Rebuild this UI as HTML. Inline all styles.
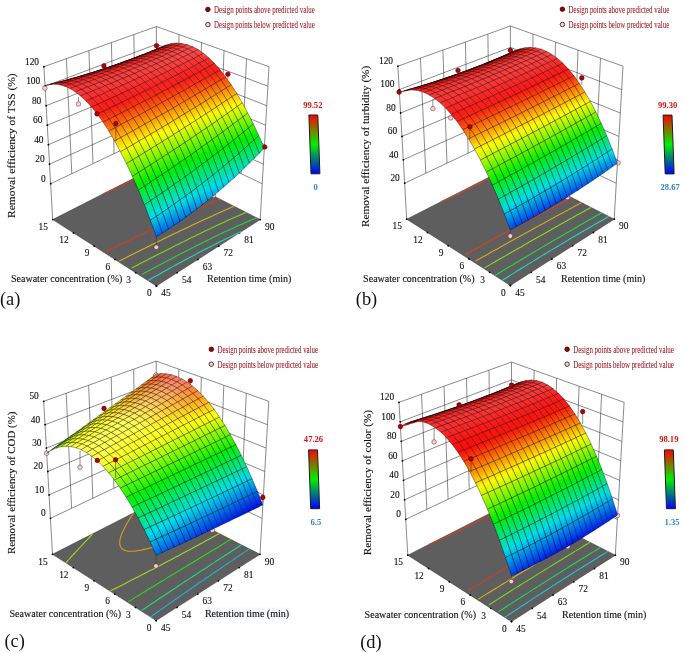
<!DOCTYPE html>
<html><head><meta charset="utf-8"><title>Response surfaces</title><style>html,body{margin:0;padding:0;background:#fff}svg{display:block}</style></head><body>
<svg width="685" height="652" viewBox="0 0 685 652" font-family="'Liberation Serif','Times New Roman',serif" fill="#111">
<defs><linearGradient id="T" gradientUnits="userSpaceOnUse"/><linearGradient id="cb" x1="0" y1="0" x2="0" y2="1"><stop offset="0" stop-color="#ff0000"/><stop offset="0.5" stop-color="#00f000"/><stop offset="1" stop-color="#0000ff"/></linearGradient>
<style>.m path{stroke:#000;stroke-opacity:.72;stroke-width:.5;stroke-linejoin:round}</style></defs>
<rect width="685" height="652" fill="#fff"/>
<g><path d="M52.7,219.6 L156.4,286 L260.2,219.6 L156.4,166.7 Z" fill="#5e5e5e" stroke="#333" stroke-width="0.5"/>
<path d="M50.7,183.7 L156.4,133.6 M156.4,133.6 L262.2,183.7 M49.5,164.2 L156.4,115.7 M156.4,115.7 L263.4,164.2 M48.4,144.7 L156.4,97.9 M156.4,97.9 L264.5,144.7 M47.3,125.2 L156.4,80 M156.4,80 L265.6,125.2 M46.2,105.7 L156.4,62.2 M156.4,62.2 L266.7,105.7 M45.1,86.2 L156.4,44.3 M156.4,44.3 L267.8,86.2 M43.9,66.7 L156.4,26.5 M156.4,26.5 L269,66.7 M71.8,173.7 L66.4,58.7 M241.1,173.7 L246.5,58.7 M93,163.6 L88.9,50.6 M219.9,163.6 L224,50.6 M114.1,153.6 L111.4,42.6 M198.8,153.6 L201.5,42.6 M135.3,143.6 L133.9,34.5 M177.6,143.6 L179,34.5 M52.7,219.6 L43.9,66.7 M156.4,166.7 L156.4,26.5 M260.2,219.6 L269,66.7" fill="none" stroke="#2a2a2a" stroke-width="0.55"/>
<circle cx="50.7" cy="183.7" r="0.9" fill="#000"/>
<circle cx="49.5" cy="164.2" r="0.9" fill="#000"/>
<circle cx="48.4" cy="144.7" r="0.9" fill="#000"/>
<circle cx="47.3" cy="125.2" r="0.9" fill="#000"/>
<circle cx="46.2" cy="105.7" r="0.9" fill="#000"/>
<circle cx="45.1" cy="86.2" r="0.9" fill="#000"/>
<circle cx="43.9" cy="66.7" r="0.9" fill="#000"/>
<circle cx="156.4" cy="286" r="0.9" fill="#000"/>
<circle cx="156.4" cy="286" r="0.9" fill="#000"/>
<circle cx="135.7" cy="272.7" r="0.9" fill="#000"/>
<circle cx="177.2" cy="272.7" r="0.9" fill="#000"/>
<circle cx="115" cy="259.4" r="0.9" fill="#000"/>
<circle cx="197.9" cy="259.4" r="0.9" fill="#000"/>
<circle cx="94.2" cy="246.2" r="0.9" fill="#000"/>
<circle cx="218.7" cy="246.2" r="0.9" fill="#000"/>
<circle cx="73.5" cy="232.9" r="0.9" fill="#000"/>
<circle cx="239.4" cy="232.9" r="0.9" fill="#000"/>
<circle cx="52.7" cy="219.6" r="0.9" fill="#000"/>
<circle cx="260.2" cy="219.6" r="0.9" fill="#000"/>
<path d="M241.5,231.6 L239.4,232.5 L236.5,233.8 L234.6,234.7 L231.8,236.1 L228.9,237.4 L227,238.3 L224.2,239.7 L221.3,241.1 L219.4,242.1 L216.6,243.5 L213.7,244.9 L211.8,245.9 L208.9,247.4 L206.1,248.8 L203.2,250.3 L201.3,251.3 L198.4,252.8 L195.5,254.4 L192.6,255.9 L190.7,256.9 L187.8,258.5 L184.8,260.1 L181.9,261.7 L179,263.3 L177,264.3 L174,265.9 L171.1,267.6 L168.1,269.2 L165.1,270.9 L163.1,272 L160.1,273.7 L157.1,275.4 L154,277.1 L151,278.8 L147.9,280.5" fill="none" stroke="#1cd8b8" stroke-width="1.1"/>
<path d="M256.7,217.9 L254.8,218.7 L251.9,219.8 L250,220.6 L247.1,221.8 L244.7,222.8 L242.3,223.9 L239.5,225.1 L237.6,226 L234.8,227.3 L232.8,228.2 L230.1,229.4 L227.2,230.8 L225.3,231.6 L222.5,233 L219.7,234.3 L217.8,235.3 L214.9,236.6 L212.1,238 L210.2,239 L207.3,240.4 L204.5,241.8 L201.7,243.2 L199.7,244.2 L196.8,245.6 L193.9,247.1 L192,248.1 L189.1,249.6 L186.2,251.1 L183.2,252.6 L181.3,253.6 L178.3,255.1 L175.4,256.6 L172.4,258.2 L170.1,259.4 L167.4,260.8 L164.4,262.4 L161.4,264 L158.4,265.6 L156.4,266.7 L153.3,268.3 L150.3,269.9 L147.2,271.6 L144.1,273.2 L142.1,274.3" fill="none" stroke="#1cd844" stroke-width="1.1"/>
<path d="M245.9,212.4 L244.1,213.2 L241.3,214.4 L239.5,215.2 L236.7,216.4 L234.2,217.5 L232,218.5 L229.3,219.8 L227.4,220.6 L224.6,221.9 L221.8,223.2 L220,224 L217.2,225.3 L214.4,226.7 L212.5,227.5 L209.7,228.9 L206.8,230.2 L204.9,231.1 L202.1,232.5 L199.3,233.9 L197.3,234.8 L194.5,236.2 L191.6,237.6 L188.7,239 L186.8,239.9 L183.9,241.4 L181,242.8 L178.8,243.9 L176.2,245.2 L173.2,246.7 L170.3,248.2 L168.3,249.2 L165.3,250.7 L162.4,252.2 L159.4,253.7 L157.4,254.7 L154.4,256.2 L151.3,257.8 L148.3,259.4 L145.3,260.9 L143.2,262 L140.1,263.6 L137.1,265.2 L134,266.8 L131.9,267.9" fill="none" stroke="#79d81c" stroke-width="1.1"/>
<path d="M234,206.3 L232.1,207.1 L229.4,208.3 L227.6,209.1 L224.8,210.3 L222.1,211.5 L220.3,212.3 L217.5,213.6 L214.7,214.8 L212.9,215.7 L210.1,216.9 L207.3,218.2 L205.5,219 L202.7,220.3 L199.9,221.6 L198,222.5 L195.2,223.8 L192.4,225.1 L190.5,226 L187.6,227.4 L184.8,228.7 L182.9,229.6 L180,231 L177.1,232.4 L174.2,233.8 L172.3,234.7 L169.4,236.1 L166.5,237.5 L164.3,238.6 L161.6,239.9 L158.7,241.3 L155.7,242.8 L153.7,243.8 L150.7,245.2 L147.8,246.7 L144.8,248.2 L142.6,249.2 L139.7,250.7 L136.7,252.2 L133.7,253.7 L130.6,255.3 L128.6,256.3 L125.5,257.9 L122.4,259.4 L119.3,261" fill="none" stroke="#d4b31c" stroke-width="1.1"/>
<path d="M103.6,193.7 L105.8,192.7 L108.5,191.5 L111.2,190.3 L113.9,189.1 L116.6,187.8 L118.6,186.9 L121,185.8 L123.6,184.5 L126.1,183.3 L128.7,182 L131.2,180.8 L133.7,179.6 L136.2,178.3 L138.6,177.1 L141,175.8 L143.4,174.6 L145.8,173.4 L148.1,172.1 L150.4,170.9 L152.7,169.6 L155,168.4 L157.3,167.2" fill="none" stroke="#d43d1c" stroke-width="1.1"/>
<path d="M220.1,199.2 L217.4,200.4 L215.5,201.1 L212.8,202.3 L210.1,203.5 L208.2,204.3 L205.4,205.5 L203.6,206.3 L200.8,207.5 L198,208.7 L196.2,209.5 L193.4,210.7 L190.6,211.9 L188.7,212.8 L185.9,214 L183.1,215.3 L181.2,216.1 L178.3,217.4 L175.5,218.7 L173.6,219.6 L170.7,220.9 L167.9,222.2 L165.9,223.1 L163.1,224.4 L160.2,225.7 L157.9,226.8 L155.3,228 L152.4,229.3 L149.5,230.7 L147.5,231.6 L144.6,233 L141.6,234.4 L138.7,235.9 L136.7,236.8 L133.7,238.2 L130.7,239.7 L127.7,241.1 L125.7,242.1 L122.7,243.6 L119.7,245.1 L116.7,246.6 L113.6,248.1 L111.6,249.1 L108.5,250.7 L105.5,252.2" fill="none" stroke="#d43d1c" stroke-width="1.1"/>
<path d="M44.8,88.2 L44.8,85.9" stroke="#333" stroke-width="0.55"/>
<circle cx="44.8" cy="88.2" r="2.3" fill="#ffc9cf" stroke="#5a3030" stroke-width="0.5"/>
<path d="M78.5,104 L78.5,97" stroke="#333" stroke-width="0.55"/>
<circle cx="78.5" cy="104" r="2.3" fill="#ffc9cf" stroke="#5a3030" stroke-width="0.5"/>
<path d="M156.3,247.2 L156.3,236.7" stroke="#333" stroke-width="0.55"/>
<circle cx="156.3" cy="247.2" r="2.3" fill="#ffc9cf" stroke="#5a3030" stroke-width="0.5"/>

<circle cx="213.5" cy="195.5" r="2.3" fill="#ffc9cf" stroke="#5a3030" stroke-width="0.5"/>
<defs><linearGradient id="a1" href="#T" x1="135.9" y1="57.4" x2="136.2" y2="58.3"><stop stop-color="#fd0403"/><stop offset="1" stop-color="#fb3701"/></linearGradient><linearGradient id="a2" href="#T" x1="130.7" y1="59.4" x2="131" y2="60.2"><stop stop-color="#fd0403"/><stop offset="1" stop-color="#fb3601"/></linearGradient><linearGradient id="a3" href="#T" x1="125.4" y1="61.3" x2="125.7" y2="62.2"><stop stop-color="#fd0403"/><stop offset="1" stop-color="#fb3601"/></linearGradient><linearGradient id="a4" href="#T" x1="120" y1="63.2" x2="120.3" y2="64.1"><stop stop-color="#fd0303"/><stop offset="1" stop-color="#fb3401"/></linearGradient><linearGradient id="a5" href="#T" x1="114.6" y1="65.1" x2="114.9" y2="65.9"><stop stop-color="#fd0303"/><stop offset="1" stop-color="#fc3201"/></linearGradient><linearGradient id="a6" href="#T" x1="109.1" y1="67" x2="109.4" y2="67.8"><stop stop-color="#fd0303"/><stop offset="1" stop-color="#fc2f01"/></linearGradient><linearGradient id="a7" href="#T" x1="103.6" y1="68.8" x2="103.8" y2="69.6"><stop stop-color="#fd0303"/><stop offset="1" stop-color="#fc2c01"/></linearGradient><linearGradient id="a8" href="#T" x1="98" y1="70.7" x2="98.2" y2="71.4"><stop stop-color="#fe0304"/><stop offset="1" stop-color="#fc2801"/></linearGradient><linearGradient id="a9" href="#T" x1="92.3" y1="72.4" x2="92.5" y2="73.1"><stop stop-color="#fe0404"/><stop offset="1" stop-color="#fc2301"/></linearGradient><linearGradient id="a10" href="#T" x1="86.6" y1="74.2" x2="86.8" y2="74.8"><stop stop-color="#fe0404"/><stop offset="1" stop-color="#fc1e01"/></linearGradient><linearGradient id="a11" href="#T" x1="80.8" y1="75.9" x2="80.9" y2="76.5"><stop stop-color="#fe0404"/><stop offset="1" stop-color="#fc1901"/></linearGradient><linearGradient id="a12" href="#T" x1="74.9" y1="77.7" x2="75" y2="78.1"><stop stop-color="#ff0405"/><stop offset="1" stop-color="#fc1302"/></linearGradient><linearGradient id="a13" href="#T" x1="68.9" y1="79.3" x2="69" y2="79.7"><stop stop-color="#ff0405"/><stop offset="1" stop-color="#fc0c02"/></linearGradient><linearGradient id="a14" href="#T" x1="102.1" y1="69.6" x2="102.5" y2="70.7"><stop stop-color="#ff0909"/><stop offset="1" stop-color="#ff1313"/></linearGradient><linearGradient id="a15" href="#T" x1="96.7" y1="72.7" x2="96.3" y2="71.5"><stop stop-color="#ff1414"/><stop offset="1" stop-color="#ff0909"/></linearGradient><linearGradient id="a16" href="#T" x1="90.4" y1="73.4" x2="90.8" y2="74.7"><stop stop-color="#ff0a0a"/><stop offset="1" stop-color="#ff1414"/></linearGradient><linearGradient id="a17" href="#T" x1="84.5" y1="75.3" x2="84.9" y2="76.7"><stop stop-color="#ff0a0a"/><stop offset="1" stop-color="#ff1515"/></linearGradient><linearGradient id="a18" href="#T" x1="78.5" y1="77.2" x2="78.9" y2="78.7"><stop stop-color="#ff0b0b"/><stop offset="1" stop-color="#ff1616"/></linearGradient><linearGradient id="a19" href="#T" x1="72.4" y1="79" x2="72.9" y2="80.6"><stop stop-color="#ff0c0c"/><stop offset="1" stop-color="#ff1717"/></linearGradient><linearGradient id="a20" href="#T" x1="66.7" y1="82.6" x2="66.2" y2="80.8"><stop stop-color="#ff1818"/><stop offset="1" stop-color="#ff0c0c"/></linearGradient><linearGradient id="a21" href="#T" x1="60" y1="82.6" x2="60.5" y2="84.5"><stop stop-color="#ff0d0d"/><stop offset="1" stop-color="#ff1919"/></linearGradient><linearGradient id="a22" href="#T" x1="171.4" y1="43.7" x2="172.1" y2="45.2"><stop stop-color="#ff0e0e"/><stop offset="1" stop-color="#ff1b1b"/></linearGradient><linearGradient id="a23" href="#T" x1="167" y1="47.4" x2="166.4" y2="45.9"><stop stop-color="#ff1b1b"/><stop offset="1" stop-color="#ff0e0e"/></linearGradient><linearGradient id="a24" href="#T" x1="161.3" y1="48.1" x2="161.9" y2="49.6"><stop stop-color="#ff0e0e"/><stop offset="1" stop-color="#ff1c1c"/></linearGradient><linearGradient id="a25" href="#T" x1="156.8" y1="51.8" x2="156.1" y2="50.2"><stop stop-color="#ff1c1c"/><stop offset="1" stop-color="#ff0e0e"/></linearGradient><linearGradient id="a26" href="#T" x1="151.6" y1="54" x2="150.9" y2="52.4"><stop stop-color="#ff1c1c"/><stop offset="1" stop-color="#ff0f0f"/></linearGradient><linearGradient id="a27" href="#T" x1="145.6" y1="54.5" x2="146.3" y2="56.2"><stop stop-color="#ff0f0f"/><stop offset="1" stop-color="#ff1d1d"/></linearGradient><linearGradient id="a28" href="#T" x1="141" y1="58.3" x2="140.3" y2="56.6"><stop stop-color="#ff1d1d"/><stop offset="1" stop-color="#ff0f0f"/></linearGradient><linearGradient id="a29" href="#T" x1="135.6" y1="60.5" x2="134.9" y2="58.7"><stop stop-color="#ff1e1e"/><stop offset="1" stop-color="#ff1010"/></linearGradient><linearGradient id="a30" href="#T" x1="129.5" y1="60.8" x2="130.1" y2="62.6"><stop stop-color="#ff1010"/><stop offset="1" stop-color="#ff1e1e"/></linearGradient><linearGradient id="a31" href="#T" x1="124" y1="62.9" x2="124.6" y2="64.8"><stop stop-color="#ff1111"/><stop offset="1" stop-color="#ff1f1f"/></linearGradient><linearGradient id="a32" href="#T" x1="118.4" y1="65" x2="119.1" y2="66.9"><stop stop-color="#ff1111"/><stop offset="1" stop-color="#ff2020"/></linearGradient><linearGradient id="a33" href="#T" x1="113.4" y1="69.1" x2="112.7" y2="67.1"><stop stop-color="#ff2020"/><stop offset="1" stop-color="#ff1212"/></linearGradient><linearGradient id="a34" href="#T" x1="107" y1="69.1" x2="107.7" y2="71.2"><stop stop-color="#ff1212"/><stop offset="1" stop-color="#ff2121"/></linearGradient><linearGradient id="a35" href="#T" x1="101.2" y1="71.2" x2="101.9" y2="73.3"><stop stop-color="#ff1313"/><stop offset="1" stop-color="#ff2222"/></linearGradient><linearGradient id="a36" href="#T" x1="96.1" y1="75.4" x2="95.3" y2="73.2"><stop stop-color="#ff2323"/><stop offset="1" stop-color="#ff1414"/></linearGradient><linearGradient id="a37" href="#T" x1="89.4" y1="75.2" x2="90.1" y2="77.5"><stop stop-color="#ff1515"/><stop offset="1" stop-color="#ff2323"/></linearGradient><linearGradient id="a38" href="#T" x1="83.4" y1="77.2" x2="84.1" y2="79.6"><stop stop-color="#ff1515"/><stop offset="1" stop-color="#ff2424"/></linearGradient><linearGradient id="a39" href="#T" x1="77.3" y1="79.2" x2="78.1" y2="81.7"><stop stop-color="#ff1616"/><stop offset="1" stop-color="#ff2525"/></linearGradient><linearGradient id="a40" href="#T" x1="71.9" y1="83.8" x2="71.1" y2="81.1"><stop stop-color="#ff2525"/><stop offset="1" stop-color="#ff1717"/></linearGradient><linearGradient id="a41" href="#T" x1="65.7" y1="85.9" x2="64.9" y2="83.1"><stop stop-color="#ff2626"/><stop offset="1" stop-color="#ff1818"/></linearGradient><linearGradient id="a42" href="#T" x1="177.5" y1="45.6" x2="176.5" y2="43.3"><stop stop-color="#ff2d2d"/><stop offset="1" stop-color="#ff1b1b"/></linearGradient><linearGradient id="a43" href="#T" x1="172.4" y1="47.8" x2="171.4" y2="45.5"><stop stop-color="#ff2d2d"/><stop offset="1" stop-color="#ff1b1b"/></linearGradient><linearGradient id="a44" href="#T" x1="167.3" y1="50.1" x2="166.3" y2="47.7"><stop stop-color="#ff2d2d"/><stop offset="1" stop-color="#ff1b1b"/></linearGradient><linearGradient id="a45" href="#T" x1="161.2" y1="49.9" x2="162.2" y2="52.3"><stop stop-color="#ff1c1c"/><stop offset="1" stop-color="#ff2e2e"/></linearGradient><linearGradient id="a46" href="#T" x1="156" y1="52.2" x2="157" y2="54.6"><stop stop-color="#ff1c1c"/><stop offset="1" stop-color="#ff2e2e"/></linearGradient><linearGradient id="a47" href="#T" x1="150.7" y1="54.4" x2="151.7" y2="56.8"><stop stop-color="#ff1c1c"/><stop offset="1" stop-color="#ff2e2e"/></linearGradient><linearGradient id="a48" href="#T" x1="146.4" y1="59.1" x2="145.3" y2="56.6"><stop stop-color="#ff2f2f"/><stop offset="1" stop-color="#ff1d1d"/></linearGradient><linearGradient id="a49" href="#T" x1="139.9" y1="58.7" x2="141" y2="61.3"><stop stop-color="#ff1d1d"/><stop offset="1" stop-color="#ff2f2f"/></linearGradient><linearGradient id="a50" href="#T" x1="135.5" y1="63.6" x2="134.5" y2="60.9"><stop stop-color="#ff2f2f"/><stop offset="1" stop-color="#ff1e1e"/></linearGradient><linearGradient id="a51" href="#T" x1="130" y1="65.8" x2="129" y2="63.1"><stop stop-color="#ff3030"/><stop offset="1" stop-color="#ff1e1e"/></linearGradient><linearGradient id="a52" href="#T" x1="123.4" y1="65.3" x2="124.4" y2="68.1"><stop stop-color="#ff1f1f"/><stop offset="1" stop-color="#ff3030"/></linearGradient><linearGradient id="a53" href="#T" x1="118.8" y1="70.3" x2="117.7" y2="67.4"><stop stop-color="#ff3030"/><stop offset="1" stop-color="#ff2020"/></linearGradient><linearGradient id="a54" href="#T" x1="112" y1="69.6" x2="113" y2="72.5"><stop stop-color="#ff2020"/><stop offset="1" stop-color="#ff3131"/></linearGradient><linearGradient id="a55" href="#T" x1="107.3" y1="74.8" x2="106.2" y2="71.7"><stop stop-color="#ff3131"/><stop offset="1" stop-color="#ff2121"/></linearGradient><linearGradient id="a56" href="#T" x1="100.3" y1="73.9" x2="101.4" y2="77"><stop stop-color="#ff2222"/><stop offset="1" stop-color="#ff3131"/></linearGradient><linearGradient id="a57" href="#T" x1="95.5" y1="79.2" x2="94.4" y2="76"><stop stop-color="#ff3131"/><stop offset="1" stop-color="#ff2323"/></linearGradient><linearGradient id="a58" href="#T" x1="89.5" y1="81.5" x2="88.3" y2="78.1"><stop stop-color="#ff3131"/><stop offset="1" stop-color="#ff2323"/></linearGradient><linearGradient id="a59" href="#T" x1="83.4" y1="83.7" x2="82.2" y2="80.3"><stop stop-color="#ff3131"/><stop offset="1" stop-color="#ff2424"/></linearGradient><linearGradient id="a60" href="#T" x1="77.3" y1="85.9" x2="76.1" y2="82.4"><stop stop-color="#ff3131"/><stop offset="1" stop-color="#ff2525"/></linearGradient><linearGradient id="a61" href="#T" x1="71" y1="88.1" x2="69.8" y2="84.5"><stop stop-color="#ff3131"/><stop offset="1" stop-color="#ff2525"/></linearGradient><linearGradient id="a62" href="#T" x1="183" y1="46.7" x2="181.6" y2="43.7"><stop stop-color="#ff3e3e"/><stop offset="1" stop-color="#ff2d2d"/></linearGradient><linearGradient id="a63" href="#T" x1="176.5" y1="46" x2="177.9" y2="49.1"><stop stop-color="#ff2d2d"/><stop offset="1" stop-color="#ff3e3e"/></linearGradient><linearGradient id="a64" href="#T" x1="171.4" y1="48.2" x2="172.8" y2="51.4"><stop stop-color="#ff2d2d"/><stop offset="1" stop-color="#ff3e3e"/></linearGradient><linearGradient id="a65" href="#T" x1="166.2" y1="50.5" x2="167.7" y2="53.7"><stop stop-color="#ff2d2d"/><stop offset="1" stop-color="#ff3e3e"/></linearGradient><linearGradient id="a66" href="#T" x1="161" y1="52.8" x2="162.4" y2="56.1"><stop stop-color="#ff2e2e"/><stop offset="1" stop-color="#ff3e3e"/></linearGradient><linearGradient id="a67" href="#T" x1="157.2" y1="58.4" x2="155.7" y2="55.1"><stop stop-color="#ff3e3e"/><stop offset="1" stop-color="#ff2e2e"/></linearGradient><linearGradient id="a68" href="#T" x1="151.8" y1="60.7" x2="150.4" y2="57.4"><stop stop-color="#ff3d3d"/><stop offset="1" stop-color="#ff2e2e"/></linearGradient><linearGradient id="a69" href="#T" x1="146.4" y1="63.1" x2="145" y2="59.6"><stop stop-color="#ff3d3d"/><stop offset="1" stop-color="#ff2e2e"/></linearGradient><linearGradient id="a70" href="#T" x1="139.5" y1="61.9" x2="141" y2="65.4"><stop stop-color="#ff2f2f"/><stop offset="1" stop-color="#ff3d3d"/></linearGradient><linearGradient id="a71" href="#T" x1="135.5" y1="67.7" x2="134" y2="64.2"><stop stop-color="#ff3d3d"/><stop offset="1" stop-color="#ff2f2f"/></linearGradient><linearGradient id="a72" href="#T" x1="128.4" y1="66.4" x2="129.9" y2="70.1"><stop stop-color="#ff3030"/><stop offset="1" stop-color="#ff3c3c"/></linearGradient><linearGradient id="a73" href="#T" x1="124.2" y1="72.4" x2="122.7" y2="68.7"><stop stop-color="#ff3c3c"/><stop offset="1" stop-color="#ff3030"/></linearGradient><linearGradient id="a74" href="#T" x1="118.5" y1="74.8" x2="117" y2="70.9"><stop stop-color="#ff3b3b"/><stop offset="1" stop-color="#ff3030"/></linearGradient><linearGradient id="a75" href="#T" x1="112.8" y1="77.1" x2="111.1" y2="73.1"><stop stop-color="#ff3b3b"/><stop offset="1" stop-color="#ff3030"/></linearGradient><linearGradient id="a76" href="#T" x1="186.6" y1="44.9" x2="188.6" y2="48.9"><stop stop-color="#ff3e3e"/><stop offset="1" stop-color="#ff4848"/></linearGradient><linearGradient id="a77" href="#T" x1="123.5" y1="84.9" x2="121.9" y2="78.7"><stop stop-color="#ff3232"/><stop offset="1" stop-color="#ff3c3c"/></linearGradient><linearGradient id="a78" href="#T" x1="117.7" y1="87.5" x2="116.1" y2="81.1"><stop stop-color="#ff3030"/><stop offset="1" stop-color="#ff3a3a"/></linearGradient><linearGradient id="a79" href="#T" x1="111.7" y1="90.2" x2="110.1" y2="83.6"><stop stop-color="#ff2e2e"/><stop offset="1" stop-color="#ff3939"/></linearGradient><linearGradient id="a80" href="#T" x1="105.7" y1="92.8" x2="104.1" y2="86.1"><stop stop-color="#ff2c2c"/><stop offset="1" stop-color="#ff3737"/></linearGradient><linearGradient id="a81" href="#T" x1="99.6" y1="95.4" x2="98" y2="88.6"><stop stop-color="#ff2a2a"/><stop offset="1" stop-color="#ff3535"/></linearGradient><linearGradient id="a82" href="#T" x1="93.5" y1="98.1" x2="91.9" y2="91.2"><stop stop-color="#ff2828"/><stop offset="1" stop-color="#ff3434"/></linearGradient><linearGradient id="a83" href="#T" x1="85.6" y1="93.7" x2="87.2" y2="100.8"><stop stop-color="#ff3232"/><stop offset="1" stop-color="#ff2626"/></linearGradient><linearGradient id="a84" href="#T" x1="197.4" y1="49.9" x2="199.5" y2="55.7"><stop stop-color="#ff4747"/><stop offset="1" stop-color="#ff3b3b"/></linearGradient><linearGradient id="a85" href="#T" x1="192.3" y1="52.4" x2="194.4" y2="58.3"><stop stop-color="#ff4646"/><stop offset="1" stop-color="#ff3939"/></linearGradient><linearGradient id="a86" href="#T" x1="189.3" y1="60.8" x2="187.2" y2="54.9"><stop stop-color="#ff3737"/><stop offset="1" stop-color="#ff4444"/></linearGradient><linearGradient id="a87" href="#T" x1="182.1" y1="57.4" x2="184.2" y2="63.4"><stop stop-color="#ff4343"/><stop offset="1" stop-color="#ff3636"/></linearGradient><linearGradient id="a88" href="#T" x1="179" y1="66" x2="176.9" y2="59.9"><stop stop-color="#ff3434"/><stop offset="1" stop-color="#ff4242"/></linearGradient><linearGradient id="a89" href="#T" x1="171.6" y1="62.5" x2="173.7" y2="68.7"><stop stop-color="#ff4040"/><stop offset="1" stop-color="#ff3232"/></linearGradient><linearGradient id="a90" href="#T" x1="168.4" y1="71.3" x2="166.3" y2="65"><stop stop-color="#ff3131"/><stop offset="1" stop-color="#ff3f3f"/></linearGradient><linearGradient id="a91" href="#T" x1="163" y1="73.9" x2="160.9" y2="67.5"><stop stop-color="#ff2f2f"/><stop offset="1" stop-color="#ff3d3d"/></linearGradient><linearGradient id="a92" href="#T" x1="155.4" y1="70.1" x2="157.5" y2="76.6"><stop stop-color="#ff3c3c"/><stop offset="1" stop-color="#ff2d2d"/></linearGradient><linearGradient id="a93" href="#T" x1="149.9" y1="72.6" x2="152" y2="79.3"><stop stop-color="#ff3a3a"/><stop offset="1" stop-color="#ff2c2c"/></linearGradient><linearGradient id="a94" href="#T" x1="146.4" y1="81.9" x2="144.3" y2="75.2"><stop stop-color="#ff2a2a"/><stop offset="1" stop-color="#ff3838"/></linearGradient><linearGradient id="a95" href="#T" x1="138.6" y1="77.8" x2="140.8" y2="84.6"><stop stop-color="#ff3737"/><stop offset="1" stop-color="#ff2828"/></linearGradient><linearGradient id="a96" href="#T" x1="132.9" y1="80.4" x2="135" y2="87.3"><stop stop-color="#ff3535"/><stop offset="1" stop-color="#ff2626"/></linearGradient><linearGradient id="a97" href="#T" x1="129.3" y1="90.1" x2="127.1" y2="82.9"><stop stop-color="#ff2525"/><stop offset="1" stop-color="#ff3333"/></linearGradient><linearGradient id="a98" href="#T" x1="121.3" y1="85.6" x2="123.4" y2="92.8"><stop stop-color="#ff3131"/><stop offset="1" stop-color="#ff2323"/></linearGradient><linearGradient id="a99" href="#T" x1="115.4" y1="88.2" x2="117.5" y2="95.6"><stop stop-color="#ff3030"/><stop offset="1" stop-color="#ff2222"/></linearGradient><linearGradient id="a100" href="#T" x1="111.5" y1="98.3" x2="109.4" y2="90.8"><stop stop-color="#ff2020"/><stop offset="1" stop-color="#ff2e2e"/></linearGradient><linearGradient id="a101" href="#T" x1="103.3" y1="93.4" x2="105.4" y2="101.1"><stop stop-color="#ff2c2c"/><stop offset="1" stop-color="#ff1e1e"/></linearGradient><linearGradient id="a102" href="#T" x1="99.2" y1="103.9" x2="97.1" y2="96.1"><stop stop-color="#ff1d1d"/><stop offset="1" stop-color="#ff2a2a"/></linearGradient><linearGradient id="a103" href="#T" x1="93" y1="106.7" x2="90.9" y2="98.7"><stop stop-color="#ff1b1b"/><stop offset="1" stop-color="#ff2828"/></linearGradient><linearGradient id="a104" href="#T" x1="205.1" y1="60.3" x2="202.7" y2="53.8"><stop stop-color="#ff2c2c"/><stop offset="1" stop-color="#ff3c3c"/></linearGradient><linearGradient id="a105" href="#T" x1="200.1" y1="63" x2="197.6" y2="56.4"><stop stop-color="#ff2a2a"/><stop offset="1" stop-color="#ff3b3b"/></linearGradient><linearGradient id="a106" href="#T" x1="195" y1="65.7" x2="192.5" y2="59"><stop stop-color="#ff2929"/><stop offset="1" stop-color="#ff3939"/></linearGradient><linearGradient id="a107" href="#T" x1="189.8" y1="68.4" x2="187.4" y2="61.5"><stop stop-color="#ff2727"/><stop offset="1" stop-color="#ff3737"/></linearGradient><linearGradient id="a108" href="#T" x1="184.6" y1="71.1" x2="182.1" y2="64.2"><stop stop-color="#ff2626"/><stop offset="1" stop-color="#ff3636"/></linearGradient><linearGradient id="a109" href="#T" x1="176.9" y1="66.8" x2="179.4" y2="73.8"><stop stop-color="#ff3434"/><stop offset="1" stop-color="#ff2424"/></linearGradient><linearGradient id="a110" href="#T" x1="171.5" y1="69.4" x2="174.1" y2="76.5"><stop stop-color="#ff3232"/><stop offset="1" stop-color="#ff2323"/></linearGradient><linearGradient id="a111" href="#T" x1="166.2" y1="72" x2="168.7" y2="79.3"><stop stop-color="#ff3131"/><stop offset="1" stop-color="#ff2121"/></linearGradient><linearGradient id="a112" href="#T" x1="163.2" y1="82.1" x2="160.7" y2="74.7"><stop stop-color="#ff2020"/><stop offset="1" stop-color="#ff2f2f"/></linearGradient><linearGradient id="a113" href="#T" x1="157.7" y1="84.9" x2="155.2" y2="77.4"><stop stop-color="#ff1e1e"/><stop offset="1" stop-color="#ff2d2d"/></linearGradient><linearGradient id="a114" href="#T" x1="149.6" y1="80" x2="152.1" y2="87.7"><stop stop-color="#ff2c2c"/><stop offset="1" stop-color="#ff1d1d"/></linearGradient><linearGradient id="a115" href="#T" x1="144" y1="82.7" x2="146.5" y2="90.5"><stop stop-color="#ff2a2a"/><stop offset="1" stop-color="#ff1b1b"/></linearGradient><linearGradient id="a116" href="#T" x1="138.3" y1="85.4" x2="140.8" y2="93.3"><stop stop-color="#ff2828"/><stop offset="1" stop-color="#ff1a1a"/></linearGradient><linearGradient id="a117" href="#T" x1="135" y1="96.2" x2="132.5" y2="88.1"><stop stop-color="#ff1919"/><stop offset="1" stop-color="#ff2626"/></linearGradient><linearGradient id="a118" href="#T" x1="126.6" y1="90.9" x2="129.2" y2="99"><stop stop-color="#ff2525"/><stop offset="1" stop-color="#ff1818"/></linearGradient><linearGradient id="a119" href="#T" x1="123.3" y1="101.9" x2="120.7" y2="93.6"><stop stop-color="#ff1616"/><stop offset="1" stop-color="#ff2323"/></linearGradient><linearGradient id="a120" href="#T" x1="117.5" y1="104.6" x2="114.5" y2="96.6"><stop stop-color="#ff1715"/><stop offset="1" stop-color="#ff2121"/></linearGradient><linearGradient id="a121" href="#T" x1="108.5" y1="99.3" x2="111.4" y2="107.6"><stop stop-color="#ff1f20"/><stop offset="1" stop-color="#ff1914"/></linearGradient><linearGradient id="a122" href="#T" x1="102.5" y1="102" x2="105.1" y2="110.7"><stop stop-color="#ff1e1e"/><stop offset="1" stop-color="#ff1b13"/></linearGradient><linearGradient id="a123" href="#T" x1="96.3" y1="104.7" x2="98.8" y2="113.7"><stop stop-color="#ff1c1d"/><stop offset="1" stop-color="#ff1d12"/></linearGradient><linearGradient id="a124" href="#T" x1="210.8" y1="65.8" x2="208" y2="58.5"><stop stop-color="#ff1e1e"/><stop offset="1" stop-color="#ff2d2d"/></linearGradient><linearGradient id="a125" href="#T" x1="202.9" y1="61.1" x2="205.8" y2="68.6"><stop stop-color="#ff2c2c"/><stop offset="1" stop-color="#ff1d1d"/></linearGradient><linearGradient id="a126" href="#T" x1="200.7" y1="71.4" x2="197.9" y2="63.8"><stop stop-color="#ff1b1b"/><stop offset="1" stop-color="#ff2a2a"/></linearGradient><linearGradient id="a127" href="#T" x1="195.5" y1="74.2" x2="192.7" y2="66.5"><stop stop-color="#ff1a1a"/><stop offset="1" stop-color="#ff2929"/></linearGradient><linearGradient id="a128" href="#T" x1="190.3" y1="77" x2="187.5" y2="69.2"><stop stop-color="#ff1919"/><stop offset="1" stop-color="#ff2727"/></linearGradient><linearGradient id="a129" href="#T" x1="185.1" y1="79.9" x2="182.2" y2="72"><stop stop-color="#ff1818"/><stop offset="1" stop-color="#ff2626"/></linearGradient><linearGradient id="a130" href="#T" x1="179.9" y1="82.6" x2="176.8" y2="74.8"><stop stop-color="#ff1817"/><stop offset="1" stop-color="#ff2424"/></linearGradient><linearGradient id="a131" href="#T" x1="174.8" y1="85.2" x2="171.1" y2="77.8"><stop stop-color="#ff1a16"/><stop offset="1" stop-color="#ff2222"/></linearGradient><linearGradient id="a132" href="#T" x1="166" y1="80.3" x2="169.1" y2="88.4"><stop stop-color="#ff2021"/><stop offset="1" stop-color="#ff1f14"/></linearGradient><linearGradient id="a133" href="#T" x1="160.7" y1="82.9" x2="163.3" y2="91.5"><stop stop-color="#ff1f20"/><stop offset="1" stop-color="#ff2413"/></linearGradient><linearGradient id="a134" href="#T" x1="155.1" y1="85.7" x2="157.8" y2="94.4"><stop stop-color="#ff1d1e"/><stop offset="1" stop-color="#ff2812"/></linearGradient><linearGradient id="a135" href="#T" x1="149.3" y1="88.7" x2="152.4" y2="97.2"><stop stop-color="#ff1b1d"/><stop offset="1" stop-color="#ff2c12"/></linearGradient><linearGradient id="a136" href="#T" x1="143.5" y1="91.6" x2="146.8" y2="100.1"><stop stop-color="#ff1a1b"/><stop offset="1" stop-color="#ff3011"/></linearGradient><linearGradient id="a137" href="#T" x1="137.6" y1="94.5" x2="141.1" y2="103"><stop stop-color="#ff191a"/><stop offset="1" stop-color="#ff3410"/></linearGradient><linearGradient id="a138" href="#T" x1="131.7" y1="97.4" x2="135.3" y2="105.9"><stop stop-color="#ff1818"/><stop offset="1" stop-color="#ff380f"/></linearGradient><linearGradient id="a139" href="#T" x1="125.8" y1="100.4" x2="129.5" y2="108.9"><stop stop-color="#ff1717"/><stop offset="1" stop-color="#ff3b0e"/></linearGradient><linearGradient id="a140" href="#T" x1="119.9" y1="103.1" x2="123.4" y2="112.1"><stop stop-color="#ff1616"/><stop offset="1" stop-color="#ff3f0d"/></linearGradient><linearGradient id="a141" href="#T" x1="117.3" y1="115.1" x2="113.8" y2="106"><stop stop-color="#ff430d"/><stop offset="1" stop-color="#ff1815"/></linearGradient><linearGradient id="a142" href="#T" x1="111.2" y1="118.2" x2="107.7" y2="109"><stop stop-color="#ff460c"/><stop offset="1" stop-color="#ff1a14"/></linearGradient><linearGradient id="a143" href="#T" x1="105.1" y1="121.3" x2="101.4" y2="112"><stop stop-color="#ff490b"/><stop offset="1" stop-color="#ff1c13"/></linearGradient><linearGradient id="a144" href="#T" x1="217.1" y1="71.6" x2="212.6" y2="64.4"><stop stop-color="#ff1814"/><stop offset="1" stop-color="#ff1f1f"/></linearGradient><linearGradient id="a145" href="#T" x1="208.6" y1="66.6" x2="211.2" y2="75.2"><stop stop-color="#ff1d1e"/><stop offset="1" stop-color="#ff2012"/></linearGradient><linearGradient id="a146" href="#T" x1="203.6" y1="69.3" x2="206" y2="78.2"><stop stop-color="#ff1b1d"/><stop offset="1" stop-color="#ff2612"/></linearGradient><linearGradient id="a147" href="#T" x1="198.2" y1="72.3" x2="201.1" y2="81"><stop stop-color="#ff1a1b"/><stop offset="1" stop-color="#ff2d11"/></linearGradient><linearGradient id="a148" href="#T" x1="192.8" y1="75.2" x2="196.1" y2="83.8"><stop stop-color="#ff191a"/><stop offset="1" stop-color="#ff3310"/></linearGradient><linearGradient id="a149" href="#T" x1="187.5" y1="78.2" x2="191" y2="86.7"><stop stop-color="#ff1719"/><stop offset="1" stop-color="#ff390f"/></linearGradient><linearGradient id="a150" href="#T" x1="182.2" y1="81" x2="185.7" y2="89.7"><stop stop-color="#ff1718"/><stop offset="1" stop-color="#ff3f0e"/></linearGradient><linearGradient id="a151" href="#T" x1="177" y1="83.7" x2="180.1" y2="92.9"><stop stop-color="#ff1817"/><stop offset="1" stop-color="#ff450d"/></linearGradient><linearGradient id="a152" href="#T" x1="171.5" y1="86.6" x2="174.7" y2="95.9"><stop stop-color="#ff1d16"/><stop offset="1" stop-color="#ff4b0d"/></linearGradient><linearGradient id="a153" href="#T" x1="166" y1="89.5" x2="169.3" y2="98.9"><stop stop-color="#ff2114"/><stop offset="1" stop-color="#ff500c"/></linearGradient><linearGradient id="a154" href="#T" x1="160.4" y1="92.5" x2="163.7" y2="101.9"><stop stop-color="#ff2513"/><stop offset="1" stop-color="#ff550b"/></linearGradient><linearGradient id="a155" href="#T" x1="154.8" y1="95.4" x2="158.2" y2="105"><stop stop-color="#ff2912"/><stop offset="1" stop-color="#ff5a0b"/></linearGradient><linearGradient id="a156" href="#T" x1="149" y1="98.4" x2="152.5" y2="108"><stop stop-color="#ff2d11"/><stop offset="1" stop-color="#ff5f0a"/></linearGradient><linearGradient id="a157" href="#T" x1="143.2" y1="101.4" x2="146.8" y2="111.1"><stop stop-color="#ff3110"/><stop offset="1" stop-color="#ff6409"/></linearGradient><linearGradient id="a158" href="#T" x1="137.4" y1="104.4" x2="141" y2="114.2"><stop stop-color="#ff3510"/><stop offset="1" stop-color="#ff6909"/></linearGradient><linearGradient id="a159" href="#T" x1="131.4" y1="107.5" x2="135.2" y2="117.4"><stop stop-color="#ff390f"/><stop offset="1" stop-color="#ff6e08"/></linearGradient><linearGradient id="a160" href="#T" x1="125.4" y1="110.5" x2="129.2" y2="120.5"><stop stop-color="#ff3c0e"/><stop offset="1" stop-color="#ff7208"/></linearGradient><linearGradient id="a161" href="#T" x1="119.4" y1="113.6" x2="123.2" y2="123.7"><stop stop-color="#ff3f0d"/><stop offset="1" stop-color="#ff7607"/></linearGradient><linearGradient id="a162" href="#T" x1="113.2" y1="116.7" x2="117.2" y2="126.9"><stop stop-color="#ff430c"/><stop offset="1" stop-color="#ff7b07"/></linearGradient><linearGradient id="a163" href="#T" x1="111" y1="130.1" x2="107" y2="119.9"><stop stop-color="#ff7f07"/><stop offset="1" stop-color="#ff460c"/></linearGradient><linearGradient id="a164" href="#T" x1="221.9" y1="79.5" x2="219" y2="70.1"><stop stop-color="#ff480c"/><stop offset="1" stop-color="#ff1515"/></linearGradient><linearGradient id="a165" href="#T" x1="216.9" y1="82.5" x2="213.9" y2="73.1"><stop stop-color="#ff4f0c"/><stop offset="1" stop-color="#ff1c14"/></linearGradient><linearGradient id="a166" href="#T" x1="208.8" y1="76" x2="211.9" y2="85.5"><stop stop-color="#ff2213"/><stop offset="1" stop-color="#ff570b"/></linearGradient><linearGradient id="a167" href="#T" x1="203.6" y1="78.9" x2="206.8" y2="88.6"><stop stop-color="#ff2812"/><stop offset="1" stop-color="#ff5e0a"/></linearGradient><linearGradient id="a168" href="#T" x1="198.4" y1="81.9" x2="201.7" y2="91.7"><stop stop-color="#ff2e11"/><stop offset="1" stop-color="#ff650a"/></linearGradient><linearGradient id="a169" href="#T" x1="193.1" y1="84.9" x2="196.5" y2="94.7"><stop stop-color="#ff3410"/><stop offset="1" stop-color="#ff6c09"/></linearGradient><linearGradient id="a170" href="#T" x1="187.8" y1="87.9" x2="191.2" y2="97.8"><stop stop-color="#ff3a0f"/><stop offset="1" stop-color="#ff7308"/></linearGradient><linearGradient id="a171" href="#T" x1="182.4" y1="90.9" x2="185.9" y2="100.9"><stop stop-color="#ff400e"/><stop offset="1" stop-color="#ff7908"/></linearGradient><linearGradient id="a172" href="#T" x1="177" y1="93.9" x2="180.5" y2="104.1"><stop stop-color="#ff450d"/><stop offset="1" stop-color="#ff8007"/></linearGradient><linearGradient id="a173" href="#T" x1="171.4" y1="97" x2="175.1" y2="107.2"><stop stop-color="#ff4b0d"/><stop offset="1" stop-color="#ff8607"/></linearGradient><linearGradient id="a174" href="#T" x1="165.9" y1="100.1" x2="169.6" y2="110.4"><stop stop-color="#ff500c"/><stop offset="1" stop-color="#ff8c07"/></linearGradient><linearGradient id="a175" href="#T" x1="160.2" y1="103.2" x2="164" y2="113.6"><stop stop-color="#ff550b"/><stop offset="1" stop-color="#ff9306"/></linearGradient><linearGradient id="a176" href="#T" x1="154.5" y1="106.3" x2="158.4" y2="116.8"><stop stop-color="#ff5a0b"/><stop offset="1" stop-color="#ff9906"/></linearGradient><linearGradient id="a177" href="#T" x1="148.7" y1="109.4" x2="152.7" y2="120.1"><stop stop-color="#ff5f0a"/><stop offset="1" stop-color="#ff9e06"/></linearGradient><linearGradient id="a178" href="#T" x1="142.9" y1="112.6" x2="146.9" y2="123.3"><stop stop-color="#ff6409"/><stop offset="1" stop-color="#ffa405"/></linearGradient><linearGradient id="a179" href="#T" x1="137" y1="115.8" x2="141.1" y2="126.6"><stop stop-color="#ff6909"/><stop offset="1" stop-color="#ffaa05"/></linearGradient><linearGradient id="a180" href="#T" x1="131" y1="119" x2="135.2" y2="129.9"><stop stop-color="#ff6e08"/><stop offset="1" stop-color="#ffaf05"/></linearGradient><linearGradient id="a181" href="#T" x1="124.9" y1="122.2" x2="129.2" y2="133.2"><stop stop-color="#ff7208"/><stop offset="1" stop-color="#ffb504"/></linearGradient><linearGradient id="a182" href="#T" x1="118.8" y1="125.4" x2="123.2" y2="136.6"><stop stop-color="#ff7607"/><stop offset="1" stop-color="#ffba04"/></linearGradient><linearGradient id="a183" href="#T" x1="112.6" y1="128.7" x2="117" y2="140"><stop stop-color="#ff7b07"/><stop offset="1" stop-color="#ffbf04"/></linearGradient><linearGradient id="a184" href="#T" x1="224.3" y1="77.3" x2="227.6" y2="87.5"><stop stop-color="#ff410d"/><stop offset="1" stop-color="#ff7f08"/></linearGradient><linearGradient id="a185" href="#T" x1="219.3" y1="80.4" x2="222.7" y2="90.6"><stop stop-color="#ff480c"/><stop offset="1" stop-color="#ff8707"/></linearGradient><linearGradient id="a186" href="#T" x1="214.2" y1="83.4" x2="217.7" y2="93.8"><stop stop-color="#ff500c"/><stop offset="1" stop-color="#ff9007"/></linearGradient><linearGradient id="a187" href="#T" x1="209" y1="86.5" x2="212.6" y2="97"><stop stop-color="#ff570b"/><stop offset="1" stop-color="#ff9806"/></linearGradient><linearGradient id="a188" href="#T" x1="203.8" y1="89.6" x2="207.5" y2="100.2"><stop stop-color="#ff5e0a"/><stop offset="1" stop-color="#ffa006"/></linearGradient><linearGradient id="a189" href="#T" x1="198.5" y1="92.7" x2="202.3" y2="103.4"><stop stop-color="#ff650a"/><stop offset="1" stop-color="#ffa805"/></linearGradient><linearGradient id="a190" href="#T" x1="193.2" y1="95.9" x2="197.1" y2="106.7"><stop stop-color="#ff6c09"/><stop offset="1" stop-color="#ffb005"/></linearGradient><linearGradient id="a191" href="#T" x1="187.8" y1="99" x2="191.8" y2="109.9"><stop stop-color="#ff7308"/><stop offset="1" stop-color="#ffb805"/></linearGradient><linearGradient id="a192" href="#T" x1="182.4" y1="102.2" x2="186.4" y2="113.2"><stop stop-color="#ff7908"/><stop offset="1" stop-color="#ffbf04"/></linearGradient><linearGradient id="a193" href="#T" x1="176.9" y1="105.4" x2="181" y2="116.5"><stop stop-color="#ff8007"/><stop offset="1" stop-color="#ffc704"/></linearGradient><linearGradient id="a194" href="#T" x1="171.3" y1="108.6" x2="175.5" y2="119.8"><stop stop-color="#ff8607"/><stop offset="1" stop-color="#ffce04"/></linearGradient><linearGradient id="a195" href="#T" x1="165.7" y1="111.9" x2="170" y2="123.2"><stop stop-color="#ff8d07"/><stop offset="1" stop-color="#ffd504"/></linearGradient><linearGradient id="a196" href="#T" x1="160" y1="115.1" x2="164.4" y2="126.5"><stop stop-color="#ff9306"/><stop offset="1" stop-color="#ffdc03"/></linearGradient><linearGradient id="a197" href="#T" x1="154.2" y1="118.4" x2="158.7" y2="129.9"><stop stop-color="#ff9906"/><stop offset="1" stop-color="#ffe303"/></linearGradient><linearGradient id="a198" href="#T" x1="152.9" y1="133.3" x2="148.4" y2="121.7"><stop stop-color="#ffea03"/><stop offset="1" stop-color="#ff9f06"/></linearGradient><linearGradient id="a199" href="#T" x1="147.1" y1="136.8" x2="142.5" y2="125"><stop stop-color="#fff003"/><stop offset="1" stop-color="#ffa405"/></linearGradient><linearGradient id="a200" href="#T" x1="141.2" y1="140.2" x2="136.5" y2="128.4"><stop stop-color="#fff703"/><stop offset="1" stop-color="#ffaa05"/></linearGradient><linearGradient id="a201" href="#T" x1="135.3" y1="143.7" x2="130.5" y2="131.8"><stop stop-color="#fefd03"/><stop offset="1" stop-color="#ffaf05"/></linearGradient><linearGradient id="a202" href="#T" x1="129.6" y1="146.8" x2="124.1" y2="135.5"><stop stop-color="#fbfe02"/><stop offset="1" stop-color="#ffb604"/></linearGradient><linearGradient id="a203" href="#T" x1="123.4" y1="150.4" x2="117.9" y2="138.9"><stop stop-color="#f5fd02"/><stop offset=".14" stop-color="#fffd03"/><stop offset="1" stop-color="#ffbb04"/></linearGradient><linearGradient id="a204" href="#T" x1="229.7" y1="85.3" x2="233.4" y2="96.2"><stop stop-color="#ff7608"/><stop offset="1" stop-color="#ffbf05"/></linearGradient><linearGradient id="a205" href="#T" x1="224.6" y1="88.5" x2="228.4" y2="99.6"><stop stop-color="#ff7f08"/><stop offset="1" stop-color="#ffc904"/></linearGradient><linearGradient id="a206" href="#T" x1="219.5" y1="91.7" x2="223.5" y2="102.9"><stop stop-color="#ff8707"/><stop offset="1" stop-color="#ffd304"/></linearGradient><linearGradient id="a207" href="#T" x1="214.4" y1="94.9" x2="218.4" y2="106.2"><stop stop-color="#ff9007"/><stop offset="1" stop-color="#ffdc04"/></linearGradient><linearGradient id="a208" href="#T" x1="209.2" y1="98.2" x2="213.3" y2="109.6"><stop stop-color="#ff9806"/><stop offset="1" stop-color="#ffe503"/></linearGradient><linearGradient id="a209" href="#T" x1="203.9" y1="101.5" x2="208.1" y2="113"><stop stop-color="#ffa006"/><stop offset="1" stop-color="#ffef03"/></linearGradient><linearGradient id="a210" href="#T" x1="198.6" y1="104.7" x2="202.9" y2="116.4"><stop stop-color="#ffa805"/><stop offset="1" stop-color="#fff803"/></linearGradient><linearGradient id="a211" href="#T" x1="197.9" y1="119.6" x2="193.1" y2="108.2"><stop stop-color="#fdfe03"/><stop offset="1" stop-color="#ffb105"/></linearGradient><linearGradient id="a212" href="#T" x1="192.7" y1="122.8" x2="187.4" y2="111.8"><stop stop-color="#f6fe03"/><stop offset=".13" stop-color="#fffe04"/><stop offset="1" stop-color="#ffba05"/></linearGradient><linearGradient id="a213" href="#T" x1="187.2" y1="126.4" x2="182.1" y2="115"><stop stop-color="#edfe02"/><stop offset=".24" stop-color="#fffd03"/><stop offset="1" stop-color="#ffc104"/></linearGradient><linearGradient id="a214" href="#T" x1="181.6" y1="130.1" x2="176.7" y2="118.2"><stop stop-color="#e3fd02"/><stop offset=".35" stop-color="#fffd03"/><stop offset="1" stop-color="#ffc904"/></linearGradient><linearGradient id="a215" href="#T" x1="175.9" y1="133.7" x2="171.2" y2="121.5"><stop stop-color="#dafd02"/><stop offset=".44" stop-color="#fffd03"/><stop offset="1" stop-color="#ffd004"/></linearGradient><linearGradient id="a216" href="#T" x1="170.3" y1="137.2" x2="165.5" y2="124.9"><stop stop-color="#d2fc02"/><stop offset=".53" stop-color="#fffd03"/><stop offset="1" stop-color="#ffd704"/></linearGradient><linearGradient id="a217" href="#T" x1="164.7" y1="140.7" x2="159.7" y2="128.4"><stop stop-color="#c9fb02"/><stop offset=".62" stop-color="#fffd03"/><stop offset="1" stop-color="#ffdf03"/></linearGradient><linearGradient id="a218" href="#T" x1="159.1" y1="144.2" x2="153.8" y2="131.9"><stop stop-color="#c1fa02"/><stop offset=".70" stop-color="#fefc02"/><stop offset="1" stop-color="#ffe603"/></linearGradient><linearGradient id="a219" href="#T" x1="153.4" y1="147.6" x2="147.9" y2="135.5"><stop stop-color="#baf902"/><stop offset=".79" stop-color="#fefc02"/><stop offset="1" stop-color="#ffed03"/></linearGradient><linearGradient id="a220" href="#T" x1="147.6" y1="151.2" x2="141.9" y2="139.1"><stop stop-color="#b3f802"/><stop offset=".87" stop-color="#fefc02"/><stop offset="1" stop-color="#fff303"/></linearGradient><linearGradient id="a221" href="#T" x1="141.7" y1="154.7" x2="135.8" y2="142.6"><stop stop-color="#abf801"/><stop offset="1" stop-color="#fffa03"/></linearGradient><linearGradient id="a222" href="#T" x1="135.4" y1="158.8" x2="130" y2="145.8"><stop stop-color="#a3f701"/><stop offset="1" stop-color="#fefd03"/></linearGradient><linearGradient id="a223" href="#T" x1="129.3" y1="162.4" x2="123.9" y2="149.4"><stop stop-color="#9cf701"/><stop offset="1" stop-color="#f8fc02"/></linearGradient><linearGradient id="a224" href="#T" x1="239.7" y1="105.2" x2="234.4" y2="94.6"><stop stop-color="#f9ff03"/><stop offset=".11" stop-color="#fffe04"/><stop offset="1" stop-color="#ffb805"/></linearGradient><linearGradient id="a225" href="#T" x1="234.6" y1="109" x2="229.6" y2="97.7"><stop stop-color="#edff03"/><stop offset=".26" stop-color="#fffe04"/><stop offset="1" stop-color="#ffc205"/></linearGradient><linearGradient id="a226" href="#T" x1="229.3" y1="112.8" x2="224.8" y2="100.9"><stop stop-color="#e0fe03"/><stop offset=".39" stop-color="#fffd03"/><stop offset="1" stop-color="#ffcb04"/></linearGradient><linearGradient id="a227" href="#T" x1="224.2" y1="116.4" x2="219.8" y2="104.2"><stop stop-color="#d3fd02"/><stop offset=".51" stop-color="#fffd03"/><stop offset="1" stop-color="#ffd504"/></linearGradient><linearGradient id="a228" href="#T" x1="219.2" y1="119.8" x2="214.5" y2="107.7"><stop stop-color="#c8fb02"/><stop offset=".63" stop-color="#fffd03"/><stop offset="1" stop-color="#ffe004"/></linearGradient><linearGradient id="a229" href="#T" x1="214.2" y1="123.2" x2="209.1" y2="111.3"><stop stop-color="#bdfa02"/><stop offset=".74" stop-color="#fffd03"/><stop offset="1" stop-color="#ffe903"/></linearGradient><linearGradient id="a230" href="#T" x1="209.2" y1="126.6" x2="203.6" y2="114.9"><stop stop-color="#b2f902"/><stop offset=".85" stop-color="#fefc02"/><stop offset="1" stop-color="#fff303"/></linearGradient><linearGradient id="a231" href="#T" x1="203.8" y1="130.3" x2="198.4" y2="118.3"><stop stop-color="#a7f802"/><stop offset="1" stop-color="#fffa03"/></linearGradient><linearGradient id="a232" href="#T" x1="198.2" y1="134.2" x2="193.3" y2="121.5"><stop stop-color="#9cf701"/><stop offset="1" stop-color="#fbfd03"/></linearGradient><linearGradient id="a233" href="#T" x1="192.8" y1="137.8" x2="187.8" y2="125"><stop stop-color="#92f601"/><stop offset="1" stop-color="#f2fc03"/></linearGradient><linearGradient id="a234" href="#T" x1="187.4" y1="141.5" x2="182.3" y2="128.5"><stop stop-color="#88f601"/><stop offset="1" stop-color="#e9fb02"/></linearGradient><linearGradient id="a235" href="#T" x1="181.9" y1="145.1" x2="176.7" y2="132.1"><stop stop-color="#7ff501"/><stop offset="1" stop-color="#e0fb02"/></linearGradient><linearGradient id="a236" href="#T" x1="176.4" y1="148.8" x2="171" y2="135.6"><stop stop-color="#76f501"/><stop offset="1" stop-color="#d8fa02"/></linearGradient><linearGradient id="a237" href="#T" x1="170.7" y1="152.5" x2="165.3" y2="139.2"><stop stop-color="#6df401"/><stop offset="1" stop-color="#d0fa02"/></linearGradient><linearGradient id="a238" href="#T" x1="165" y1="156.2" x2="159.5" y2="142.8"><stop stop-color="#65f401"/><stop offset="1" stop-color="#c8f902"/></linearGradient><linearGradient id="a239" href="#T" x1="159.3" y1="159.9" x2="153.7" y2="146.5"><stop stop-color="#5cf301"/><stop offset="1" stop-color="#c0f902"/></linearGradient><linearGradient id="a240" href="#T" x1="153.4" y1="163.7" x2="147.7" y2="150.1"><stop stop-color="#54f301"/><stop offset="1" stop-color="#b8f802"/></linearGradient><linearGradient id="a241" href="#T" x1="147.5" y1="167.5" x2="141.7" y2="153.8"><stop stop-color="#4df201"/><stop offset="1" stop-color="#b1f802"/></linearGradient><linearGradient id="a242" href="#T" x1="141.5" y1="171.2" x2="135.7" y2="157.5"><stop stop-color="#45f201"/><stop offset="1" stop-color="#aaf701"/></linearGradient><linearGradient id="a243" href="#T" x1="135.5" y1="175.1" x2="129.5" y2="161.2"><stop stop-color="#3ef201"/><stop offset="1" stop-color="#a3f701"/></linearGradient><linearGradient id="a244" href="#T" x1="244.9" y1="116.2" x2="240.4" y2="103.6"><stop stop-color="#9ff802"/><stop offset="1" stop-color="#fffd03"/></linearGradient><linearGradient id="a245" href="#T" x1="239.9" y1="119.9" x2="235.4" y2="107.1"><stop stop-color="#91f702"/><stop offset="1" stop-color="#f4fc03"/></linearGradient><linearGradient id="a246" href="#T" x1="235" y1="123.7" x2="230.3" y2="110.7"><stop stop-color="#84f602"/><stop offset="1" stop-color="#e8fc03"/></linearGradient><linearGradient id="a247" href="#T" x1="230" y1="127.4" x2="225.2" y2="114.3"><stop stop-color="#77f501"/><stop offset="1" stop-color="#dcfb02"/></linearGradient><linearGradient id="a248" href="#T" x1="224.9" y1="131.1" x2="220" y2="117.9"><stop stop-color="#6bf401"/><stop offset="1" stop-color="#d1fa02"/></linearGradient><linearGradient id="a249" href="#T" x1="219.8" y1="134.9" x2="214.7" y2="121.6"><stop stop-color="#5ef401"/><stop offset="1" stop-color="#c5f902"/></linearGradient><linearGradient id="a250" href="#T" x1="214.7" y1="138.6" x2="209.4" y2="125.2"><stop stop-color="#52f301"/><stop offset="1" stop-color="#bbf902"/></linearGradient><linearGradient id="a251" href="#T" x1="209.4" y1="142.4" x2="204.1" y2="128.8"><stop stop-color="#47f201"/><stop offset="1" stop-color="#b0f802"/></linearGradient><linearGradient id="a252" href="#T" x1="204.2" y1="146.2" x2="198.7" y2="132.5"><stop stop-color="#3cf201"/><stop offset="1" stop-color="#a6f702"/></linearGradient><linearGradient id="a253" href="#T" x1="198.8" y1="150" x2="193.2" y2="136.2"><stop stop-color="#31f101"/><stop offset="1" stop-color="#9cf701"/></linearGradient><linearGradient id="a254" href="#T" x1="193.4" y1="153.8" x2="187.7" y2="139.9"><stop stop-color="#26f001"/><stop offset="1" stop-color="#92f601"/></linearGradient><linearGradient id="a255" href="#T" x1="187.9" y1="157.6" x2="182.1" y2="143.6"><stop stop-color="#1cf001"/><stop offset="1" stop-color="#88f601"/></linearGradient><linearGradient id="a256" href="#T" x1="182.4" y1="161.4" x2="176.5" y2="147.4"><stop stop-color="#13ef01"/><stop offset="1" stop-color="#7ff501"/></linearGradient><linearGradient id="a257" href="#T" x1="176.8" y1="165.3" x2="170.8" y2="151.1"><stop stop-color="#09ef01"/><stop offset="1" stop-color="#76f501"/></linearGradient><linearGradient id="a258" href="#T" x1="171.2" y1="169.1" x2="165" y2="154.9"><stop stop-color="#00ee01"/><stop offset="1" stop-color="#6df401"/></linearGradient><linearGradient id="a259" href="#T" x1="165.8" y1="172.4" x2="158.8" y2="159.2"><stop stop-color="#00ee05"/><stop offset="1" stop-color="#63f401"/></linearGradient><linearGradient id="a260" href="#T" x1="159.9" y1="176.5" x2="153" y2="162.9"><stop stop-color="#00ed0d"/><stop offset=".15" stop-color="#01ef01"/><stop offset="1" stop-color="#5bf301"/></linearGradient><linearGradient id="a261" href="#T" x1="154" y1="180.5" x2="147.1" y2="166.6"><stop stop-color="#00ed15"/><stop offset=".23" stop-color="#01ef01"/><stop offset="1" stop-color="#53f300"/></linearGradient><linearGradient id="a262" href="#T" x1="147.9" y1="184.5" x2="141.2" y2="170.3"><stop stop-color="#00ec1d"/><stop offset=".31" stop-color="#01ef01"/><stop offset="1" stop-color="#4bf200"/></linearGradient><linearGradient id="a263" href="#T" x1="141.8" y1="188.5" x2="135.1" y2="174.1"><stop stop-color="#00ec24"/><stop offset=".38" stop-color="#01ef01"/><stop offset="1" stop-color="#44f200"/></linearGradient><linearGradient id="a264" href="#T" x1="250.5" y1="127.4" x2="245.8" y2="113.8"><stop stop-color="#43f301"/><stop offset="1" stop-color="#adf802"/></linearGradient><linearGradient id="a265" href="#T" x1="245.7" y1="131.4" x2="240.7" y2="117.7"><stop stop-color="#33f101"/><stop offset="1" stop-color="#9ff702"/></linearGradient><linearGradient id="a266" href="#T" x1="240.7" y1="135.4" x2="235.6" y2="121.5"><stop stop-color="#23f101"/><stop offset="1" stop-color="#91f702"/></linearGradient><linearGradient id="a267" href="#T" x1="235.8" y1="139.4" x2="230.5" y2="125.3"><stop stop-color="#14f001"/><stop offset="1" stop-color="#84f601"/></linearGradient><linearGradient id="a268" href="#T" x1="230.8" y1="143.4" x2="225.3" y2="129.2"><stop stop-color="#06ef01"/><stop offset="1" stop-color="#77f501"/></linearGradient><linearGradient id="a269" href="#T" x1="226.2" y1="146.9" x2="219.6" y2="133.5"><stop stop-color="#00ee05"/><stop offset="1" stop-color="#68f401"/></linearGradient><linearGradient id="a270" href="#T" x1="221.1" y1="150.7" x2="214.2" y2="137.5"><stop stop-color="#00ed0f"/><stop offset=".18" stop-color="#01ef01"/><stop offset="1" stop-color="#5bf301"/></linearGradient><linearGradient id="a271" href="#T" x1="215.7" y1="155" x2="209.1" y2="141.1"><stop stop-color="#00ec1c"/><stop offset=".30" stop-color="#01ef01"/><stop offset="1" stop-color="#50f300"/></linearGradient><linearGradient id="a272" href="#T" x1="210.3" y1="159.2" x2="203.9" y2="144.7"><stop stop-color="#00eb28"/><stop offset=".40" stop-color="#01ef01"/><stop offset="1" stop-color="#45f200"/></linearGradient><linearGradient id="a273" href="#T" x1="204.8" y1="163.3" x2="198.6" y2="148.5"><stop stop-color="#00ea34"/><stop offset=".50" stop-color="#01ef01"/><stop offset="1" stop-color="#39f200"/></linearGradient><linearGradient id="a274" href="#T" x1="199.5" y1="167.2" x2="193.1" y2="152.4"><stop stop-color="#00e93f"/><stop offset=".60" stop-color="#01ef01"/><stop offset="1" stop-color="#2ef100"/></linearGradient><linearGradient id="a275" href="#T" x1="194.1" y1="171.1" x2="187.4" y2="156.4"><stop stop-color="#00e949"/><stop offset=".69" stop-color="#00ee00"/><stop offset="1" stop-color="#23f100"/></linearGradient><linearGradient id="a276" href="#T" x1="188.8" y1="174.9" x2="181.7" y2="160.5"><stop stop-color="#00e853"/><stop offset=".77" stop-color="#00ee00"/><stop offset="1" stop-color="#18f000"/></linearGradient><linearGradient id="a277" href="#T" x1="183.3" y1="178.7" x2="175.9" y2="164.5"><stop stop-color="#00e75c"/><stop offset=".86" stop-color="#00ee00"/><stop offset="1" stop-color="#0eef00"/></linearGradient><linearGradient id="a278" href="#T" x1="177.7" y1="182.6" x2="170.1" y2="168.6"><stop stop-color="#00e665"/><stop offset="1" stop-color="#05ef00"/></linearGradient><linearGradient id="a279" href="#T" x1="171.6" y1="187.1" x2="164.7" y2="171.9"><stop stop-color="#00e66f"/><stop offset="1" stop-color="#01ee01"/></linearGradient><linearGradient id="a280" href="#T" x1="165.8" y1="191.1" x2="158.9" y2="175.9"><stop stop-color="#00e577"/><stop offset="1" stop-color="#01ee09"/></linearGradient><linearGradient id="a281" href="#T" x1="160" y1="195.1" x2="152.9" y2="179.9"><stop stop-color="#00e47e"/><stop offset="1" stop-color="#00ed11"/></linearGradient><linearGradient id="a282" href="#T" x1="154" y1="199.1" x2="147" y2="183.8"><stop stop-color="#00e485"/><stop offset="1" stop-color="#00ed18"/></linearGradient><linearGradient id="a283" href="#T" x1="148" y1="203" x2="140.9" y2="187.8"><stop stop-color="#00e38c"/><stop offset="1" stop-color="#00ec1f"/></linearGradient><linearGradient id="a284" href="#T" x1="256.8" y1="138.8" x2="250.5" y2="125.4"><stop stop-color="#00ed19"/><stop offset=".29" stop-color="#01ef01"/><stop offset="1" stop-color="#50f300"/></linearGradient><linearGradient id="a285" href="#T" x1="251.5" y1="143.7" x2="245.9" y2="129.1"><stop stop-color="#00eb2d"/><stop offset=".45" stop-color="#01ef01"/><stop offset="1" stop-color="#3ff200"/></linearGradient><linearGradient id="a286" href="#T" x1="246.5" y1="148.1" x2="240.9" y2="133.1"><stop stop-color="#00e93f"/><stop offset=".59" stop-color="#01ef01"/><stop offset="1" stop-color="#2ef200"/></linearGradient><linearGradient id="a287" href="#T" x1="241.9" y1="152.2" x2="235.5" y2="137.5"><stop stop-color="#00e850"/><stop offset=".73" stop-color="#01ef01"/><stop offset="1" stop-color="#1df100"/></linearGradient><linearGradient id="a288" href="#T" x1="237.2" y1="156.1" x2="230" y2="142"><stop stop-color="#00e75f"/><stop offset=".86" stop-color="#01ef01"/><stop offset="1" stop-color="#0ef000"/></linearGradient><linearGradient id="a289" href="#T" x1="231.9" y1="160.7" x2="225" y2="145.8"><stop stop-color="#00e670"/><stop offset="1" stop-color="#03ef00"/></linearGradient><linearGradient id="a290" href="#T" x1="226.5" y1="165.3" x2="220" y2="149.6"><stop stop-color="#00e47f"/><stop offset="1" stop-color="#01ee08"/></linearGradient><linearGradient id="a291" href="#T" x1="221.4" y1="169.5" x2="214.7" y2="153.7"><stop stop-color="#00e38d"/><stop offset="1" stop-color="#00ed15"/></linearGradient><linearGradient id="a292" href="#T" x1="216.1" y1="173.7" x2="209.3" y2="157.8"><stop stop-color="#00e29a"/><stop offset="1" stop-color="#00ec20"/></linearGradient><linearGradient id="a293" href="#T" x1="210.9" y1="177.9" x2="203.9" y2="161.9"><stop stop-color="#00e1a6"/><stop offset="1" stop-color="#00eb2c"/></linearGradient><linearGradient id="a294" href="#T" x1="205.5" y1="182" x2="198.4" y2="166"><stop stop-color="#00e0b1"/><stop offset="1" stop-color="#00ea37"/></linearGradient><linearGradient id="a295" href="#T" x1="200.1" y1="186.2" x2="192.9" y2="170.1"><stop stop-color="#00dfbc"/><stop offset="1" stop-color="#00e941"/></linearGradient><linearGradient id="a296" href="#T" x1="194.6" y1="190.3" x2="187.3" y2="174.2"><stop stop-color="#00dfc6"/><stop offset="1" stop-color="#00e84b"/></linearGradient><linearGradient id="a297" href="#T" x1="189.1" y1="194.4" x2="181.7" y2="178.3"><stop stop-color="#00decf"/><stop offset="1" stop-color="#00e855"/></linearGradient><linearGradient id="a298" href="#T" x1="183.5" y1="198.4" x2="176" y2="182.4"><stop stop-color="#00ddd8"/><stop offset="1" stop-color="#00e75e"/></linearGradient><linearGradient id="a299" href="#T" x1="177.8" y1="202.4" x2="170.2" y2="186.4"><stop stop-color="#00dde0"/><stop offset="1" stop-color="#00e667"/></linearGradient><linearGradient id="a300" href="#T" x1="172.1" y1="206.4" x2="164.3" y2="190.6"><stop stop-color="#00dce7"/><stop offset="1" stop-color="#00e66f"/></linearGradient><linearGradient id="a301" href="#T" x1="166.5" y1="210" x2="158.2" y2="195"><stop stop-color="#00d8e8"/><stop offset="1" stop-color="#00e578"/></linearGradient><linearGradient id="a302" href="#T" x1="160.6" y1="214" x2="152.3" y2="198.9"><stop stop-color="#00d2e9"/><stop offset=".11" stop-color="#00dce6"/><stop offset="1" stop-color="#00e57f"/></linearGradient><linearGradient id="a303" href="#T" x1="154.5" y1="218.1" x2="146.4" y2="202.9"><stop stop-color="#00cde9"/><stop offset=".16" stop-color="#00dce6"/><stop offset="1" stop-color="#00e486"/></linearGradient><linearGradient id="a304" href="#T" x1="261.8" y1="152.3" x2="256.4" y2="136.5"><stop stop-color="#01e483"/><stop offset="1" stop-color="#01ee0e"/></linearGradient><linearGradient id="a305" href="#T" x1="257.1" y1="157.3" x2="251.3" y2="141.1"><stop stop-color="#00e29a"/><stop offset="1" stop-color="#01ec20"/></linearGradient><linearGradient id="a306" href="#T" x1="252.3" y1="162.1" x2="246.2" y2="145.7"><stop stop-color="#00e1b0"/><stop offset="1" stop-color="#01eb32"/></linearGradient><linearGradient id="a307" href="#T" x1="247.4" y1="166.9" x2="241" y2="150.2"><stop stop-color="#00dfc4"/><stop offset="1" stop-color="#00e942"/></linearGradient><linearGradient id="a308" href="#T" x1="242.5" y1="171.7" x2="235.7" y2="154.8"><stop stop-color="#00ddd8"/><stop offset="1" stop-color="#00e853"/></linearGradient><linearGradient id="a309" href="#T" x1="230.2" y1="159.5" x2="237.7" y2="176.1"><stop stop-color="#00e763"/><stop offset="1" stop-color="#00dae7"/></linearGradient><linearGradient id="a310" href="#T" x1="224.4" y1="164.7" x2="233.3" y2="179.9"><stop stop-color="#00e675"/><stop offset=".86" stop-color="#00dce6"/><stop offset="1" stop-color="#00d0eb"/></linearGradient><linearGradient id="a311" href="#T" x1="219.3" y1="168.7" x2="227.9" y2="184.9"><stop stop-color="#00e582"/><stop offset=".74" stop-color="#00dce6"/><stop offset="1" stop-color="#00c0ec"/></linearGradient><linearGradient id="a312" href="#T" x1="222.4" y1="189.7" x2="214.2" y2="172.8"><stop stop-color="#00b1ec"/><stop offset=".36" stop-color="#00dce6"/><stop offset="1" stop-color="#00e58f"/></linearGradient><linearGradient id="a313" href="#T" x1="217" y1="194.3" x2="209" y2="176.9"><stop stop-color="#00a4ec"/><stop offset=".46" stop-color="#00dce6"/><stop offset="1" stop-color="#00e49c"/></linearGradient><linearGradient id="a314" href="#T" x1="203.6" y1="181.2" x2="211.7" y2="198.6"><stop stop-color="#00e4a9"/><stop offset=".45" stop-color="#00dce6"/><stop offset="1" stop-color="#0098ec"/></linearGradient><linearGradient id="a315" href="#T" x1="206.4" y1="202.8" x2="198" y2="185.6"><stop stop-color="#008dec"/><stop offset=".63" stop-color="#00dce6"/><stop offset="1" stop-color="#00e3b4"/></linearGradient><linearGradient id="a316" href="#T" x1="201" y1="206.9" x2="192.4" y2="189.9"><stop stop-color="#0083ec"/><stop offset=".70" stop-color="#00dce6"/><stop offset="1" stop-color="#00e2bf"/></linearGradient><linearGradient id="a317" href="#T" x1="195.6" y1="210.9" x2="186.7" y2="194.3"><stop stop-color="#007beb"/><stop offset=".77" stop-color="#00dce6"/><stop offset="1" stop-color="#00e1ca"/></linearGradient><linearGradient id="a318" href="#T" x1="190.1" y1="214.8" x2="180.9" y2="198.6"><stop stop-color="#0074eb"/><stop offset=".84" stop-color="#00dce6"/><stop offset="1" stop-color="#00e0d3"/></linearGradient><linearGradient id="a319" href="#T" x1="175.2" y1="202.8" x2="184.5" y2="218.7"><stop stop-color="#00dfdc"/><stop offset=".09" stop-color="#00dce6"/><stop offset="1" stop-color="#006eeb"/></linearGradient><linearGradient id="a320" href="#T" x1="169.5" y1="206.9" x2="178.7" y2="222.7"><stop stop-color="#00dee3"/><stop offset="1" stop-color="#0069ec"/></linearGradient><linearGradient id="a321" href="#T" x1="172.6" y1="226.9" x2="164" y2="210.5"><stop stop-color="#0064ec"/><stop offset="1" stop-color="#00dbe6"/></linearGradient><linearGradient id="a322" href="#T" x1="166.7" y1="230.7" x2="158.1" y2="214.6"><stop stop-color="#0061ec"/><stop offset="1" stop-color="#00d5e6"/></linearGradient><linearGradient id="a323" href="#T" x1="160.7" y1="234.4" x2="152.1" y2="218.6"><stop stop-color="#005fec"/><stop offset="1" stop-color="#00cfe7"/></linearGradient></defs>
<g class="m"><path d="M135.9,57.4 131,60.2 136.2,58.3 141.1,55.4z" fill="url(#a1)"/><path d="M130.7,59.4 125.7,62.1 131,60.2 135.9,57.4z" fill="url(#a2)"/><path d="M125.3,61.3 120.4,64 125.7,62.1 130.7,59.4z" fill="url(#a3)"/><path d="M119.9,63.3 115,65.9 120.4,64 125.3,61.3z" fill="url(#a4)"/><path d="M114.5,65.2 109.6,67.7 115,65.9 119.9,63.3z" fill="url(#a5)"/><path d="M108.9,67.1 104.1,69.5 109.6,67.7 114.5,65.2z" fill="url(#a6)"/><path d="M103.3,68.9 98.5,71.3 104.1,69.5 108.9,67.1z" fill="url(#a7)"/><path d="M97.7,70.8 92.9,73 98.5,71.3 103.3,68.9z" fill="url(#a8)"/><path d="M92,72.6 87.1,74.7 92.9,73 97.7,70.8z" fill="url(#a9)"/><path d="M86.2,74.3 81.4,76.3 87.1,74.7 92,72.6z" fill="url(#a10)"/><path d="M80.3,76.1 75.5,78 81.4,76.3 86.2,74.3z" fill="url(#a11)"/><path d="M74.3,77.8 69.6,79.5 75.5,78 80.3,76.1z" fill="url(#a12)"/><path d="M68.3,79.5 63.5,81.1 69.6,79.5 74.3,77.8z" fill="url(#a13)"/><path d="M62.2,81.2 57.5,82.6 63.5,81.1 68.3,79.5z" fill="#fe0504"/><path d="M56,82.8 51.3,84.1 57.5,82.6 62.2,81.2z" fill="#fe0404"/><path d="M49.8,84.4 45,85.5 51.3,84.1 56,82.8z" fill="#fe0505"/><path d="M161.5,47.1 156.4,49.2 161.4,47.1 166.5,44.9z" fill="#fe0505"/><path d="M156.4,49.2 151.4,51.3 156.4,49.2 161.5,47.1z" fill="#fe0505"/><path d="M151.3,51.3 146.3,53.4 151.4,51.3 156.4,49.2z" fill="#fe0505"/><path d="M146.2,53.4 141.1,55.4 146.3,53.4 151.3,51.3z" fill="#fe0505"/><path d="M140.9,55.4 135.9,57.4 141.1,55.4 146.2,53.4z" fill="#fe0605"/><path d="M135.7,57.5 130.7,59.4 135.9,57.4 140.9,55.4z" fill="#fe0605"/><path d="M130.3,59.5 125.3,61.3 130.7,59.4 135.7,57.5z" fill="#fe0505"/><path d="M124.9,61.5 119.9,63.3 125.3,61.3 130.3,59.5z" fill="#fe0505"/><path d="M119.4,63.5 114.5,65.2 119.9,63.3 124.9,61.5z" fill="#fe0505"/><path d="M113.9,65.5 108.9,67.1 114.5,65.2 119.4,63.5z" fill="#fe0606"/><path d="M108.3,67.5 103.3,68.9 108.9,67.1 113.9,65.5z" fill="#fe0606"/><path d="M102.6,69.4 97.7,70.8 103.3,68.9 108.3,67.5z" fill="#fe0606"/><path d="M96.9,71.3 92,72.6 97.7,70.8 102.6,69.4z" fill="#fe0606"/><path d="M91.1,73.2 86.2,74.3 92,72.6 96.9,71.3z" fill="#ff0707"/><path d="M85.2,75.1 80.3,76.1 86.2,74.3 91.1,73.2z" fill="#ff0707"/><path d="M79.2,76.9 74.3,77.8 80.3,76.1 85.2,75.1z" fill="#ff0808"/><path d="M73.2,78.8 68.3,79.5 74.3,77.8 79.2,76.9z" fill="#ff0808"/><path d="M67.1,80.6 62.2,81.2 68.3,79.5 73.2,78.8z" fill="#ff0909"/><path d="M60.9,82.4 56,82.8 62.2,81.2 67.1,80.6z" fill="#ff0909"/><path d="M54.6,84.1 49.8,84.4 56,82.8 60.9,82.4z" fill="#ff0a0a"/><path d="M166.6,45.8 161.5,47.1 166.5,44.9 171.6,43.6z" fill="#ff0a0a"/><path d="M161.6,47.9 156.4,49.2 161.5,47.1 166.6,45.8z" fill="#ff0a0a"/><path d="M156.4,50.1 151.3,51.3 156.4,49.2 161.6,47.9z" fill="#ff0a0a"/><path d="M151.3,52.2 146.2,53.4 151.3,51.3 156.4,50.1z" fill="#ff0a0a"/><path d="M146,54.4 140.9,55.4 146.2,53.4 151.3,52.2z" fill="#ff0b0b"/><path d="M140.7,56.5 135.7,57.5 140.9,55.4 146,54.4z" fill="#ff0b0b"/><path d="M135.4,58.6 130.3,59.5 135.7,57.5 140.7,56.5z" fill="#ff0b0b"/><path d="M130,60.7 124.9,61.5 130.3,59.5 135.4,58.6z" fill="#ff0b0b"/><path d="M124.5,62.7 119.4,63.5 124.9,61.5 130,60.7z" fill="#ff0c0c"/><path d="M118.9,64.8 113.9,65.5 119.4,63.5 124.5,62.7z" fill="#ff0c0c"/><path d="M113.3,66.9 108.3,67.5 113.9,65.5 118.9,64.8z" fill="#ff0d0d"/><path d="M107.7,68.9 102.6,69.4 108.3,67.5 113.3,66.9z" fill="#ff0d0d"/><path d="M101.9,70.9 96.9,71.3 102.6,69.4 107.7,68.9z" fill="url(#a14)"/><path d="M96.1,72.9 91.1,73.2 96.9,71.3 101.9,70.9z" fill="url(#a15)"/><path d="M90.2,74.9 85.2,75.1 91.1,73.2 96.1,72.9z" fill="url(#a16)"/><path d="M84.2,76.9 79.2,76.9 85.2,75.1 90.2,74.9z" fill="url(#a17)"/><path d="M78.2,78.9 73.2,78.8 79.2,76.9 84.2,76.9z" fill="url(#a18)"/><path d="M72.1,80.9 67.1,80.6 73.2,78.8 78.2,78.9z" fill="url(#a19)"/><path d="M65.9,82.8 60.9,82.4 67.1,80.6 72.1,80.9z" fill="url(#a20)"/><path d="M59.6,84.7 54.6,84.1 60.9,82.4 65.9,82.8z" fill="url(#a21)"/><path d="M171.8,45.3 166.6,45.8 171.6,43.6 176.9,43.1z" fill="url(#a22)"/><path d="M166.8,47.5 161.6,47.9 166.6,45.8 171.8,45.3z" fill="url(#a23)"/><path d="M161.6,49.7 156.4,50.1 161.6,47.9 166.8,47.5z" fill="url(#a24)"/><path d="M156.4,51.9 151.3,52.2 156.4,50.1 161.6,49.7z" fill="url(#a25)"/><path d="M151.2,54.1 146,54.4 151.3,52.2 156.4,51.9z" fill="url(#a26)"/><path d="M145.9,56.3 140.7,56.5 146,54.4 151.2,54.1z" fill="url(#a27)"/><path d="M140.5,58.5 135.4,58.6 140.7,56.5 145.9,56.3z" fill="url(#a28)"/><path d="M135.1,60.7 130,60.7 135.4,58.6 140.5,58.5z" fill="url(#a29)"/><path d="M129.6,62.8 124.5,62.7 130,60.7 135.1,60.7z" fill="url(#a30)"/><path d="M124.1,65 118.9,64.8 124.5,62.7 129.6,62.8z" fill="url(#a31)"/><path d="M118.5,67.1 113.3,66.9 118.9,64.8 124.1,65z" fill="url(#a32)"/><path d="M112.8,69.3 107.7,68.9 113.3,66.9 118.5,67.1z" fill="url(#a33)"/><path d="M107,71.4 101.9,70.9 107.7,68.9 112.8,69.3z" fill="url(#a34)"/><path d="M101.2,73.6 96.1,72.9 101.9,70.9 107,71.4z" fill="url(#a35)"/><path d="M95.3,75.7 90.2,74.9 96.1,72.9 101.2,73.6z" fill="url(#a36)"/><path d="M89.3,77.8 84.2,76.9 90.2,74.9 95.3,75.7z" fill="url(#a37)"/><path d="M83.3,79.9 78.2,78.9 84.2,76.9 89.3,77.8z" fill="url(#a38)"/><path d="M77.2,82 72.1,80.9 78.2,78.9 83.3,79.9z" fill="url(#a39)"/><path d="M71,84.1 65.9,82.8 72.1,80.9 77.2,82z" fill="url(#a40)"/><path d="M64.7,86.2 59.6,84.7 65.9,82.8 71,84.1z" fill="url(#a41)"/><path d="M177.1,45.7 171.8,45.3 176.9,43.1 182.1,43.5z" fill="url(#a42)"/><path d="M172,48 166.8,47.5 171.8,45.3 177.1,45.7z" fill="url(#a43)"/><path d="M166.9,50.3 161.6,49.7 166.8,47.5 172,48z" fill="url(#a44)"/><path d="M161.7,52.5 156.4,51.9 161.6,49.7 166.9,50.3z" fill="url(#a45)"/><path d="M156.4,54.8 151.2,54.1 156.4,51.9 161.7,52.5z" fill="url(#a46)"/><path d="M151.1,57.1 145.9,56.3 151.2,54.1 156.4,54.8z" fill="url(#a47)"/><path d="M145.8,59.3 140.5,58.5 145.9,56.3 151.1,57.1z" fill="url(#a48)"/><path d="M140.3,61.6 135.1,60.7 140.5,58.5 145.8,59.3z" fill="url(#a49)"/><path d="M134.9,63.8 129.6,62.8 135.1,60.7 140.3,61.6z" fill="url(#a50)"/><path d="M129.3,66.1 124.1,65 129.6,62.8 134.9,63.8z" fill="url(#a51)"/><path d="M123.7,68.3 118.5,67.1 124.1,65 129.3,66.1z" fill="url(#a52)"/><path d="M118,70.6 112.8,69.3 118.5,67.1 123.7,68.3z" fill="url(#a53)"/><path d="M112.2,72.8 107,71.4 112.8,69.3 118,70.6z" fill="url(#a54)"/><path d="M106.4,75.1 101.2,73.6 107,71.4 112.2,72.8z" fill="url(#a55)"/><path d="M100.5,77.3 95.3,75.7 101.2,73.6 106.4,75.1z" fill="url(#a56)"/><path d="M94.5,79.6 89.3,77.8 95.3,75.7 100.5,77.3z" fill="url(#a57)"/><path d="M88.5,81.8 83.3,79.9 89.3,77.8 94.5,79.6z" fill="url(#a58)"/><path d="M82.3,84 77.2,82 83.3,79.9 88.5,81.8z" fill="url(#a59)"/><path d="M76.1,86.3 71,84.1 77.2,82 82.3,84z" fill="url(#a60)"/><path d="M69.9,88.5 64.7,86.2 71,84.1 76.1,86.3z" fill="url(#a61)"/><path d="M182.4,47 177.1,45.7 182.1,43.5 187.4,44.7z" fill="url(#a62)"/><path d="M177.3,49.3 172,48 177.1,45.7 182.4,47z" fill="url(#a63)"/><path d="M172.2,51.7 166.9,50.3 172,48 177.3,49.3z" fill="url(#a64)"/><path d="M167,54 161.7,52.5 166.9,50.3 172.2,51.7z" fill="url(#a65)"/><path d="M161.8,56.4 156.4,54.8 161.7,52.5 167,54z" fill="url(#a66)"/><path d="M156.4,58.7 151.1,57.1 156.4,54.8 161.8,56.4z" fill="url(#a67)"/><path d="M151.1,61 145.8,59.3 151.1,57.1 156.4,58.7z" fill="url(#a68)"/><path d="M145.7,63.4 140.3,61.6 145.8,59.3 151.1,61z" fill="url(#a69)"/><path d="M140.2,65.7 134.9,63.8 140.3,61.6 145.7,63.4z" fill="url(#a70)"/><path d="M134.6,68.1 129.3,66.1 134.9,63.8 140.2,65.7z" fill="url(#a71)"/><path d="M129,70.4 123.7,68.3 129.3,66.1 134.6,68.1z" fill="url(#a72)"/><path d="M123.3,72.8 118,70.6 123.7,68.3 129,70.4z" fill="url(#a73)"/><path d="M117.5,75.2 112.2,72.8 118,70.6 123.3,72.8z" fill="url(#a74)"/><path d="M111.7,77.5 106.4,75.1 112.2,72.8 117.5,75.2z" fill="url(#a75)"/><path d="M105.8,79.9 100.5,77.3 106.4,75.1 111.7,77.5z" fill="#ff3535"/><path d="M99.8,82.3 94.5,79.6 100.5,77.3 105.8,79.9z" fill="#ff3535"/><path d="M93.8,84.6 88.5,81.8 94.5,79.6 99.8,82.3z" fill="#ff3535"/><path d="M87.6,87 82.3,84 88.5,81.8 93.8,84.6z" fill="#ff3434"/><path d="M81.4,89.4 76.1,86.3 82.3,84 87.6,87z" fill="#ff3434"/><path d="M75.2,91.8 69.9,88.5 76.1,86.3 81.4,89.4z" fill="#ff3333"/><path d="M187.8,49.1 182.4,47 187.4,44.7 192.8,46.7z" fill="url(#a76)"/><path d="M182.7,51.5 177.3,49.3 182.4,47 187.8,49.1z" fill="#ff4343"/><path d="M177.6,54 172.2,51.7 177.3,49.3 182.7,51.5z" fill="#ff4242"/><path d="M172.4,56.4 167,54 172.2,51.7 177.6,54z" fill="#ff4242"/><path d="M167.1,58.8 161.8,56.4 167,54 172.4,56.4z" fill="#ff4141"/><path d="M161.8,61.2 156.4,58.7 161.8,56.4 167.1,58.8z" fill="#ff4141"/><path d="M156.4,63.7 151.1,61 156.4,58.7 161.8,61.2z" fill="#ff4040"/><path d="M151,66.1 145.7,63.4 151.1,61 156.4,63.7z" fill="#ff4040"/><path d="M145.5,68.6 140.2,65.7 145.7,63.4 151,66.1z" fill="#ff3f3f"/><path d="M140,71 134.6,68.1 140.2,65.7 145.5,68.6z" fill="#ff3e3e"/><path d="M134.3,73.5 129,70.4 134.6,68.1 140,71z" fill="#ff3e3e"/><path d="M128.7,75.9 123.3,72.8 129,70.4 134.3,73.5z" fill="#ff3d3d"/><path d="M122.9,78.4 117.5,75.2 123.3,72.8 128.7,75.9z" fill="#ff3c3c"/><path d="M117.1,80.9 111.7,77.5 117.5,75.2 122.9,78.4z" fill="#ff3b3b"/><path d="M111.2,83.4 105.8,79.9 111.7,77.5 117.1,80.9z" fill="#ff3a3a"/><path d="M105.2,85.9 99.8,82.3 105.8,79.9 111.2,83.4z" fill="#ff3939"/><path d="M99.2,88.4 93.8,84.6 99.8,82.3 105.2,85.9z" fill="#ff3737"/><path d="M93,90.9 87.6,87 93.8,84.6 99.2,88.4z" fill="#ff3636"/><path d="M86.8,93.4 81.4,89.4 87.6,87 93,90.9z" fill="#ff3434"/><path d="M80.5,95.9 75.2,91.8 81.4,89.4 86.8,93.4z" fill="#ff3333"/><path d="M193.2,52.1 187.8,49.1 192.8,46.7 198.2,49.6z" fill="#ff4747"/><path d="M188.1,54.6 182.7,51.5 187.8,49.1 193.2,52.1z" fill="#ff4646"/><path d="M183,57.1 177.6,54 182.7,51.5 188.1,54.6z" fill="#ff4545"/><path d="M177.8,59.6 172.4,56.4 177.6,54 183,57.1z" fill="#ff4444"/><path d="M172.5,62.1 167.1,58.8 172.4,56.4 177.8,59.6z" fill="#ff4343"/><path d="M167.2,64.7 161.8,61.2 167.1,58.8 172.5,62.1z" fill="#ff4242"/><path d="M161.9,67.2 156.4,63.7 161.8,61.2 167.2,64.7z" fill="#ff4141"/><path d="M156.4,69.7 151,66.1 156.4,63.7 161.9,67.2z" fill="#ff3f3f"/><path d="M151,72.3 145.5,68.6 151,66.1 156.4,69.7z" fill="#ff3e3e"/><path d="M145.4,74.8 140,71 145.5,68.6 151,72.3z" fill="#ff3d3d"/><path d="M139.8,77.4 134.3,73.5 140,71 145.4,74.8z" fill="#ff3b3b"/><path d="M134.1,80 128.7,75.9 134.3,73.5 139.8,77.4z" fill="#ff3a3a"/><path d="M128.3,82.6 122.9,78.4 128.7,75.9 134.1,80z" fill="#ff3838"/><path d="M122.5,85.2 117.1,80.9 122.9,78.4 128.3,82.6z" fill="url(#a77)"/><path d="M116.6,87.8 111.2,83.4 117.1,80.9 122.5,85.2z" fill="url(#a78)"/><path d="M110.7,90.4 105.2,85.9 111.2,83.4 116.6,87.8z" fill="url(#a79)"/><path d="M104.6,93.1 99.2,88.4 105.2,85.9 110.7,90.4z" fill="url(#a80)"/><path d="M98.5,95.7 93,90.9 99.2,88.4 104.6,93.1z" fill="url(#a81)"/><path d="M92.3,98.4 86.8,93.4 93,90.9 98.5,95.7z" fill="url(#a82)"/><path d="M86,101 80.5,95.9 86.8,93.4 92.3,98.4z" fill="url(#a83)"/><path d="M198.6,56 193.2,52.1 198.2,49.6 203.6,53.4z" fill="url(#a84)"/><path d="M193.6,58.6 188.1,54.6 193.2,52.1 198.6,56z" fill="url(#a85)"/><path d="M188.4,61.2 183,57.1 188.1,54.6 193.6,58.6z" fill="url(#a86)"/><path d="M183.3,63.8 177.8,59.6 183,57.1 188.4,61.2z" fill="url(#a87)"/><path d="M178,66.4 172.5,62.1 177.8,59.6 183.3,63.8z" fill="url(#a88)"/><path d="M172.7,69 167.2,64.7 172.5,62.1 178,66.4z" fill="url(#a89)"/><path d="M167.4,71.6 161.9,67.2 167.2,64.7 172.7,69z" fill="url(#a90)"/><path d="M161.9,74.3 156.4,69.7 161.9,67.2 167.4,71.6z" fill="url(#a91)"/><path d="M156.4,76.9 151,72.3 156.4,69.7 161.9,74.3z" fill="url(#a92)"/><path d="M150.9,79.6 145.4,74.8 151,72.3 156.4,76.9z" fill="url(#a93)"/><path d="M145.3,82.3 139.8,77.4 145.4,74.8 150.9,79.6z" fill="url(#a94)"/><path d="M139.6,85 134.1,80 139.8,77.4 145.3,82.3z" fill="url(#a95)"/><path d="M133.9,87.7 128.3,82.6 134.1,80 139.6,85z" fill="url(#a96)"/><path d="M128,90.4 122.5,85.2 128.3,82.6 133.9,87.7z" fill="url(#a97)"/><path d="M122.2,93.2 116.6,87.8 122.5,85.2 128,90.4z" fill="url(#a98)"/><path d="M116.2,95.9 110.7,90.4 116.6,87.8 122.2,93.2z" fill="url(#a99)"/><path d="M110.2,98.7 104.6,93.1 110.7,90.4 116.2,95.9z" fill="url(#a100)"/><path d="M104.1,101.5 98.5,95.7 104.6,93.1 110.2,98.7z" fill="url(#a101)"/><path d="M97.9,104.3 92.3,98.4 98.5,95.7 104.1,101.5z" fill="url(#a102)"/><path d="M91.6,107.1 86,101 92.3,98.4 97.9,104.3z" fill="url(#a103)"/><path d="M204.1,60.7 198.6,56 203.6,53.4 209.1,58z" fill="url(#a104)"/><path d="M199.1,63.4 193.6,58.6 198.6,56 204.1,60.7z" fill="url(#a105)"/><path d="M193.9,66.1 188.4,61.2 193.6,58.6 199.1,63.4z" fill="url(#a106)"/><path d="M188.8,68.8 183.3,63.8 188.4,61.2 193.9,66.1z" fill="url(#a107)"/><path d="M183.5,71.5 178,66.4 183.3,63.8 188.8,68.8z" fill="url(#a108)"/><path d="M178.2,74.2 172.7,69 178,66.4 183.5,71.5z" fill="url(#a109)"/><path d="M172.9,77 167.4,71.6 172.7,69 178.2,74.2z" fill="url(#a110)"/><path d="M167.5,79.7 161.9,74.3 167.4,71.6 172.9,77z" fill="url(#a111)"/><path d="M162,82.5 156.4,76.9 161.9,74.3 167.5,79.7z" fill="url(#a112)"/><path d="M156.4,85.3 150.9,79.6 156.4,76.9 162,82.5z" fill="url(#a113)"/><path d="M150.8,88.1 145.3,82.3 150.9,79.6 156.4,85.3z" fill="url(#a114)"/><path d="M145.2,90.9 139.6,85 145.3,82.3 150.8,88.1z" fill="url(#a115)"/><path d="M139.4,93.8 133.9,87.7 139.6,85 145.2,90.9z" fill="url(#a116)"/><path d="M133.6,96.6 128,90.4 133.9,87.7 139.4,93.8z" fill="url(#a117)"/><path d="M127.7,99.5 122.2,93.2 128,90.4 133.6,96.6z" fill="url(#a118)"/><path d="M121.8,102.4 116.2,95.9 122.2,93.2 127.7,99.5z" fill="url(#a119)"/><path d="M115.8,105.3 110.2,98.7 116.2,95.9 121.8,102.4z" fill="url(#a120)"/><path d="M109.7,108.2 104.1,101.5 110.2,98.7 115.8,105.3z" fill="url(#a121)"/><path d="M103.5,111.2 97.9,104.3 104.1,101.5 109.7,108.2z" fill="url(#a122)"/><path d="M97.3,114.1 91.6,107.1 97.9,104.3 103.5,111.2z" fill="url(#a123)"/><path d="M209.6,66.3 204.1,60.7 209.1,58 214.6,63.5z" fill="url(#a124)"/><path d="M204.6,69 199.1,63.4 204.1,60.7 209.6,66.3z" fill="url(#a125)"/><path d="M199.5,71.8 193.9,66.1 199.1,63.4 204.6,69z" fill="url(#a126)"/><path d="M194.3,74.7 188.8,68.8 193.9,66.1 199.5,71.8z" fill="url(#a127)"/><path d="M189.1,77.5 183.5,71.5 188.8,68.8 194.3,74.7z" fill="url(#a128)"/><path d="M183.8,80.3 178.2,74.2 183.5,71.5 189.1,77.5z" fill="url(#a129)"/><path d="M178.4,83.2 172.9,77 178.2,74.2 183.8,80.3z" fill="url(#a130)"/><path d="M173,86.1 167.5,79.7 172.9,77 178.4,83.2z" fill="url(#a131)"/><path d="M167.6,89 162,82.5 167.5,79.7 173,86.1z" fill="url(#a132)"/><path d="M162,91.9 156.4,85.3 162,82.5 167.6,89z" fill="url(#a133)"/><path d="M156.4,94.8 150.8,88.1 156.4,85.3 162,91.9z" fill="url(#a134)"/><path d="M150.8,97.8 145.2,90.9 150.8,88.1 156.4,94.8z" fill="url(#a135)"/><path d="M145.1,100.7 139.4,93.8 145.2,90.9 150.8,97.8z" fill="url(#a136)"/><path d="M139.3,103.7 133.6,96.6 139.4,93.8 145.1,100.7z" fill="url(#a137)"/><path d="M133.4,106.7 127.7,99.5 133.6,96.6 139.3,103.7z" fill="url(#a138)"/><path d="M127.5,109.8 121.8,102.4 127.7,99.5 133.4,106.7z" fill="url(#a139)"/><path d="M121.5,112.8 115.8,105.3 121.8,102.4 127.5,109.8z" fill="url(#a140)"/><path d="M115.4,115.9 109.7,108.2 115.8,105.3 121.5,112.8z" fill="url(#a141)"/><path d="M109.2,119 103.5,111.2 109.7,108.2 115.4,115.9z" fill="url(#a142)"/><path d="M103,122.1 97.3,114.1 103.5,111.2 109.2,119z" fill="url(#a143)"/><path d="M215.2,72.7 209.6,66.3 214.6,63.5 220.1,69.8z" fill="url(#a144)"/><path d="M210.1,75.6 204.6,69 209.6,66.3 215.2,72.7z" fill="url(#a145)"/><path d="M205,78.5 199.5,71.8 204.6,69 210.1,75.6z" fill="url(#a146)"/><path d="M199.9,81.4 194.3,74.7 199.5,71.8 205,78.5z" fill="url(#a147)"/><path d="M194.6,84.4 189.1,77.5 194.3,74.7 199.9,81.4z" fill="url(#a148)"/><path d="M189.4,87.3 183.8,80.3 189.1,77.5 194.6,84.4z" fill="url(#a149)"/><path d="M184,90.3 178.4,83.2 183.8,80.3 189.4,87.3z" fill="url(#a150)"/><path d="M178.6,93.3 173,86.1 178.4,83.2 184,90.3z" fill="url(#a151)"/><path d="M173.2,96.4 167.6,89 173,86.1 178.6,93.3z" fill="url(#a152)"/><path d="M167.7,99.4 162,91.9 167.6,89 173.2,96.4z" fill="url(#a153)"/><path d="M162.1,102.5 156.4,94.8 162,91.9 167.7,99.4z" fill="url(#a154)"/><path d="M156.4,105.6 150.8,97.8 156.4,94.8 162.1,102.5z" fill="url(#a155)"/><path d="M150.7,108.7 145.1,100.7 150.8,97.8 156.4,105.6z" fill="url(#a156)"/><path d="M145,111.8 139.3,103.7 145.1,100.7 150.7,108.7z" fill="url(#a157)"/><path d="M139.1,115 133.4,106.7 139.3,103.7 145,111.8z" fill="url(#a158)"/><path d="M133.2,118.1 127.5,109.8 133.4,106.7 139.1,115z" fill="url(#a159)"/><path d="M127.2,121.3 121.5,112.8 127.5,109.8 133.2,118.1z" fill="url(#a160)"/><path d="M121.1,124.5 115.4,115.9 121.5,112.8 127.2,121.3z" fill="url(#a161)"/><path d="M115,127.8 109.2,119 115.4,115.9 121.1,124.5z" fill="url(#a162)"/><path d="M108.8,131 103,122.1 109.2,119 115,127.8z" fill="url(#a163)"/><path d="M220.7,79.9 215.2,72.7 220.1,69.8 225.7,76.9z" fill="url(#a164)"/><path d="M215.7,82.9 210.1,75.6 215.2,72.7 220.7,79.9z" fill="url(#a165)"/><path d="M210.6,86 205,78.5 210.1,75.6 215.7,82.9z" fill="url(#a166)"/><path d="M205.4,89 199.9,81.4 205,78.5 210.6,86z" fill="url(#a167)"/><path d="M200.2,92.1 194.6,84.4 199.9,81.4 205.4,89z" fill="url(#a168)"/><path d="M195,95.2 189.4,87.3 194.6,84.4 200.2,92.1z" fill="url(#a169)"/><path d="M189.7,98.4 184,90.3 189.4,87.3 195,95.2z" fill="url(#a170)"/><path d="M184.3,101.5 178.6,93.3 184,90.3 189.7,98.4z" fill="url(#a171)"/><path d="M178.8,104.7 173.2,96.4 178.6,93.3 184.3,101.5z" fill="url(#a172)"/><path d="M173.3,107.9 167.7,99.4 173.2,96.4 178.8,104.7z" fill="url(#a173)"/><path d="M167.8,111.1 162.1,102.5 167.7,99.4 173.3,107.9z" fill="url(#a174)"/><path d="M162.1,114.3 156.4,105.6 162.1,102.5 167.8,111.1z" fill="url(#a175)"/><path d="M156.4,117.5 150.7,108.7 156.4,105.6 162.1,114.3z" fill="url(#a176)"/><path d="M150.7,120.8 145,111.8 150.7,108.7 156.4,117.5z" fill="url(#a177)"/><path d="M144.9,124.1 139.1,115 145,111.8 150.7,120.8z" fill="url(#a178)"/><path d="M139,127.4 133.2,118.1 139.1,115 144.9,124.1z" fill="url(#a179)"/><path d="M133,130.8 127.2,121.3 133.2,118.1 139,127.4z" fill="url(#a180)"/><path d="M126.9,134.1 121.1,124.5 127.2,121.3 133,130.8z" fill="url(#a181)"/><path d="M120.8,137.5 115,127.8 121.1,124.5 126.9,134.1z" fill="url(#a182)"/><path d="M114.6,140.9 108.8,131 115,127.8 120.8,137.5z" fill="url(#a183)"/><path d="M226.3,87.9 220.7,79.9 225.7,76.9 231.2,84.8z" fill="url(#a184)"/><path d="M221.2,91.1 215.7,82.9 220.7,79.9 226.3,87.9z" fill="url(#a185)"/><path d="M216.2,94.3 210.6,86 215.7,82.9 221.2,91.1z" fill="url(#a186)"/><path d="M211,97.5 205.4,89 210.6,86 216.2,94.3z" fill="url(#a187)"/><path d="M205.8,100.8 200.2,92.1 205.4,89 211,97.5z" fill="url(#a188)"/><path d="M200.6,104 195,95.2 200.2,92.1 205.8,100.8z" fill="url(#a189)"/><path d="M195.3,107.3 189.7,98.4 195,95.2 200.6,104z" fill="url(#a190)"/><path d="M189.9,110.6 184.3,101.5 189.7,98.4 195.3,107.3z" fill="url(#a191)"/><path d="M184.5,113.9 178.8,104.7 184.3,101.5 189.9,110.6z" fill="url(#a192)"/><path d="M179,117.2 173.3,107.9 178.8,104.7 184.5,113.9z" fill="url(#a193)"/><path d="M173.5,120.6 167.8,111.1 173.3,107.9 179,117.2z" fill="url(#a194)"/><path d="M167.9,124 162.1,114.3 167.8,111.1 173.5,120.6z" fill="url(#a195)"/><path d="M162.2,127.4 156.4,117.5 162.1,114.3 167.9,124z" fill="url(#a196)"/><path d="M156.4,130.8 150.7,120.8 156.4,117.5 162.2,127.4z" fill="url(#a197)"/><path d="M150.6,134.2 144.9,124.1 150.7,120.8 156.4,130.8z" fill="url(#a198)"/><path d="M144.8,137.7 139,127.4 144.9,124.1 150.6,134.2z" fill="url(#a199)"/><path d="M138.8,141.2 133,130.8 139,127.4 144.8,137.7z" fill="url(#a200)"/><path d="M132.8,144.7 126.9,134.1 133,130.8 138.8,141.2z" fill="url(#a201)"/><path d="M126.7,148.2 120.8,137.5 126.9,134.1 132.8,144.7z" fill="url(#a202)"/><path d="M120.5,151.8 114.6,140.9 120.8,137.5 126.7,148.2z" fill="url(#a203)"/><path d="M231.8,96.8 226.3,87.9 231.2,84.8 236.8,93.5z" fill="url(#a204)"/><path d="M226.8,100.1 221.2,91.1 226.3,87.9 231.8,96.8z" fill="url(#a205)"/><path d="M221.7,103.5 216.2,94.3 221.2,91.1 226.8,100.1z" fill="url(#a206)"/><path d="M216.6,106.9 211,97.5 216.2,94.3 221.7,103.5z" fill="url(#a207)"/><path d="M211.5,110.3 205.8,100.8 211,97.5 216.6,106.9z" fill="url(#a208)"/><path d="M206.2,113.7 200.6,104 205.8,100.8 211.5,110.3z" fill="url(#a209)"/><path d="M200.9,117.1 195.3,107.3 200.6,104 206.2,113.7z" fill="url(#a210)"/><path d="M195.6,120.6 189.9,110.6 195.3,107.3 200.9,117.1z" fill="url(#a211)"/><path d="M190.2,124 184.5,113.9 189.9,110.6 195.6,120.6z" fill="url(#a212)"/><path d="M184.7,127.5 179,117.2 184.5,113.9 190.2,124z" fill="url(#a213)"/><path d="M179.2,131 173.5,120.6 179,117.2 184.7,127.5z" fill="url(#a214)"/><path d="M173.6,134.6 167.9,124 173.5,120.6 179.2,131z" fill="url(#a215)"/><path d="M168,138.1 162.2,127.4 167.9,124 173.6,134.6z" fill="url(#a216)"/><path d="M162.2,141.7 156.4,130.8 162.2,127.4 168,138.1z" fill="url(#a217)"/><path d="M156.4,145.3 150.6,134.2 156.4,130.8 162.2,141.7z" fill="url(#a218)"/><path d="M150.6,148.9 144.8,137.7 150.6,134.2 156.4,145.3z" fill="url(#a219)"/><path d="M144.7,152.5 138.8,141.2 144.8,137.7 150.6,148.9z" fill="url(#a220)"/><path d="M138.7,156.2 132.8,144.7 138.8,141.2 144.7,152.5z" fill="url(#a221)"/><path d="M132.6,159.9 126.7,148.2 132.8,144.7 138.7,156.2z" fill="url(#a222)"/><path d="M126.4,163.6 120.5,151.8 126.7,148.2 132.6,159.9z" fill="url(#a223)"/><path d="M237.4,106.4 231.8,96.8 236.8,93.5 242.3,102.9z" fill="url(#a224)"/><path d="M232.4,110 226.8,100.1 231.8,96.8 237.4,106.4z" fill="url(#a225)"/><path d="M227.3,113.5 221.7,103.5 226.8,100.1 232.4,110z" fill="url(#a226)"/><path d="M222.2,117.1 216.6,106.9 221.7,103.5 227.3,113.5z" fill="url(#a227)"/><path d="M217.1,120.7 211.5,110.3 216.6,106.9 222.2,117.1z" fill="url(#a228)"/><path d="M211.9,124.3 206.2,113.7 211.5,110.3 217.1,120.7z" fill="url(#a229)"/><path d="M206.6,127.9 200.9,117.1 206.2,113.7 211.9,124.3z" fill="url(#a230)"/><path d="M201.3,131.5 195.6,120.6 200.9,117.1 206.6,127.9z" fill="url(#a231)"/><path d="M195.9,135.1 190.2,124 195.6,120.6 201.3,131.5z" fill="url(#a232)"/><path d="M190.4,138.8 184.7,127.5 190.2,124 195.9,135.1z" fill="url(#a233)"/><path d="M184.9,142.5 179.2,131 184.7,127.5 190.4,138.8z" fill="url(#a234)"/><path d="M179.4,146.2 173.6,134.6 179.2,131 184.9,142.5z" fill="url(#a235)"/><path d="M173.7,149.9 168,138.1 173.6,134.6 179.4,146.2z" fill="url(#a236)"/><path d="M168,153.6 162.2,141.7 168,138.1 173.7,149.9z" fill="url(#a237)"/><path d="M162.3,157.3 156.4,145.3 162.2,141.7 168,153.6z" fill="url(#a238)"/><path d="M156.4,161.1 150.6,148.9 156.4,145.3 162.3,157.3z" fill="url(#a239)"/><path d="M150.5,164.9 144.7,152.5 150.6,148.9 156.4,161.1z" fill="url(#a240)"/><path d="M144.6,168.7 138.7,156.2 144.7,152.5 150.5,164.9z" fill="url(#a241)"/><path d="M138.5,172.5 132.6,159.9 138.7,156.2 144.6,168.7z" fill="url(#a242)"/><path d="M132.4,176.4 126.4,163.6 132.6,159.9 138.5,172.5z" fill="url(#a243)"/><path d="M242.9,116.9 237.4,106.4 242.3,102.9 247.8,113.1z" fill="url(#a244)"/><path d="M237.9,120.6 232.4,110 237.4,106.4 242.9,116.9z" fill="url(#a245)"/><path d="M232.9,124.4 227.3,113.5 232.4,110 237.9,120.6z" fill="url(#a246)"/><path d="M227.8,128.2 222.2,117.1 227.3,113.5 232.9,124.4z" fill="url(#a247)"/><path d="M222.7,132 217.1,120.7 222.2,117.1 227.8,128.2z" fill="url(#a248)"/><path d="M217.5,135.8 211.9,124.3 217.1,120.7 222.7,132z" fill="url(#a249)"/><path d="M212.2,139.6 206.6,127.9 211.9,124.3 217.5,135.8z" fill="url(#a250)"/><path d="M206.9,143.4 201.3,131.5 206.6,127.9 212.2,139.6z" fill="url(#a251)"/><path d="M201.6,147.2 195.9,135.1 201.3,131.5 206.9,143.4z" fill="url(#a252)"/><path d="M196.2,151.1 190.4,138.8 195.9,135.1 201.6,147.2z" fill="url(#a253)"/><path d="M190.7,154.9 184.9,142.5 190.4,138.8 196.2,151.1z" fill="url(#a254)"/><path d="M185.1,158.8 179.4,146.2 184.9,142.5 190.7,154.9z" fill="url(#a255)"/><path d="M179.5,162.7 173.7,149.9 179.4,146.2 185.1,158.8z" fill="url(#a256)"/><path d="M173.9,166.5 168,153.6 173.7,149.9 179.5,162.7z" fill="url(#a257)"/><path d="M168.1,170.4 162.3,157.3 168,153.6 173.9,166.5z" fill="url(#a258)"/><path d="M162.3,174.3 156.4,161.1 162.3,157.3 168.1,170.4z" fill="url(#a259)"/><path d="M156.4,178.3 150.5,164.9 156.4,161.1 162.3,174.3z" fill="url(#a260)"/><path d="M150.5,182.2 144.6,168.7 150.5,164.9 156.4,178.3z" fill="url(#a261)"/><path d="M144.5,186.1 138.5,172.5 144.6,168.7 150.5,182.2z" fill="url(#a262)"/><path d="M138.4,190.1 132.4,176.4 138.5,172.5 144.5,186.1z" fill="url(#a263)"/><path d="M248.4,128.1 242.9,116.9 247.8,113.1 253.3,124.1z" fill="url(#a264)"/><path d="M243.4,132.2 237.9,120.6 242.9,116.9 248.4,128.1z" fill="url(#a265)"/><path d="M238.4,136.2 232.9,124.4 237.9,120.6 243.4,132.2z" fill="url(#a266)"/><path d="M233.4,140.3 227.8,128.2 232.9,124.4 238.4,136.2z" fill="url(#a267)"/><path d="M228.2,144.3 222.7,132 227.8,128.2 233.4,140.3z" fill="url(#a268)"/><path d="M223.1,148.4 217.5,135.8 222.7,132 228.2,144.3z" fill="url(#a269)"/><path d="M217.9,152.4 212.2,139.6 217.5,135.8 223.1,148.4z" fill="url(#a270)"/><path d="M212.6,156.4 206.9,143.4 212.2,139.6 217.9,152.4z" fill="url(#a271)"/><path d="M207.2,160.5 201.6,147.2 206.9,143.4 212.6,156.4z" fill="url(#a272)"/><path d="M201.8,164.5 196.2,151.1 201.6,147.2 207.2,160.5z" fill="url(#a273)"/><path d="M196.4,168.5 190.7,154.9 196.2,151.1 201.8,164.5z" fill="url(#a274)"/><path d="M190.9,172.6 185.1,158.8 190.7,154.9 196.4,168.5z" fill="url(#a275)"/><path d="M185.3,176.6 179.5,162.7 185.1,158.8 190.9,172.6z" fill="url(#a276)"/><path d="M179.7,180.6 173.9,166.5 179.5,162.7 185.3,176.6z" fill="url(#a277)"/><path d="M174,184.6 168.1,170.4 173.9,166.5 179.7,180.6z" fill="url(#a278)"/><path d="M168.2,188.6 162.3,174.3 168.1,170.4 174,184.6z" fill="url(#a279)"/><path d="M162.4,192.7 156.4,178.3 162.3,174.3 168.2,188.6z" fill="url(#a280)"/><path d="M156.4,196.7 150.5,182.2 156.4,178.3 162.4,192.7z" fill="url(#a281)"/><path d="M150.5,200.7 144.5,186.1 150.5,182.2 156.4,196.7z" fill="url(#a282)"/><path d="M144.4,204.7 138.4,190.1 144.5,186.1 150.5,200.7z" fill="url(#a283)"/><path d="M253.9,140.2 248.4,128.1 253.3,124.1 258.8,135.7z" fill="url(#a284)"/><path d="M248.9,144.7 243.4,132.2 248.4,128.1 253.9,140.2z" fill="url(#a285)"/><path d="M243.9,149.1 238.4,136.2 243.4,132.2 248.9,144.7z" fill="url(#a286)"/><path d="M238.9,153.5 233.4,140.3 238.4,136.2 243.9,149.1z" fill="url(#a287)"/><path d="M233.8,157.9 228.2,144.3 233.4,140.3 238.9,153.5z" fill="url(#a288)"/><path d="M228.6,162.2 223.1,148.4 228.2,144.3 233.8,157.9z" fill="url(#a289)"/><path d="M223.4,166.6 217.9,152.4 223.1,148.4 228.6,162.2z" fill="url(#a290)"/><path d="M218.2,170.8 212.6,156.4 217.9,152.4 223.4,166.6z" fill="url(#a291)"/><path d="M212.9,175.1 207.2,160.5 212.6,156.4 218.2,170.8z" fill="url(#a292)"/><path d="M207.5,179.4 201.8,164.5 207.2,160.5 212.9,175.1z" fill="url(#a293)"/><path d="M202.1,183.6 196.4,168.5 201.8,164.5 207.5,179.4z" fill="url(#a294)"/><path d="M196.6,187.8 190.9,172.6 196.4,168.5 202.1,183.6z" fill="url(#a295)"/><path d="M191.1,191.9 185.3,176.6 190.9,172.6 196.6,187.8z" fill="url(#a296)"/><path d="M185.5,196 179.7,180.6 185.3,176.6 191.1,191.9z" fill="url(#a297)"/><path d="M179.8,200.1 174,184.6 179.7,180.6 185.5,196z" fill="url(#a298)"/><path d="M174.1,204.2 168.2,188.6 174,184.6 179.8,200.1z" fill="url(#a299)"/><path d="M168.3,208.3 162.4,192.7 168.2,188.6 174.1,204.2z" fill="url(#a300)"/><path d="M162.4,212.3 156.4,196.7 162.4,192.7 168.3,208.3z" fill="url(#a301)"/><path d="M156.4,216.3 150.5,200.7 156.4,196.7 162.4,212.3z" fill="url(#a302)"/><path d="M150.4,220.3 144.4,204.7 150.5,200.7 156.4,216.3z" fill="url(#a303)"/><path d="M259.4,153.2 253.9,140.2 258.8,135.7 264.3,148z" fill="url(#a304)"/><path d="M254.4,158.2 248.9,144.7 253.9,140.2 259.4,153.2z" fill="url(#a305)"/><path d="M249.4,163.2 243.9,149.1 248.9,144.7 254.4,158.2z" fill="url(#a306)"/><path d="M244.3,168.1 238.9,153.5 243.9,149.1 249.4,163.2z" fill="url(#a307)"/><path d="M239.3,173 233.8,157.9 238.9,153.5 244.3,168.1z" fill="url(#a308)"/><path d="M234.1,177.7 228.6,162.2 233.8,157.9 239.3,173z" fill="url(#a309)"/><path d="M228.9,182.4 223.4,166.6 228.6,162.2 234.1,177.7z" fill="url(#a310)"/><path d="M223.7,187.1 218.2,170.8 223.4,166.6 228.9,182.4z" fill="url(#a311)"/><path d="M218.4,191.6 212.9,175.1 218.2,170.8 223.7,187.1z" fill="url(#a312)"/><path d="M213.1,196.1 207.5,179.4 212.9,175.1 218.4,191.6z" fill="url(#a313)"/><path d="M207.7,200.5 202.1,183.6 207.5,179.4 213.1,196.1z" fill="url(#a314)"/><path d="M202.3,204.8 196.6,187.8 202.1,183.6 207.7,200.5z" fill="url(#a315)"/><path d="M196.8,209.1 191.1,191.9 196.6,187.8 202.3,204.8z" fill="url(#a316)"/><path d="M191.2,213.2 185.5,196 191.1,191.9 196.8,209.1z" fill="url(#a317)"/><path d="M185.6,217.3 179.8,200.1 185.5,196 191.2,213.2z" fill="url(#a318)"/><path d="M179.9,221.4 174.1,204.2 179.8,200.1 185.6,217.3z" fill="url(#a319)"/><path d="M174.1,225.3 168.3,208.3 174.1,204.2 179.9,221.4z" fill="url(#a320)"/><path d="M168.3,229.2 162.4,212.3 168.3,208.3 174.1,225.3z" fill="url(#a321)"/><path d="M162.4,233 156.4,216.3 162.4,212.3 168.3,229.2z" fill="url(#a322)"/><path d="M156.4,236.7 150.4,220.3 156.4,216.3 162.4,233z" fill="url(#a323)"/></g>
<path d="M156.5,45.7 L156.5,50" stroke="#333" stroke-width="0.55"/>
<circle cx="156.5" cy="45.7" r="2.3" fill="#b20000" stroke="#4a0000" stroke-width="0.55"/>

<circle cx="97" cy="113.9" r="2.3" fill="#b20000" stroke="#4a0000" stroke-width="0.55"/>
<path d="M115.9,123.5 L115.9,141" stroke="#333" stroke-width="0.55"/>
<circle cx="115.9" cy="123.5" r="2.3" fill="#b20000" stroke="#4a0000" stroke-width="0.55"/>

<circle cx="264.8" cy="147" r="2.3" fill="#b20000" stroke="#4a0000" stroke-width="0.55"/>
<path d="M227.9,74.2 L227.9,79" stroke="#333" stroke-width="0.55"/>
<circle cx="227.9" cy="74.2" r="2.3" fill="#b20000" stroke="#4a0000" stroke-width="0.55"/>
<path d="M103.9,65.9 L103.9,69.5" stroke="#333" stroke-width="0.55"/>
<circle cx="103.9" cy="65.9" r="2.3" fill="#b20000" stroke="#4a0000" stroke-width="0.55"/>
<circle cx="207.9" cy="9.4" r="2.25" fill="#a00000" stroke="#2a0000" stroke-width="0.8"/>
<circle cx="207.9" cy="24.6" r="2.25" fill="#ffc9cf" stroke="#2a1010" stroke-width="0.8"/>
<path d="M308.9,115 L317.8,115 L319.9,173.8 L311,173.8 Z" fill="url(#cb)" stroke="#1c1c1c" stroke-width="1"/></g>
<g><path d="M406.7,219.2 L510.4,285.5 L614.2,219.2 L510.4,166.3 Z" fill="#5e5e5e" stroke="#333" stroke-width="0.5"/>
<path d="M404.7,183.2 L510.4,133.1 M510.4,133.1 L616.2,183.2 M403.3,159.8 L510.4,111.7 M510.4,111.7 L617.6,159.8 M402,136.4 L510.4,90.3 M510.4,90.3 L618.9,136.4 M400.6,113 L510.4,68.9 M510.4,68.9 L620.3,113 M399.3,89.6 L510.4,47.4 M510.4,47.4 L621.6,89.6 M397.9,66.2 L510.4,26 M510.4,26 L623,66.2 M425.8,173.2 L420.4,58.2 M595.1,173.2 L600.5,58.2 M447,163.2 L442.9,50.2 M573.9,163.2 L578,50.2 M468.1,153.2 L465.4,42.1 M552.8,153.2 L555.5,42.1 M489.3,143.1 L487.9,34.1 M531.6,143.1 L533,34.1 M406.7,219.2 L397.9,66.2 M510.4,166.3 L510.4,26 M614.2,219.2 L623,66.2" fill="none" stroke="#2a2a2a" stroke-width="0.55"/>
<circle cx="404.7" cy="183.2" r="0.9" fill="#000"/>
<circle cx="403.3" cy="159.8" r="0.9" fill="#000"/>
<circle cx="402" cy="136.4" r="0.9" fill="#000"/>
<circle cx="400.6" cy="113" r="0.9" fill="#000"/>
<circle cx="399.3" cy="89.6" r="0.9" fill="#000"/>
<circle cx="397.9" cy="66.2" r="0.9" fill="#000"/>
<circle cx="510.4" cy="285.5" r="0.9" fill="#000"/>
<circle cx="510.4" cy="285.5" r="0.9" fill="#000"/>
<circle cx="489.7" cy="272.3" r="0.9" fill="#000"/>
<circle cx="531.2" cy="272.3" r="0.9" fill="#000"/>
<circle cx="469" cy="259" r="0.9" fill="#000"/>
<circle cx="551.9" cy="259" r="0.9" fill="#000"/>
<circle cx="448.2" cy="245.7" r="0.9" fill="#000"/>
<circle cx="572.7" cy="245.7" r="0.9" fill="#000"/>
<circle cx="427.5" cy="232.5" r="0.9" fill="#000"/>
<circle cx="593.4" cy="232.5" r="0.9" fill="#000"/>
<circle cx="406.7" cy="219.2" r="0.9" fill="#000"/>
<circle cx="614.2" cy="219.2" r="0.9" fill="#000"/>
<path d="M608.8,216.5 L606.3,217.8 L603.9,219.2 L602.2,220.2 L599.8,221.6 L597.3,223 L594.8,224.4 L592.3,225.9 L589.8,227.3 L587.3,228.8 L584.7,230.3 L582.2,231.8 L580.5,232.8 L577.9,234.3 L575.4,235.8 L572.8,237.3 L570.2,238.8 L567.6,240.4 L565,241.9 L562.4,243.5 L559.7,245.1 L557.1,246.7 L554.4,248.3 L551.7,249.9 L549,251.5 L546.4,253.1 L544.5,254.2 L541.8,255.9 L539.1,257.6 L536.3,259.2 L533.6,260.9 L530.8,262.6 L528,264.3 L525.2,266.1 L522.4,267.8 L519.6,269.5 L516.7,271.3 L513.9,273.1 L511,274.9 L508.1,276.7 L505.2,278.5 L502.3,280.3" fill="none" stroke="#1cd8c6" stroke-width="1.1"/>
<path d="M601.7,212.8 L599.3,214.2 L596.8,215.6 L594.4,217 L591.9,218.4 L589.4,219.8 L586.9,221.2 L584.4,222.7 L582.8,223.6 L580.2,225.1 L577.7,226.5 L575.2,228 L572.6,229.5 L570.1,231 L567.5,232.4 L564.9,234 L562.3,235.5 L559.7,237 L557.1,238.5 L555.3,239.6 L552.7,241.1 L550,242.7 L547.3,244.2 L544.7,245.8 L542,247.4 L539.2,249 L536.5,250.6 L533.8,252.2 L531,253.9 L528.3,255.5 L525.5,257.2 L522.7,258.8 L519.9,260.5 L517,262.2 L514.9,263.5 L512.3,265.1 L509.4,266.8 L506.5,268.5 L503.6,270.2 L500.7,272 L497.8,273.8 L494.8,275.6" fill="none" stroke="#1cd84d" stroke-width="1.1"/>
<path d="M591,207.4 L588.6,208.7 L586.1,210.1 L584.1,211.2 L582,212.4 L579.5,213.7 L577,215.1 L574.5,216.5 L572,217.9 L569.5,219.3 L567,220.8 L564.4,222.2 L562.1,223.5 L560.2,224.6 L557.6,226.1 L555,227.5 L552.4,229 L549.8,230.5 L547.1,232 L544.5,233.5 L541.8,235 L539.1,236.5 L536.5,238 L534.7,239 L531.9,240.6 L529.2,242.1 L526.5,243.7 L523.7,245.3 L521,246.9 L518.2,248.4 L515.4,250 L512.6,251.7 L509.8,253.3 L506.9,254.9 L504.1,256.6 L501.2,258.2 L499.3,259.3 L496.4,261 L493.4,262.7 L490.5,264.4 L487.6,266.1 L484.6,267.8" fill="none" stroke="#8cd81c" stroke-width="1.1"/>
<path d="M581.6,202.6 L580,203.5 L577.5,204.8 L575.1,206.1 L572.6,207.5 L570.1,208.8 L567.6,210.2 L565.1,211.5 L562.5,212.9 L560.9,213.8 L558.3,215.2 L555.7,216.6 L553.2,218 L550.6,219.4 L548,220.8 L545.4,222.2 L542.8,223.7 L541,224.6 L538.4,226.1 L535.7,227.5 L533,229 L530.4,230.5 L527.7,232 L525,233.5 L522.2,235 L519.5,236.5 L516.8,238 L514.9,239 L512.1,240.6 L509.3,242.1 L506.5,243.7 L503.7,245.2 L500.9,246.8 L498.1,248.4 L495.2,250 L492.3,251.6 L489.4,253.2 L486.5,254.9 L483.6,256.5 L481.6,257.6 L478.7,259.3 L475.7,260.9" fill="none" stroke="#d4a81c" stroke-width="1.1"/>
<path d="M441.4,201.5 L444,200.4 L446.8,199.1 L449.6,197.8 L452.4,196.6 L455.2,195.3 L457,194.5 L459.7,193.2 L462.4,191.9 L465,190.6 L467.6,189.3 L470.2,188.1 L472.8,186.8 L475.4,185.5 L477.9,184.2 L480.4,183 L482.8,181.7 L485.3,180.4 L487.7,179.1 L490.1,177.8 L492.5,176.5 L494.8,175.3 L497.1,174 L498.8,173.1 L500.9,171.9 L503.2,170.6 L505.4,169.3 L507.6,168 L509.8,166.7" fill="none" stroke="#d4451c" stroke-width="1.1"/>
<path d="M571.9,197.7 L569.5,198.9 L567.8,199.8 L565.3,201.1 L562.8,202.4 L560.3,203.7 L557.8,205 L555.2,206.3 L553.3,207.3 L551,208.6 L548.4,209.9 L545.8,211.2 L543.2,212.6 L540.6,214 L538,215.3 L536,216.4 L533.6,217.7 L531,219.1 L528.3,220.5 L525.6,221.9 L522.9,223.3 L520.2,224.7 L517.5,226.2 L515.7,227.2 L513,228.6 L510.2,230.1 L507.5,231.6 L504.7,233 L501.9,234.5 L499.1,236.1 L496.3,237.6 L493.5,239.1 L490.7,240.6 L488.8,241.7 L485.9,243.2 L483,244.8 L480.1,246.4 L477.2,247.9 L474.3,249.5 L471.4,251.2 L468.4,252.8 L465.5,254.4" fill="none" stroke="#d4451c" stroke-width="1.1"/>
<path d="M432.9,108.6 L432.9,99.4" stroke="#333" stroke-width="0.55"/>
<circle cx="432.9" cy="108.6" r="2.3" fill="#ffc9cf" stroke="#5a3030" stroke-width="0.5"/>

<circle cx="450.7" cy="117.9" r="2.3" fill="#ffc9cf" stroke="#5a3030" stroke-width="0.5"/>
<path d="M510.3,236.1 L510.3,230" stroke="#333" stroke-width="0.55"/>
<circle cx="510.3" cy="236.1" r="2.3" fill="#ffc9cf" stroke="#5a3030" stroke-width="0.5"/>

<circle cx="567.4" cy="197.5" r="2.3" fill="#ffc9cf" stroke="#5a3030" stroke-width="0.5"/>

<circle cx="618.1" cy="162.8" r="2.3" fill="#ffc9cf" stroke="#5a3030" stroke-width="0.5"/>
<defs><linearGradient id="b1" href="#T" x1="510.4" y1="52.9" x2="510.5" y2="53.2"><stop stop-color="#fe0404"/><stop offset="1" stop-color="#fc3902"/></linearGradient><linearGradient id="b2" href="#T" x1="505.4" y1="55.1" x2="505.5" y2="55.5"><stop stop-color="#fe0404"/><stop offset="1" stop-color="#fc3d02"/></linearGradient><linearGradient id="b3" href="#T" x1="500.3" y1="57.2" x2="500.5" y2="57.7"><stop stop-color="#fe0504"/><stop offset="1" stop-color="#fc4002"/></linearGradient><linearGradient id="b4" href="#T" x1="495.2" y1="59.4" x2="495.4" y2="59.9"><stop stop-color="#fe0804"/><stop offset="1" stop-color="#fc4202"/></linearGradient><linearGradient id="b5" href="#T" x1="490" y1="61.5" x2="490.2" y2="62.1"><stop stop-color="#fd0a03"/><stop offset="1" stop-color="#fc4401"/></linearGradient><linearGradient id="b6" href="#T" x1="484.8" y1="63.7" x2="485" y2="64.2"><stop stop-color="#fd0b03"/><stop offset="1" stop-color="#fc4401"/></linearGradient><linearGradient id="b7" href="#T" x1="474.1" y1="67.8" x2="474.4" y2="68.4"><stop stop-color="#fd0c03"/><stop offset="1" stop-color="#fc4501"/></linearGradient><linearGradient id="b8" href="#T" x1="468.7" y1="69.9" x2="469" y2="70.5"><stop stop-color="#fd0c03"/><stop offset="1" stop-color="#fc4501"/></linearGradient><linearGradient id="b9" href="#T" x1="463.3" y1="71.9" x2="463.5" y2="72.5"><stop stop-color="#fd0b03"/><stop offset="1" stop-color="#fc4401"/></linearGradient><linearGradient id="b10" href="#T" x1="457.8" y1="73.9" x2="458" y2="74.5"><stop stop-color="#fd0a03"/><stop offset="1" stop-color="#fc4201"/></linearGradient><linearGradient id="b11" href="#T" x1="452.2" y1="75.8" x2="452.4" y2="76.5"><stop stop-color="#fd0703"/><stop offset="1" stop-color="#fc4001"/></linearGradient><linearGradient id="b12" href="#T" x1="446.5" y1="77.8" x2="446.7" y2="78.4"><stop stop-color="#fd0503"/><stop offset="1" stop-color="#fc3d01"/></linearGradient><linearGradient id="b13" href="#T" x1="440.8" y1="79.7" x2="441" y2="80.3"><stop stop-color="#fd0303"/><stop offset="1" stop-color="#fc3801"/></linearGradient><linearGradient id="b14" href="#T" x1="435" y1="81.6" x2="435.2" y2="82.2"><stop stop-color="#fe0304"/><stop offset="1" stop-color="#fc3401"/></linearGradient><linearGradient id="b15" href="#T" x1="429.1" y1="83.4" x2="429.3" y2="84"><stop stop-color="#fe0404"/><stop offset="1" stop-color="#fc2e01"/></linearGradient><linearGradient id="b16" href="#T" x1="423.2" y1="85.3" x2="423.3" y2="85.8"><stop stop-color="#fe0404"/><stop offset="1" stop-color="#fc2802"/></linearGradient><linearGradient id="b17" href="#T" x1="417.1" y1="87.1" x2="417.3" y2="87.5"><stop stop-color="#fe0404"/><stop offset="1" stop-color="#fc2202"/></linearGradient><linearGradient id="b18" href="#T" x1="411" y1="88.8" x2="411.2" y2="89.3"><stop stop-color="#fe0404"/><stop offset="1" stop-color="#fc1a02"/></linearGradient><linearGradient id="b19" href="#T" x1="404.9" y1="90.6" x2="405" y2="91"><stop stop-color="#ff0305"/><stop offset="1" stop-color="#fc1202"/></linearGradient><linearGradient id="b20" href="#T" x1="525.3" y1="47.7" x2="526.1" y2="49.5"><stop stop-color="#ff1010"/><stop offset="1" stop-color="#ff1d1d"/></linearGradient><linearGradient id="b21" href="#T" x1="521.1" y1="51.7" x2="520.3" y2="50"><stop stop-color="#ff1d1d"/><stop offset="1" stop-color="#ff1010"/></linearGradient><linearGradient id="b22" href="#T" x1="515.2" y1="52.2" x2="516" y2="53.9"><stop stop-color="#ff0f0f"/><stop offset="1" stop-color="#ff1c1c"/></linearGradient><linearGradient id="b23" href="#T" x1="510.8" y1="56.1" x2="510.1" y2="54.4"><stop stop-color="#ff1c1c"/><stop offset="1" stop-color="#ff0f0f"/></linearGradient><linearGradient id="b24" href="#T" x1="504.9" y1="56.6" x2="505.6" y2="58.3"><stop stop-color="#ff0f0f"/><stop offset="1" stop-color="#ff1b1b"/></linearGradient><linearGradient id="b25" href="#T" x1="499.6" y1="58.8" x2="500.3" y2="60.5"><stop stop-color="#ff0f0f"/><stop offset="1" stop-color="#ff1b1b"/></linearGradient><linearGradient id="b26" href="#T" x1="494.3" y1="61" x2="495" y2="62.6"><stop stop-color="#ff0e0e"/><stop offset="1" stop-color="#ff1b1b"/></linearGradient><linearGradient id="b27" href="#T" x1="489.6" y1="64.8" x2="489" y2="63.1"><stop stop-color="#ff1a1a"/><stop offset="1" stop-color="#ff0e0e"/></linearGradient><linearGradient id="b28" href="#T" x1="484.2" y1="67" x2="483.5" y2="65.3"><stop stop-color="#ff1a1a"/><stop offset="1" stop-color="#ff0e0e"/></linearGradient><linearGradient id="b29" href="#T" x1="478" y1="67.5" x2="478.7" y2="69.2"><stop stop-color="#ff0e0e"/><stop offset="1" stop-color="#ff1a1a"/></linearGradient><linearGradient id="b30" href="#T" x1="473.1" y1="71.3" x2="472.5" y2="69.6"><stop stop-color="#ff1b1b"/><stop offset="1" stop-color="#ff0f0f"/></linearGradient><linearGradient id="b31" href="#T" x1="467.5" y1="73.5" x2="466.8" y2="71.7"><stop stop-color="#ff1b1b"/><stop offset="1" stop-color="#ff0f0f"/></linearGradient><linearGradient id="b32" href="#T" x1="461.8" y1="75.6" x2="461.1" y2="73.8"><stop stop-color="#ff1b1b"/><stop offset="1" stop-color="#ff0f0f"/></linearGradient><linearGradient id="b33" href="#T" x1="456" y1="77.8" x2="455.4" y2="75.9"><stop stop-color="#ff1b1b"/><stop offset="1" stop-color="#ff0f0f"/></linearGradient><linearGradient id="b34" href="#T" x1="449.5" y1="78" x2="450.2" y2="79.9"><stop stop-color="#ff0f0f"/><stop offset="1" stop-color="#ff1c1c"/></linearGradient><linearGradient id="b35" href="#T" x1="444.3" y1="82" x2="443.6" y2="80.1"><stop stop-color="#ff1c1c"/><stop offset="1" stop-color="#ff1010"/></linearGradient><linearGradient id="b36" href="#T" x1="437.6" y1="82.2" x2="438.3" y2="84.2"><stop stop-color="#ff1010"/><stop offset="1" stop-color="#ff1c1c"/></linearGradient><linearGradient id="b37" href="#T" x1="431.6" y1="84.2" x2="432.2" y2="86.3"><stop stop-color="#ff1111"/><stop offset="1" stop-color="#ff1d1d"/></linearGradient><linearGradient id="b38" href="#T" x1="426.1" y1="88.4" x2="425.4" y2="86.3"><stop stop-color="#ff1d1d"/><stop offset="1" stop-color="#ff1111"/></linearGradient><linearGradient id="b39" href="#T" x1="419.2" y1="88.3" x2="419.9" y2="90.5"><stop stop-color="#ff1212"/><stop offset="1" stop-color="#ff1e1e"/></linearGradient><linearGradient id="b40" href="#T" x1="531.5" y1="50" x2="530.3" y2="47.4"><stop stop-color="#ff2d2d"/><stop offset="1" stop-color="#ff1d1d"/></linearGradient><linearGradient id="b41" href="#T" x1="525.3" y1="49.7" x2="526.5" y2="52.2"><stop stop-color="#ff1c1c"/><stop offset="1" stop-color="#ff2d2d"/></linearGradient><linearGradient id="b42" href="#T" x1="521.4" y1="54.4" x2="520.2" y2="51.9"><stop stop-color="#ff2c2c"/><stop offset="1" stop-color="#ff1c1c"/></linearGradient><linearGradient id="b43" href="#T" x1="515.1" y1="54.2" x2="516.2" y2="56.6"><stop stop-color="#ff1b1b"/><stop offset="1" stop-color="#ff2b2b"/></linearGradient><linearGradient id="b44" href="#T" x1="509.9" y1="56.4" x2="511" y2="58.9"><stop stop-color="#ff1b1b"/><stop offset="1" stop-color="#ff2b2b"/></linearGradient><linearGradient id="b45" href="#T" x1="505.7" y1="61.1" x2="504.7" y2="58.6"><stop stop-color="#ff2a2a"/><stop offset="1" stop-color="#ff1b1b"/></linearGradient><linearGradient id="b46" href="#T" x1="500.4" y1="63.3" x2="499.3" y2="60.8"><stop stop-color="#ff2a2a"/><stop offset="1" stop-color="#ff1a1a"/></linearGradient><linearGradient id="b47" href="#T" x1="495" y1="65.5" x2="494" y2="63"><stop stop-color="#ff2a2a"/><stop offset="1" stop-color="#ff1a1a"/></linearGradient><linearGradient id="b48" href="#T" x1="488.5" y1="65.2" x2="489.5" y2="67.7"><stop stop-color="#ff1a1a"/><stop offset="1" stop-color="#ff2929"/></linearGradient><linearGradient id="b49" href="#T" x1="483" y1="67.4" x2="484" y2="69.9"><stop stop-color="#ff1a1a"/><stop offset="1" stop-color="#ff2929"/></linearGradient><linearGradient id="b50" href="#T" x1="478.5" y1="72.1" x2="477.5" y2="69.6"><stop stop-color="#ff2929"/><stop offset="1" stop-color="#ff1a1a"/></linearGradient><linearGradient id="b51" href="#T" x1="472.8" y1="74.4" x2="471.8" y2="71.8"><stop stop-color="#ff2929"/><stop offset="1" stop-color="#ff1a1a"/></linearGradient><linearGradient id="b52" href="#T" x1="466.1" y1="74" x2="467.1" y2="76.6"><stop stop-color="#ff1b1b"/><stop offset="1" stop-color="#ff2929"/></linearGradient><linearGradient id="b53" href="#T" x1="461.3" y1="78.8" x2="460.3" y2="76.1"><stop stop-color="#ff2929"/><stop offset="1" stop-color="#ff1b1b"/></linearGradient><linearGradient id="b54" href="#T" x1="454.5" y1="78.3" x2="455.5" y2="81"><stop stop-color="#ff1b1b"/><stop offset="1" stop-color="#ff2a2a"/></linearGradient><linearGradient id="b55" href="#T" x1="448.6" y1="80.5" x2="449.6" y2="83.2"><stop stop-color="#ff1c1c"/><stop offset="1" stop-color="#ff2a2a"/></linearGradient><linearGradient id="b56" href="#T" x1="442.6" y1="82.6" x2="443.6" y2="85.5"><stop stop-color="#ff1c1c"/><stop offset="1" stop-color="#ff2a2a"/></linearGradient><linearGradient id="b57" href="#T" x1="436.5" y1="84.8" x2="437.5" y2="87.7"><stop stop-color="#ff1c1c"/><stop offset="1" stop-color="#ff2a2a"/></linearGradient><linearGradient id="b58" href="#T" x1="431.4" y1="89.9" x2="430.3" y2="86.9"><stop stop-color="#ff2a2a"/><stop offset="1" stop-color="#ff1d1d"/></linearGradient><linearGradient id="b59" href="#T" x1="425.1" y1="92.1" x2="424.1" y2="89"><stop stop-color="#ff2a2a"/><stop offset="1" stop-color="#ff1d1d"/></linearGradient><linearGradient id="b60" href="#T" x1="535.4" y1="48" x2="537" y2="51.3"><stop stop-color="#ff2d2d"/><stop offset="1" stop-color="#ff3c3c"/></linearGradient><linearGradient id="b61" href="#T" x1="530.4" y1="50.2" x2="532" y2="53.6"><stop stop-color="#ff2c2c"/><stop offset="1" stop-color="#ff3b3b"/></linearGradient><linearGradient id="b62" href="#T" x1="526.8" y1="55.8" x2="525.3" y2="52.5"><stop stop-color="#ff3b3b"/><stop offset="1" stop-color="#ff2b2b"/></linearGradient><linearGradient id="b63" href="#T" x1="520.2" y1="54.7" x2="521.7" y2="58"><stop stop-color="#ff2b2b"/><stop offset="1" stop-color="#ff3a3a"/></linearGradient><linearGradient id="b64" href="#T" x1="515" y1="57" x2="516.5" y2="60.3"><stop stop-color="#ff2a2a"/><stop offset="1" stop-color="#ff3939"/></linearGradient><linearGradient id="b65" href="#T" x1="511.2" y1="62.5" x2="509.7" y2="59.2"><stop stop-color="#ff3939"/><stop offset="1" stop-color="#ff2a2a"/></linearGradient><linearGradient id="b66" href="#T" x1="505.9" y1="64.8" x2="504.4" y2="61.5"><stop stop-color="#ff3838"/><stop offset="1" stop-color="#ff2a2a"/></linearGradient><linearGradient id="b67" href="#T" x1="499" y1="63.7" x2="500.5" y2="67.1"><stop stop-color="#ff2929"/><stop offset="1" stop-color="#ff3838"/></linearGradient><linearGradient id="b68" href="#T" x1="493.6" y1="66" x2="495" y2="69.3"><stop stop-color="#ff2929"/><stop offset="1" stop-color="#ff3737"/></linearGradient><linearGradient id="b69" href="#T" x1="489.5" y1="71.6" x2="488.1" y2="68.2"><stop stop-color="#ff3737"/><stop offset="1" stop-color="#ff2929"/></linearGradient><linearGradient id="b70" href="#T" x1="482.5" y1="70.5" x2="483.9" y2="73.9"><stop stop-color="#ff2929"/><stop offset="1" stop-color="#ff3636"/></linearGradient><linearGradient id="b71" href="#T" x1="476.8" y1="72.7" x2="478.3" y2="76.1"><stop stop-color="#ff2929"/><stop offset="1" stop-color="#ff3636"/></linearGradient><linearGradient id="b72" href="#T" x1="471.1" y1="74.9" x2="472.5" y2="78.4"><stop stop-color="#ff2929"/><stop offset="1" stop-color="#ff3636"/></linearGradient><linearGradient id="b73" href="#T" x1="466.8" y1="80.7" x2="465.4" y2="77.2"><stop stop-color="#ff3535"/><stop offset="1" stop-color="#ff2929"/></linearGradient><linearGradient id="b74" href="#T" x1="459.5" y1="79.4" x2="460.9" y2="83"><stop stop-color="#ff2929"/><stop offset="1" stop-color="#ff3535"/></linearGradient><linearGradient id="b75" href="#T" x1="453.6" y1="81.7" x2="455" y2="85.3"><stop stop-color="#ff2929"/><stop offset="1" stop-color="#ff3535"/></linearGradient><linearGradient id="b76" href="#T" x1="447.6" y1="83.9" x2="449" y2="87.6"><stop stop-color="#ff2a2a"/><stop offset="1" stop-color="#ff3434"/></linearGradient><linearGradient id="b77" href="#T" x1="441.5" y1="86.1" x2="442.9" y2="89.9"><stop stop-color="#ff2a2a"/><stop offset="1" stop-color="#ff3434"/></linearGradient><linearGradient id="b78" href="#T" x1="553.5" y1="60.4" x2="551.2" y2="54.9"><stop stop-color="#ff3131"/><stop offset="1" stop-color="#ff3e3e"/></linearGradient><linearGradient id="b79" href="#T" x1="548.4" y1="62.7" x2="546.1" y2="57.2"><stop stop-color="#ff3030"/><stop offset="1" stop-color="#ff3e3e"/></linearGradient><linearGradient id="b80" href="#T" x1="541.1" y1="59.5" x2="543.3" y2="65.1"><stop stop-color="#ff3d3d"/><stop offset="1" stop-color="#ff3030"/></linearGradient><linearGradient id="b81" href="#T" x1="535.9" y1="61.8" x2="538.2" y2="67.5"><stop stop-color="#ff3c3c"/><stop offset="1" stop-color="#ff2f2f"/></linearGradient><linearGradient id="b82" href="#T" x1="530.7" y1="64.2" x2="533" y2="69.9"><stop stop-color="#ff3c3c"/><stop offset="1" stop-color="#ff2f2f"/></linearGradient><linearGradient id="b83" href="#T" x1="525.5" y1="66.5" x2="527.7" y2="72.3"><stop stop-color="#ff3b3b"/><stop offset="1" stop-color="#ff2e2e"/></linearGradient><linearGradient id="b84" href="#T" x1="520.2" y1="68.9" x2="522.4" y2="74.7"><stop stop-color="#ff3a3a"/><stop offset="1" stop-color="#ff2e2e"/></linearGradient><linearGradient id="b85" href="#T" x1="514.8" y1="71.2" x2="517" y2="77.1"><stop stop-color="#ff3a3a"/><stop offset="1" stop-color="#ff2d2d"/></linearGradient><linearGradient id="b86" href="#T" x1="509.3" y1="73.6" x2="511.6" y2="79.6"><stop stop-color="#ff3939"/><stop offset="1" stop-color="#ff2c2c"/></linearGradient><linearGradient id="b87" href="#T" x1="503.8" y1="76" x2="506" y2="82.1"><stop stop-color="#ff3838"/><stop offset="1" stop-color="#ff2c2c"/></linearGradient><linearGradient id="b88" href="#T" x1="498.3" y1="78.4" x2="500.5" y2="84.5"><stop stop-color="#ff3737"/><stop offset="1" stop-color="#ff2b2b"/></linearGradient><linearGradient id="b89" href="#T" x1="494.8" y1="87" x2="492.6" y2="80.9"><stop stop-color="#ff2a2a"/><stop offset="1" stop-color="#ff3737"/></linearGradient><linearGradient id="b90" href="#T" x1="486.9" y1="83.3" x2="489.1" y2="89.6"><stop stop-color="#ff3636"/><stop offset="1" stop-color="#ff2929"/></linearGradient><linearGradient id="b91" href="#T" x1="483.3" y1="92.1" x2="481.2" y2="85.7"><stop stop-color="#ff2828"/><stop offset="1" stop-color="#ff3535"/></linearGradient><linearGradient id="b92" href="#T" x1="475.3" y1="88.2" x2="477.5" y2="94.7"><stop stop-color="#ff3434"/><stop offset="1" stop-color="#ff2828"/></linearGradient><linearGradient id="b93" href="#T" x1="471.6" y1="97.2" x2="469.4" y2="90.7"><stop stop-color="#ff2727"/><stop offset="1" stop-color="#ff3333"/></linearGradient><linearGradient id="b94" href="#T" x1="465.6" y1="99.8" x2="463.4" y2="93.2"><stop stop-color="#ff2626"/><stop offset="1" stop-color="#ff3232"/></linearGradient><linearGradient id="b95" href="#T" x1="457.3" y1="95.7" x2="459.5" y2="102.4"><stop stop-color="#ff3131"/><stop offset="1" stop-color="#ff2525"/></linearGradient><linearGradient id="b96" href="#T" x1="451.2" y1="98.2" x2="453.3" y2="105"><stop stop-color="#ff3030"/><stop offset="1" stop-color="#ff2424"/></linearGradient><linearGradient id="b97" href="#T" x1="447.1" y1="107.7" x2="445" y2="100.7"><stop stop-color="#ff2323"/><stop offset="1" stop-color="#ff2f2f"/></linearGradient><linearGradient id="b98" href="#T" x1="559.1" y1="65.2" x2="556.4" y2="58.9"><stop stop-color="#ff2222"/><stop offset="1" stop-color="#ff3131"/></linearGradient><linearGradient id="b99" href="#T" x1="551.4" y1="61.3" x2="554.1" y2="67.6"><stop stop-color="#ff3131"/><stop offset="1" stop-color="#ff2222"/></linearGradient><linearGradient id="b100" href="#T" x1="549" y1="70" x2="546.3" y2="63.6"><stop stop-color="#ff2121"/><stop offset="1" stop-color="#ff3030"/></linearGradient><linearGradient id="b101" href="#T" x1="541.2" y1="66" x2="543.9" y2="72.4"><stop stop-color="#ff3030"/><stop offset="1" stop-color="#ff2121"/></linearGradient><linearGradient id="b102" href="#T" x1="536" y1="68.4" x2="538.7" y2="74.9"><stop stop-color="#ff2f2f"/><stop offset="1" stop-color="#ff2020"/></linearGradient><linearGradient id="b103" href="#T" x1="533.4" y1="77.3" x2="530.7" y2="70.8"><stop stop-color="#ff2020"/><stop offset="1" stop-color="#ff2f2f"/></linearGradient><linearGradient id="b104" href="#T" x1="525.4" y1="73.2" x2="528.1" y2="79.8"><stop stop-color="#ff2e2e"/><stop offset="1" stop-color="#ff2020"/></linearGradient><linearGradient id="b105" href="#T" x1="522.7" y1="82.3" x2="520.1" y2="75.6"><stop stop-color="#ff1f1f"/><stop offset="1" stop-color="#ff2e2e"/></linearGradient><linearGradient id="b106" href="#T" x1="514.6" y1="78.1" x2="517.3" y2="84.8"><stop stop-color="#ff2d2d"/><stop offset="1" stop-color="#ff1f1f"/></linearGradient><linearGradient id="b107" href="#T" x1="511.8" y1="87.4" x2="509.1" y2="80.5"><stop stop-color="#ff1e1e"/><stop offset="1" stop-color="#ff2c2c"/></linearGradient><linearGradient id="b108" href="#T" x1="503.6" y1="83" x2="506.2" y2="89.9"><stop stop-color="#ff2c2c"/><stop offset="1" stop-color="#ff1d1d"/></linearGradient><linearGradient id="b109" href="#T" x1="497.9" y1="85.5" x2="500.6" y2="92.5"><stop stop-color="#ff2b2b"/><stop offset="1" stop-color="#ff1d1d"/></linearGradient><linearGradient id="b110" href="#T" x1="492.2" y1="88" x2="494.9" y2="95.1"><stop stop-color="#ff2a2a"/><stop offset="1" stop-color="#ff1c1c"/></linearGradient><linearGradient id="b111" href="#T" x1="486.5" y1="90.5" x2="489.1" y2="97.7"><stop stop-color="#ff2929"/><stop offset="1" stop-color="#ff1c1c"/></linearGradient><linearGradient id="b112" href="#T" x1="483.3" y1="100.3" x2="480.6" y2="93.1"><stop stop-color="#ff1b1b"/><stop offset="1" stop-color="#ff2828"/></linearGradient><linearGradient id="b113" href="#T" x1="477.3" y1="103" x2="474.7" y2="95.6"><stop stop-color="#ff1b1b"/><stop offset="1" stop-color="#ff2828"/></linearGradient><linearGradient id="b114" href="#T" x1="468.7" y1="98.2" x2="471.3" y2="105.7"><stop stop-color="#ff2727"/><stop offset="1" stop-color="#ff1a1a"/></linearGradient><linearGradient id="b115" href="#T" x1="462.6" y1="100.8" x2="465.3" y2="108.4"><stop stop-color="#ff2626"/><stop offset="1" stop-color="#ff1919"/></linearGradient><linearGradient id="b116" href="#T" x1="459.1" y1="111.1" x2="456.5" y2="103.4"><stop stop-color="#ff1919"/><stop offset="1" stop-color="#ff2525"/></linearGradient><linearGradient id="b117" href="#T" x1="452.9" y1="113.8" x2="450.3" y2="106"><stop stop-color="#ff1818"/><stop offset="1" stop-color="#ff2424"/></linearGradient><linearGradient id="b118" href="#T" x1="564.8" y1="70.9" x2="561.6" y2="63.9"><stop stop-color="#ff1515"/><stop offset="1" stop-color="#ff2222"/></linearGradient><linearGradient id="b119" href="#T" x1="556.6" y1="66.3" x2="559.8" y2="73.4"><stop stop-color="#ff2222"/><stop offset="1" stop-color="#ff1515"/></linearGradient><linearGradient id="b120" href="#T" x1="554.7" y1="75.8" x2="551.6" y2="68.7"><stop stop-color="#ff1515"/><stop offset="1" stop-color="#ff2222"/></linearGradient><linearGradient id="b121" href="#T" x1="546.5" y1="71.1" x2="549.6" y2="78.3"><stop stop-color="#ff2121"/><stop offset="1" stop-color="#ff1414"/></linearGradient><linearGradient id="b122" href="#T" x1="544.4" y1="80.8" x2="541.3" y2="73.5"><stop stop-color="#ff1414"/><stop offset="1" stop-color="#ff2121"/></linearGradient><linearGradient id="b123" href="#T" x1="536" y1="76" x2="539.2" y2="83.3"><stop stop-color="#ff2020"/><stop offset="1" stop-color="#ff1414"/></linearGradient><linearGradient id="b124" href="#T" x1="533.9" y1="85.9" x2="530.7" y2="78.5"><stop stop-color="#ff1414"/><stop offset="1" stop-color="#ff2020"/></linearGradient><linearGradient id="b125" href="#T" x1="525.4" y1="81" x2="528.5" y2="88.4"><stop stop-color="#ff2020"/><stop offset="1" stop-color="#ff1313"/></linearGradient><linearGradient id="b126" href="#T" x1="519.9" y1="83.5" x2="523.1" y2="91"><stop stop-color="#ff1f1f"/><stop offset="1" stop-color="#ff1313"/></linearGradient><linearGradient id="b127" href="#T" x1="517.8" y1="93.5" x2="514.2" y2="86.1"><stop stop-color="#ff1413"/><stop offset="1" stop-color="#ff1e1e"/></linearGradient><linearGradient id="b128" href="#T" x1="512.2" y1="96.1" x2="508.7" y2="88.6"><stop stop-color="#ff1613"/><stop offset="1" stop-color="#ff1e1e"/></linearGradient><linearGradient id="b129" href="#T" x1="506.5" y1="98.8" x2="503.1" y2="91.2"><stop stop-color="#ff1812"/><stop offset="1" stop-color="#ff1d1d"/></linearGradient><linearGradient id="b130" href="#T" x1="497.5" y1="93.7" x2="500.8" y2="101.5"><stop stop-color="#ff1d1d"/><stop offset="1" stop-color="#ff1a12"/></linearGradient><linearGradient id="b131" href="#T" x1="491.8" y1="96.3" x2="494.9" y2="104.2"><stop stop-color="#ff1c1c"/><stop offset="1" stop-color="#ff1b11"/></linearGradient><linearGradient id="b132" href="#T" x1="486" y1="98.9" x2="489.1" y2="107"><stop stop-color="#ff1c1c"/><stop offset="1" stop-color="#ff1d11"/></linearGradient><linearGradient id="b133" href="#T" x1="480.1" y1="101.5" x2="483.2" y2="109.7"><stop stop-color="#ff1b1b"/><stop offset="1" stop-color="#ff1f11"/></linearGradient><linearGradient id="b134" href="#T" x1="474.1" y1="104.2" x2="477.2" y2="112.5"><stop stop-color="#ff1a1b"/><stop offset="1" stop-color="#ff2010"/></linearGradient><linearGradient id="b135" href="#T" x1="468" y1="106.9" x2="471.2" y2="115.2"><stop stop-color="#ff1a1a"/><stop offset="1" stop-color="#ff2110"/></linearGradient><linearGradient id="b136" href="#T" x1="461.8" y1="109.6" x2="465.1" y2="118"><stop stop-color="#ff1919"/><stop offset="1" stop-color="#ff2210"/></linearGradient><linearGradient id="b137" href="#T" x1="455.6" y1="112.4" x2="458.9" y2="120.8"><stop stop-color="#ff1819"/><stop offset="1" stop-color="#ff230f"/></linearGradient><linearGradient id="b138" href="#T" x1="567.2" y1="69.6" x2="570.2" y2="77.8"><stop stop-color="#ff1516"/><stop offset="1" stop-color="#ff2b0c"/></linearGradient><linearGradient id="b139" href="#T" x1="562.1" y1="72" x2="565.3" y2="80.3"><stop stop-color="#ff1415"/><stop offset="1" stop-color="#ff2e0c"/></linearGradient><linearGradient id="b140" href="#T" x1="557" y1="74.5" x2="560.3" y2="82.7"><stop stop-color="#ff1415"/><stop offset="1" stop-color="#ff320c"/></linearGradient><linearGradient id="b141" href="#T" x1="551.9" y1="77" x2="555.2" y2="85.2"><stop stop-color="#ff1415"/><stop offset="1" stop-color="#ff350c"/></linearGradient><linearGradient id="b142" href="#T" x1="546.7" y1="79.6" x2="550.1" y2="87.8"><stop stop-color="#ff1415"/><stop offset="1" stop-color="#ff380c"/></linearGradient><linearGradient id="b143" href="#T" x1="541.4" y1="82.1" x2="544.9" y2="90.3"><stop stop-color="#ff1414"/><stop offset="1" stop-color="#ff3b0c"/></linearGradient><linearGradient id="b144" href="#T" x1="536.1" y1="84.7" x2="539.6" y2="92.9"><stop stop-color="#ff1314"/><stop offset="1" stop-color="#ff3e0b"/></linearGradient><linearGradient id="b145" href="#T" x1="530.7" y1="87.2" x2="534.3" y2="95.5"><stop stop-color="#ff1314"/><stop offset="1" stop-color="#ff400b"/></linearGradient><linearGradient id="b146" href="#T" x1="525.3" y1="89.8" x2="528.9" y2="98.2"><stop stop-color="#ff1313"/><stop offset="1" stop-color="#ff430b"/></linearGradient><linearGradient id="b147" href="#T" x1="523.3" y1="100.9" x2="519.9" y2="92.3"><stop stop-color="#ff460b"/><stop offset="1" stop-color="#ff1313"/></linearGradient><linearGradient id="b148" href="#T" x1="517.8" y1="103.6" x2="514.3" y2="94.9"><stop stop-color="#ff480b"/><stop offset="1" stop-color="#ff1513"/></linearGradient><linearGradient id="b149" href="#T" x1="508.7" y1="97.6" x2="512.2" y2="106.3"><stop stop-color="#ff1712"/><stop offset="1" stop-color="#ff4b0b"/></linearGradient><linearGradient id="b150" href="#T" x1="503" y1="100.3" x2="506.6" y2="109"><stop stop-color="#ff1912"/><stop offset="1" stop-color="#ff4d0a"/></linearGradient><linearGradient id="b151" href="#T" x1="497.2" y1="103" x2="500.8" y2="111.8"><stop stop-color="#ff1b12"/><stop offset="1" stop-color="#ff4f0a"/></linearGradient><linearGradient id="b152" href="#T" x1="491.4" y1="105.7" x2="495" y2="114.5"><stop stop-color="#ff1c11"/><stop offset="1" stop-color="#ff510a"/></linearGradient><linearGradient id="b153" href="#T" x1="485.5" y1="108.4" x2="489.2" y2="117.3"><stop stop-color="#ff1e11"/><stop offset="1" stop-color="#ff530a"/></linearGradient><linearGradient id="b154" href="#T" x1="479.5" y1="111.2" x2="483.2" y2="120.2"><stop stop-color="#ff1f11"/><stop offset="1" stop-color="#ff550a"/></linearGradient><linearGradient id="b155" href="#T" x1="473.4" y1="114" x2="477.2" y2="123"><stop stop-color="#ff2010"/><stop offset="1" stop-color="#ff5609"/></linearGradient><linearGradient id="b156" href="#T" x1="467.3" y1="116.8" x2="471.1" y2="125.9"><stop stop-color="#ff2210"/><stop offset="1" stop-color="#ff5809"/></linearGradient><linearGradient id="b157" href="#T" x1="464.9" y1="128.8" x2="461" y2="119.6"><stop stop-color="#ff5909"/><stop offset="1" stop-color="#ff2310"/></linearGradient><linearGradient id="b158" href="#T" x1="576" y1="85.4" x2="572.4" y2="76.4"><stop stop-color="#ff6907"/><stop offset="1" stop-color="#ff280d"/></linearGradient><linearGradient id="b159" href="#T" x1="571" y1="87.9" x2="567.4" y2="78.9"><stop stop-color="#ff6c07"/><stop offset="1" stop-color="#ff2c0c"/></linearGradient><linearGradient id="b160" href="#T" x1="566" y1="90.5" x2="562.4" y2="81.4"><stop stop-color="#ff7007"/><stop offset="1" stop-color="#ff2f0c"/></linearGradient><linearGradient id="b161" href="#T" x1="560.9" y1="93.1" x2="557.3" y2="84"><stop stop-color="#ff7307"/><stop offset="1" stop-color="#ff320c"/></linearGradient><linearGradient id="b162" href="#T" x1="555.8" y1="95.7" x2="552.1" y2="86.5"><stop stop-color="#ff7606"/><stop offset="1" stop-color="#ff360c"/></linearGradient><linearGradient id="b163" href="#T" x1="550.6" y1="98.4" x2="546.9" y2="89.1"><stop stop-color="#ff7906"/><stop offset="1" stop-color="#ff390c"/></linearGradient><linearGradient id="b164" href="#T" x1="545.3" y1="101" x2="541.6" y2="91.7"><stop stop-color="#ff7c06"/><stop offset="1" stop-color="#ff3c0c"/></linearGradient><linearGradient id="b165" href="#T" x1="540" y1="103.7" x2="536.2" y2="94.4"><stop stop-color="#ff7f06"/><stop offset="1" stop-color="#ff3e0b"/></linearGradient><linearGradient id="b166" href="#T" x1="534.6" y1="106.4" x2="530.8" y2="97"><stop stop-color="#ff8206"/><stop offset="1" stop-color="#ff410b"/></linearGradient><linearGradient id="b167" href="#T" x1="529.2" y1="109.1" x2="525.3" y2="99.7"><stop stop-color="#ff8506"/><stop offset="1" stop-color="#ff440b"/></linearGradient><linearGradient id="b168" href="#T" x1="523.7" y1="111.9" x2="519.7" y2="102.4"><stop stop-color="#ff8806"/><stop offset="1" stop-color="#ff460b"/></linearGradient><linearGradient id="b169" href="#T" x1="518.1" y1="114.7" x2="514.1" y2="105.1"><stop stop-color="#ff8a06"/><stop offset="1" stop-color="#ff490b"/></linearGradient><linearGradient id="b170" href="#T" x1="508.4" y1="107.9" x2="512.5" y2="117.5"><stop stop-color="#ff4b0b"/><stop offset="1" stop-color="#ff8d06"/></linearGradient><linearGradient id="b171" href="#T" x1="502.7" y1="110.6" x2="506.8" y2="120.3"><stop stop-color="#ff4d0a"/><stop offset="1" stop-color="#ff8f06"/></linearGradient><linearGradient id="b172" href="#T" x1="496.9" y1="113.4" x2="501" y2="123.1"><stop stop-color="#ff4f0a"/><stop offset="1" stop-color="#ff9106"/></linearGradient><linearGradient id="b173" href="#T" x1="491" y1="116.3" x2="495.1" y2="126"><stop stop-color="#ff510a"/><stop offset="1" stop-color="#ff9306"/></linearGradient><linearGradient id="b174" href="#T" x1="485" y1="119.1" x2="489.2" y2="128.9"><stop stop-color="#ff530a"/><stop offset="1" stop-color="#ff9605"/></linearGradient><linearGradient id="b175" href="#T" x1="478.9" y1="122" x2="483.2" y2="131.9"><stop stop-color="#ff550a"/><stop offset="1" stop-color="#ff9805"/></linearGradient><linearGradient id="b176" href="#T" x1="472.8" y1="124.9" x2="477.1" y2="134.8"><stop stop-color="#ff5609"/><stop offset="1" stop-color="#ff9905"/></linearGradient><linearGradient id="b177" href="#T" x1="466.6" y1="127.8" x2="470.9" y2="137.8"><stop stop-color="#ff5809"/><stop offset="1" stop-color="#ff9b05"/></linearGradient><linearGradient id="b178" href="#T" x1="581.7" y1="93.9" x2="577.7" y2="84.1"><stop stop-color="#ffb304"/><stop offset="1" stop-color="#ff6507"/></linearGradient><linearGradient id="b179" href="#T" x1="576.8" y1="96.5" x2="572.7" y2="86.7"><stop stop-color="#ffb604"/><stop offset="1" stop-color="#ff6907"/></linearGradient><linearGradient id="b180" href="#T" x1="571.8" y1="99.2" x2="567.7" y2="89.3"><stop stop-color="#ffba04"/><stop offset="1" stop-color="#ff6c07"/></linearGradient><linearGradient id="b181" href="#T" x1="566.7" y1="101.8" x2="562.6" y2="91.9"><stop stop-color="#ffbe04"/><stop offset="1" stop-color="#ff7007"/></linearGradient><linearGradient id="b182" href="#T" x1="561.6" y1="104.5" x2="557.4" y2="94.5"><stop stop-color="#ffc103"/><stop offset="1" stop-color="#ff7307"/></linearGradient><linearGradient id="b183" href="#T" x1="556.4" y1="107.2" x2="552.2" y2="97.2"><stop stop-color="#ffc403"/><stop offset="1" stop-color="#ff7607"/></linearGradient><linearGradient id="b184" href="#T" x1="551.2" y1="110" x2="546.9" y2="99.9"><stop stop-color="#ffc803"/><stop offset="1" stop-color="#ff7906"/></linearGradient><linearGradient id="b185" href="#T" x1="545.9" y1="112.7" x2="541.6" y2="102.6"><stop stop-color="#ffcb03"/><stop offset="1" stop-color="#ff7c06"/></linearGradient><linearGradient id="b186" href="#T" x1="540.5" y1="115.5" x2="536.2" y2="105.3"><stop stop-color="#ffce03"/><stop offset="1" stop-color="#ff7f06"/></linearGradient><linearGradient id="b187" href="#T" x1="535.1" y1="118.3" x2="530.7" y2="108"><stop stop-color="#ffd103"/><stop offset="1" stop-color="#ff8206"/></linearGradient><linearGradient id="b188" href="#T" x1="529.6" y1="121.1" x2="525.2" y2="110.8"><stop stop-color="#ffd403"/><stop offset="1" stop-color="#ff8506"/></linearGradient><linearGradient id="b189" href="#T" x1="524.1" y1="124" x2="519.6" y2="113.6"><stop stop-color="#ffd603"/><stop offset="1" stop-color="#ff8806"/></linearGradient><linearGradient id="b190" href="#T" x1="518.4" y1="126.9" x2="513.9" y2="116.4"><stop stop-color="#ffd903"/><stop offset="1" stop-color="#ff8a06"/></linearGradient><linearGradient id="b191" href="#T" x1="512.7" y1="129.8" x2="508.2" y2="119.3"><stop stop-color="#ffdc03"/><stop offset="1" stop-color="#ff8d06"/></linearGradient><linearGradient id="b192" href="#T" x1="507" y1="132.7" x2="502.4" y2="122.2"><stop stop-color="#ffde03"/><stop offset="1" stop-color="#ff8f06"/></linearGradient><linearGradient id="b193" href="#T" x1="501.1" y1="135.7" x2="496.5" y2="125.1"><stop stop-color="#ffe103"/><stop offset="1" stop-color="#ff9106"/></linearGradient><linearGradient id="b194" href="#T" x1="495.2" y1="138.7" x2="490.5" y2="128"><stop stop-color="#ffe303"/><stop offset="1" stop-color="#ff9406"/></linearGradient><linearGradient id="b195" href="#T" x1="489.2" y1="141.7" x2="484.5" y2="131"><stop stop-color="#ffe503"/><stop offset="1" stop-color="#ff9605"/></linearGradient><linearGradient id="b196" href="#T" x1="483.2" y1="144.7" x2="478.4" y2="134"><stop stop-color="#ffe703"/><stop offset="1" stop-color="#ff9805"/></linearGradient><linearGradient id="b197" href="#T" x1="477" y1="147.8" x2="472.2" y2="137"><stop stop-color="#ffe903"/><stop offset="1" stop-color="#ff9905"/></linearGradient><linearGradient id="b198" href="#T" x1="587.6" y1="103.2" x2="582.8" y2="93"><stop stop-color="#f3fd02"/><stop offset=".14" stop-color="#fffd03"/><stop offset="1" stop-color="#ffb004"/></linearGradient><linearGradient id="b199" href="#T" x1="582.7" y1="105.9" x2="577.9" y2="95.6"><stop stop-color="#eefc02"/><stop offset=".18" stop-color="#fffd03"/><stop offset="1" stop-color="#ffb404"/></linearGradient><linearGradient id="b200" href="#T" x1="577.7" y1="108.7" x2="572.9" y2="98.3"><stop stop-color="#eafc02"/><stop offset=".23" stop-color="#fffd03"/><stop offset="1" stop-color="#ffb704"/></linearGradient><linearGradient id="b201" href="#T" x1="572.6" y1="111.4" x2="567.8" y2="100.9"><stop stop-color="#e6fc02"/><stop offset=".27" stop-color="#fffd03"/><stop offset="1" stop-color="#ffbb04"/></linearGradient><linearGradient id="b202" href="#T" x1="567.5" y1="114.2" x2="562.7" y2="103.6"><stop stop-color="#e3fc02"/><stop offset=".31" stop-color="#fffd03"/><stop offset="1" stop-color="#ffbe04"/></linearGradient><linearGradient id="b203" href="#T" x1="562.3" y1="117" x2="557.5" y2="106.3"><stop stop-color="#dffc02"/><stop offset=".35" stop-color="#fffd03"/><stop offset="1" stop-color="#ffc204"/></linearGradient><linearGradient id="b204" href="#T" x1="557.1" y1="119.9" x2="552.3" y2="109"><stop stop-color="#dbfb02"/><stop offset=".38" stop-color="#fffd03"/><stop offset="1" stop-color="#ffc503"/></linearGradient><linearGradient id="b205" href="#T" x1="551.8" y1="122.7" x2="547" y2="111.8"><stop stop-color="#d8fb02"/><stop offset=".42" stop-color="#fffd03"/><stop offset="1" stop-color="#ffc803"/></linearGradient><linearGradient id="b206" href="#T" x1="546.4" y1="125.6" x2="541.6" y2="114.6"><stop stop-color="#d4fb02"/><stop offset=".45" stop-color="#fffd03"/><stop offset="1" stop-color="#ffcc03"/></linearGradient><linearGradient id="b207" href="#T" x1="541" y1="128.4" x2="536.1" y2="117.4"><stop stop-color="#d1fa02"/><stop offset=".49" stop-color="#fffd03"/><stop offset="1" stop-color="#ffcf03"/></linearGradient><linearGradient id="b208" href="#T" x1="535.6" y1="131.4" x2="530.6" y2="120.3"><stop stop-color="#cefa02"/><stop offset=".52" stop-color="#fffd03"/><stop offset="1" stop-color="#ffd203"/></linearGradient><linearGradient id="b209" href="#T" x1="530" y1="134.3" x2="525" y2="123.1"><stop stop-color="#cbfa02"/><stop offset=".55" stop-color="#fffd03"/><stop offset="1" stop-color="#ffd403"/></linearGradient><linearGradient id="b210" href="#T" x1="524.4" y1="137.2" x2="519.4" y2="126"><stop stop-color="#c8fa02"/><stop offset=".58" stop-color="#fefc02"/><stop offset="1" stop-color="#ffd703"/></linearGradient><linearGradient id="b211" href="#T" x1="518.8" y1="140.2" x2="513.7" y2="129"><stop stop-color="#c5fa02"/><stop offset=".61" stop-color="#fefc02"/><stop offset="1" stop-color="#ffda03"/></linearGradient><linearGradient id="b212" href="#T" x1="513" y1="143.2" x2="507.9" y2="131.9"><stop stop-color="#c3f902"/><stop offset=".64" stop-color="#fefc02"/><stop offset="1" stop-color="#ffdd03"/></linearGradient><linearGradient id="b213" href="#T" x1="507.2" y1="146.3" x2="502" y2="134.9"><stop stop-color="#c0f902"/><stop offset=".67" stop-color="#fefc02"/><stop offset="1" stop-color="#ffdf03"/></linearGradient><linearGradient id="b214" href="#T" x1="501.3" y1="149.3" x2="496.1" y2="138"><stop stop-color="#bef902"/><stop offset=".69" stop-color="#fefc02"/><stop offset="1" stop-color="#ffe103"/></linearGradient><linearGradient id="b215" href="#T" x1="495.4" y1="152.4" x2="490.1" y2="141"><stop stop-color="#bbf902"/><stop offset=".72" stop-color="#fefc02"/><stop offset="1" stop-color="#ffe403"/></linearGradient><linearGradient id="b216" href="#T" x1="489.4" y1="155.5" x2="484" y2="144.1"><stop stop-color="#b9f902"/><stop offset=".74" stop-color="#fefc02"/><stop offset="1" stop-color="#ffe603"/></linearGradient><linearGradient id="b217" href="#T" x1="483.2" y1="158.7" x2="477.8" y2="147.2"><stop stop-color="#b7f802"/><stop offset=".77" stop-color="#fefc02"/><stop offset="1" stop-color="#ffe803"/></linearGradient><linearGradient id="b218" href="#T" x1="593.2" y1="113.8" x2="588.2" y2="102.5"><stop stop-color="#8cf601"/><stop offset="1" stop-color="#f5fc02"/></linearGradient><linearGradient id="b219" href="#T" x1="588.3" y1="116.6" x2="583.2" y2="105.2"><stop stop-color="#87f501"/><stop offset="1" stop-color="#f1fb02"/></linearGradient><linearGradient id="b220" href="#T" x1="583.4" y1="119.4" x2="578.2" y2="108"><stop stop-color="#83f501"/><stop offset="1" stop-color="#edfb02"/></linearGradient><linearGradient id="b221" href="#T" x1="578.3" y1="122.2" x2="573.2" y2="110.7"><stop stop-color="#7ff501"/><stop offset="1" stop-color="#e9fb02"/></linearGradient><linearGradient id="b222" href="#T" x1="573.3" y1="125" x2="568" y2="113.5"><stop stop-color="#7bf501"/><stop offset="1" stop-color="#e5fb02"/></linearGradient><linearGradient id="b223" href="#T" x1="568.1" y1="127.9" x2="562.9" y2="116.3"><stop stop-color="#77f501"/><stop offset="1" stop-color="#e1fb02"/></linearGradient><linearGradient id="b224" href="#T" x1="562.9" y1="130.8" x2="557.6" y2="119.1"><stop stop-color="#74f401"/><stop offset="1" stop-color="#defa02"/></linearGradient><linearGradient id="b225" href="#T" x1="557.7" y1="133.7" x2="552.3" y2="122"><stop stop-color="#70f401"/><stop offset="1" stop-color="#dafa02"/></linearGradient><linearGradient id="b226" href="#T" x1="552.4" y1="136.6" x2="547" y2="124.9"><stop stop-color="#6df401"/><stop offset="1" stop-color="#d7fa02"/></linearGradient><linearGradient id="b227" href="#T" x1="547" y1="139.6" x2="541.5" y2="127.8"><stop stop-color="#6af401"/><stop offset="1" stop-color="#d3fa02"/></linearGradient><linearGradient id="b228" href="#T" x1="541.6" y1="142.6" x2="536.1" y2="130.7"><stop stop-color="#66f401"/><stop offset="1" stop-color="#d0fa02"/></linearGradient><linearGradient id="b229" href="#T" x1="536" y1="145.6" x2="530.5" y2="133.7"><stop stop-color="#63f401"/><stop offset="1" stop-color="#cdf902"/></linearGradient><linearGradient id="b230" href="#T" x1="530.5" y1="148.6" x2="524.9" y2="136.6"><stop stop-color="#61f301"/><stop offset="1" stop-color="#caf902"/></linearGradient><linearGradient id="b231" href="#T" x1="524.8" y1="151.7" x2="519.2" y2="139.7"><stop stop-color="#5ef301"/><stop offset="1" stop-color="#c7f902"/></linearGradient><linearGradient id="b232" href="#T" x1="519.1" y1="154.8" x2="513.4" y2="142.7"><stop stop-color="#5bf301"/><stop offset="1" stop-color="#c5f902"/></linearGradient><linearGradient id="b233" href="#T" x1="513.3" y1="157.9" x2="507.6" y2="145.8"><stop stop-color="#59f301"/><stop offset="1" stop-color="#c2f902"/></linearGradient><linearGradient id="b234" href="#T" x1="507.4" y1="161" x2="501.7" y2="148.8"><stop stop-color="#56f301"/><stop offset="1" stop-color="#bff902"/></linearGradient><linearGradient id="b235" href="#T" x1="501.5" y1="164.2" x2="495.7" y2="152"><stop stop-color="#54f301"/><stop offset="1" stop-color="#bdf902"/></linearGradient><linearGradient id="b236" href="#T" x1="495.5" y1="167.4" x2="489.7" y2="155.1"><stop stop-color="#52f301"/><stop offset="1" stop-color="#bbf802"/></linearGradient><linearGradient id="b237" href="#T" x1="489.4" y1="170.7" x2="483.5" y2="158.3"><stop stop-color="#50f301"/><stop offset="1" stop-color="#b9f802"/></linearGradient><linearGradient id="b238" href="#T" x1="598.9" y1="125.1" x2="593.4" y2="113.1"><stop stop-color="#1bf001"/><stop offset="1" stop-color="#90f601"/></linearGradient><linearGradient id="b239" href="#T" x1="594.1" y1="128" x2="588.5" y2="115.9"><stop stop-color="#17f001"/><stop offset="1" stop-color="#8cf601"/></linearGradient><linearGradient id="b240" href="#T" x1="589.1" y1="130.9" x2="583.5" y2="118.8"><stop stop-color="#12ef01"/><stop offset="1" stop-color="#87f501"/></linearGradient><linearGradient id="b241" href="#T" x1="584.1" y1="133.8" x2="578.4" y2="121.6"><stop stop-color="#0eef01"/><stop offset="1" stop-color="#83f501"/></linearGradient><linearGradient id="b242" href="#T" x1="579.1" y1="136.8" x2="573.3" y2="124.5"><stop stop-color="#0aef01"/><stop offset="1" stop-color="#7ff501"/></linearGradient><linearGradient id="b243" href="#T" x1="574" y1="139.7" x2="568.2" y2="127.4"><stop stop-color="#06ef01"/><stop offset="1" stop-color="#7bf501"/></linearGradient><linearGradient id="b244" href="#T" x1="568.8" y1="142.7" x2="563" y2="130.3"><stop stop-color="#02ef01"/><stop offset="1" stop-color="#77f501"/></linearGradient><linearGradient id="b245" href="#T" x1="563.7" y1="145.6" x2="557.6" y2="133.3"><stop stop-color="#00ee01"/><stop offset="1" stop-color="#73f401"/></linearGradient><linearGradient id="b246" href="#T" x1="558.5" y1="148.5" x2="552.2" y2="136.4"><stop stop-color="#00ee04"/><stop offset="1" stop-color="#6ff401"/></linearGradient><linearGradient id="b247" href="#T" x1="553.1" y1="151.6" x2="546.8" y2="139.3"><stop stop-color="#00ee07"/><stop offset="1" stop-color="#6cf401"/></linearGradient><linearGradient id="b248" href="#T" x1="547.7" y1="154.7" x2="541.4" y2="142.3"><stop stop-color="#00ee0a"/><stop offset=".10" stop-color="#01ef01"/><stop offset="1" stop-color="#69f401"/></linearGradient><linearGradient id="b249" href="#T" x1="542.2" y1="157.8" x2="535.9" y2="145.4"><stop stop-color="#00ed0d"/><stop offset=".13" stop-color="#01ef01"/><stop offset="1" stop-color="#66f401"/></linearGradient><linearGradient id="b250" href="#T" x1="536.6" y1="160.9" x2="530.3" y2="148.4"><stop stop-color="#00ed10"/><stop offset=".15" stop-color="#01ef01"/><stop offset="1" stop-color="#63f401"/></linearGradient><linearGradient id="b251" href="#T" x1="531" y1="164" x2="524.6" y2="151.5"><stop stop-color="#00ed12"/><stop offset=".18" stop-color="#01ef01"/><stop offset="1" stop-color="#60f301"/></linearGradient><linearGradient id="b252" href="#T" x1="525.3" y1="167.2" x2="518.9" y2="154.6"><stop stop-color="#00ed15"/><stop offset=".20" stop-color="#01ef01"/><stop offset="1" stop-color="#5df301"/></linearGradient><linearGradient id="b253" href="#T" x1="519.5" y1="170.4" x2="513.1" y2="157.7"><stop stop-color="#00ed17"/><stop offset=".22" stop-color="#01ef01"/><stop offset="1" stop-color="#5bf301"/></linearGradient><linearGradient id="b254" href="#T" x1="513.7" y1="173.6" x2="507.2" y2="160.9"><stop stop-color="#00ed19"/><stop offset=".24" stop-color="#01ef01"/><stop offset="1" stop-color="#58f301"/></linearGradient><linearGradient id="b255" href="#T" x1="507.7" y1="176.9" x2="501.3" y2="164"><stop stop-color="#00ec1b"/><stop offset=".26" stop-color="#01ef01"/><stop offset="1" stop-color="#56f301"/></linearGradient><linearGradient id="b256" href="#T" x1="501.8" y1="180.2" x2="495.3" y2="167.3"><stop stop-color="#00ec1c"/><stop offset=".27" stop-color="#01ef01"/><stop offset="1" stop-color="#54f301"/></linearGradient><linearGradient id="b257" href="#T" x1="495.7" y1="183.5" x2="489.2" y2="170.5"><stop stop-color="#00ec1e"/><stop offset=".29" stop-color="#01ef01"/><stop offset="1" stop-color="#52f301"/></linearGradient><linearGradient id="b258" href="#T" x1="604.7" y1="137.3" x2="598.5" y2="124.8"><stop stop-color="#00e757"/><stop offset=".75" stop-color="#00ee00"/><stop offset="1" stop-color="#1ef000"/></linearGradient><linearGradient id="b259" href="#T" x1="599.9" y1="140.3" x2="593.5" y2="127.7"><stop stop-color="#00e75c"/><stop offset=".79" stop-color="#00ee00"/><stop offset="1" stop-color="#1af000"/></linearGradient><linearGradient id="b260" href="#T" x1="595" y1="143.3" x2="588.6" y2="130.7"><stop stop-color="#00e761"/><stop offset=".83" stop-color="#00ee00"/><stop offset="1" stop-color="#15f000"/></linearGradient><linearGradient id="b261" href="#T" x1="590.1" y1="146.3" x2="583.5" y2="133.7"><stop stop-color="#00e665"/><stop offset=".87" stop-color="#00ee00"/><stop offset="1" stop-color="#10ef00"/></linearGradient><linearGradient id="b262" href="#T" x1="585.1" y1="149.3" x2="578.4" y2="136.7"><stop stop-color="#00e66a"/><stop offset=".90" stop-color="#00ee00"/><stop offset="1" stop-color="#0cef00"/></linearGradient><linearGradient id="b263" href="#T" x1="580" y1="152.4" x2="573.3" y2="139.7"><stop stop-color="#00e66d"/><stop offset="1" stop-color="#08ef00"/></linearGradient><linearGradient id="b264" href="#T" x1="574.9" y1="155.4" x2="568.1" y2="142.7"><stop stop-color="#00e571"/><stop offset="1" stop-color="#04ef00"/></linearGradient><linearGradient id="b265" href="#T" x1="569.6" y1="158.6" x2="562.9" y2="145.6"><stop stop-color="#00e575"/><stop offset="1" stop-color="#01ef00"/></linearGradient><linearGradient id="b266" href="#T" x1="564.3" y1="161.8" x2="557.7" y2="148.6"><stop stop-color="#00e579"/><stop offset="1" stop-color="#01ee03"/></linearGradient><linearGradient id="b267" href="#T" x1="559" y1="165" x2="552.3" y2="151.6"><stop stop-color="#00e57c"/><stop offset="1" stop-color="#00ee06"/></linearGradient><linearGradient id="b268" href="#T" x1="553.6" y1="168.1" x2="546.9" y2="154.7"><stop stop-color="#00e47f"/><stop offset="1" stop-color="#00ee09"/></linearGradient><linearGradient id="b269" href="#T" x1="548.1" y1="171.3" x2="541.4" y2="157.8"><stop stop-color="#00e482"/><stop offset="1" stop-color="#00ee0c"/></linearGradient><linearGradient id="b270" href="#T" x1="542.6" y1="174.4" x2="535.8" y2="161"><stop stop-color="#00e484"/><stop offset="1" stop-color="#00ed0e"/></linearGradient><linearGradient id="b271" href="#T" x1="537" y1="177.6" x2="530.2" y2="164.2"><stop stop-color="#00e486"/><stop offset="1" stop-color="#00ed11"/></linearGradient><linearGradient id="b272" href="#T" x1="531.4" y1="180.9" x2="524.5" y2="167.3"><stop stop-color="#00e488"/><stop offset="1" stop-color="#00ed13"/></linearGradient><linearGradient id="b273" href="#T" x1="525.6" y1="184.1" x2="518.7" y2="170.6"><stop stop-color="#00e38a"/><stop offset="1" stop-color="#00ed16"/></linearGradient><linearGradient id="b274" href="#T" x1="519.8" y1="187.4" x2="512.9" y2="173.8"><stop stop-color="#00e38b"/><stop offset="1" stop-color="#00ed18"/></linearGradient><linearGradient id="b275" href="#T" x1="513.9" y1="190.7" x2="507" y2="177.1"><stop stop-color="#00e38d"/><stop offset="1" stop-color="#00ed1a"/></linearGradient><linearGradient id="b276" href="#T" x1="508" y1="194" x2="501" y2="180.4"><stop stop-color="#00e38e"/><stop offset="1" stop-color="#01ec1c"/></linearGradient><linearGradient id="b277" href="#T" x1="502" y1="197.3" x2="494.9" y2="183.7"><stop stop-color="#00e38f"/><stop offset="1" stop-color="#01ec1d"/></linearGradient><linearGradient id="b278" href="#T" x1="610.3" y1="150.7" x2="603.7" y2="137.2"><stop stop-color="#00ded4"/><stop offset="1" stop-color="#00e853"/></linearGradient><linearGradient id="b279" href="#T" x1="605.5" y1="153.9" x2="598.8" y2="140.3"><stop stop-color="#00ddd9"/><stop offset="1" stop-color="#00e758"/></linearGradient><linearGradient id="b280" href="#T" x1="600.6" y1="157" x2="593.8" y2="143.3"><stop stop-color="#00dddf"/><stop offset="1" stop-color="#00e75d"/></linearGradient><linearGradient id="b281" href="#T" x1="595.7" y1="160.2" x2="588.8" y2="146.4"><stop stop-color="#00dce4"/><stop offset="1" stop-color="#00e762"/></linearGradient><linearGradient id="b282" href="#T" x1="583.6" y1="149.7" x2="590.9" y2="163.2"><stop stop-color="#00e667"/><stop offset="1" stop-color="#00dbe7"/></linearGradient><linearGradient id="b283" href="#T" x1="578.5" y1="152.9" x2="585.9" y2="166.3"><stop stop-color="#00e66b"/><stop offset="1" stop-color="#00d7e8"/></linearGradient><linearGradient id="b284" href="#T" x1="573.3" y1="156" x2="580.8" y2="169.5"><stop stop-color="#00e66f"/><stop offset=".92" stop-color="#00dce6"/><stop offset="1" stop-color="#00d3e8"/></linearGradient><linearGradient id="b285" href="#T" x1="568.1" y1="159.1" x2="575.6" y2="172.7"><stop stop-color="#00e573"/><stop offset=".89" stop-color="#00dce6"/><stop offset="1" stop-color="#00d0e8"/></linearGradient><linearGradient id="b286" href="#T" x1="562.9" y1="162.2" x2="570.4" y2="176"><stop stop-color="#00e576"/><stop offset=".86" stop-color="#00dce6"/><stop offset="1" stop-color="#00cce8"/></linearGradient><linearGradient id="b287" href="#T" x1="565.1" y1="179.2" x2="557.5" y2="165.3"><stop stop-color="#00c9e8"/><stop offset=".17" stop-color="#00dce6"/><stop offset="1" stop-color="#00e57a"/></linearGradient><linearGradient id="b288" href="#T" x1="552.2" y1="168.5" x2="559.7" y2="182.5"><stop stop-color="#00e57d"/><stop offset=".81" stop-color="#00dce6"/><stop offset="1" stop-color="#00c6e8"/></linearGradient><linearGradient id="b289" href="#T" x1="554.3" y1="185.7" x2="546.7" y2="171.7"><stop stop-color="#00c4e8"/><stop offset=".21" stop-color="#00dce6"/><stop offset="1" stop-color="#00e47f"/></linearGradient><linearGradient id="b290" href="#T" x1="548.8" y1="189" x2="541.2" y2="174.9"><stop stop-color="#00c2e8"/><stop offset=".23" stop-color="#00dce6"/><stop offset="1" stop-color="#00e482"/></linearGradient><linearGradient id="b291" href="#T" x1="543.2" y1="192.2" x2="535.6" y2="178.1"><stop stop-color="#00c0e8"/><stop offset=".24" stop-color="#00dce6"/><stop offset="1" stop-color="#00e484"/></linearGradient><linearGradient id="b292" href="#T" x1="537.6" y1="195.5" x2="529.9" y2="181.4"><stop stop-color="#00bfe8"/><stop offset=".25" stop-color="#00dce6"/><stop offset="1" stop-color="#00e486"/></linearGradient><linearGradient id="b293" href="#T" x1="531.8" y1="198.8" x2="524.2" y2="184.6"><stop stop-color="#00bee8"/><stop offset=".26" stop-color="#00dce6"/><stop offset="1" stop-color="#00e488"/></linearGradient><linearGradient id="b294" href="#T" x1="518.4" y1="187.9" x2="526.1" y2="202.1"><stop stop-color="#00e48a"/><stop offset=".73" stop-color="#00dce6"/><stop offset="1" stop-color="#00bde8"/></linearGradient><linearGradient id="b295" href="#T" x1="512.6" y1="191.2" x2="520.2" y2="205.4"><stop stop-color="#00e38c"/><stop offset=".72" stop-color="#00dce6"/><stop offset="1" stop-color="#00bde8"/></linearGradient><linearGradient id="b296" href="#T" x1="506.6" y1="194.5" x2="514.3" y2="208.7"><stop stop-color="#00e38d"/><stop offset=".72" stop-color="#00dce6"/><stop offset="1" stop-color="#00bce8"/></linearGradient><linearGradient id="b297" href="#T" x1="508.3" y1="212" x2="500.6" y2="197.9"><stop stop-color="#00bde8"/><stop offset=".28" stop-color="#00dce6"/><stop offset="1" stop-color="#00e38e"/></linearGradient><linearGradient id="b298" href="#T" x1="616.1" y1="164.8" x2="608.6" y2="150.8"><stop stop-color="#0073ec"/><stop offset=".83" stop-color="#00dce6"/><stop offset="1" stop-color="#00e0d0"/></linearGradient><linearGradient id="b299" href="#T" x1="611.3" y1="168.1" x2="603.7" y2="154.1"><stop stop-color="#006cec"/><stop offset=".87" stop-color="#00dce6"/><stop offset="1" stop-color="#00dfd6"/></linearGradient><linearGradient id="b300" href="#T" x1="606.5" y1="171.5" x2="598.7" y2="157.4"><stop stop-color="#0065ec"/><stop offset=".92" stop-color="#00dce6"/><stop offset="1" stop-color="#00dedc"/></linearGradient><linearGradient id="b301" href="#T" x1="601.7" y1="174.8" x2="593.7" y2="160.7"><stop stop-color="#005fec"/><stop offset="1" stop-color="#00dee1"/></linearGradient><linearGradient id="b302" href="#T" x1="596.6" y1="178.3" x2="588.8" y2="163.8"><stop stop-color="#0059ec"/><stop offset="1" stop-color="#00dde5"/></linearGradient><linearGradient id="b303" href="#T" x1="591.6" y1="181.8" x2="583.8" y2="166.9"><stop stop-color="#0053ed"/><stop offset="1" stop-color="#00d9e6"/></linearGradient><linearGradient id="b304" href="#T" x1="586.5" y1="185.1" x2="578.6" y2="170.2"><stop stop-color="#004fed"/><stop offset="1" stop-color="#00d5e6"/></linearGradient><linearGradient id="b305" href="#T" x1="581.4" y1="188.4" x2="573.4" y2="173.5"><stop stop-color="#004bed"/><stop offset="1" stop-color="#00d1e7"/></linearGradient><linearGradient id="b306" href="#T" x1="576.2" y1="191.7" x2="568.2" y2="176.8"><stop stop-color="#0047ed"/><stop offset="1" stop-color="#00cee7"/></linearGradient><linearGradient id="b307" href="#T" x1="571" y1="195" x2="562.8" y2="180"><stop stop-color="#0044ed"/><stop offset="1" stop-color="#00cbe7"/></linearGradient><linearGradient id="b308" href="#T" x1="565.7" y1="198.3" x2="557.5" y2="183.3"><stop stop-color="#0042ed"/><stop offset="1" stop-color="#00c8e7"/></linearGradient><linearGradient id="b309" href="#T" x1="560.3" y1="201.6" x2="552" y2="186.6"><stop stop-color="#0040ed"/><stop offset="1" stop-color="#00c5e7"/></linearGradient><linearGradient id="b310" href="#T" x1="554.8" y1="204.9" x2="546.5" y2="189.9"><stop stop-color="#003fee"/><stop offset="1" stop-color="#00c3e7"/></linearGradient><linearGradient id="b311" href="#T" x1="549.3" y1="208.2" x2="541" y2="193.2"><stop stop-color="#003eee"/><stop offset="1" stop-color="#00c1e7"/></linearGradient><linearGradient id="b312" href="#T" x1="543.7" y1="211.4" x2="535.4" y2="196.5"><stop stop-color="#003dee"/><stop offset="1" stop-color="#00bfe7"/></linearGradient><linearGradient id="b313" href="#T" x1="538.1" y1="214.7" x2="529.7" y2="199.8"><stop stop-color="#003eee"/><stop offset="1" stop-color="#00bee8"/></linearGradient><linearGradient id="b314" href="#T" x1="532.3" y1="217.9" x2="523.9" y2="203.2"><stop stop-color="#003eee"/><stop offset="1" stop-color="#00bde8"/></linearGradient><linearGradient id="b315" href="#T" x1="526.5" y1="221.2" x2="518.1" y2="206.5"><stop stop-color="#003fee"/><stop offset="1" stop-color="#00bde8"/></linearGradient><linearGradient id="b316" href="#T" x1="520.7" y1="224.5" x2="512.2" y2="209.8"><stop stop-color="#0040ed"/><stop offset="1" stop-color="#00bde8"/></linearGradient><linearGradient id="b317" href="#T" x1="514.7" y1="227.7" x2="506.2" y2="213.1"><stop stop-color="#0042ed"/><stop offset="1" stop-color="#00bde8"/></linearGradient></defs>
<g class="m"><path d="M510.4,52.8 505.5,55.4 510.4,53.2 515.4,50.6z" fill="url(#b1)"/><path d="M505.4,55.1 500.5,57.7 505.5,55.4 510.4,52.8z" fill="url(#b2)"/><path d="M500.3,57.3 495.4,59.9 500.5,57.7 505.4,55.1z" fill="url(#b3)"/><path d="M495.2,59.4 490.2,62.1 495.4,59.9 500.3,57.3z" fill="url(#b4)"/><path d="M490,61.6 485.1,64.2 490.2,62.1 495.2,59.4z" fill="url(#b5)"/><path d="M484.7,63.7 479.8,66.3 485.1,64.2 490,61.6z" fill="url(#b6)"/><path d="M474,67.9 469.1,70.4 474.5,68.4 479.4,65.8z" fill="url(#b7)"/><path d="M468.6,69.9 463.7,72.4 469.1,70.4 474,67.9z" fill="url(#b8)"/><path d="M463.1,72 458.2,74.4 463.7,72.4 468.6,69.9z" fill="url(#b9)"/><path d="M457.5,74 452.7,76.4 458.2,74.4 463.1,72z" fill="url(#b10)"/><path d="M451.9,75.9 447,78.3 452.7,76.4 457.5,74z" fill="url(#b11)"/><path d="M446.1,77.9 441.4,80.2 447,78.3 451.9,75.9z" fill="url(#b12)"/><path d="M440.4,79.8 435.6,82 441.4,80.2 446.1,77.9z" fill="url(#b13)"/><path d="M434.5,81.7 429.8,83.8 435.6,82 440.4,79.8z" fill="url(#b14)"/><path d="M428.6,83.6 423.9,85.6 429.8,83.8 434.5,81.7z" fill="url(#b15)"/><path d="M422.6,85.4 417.9,87.4 423.9,85.6 428.6,83.6z" fill="url(#b16)"/><path d="M416.5,87.3 411.8,89.1 417.9,87.4 422.6,85.4z" fill="url(#b17)"/><path d="M410.4,89 405.7,90.8 411.8,89.1 416.5,87.3z" fill="url(#b18)"/><path d="M404.1,90.8 399.4,92.4 405.7,90.8 410.4,89z" fill="url(#b19)"/><path d="M515.5,51 510.4,52.8 515.4,50.6 520.5,48.7z" fill="#fe0606"/><path d="M510.4,53.2 505.4,55.1 510.4,52.8 515.5,51z" fill="#fe0606"/><path d="M505.3,55.4 500.3,57.3 505.4,55.1 510.4,53.2z" fill="#fe0706"/><path d="M500.2,57.6 495.2,59.4 500.3,57.3 505.3,55.4z" fill="#fe0806"/><path d="M495,59.7 490,61.6 495.2,59.4 500.2,57.6z" fill="#fe0905"/><path d="M489.7,61.9 484.7,63.7 490,61.6 495,59.7z" fill="#fe0a05"/><path d="M484.4,64 479.4,65.8 484.7,63.7 489.7,61.9z" fill="#fe0a05"/><path d="M479,66.1 474,67.9 479.4,65.8 484.4,64z" fill="#fe0a05"/><path d="M473.5,68.2 468.6,69.9 474,67.9 479,66.1z" fill="#fe0a05"/><path d="M468,70.3 463.1,72 468.6,69.9 473.5,68.2z" fill="#fe0905"/><path d="M462.4,72.3 457.5,74 463.1,72 468,70.3z" fill="#fe0805"/><path d="M456.8,74.4 451.9,75.9 457.5,74 462.4,72.3z" fill="#fe0705"/><path d="M451,76.4 446.1,77.9 451.9,75.9 456.8,74.4z" fill="#fe0605"/><path d="M445.3,78.4 440.4,79.8 446.1,77.9 451,76.4z" fill="#fe0606"/><path d="M439.4,80.4 434.5,81.7 440.4,79.8 445.3,78.4z" fill="#fe0606"/><path d="M433.5,82.3 428.6,83.6 434.5,81.7 439.4,80.4z" fill="#fe0606"/><path d="M427.4,84.3 422.6,85.4 428.6,83.6 433.5,82.3z" fill="#fe0606"/><path d="M421.4,86.2 416.5,87.3 422.6,85.4 427.4,84.3z" fill="#ff0606"/><path d="M415.2,88.1 410.4,89 416.5,87.3 421.4,86.2z" fill="#ff0707"/><path d="M408.9,90 404.1,90.8 410.4,89 415.2,88.1z" fill="#ff0707"/><path d="M520.6,49.9 515.5,51 520.5,48.7 525.6,47.7z" fill="#ff0c0c"/><path d="M515.6,52.1 510.4,53.2 515.5,51 520.6,49.9z" fill="#ff0c0c"/><path d="M510.4,54.3 505.3,55.4 510.4,53.2 515.6,52.1z" fill="#ff0c0c"/><path d="M505.3,56.5 500.2,57.6 505.3,55.4 510.4,54.3z" fill="#ff0b0b"/><path d="M500.1,58.7 495,59.7 500.2,57.6 505.3,56.5z" fill="#ff0b0b"/><path d="M494.8,60.8 489.7,61.9 495,59.7 500.1,58.7z" fill="#ff0b0b"/><path d="M489.4,63 484.4,64 489.7,61.9 494.8,60.8z" fill="#ff0b0b"/><path d="M484,65.1 479,66.1 484.4,64 489.4,63z" fill="#ff0b0b"/><path d="M478.6,67.3 473.5,68.2 479,66.1 484,65.1z" fill="#ff0b0b"/><path d="M473,69.4 468,70.3 473.5,68.2 478.6,67.3z" fill="#ff0b0b"/><path d="M467.4,71.5 462.4,72.3 468,70.3 473,69.4z" fill="#ff0b0b"/><path d="M461.8,73.6 456.8,74.4 462.4,72.3 467.4,71.5z" fill="#ff0b0b"/><path d="M456,75.7 451,76.4 456.8,74.4 461.8,73.6z" fill="#ff0b0b"/><path d="M450.2,77.8 445.3,78.4 451,76.4 456,75.7z" fill="#ff0b0b"/><path d="M444.4,79.8 439.4,80.4 445.3,78.4 450.2,77.8z" fill="#ff0c0c"/><path d="M438.4,81.9 433.5,82.3 439.4,80.4 444.4,79.8z" fill="#ff0c0c"/><path d="M432.4,83.9 427.4,84.3 433.5,82.3 438.4,81.9z" fill="#ff0c0c"/><path d="M426.3,86 421.4,86.2 427.4,84.3 432.4,83.9z" fill="#ff0d0d"/><path d="M420.1,88 415.2,88.1 421.4,86.2 426.3,86z" fill="#ff0d0d"/><path d="M413.9,90 408.9,90 415.2,88.1 420.1,88z" fill="#ff0e0e"/><path d="M525.8,49.6 520.6,49.9 525.6,47.7 530.8,47.4z" fill="url(#b20)"/><path d="M520.7,51.8 515.6,52.1 520.6,49.9 525.8,49.6z" fill="url(#b21)"/><path d="M515.6,54 510.4,54.3 515.6,52.1 520.7,51.8z" fill="url(#b22)"/><path d="M510.4,56.2 505.3,56.5 510.4,54.3 515.6,54z" fill="url(#b23)"/><path d="M505.2,58.4 500.1,58.7 505.3,56.5 510.4,56.2z" fill="url(#b24)"/><path d="M499.9,60.6 494.8,60.8 500.1,58.7 505.2,58.4z" fill="url(#b25)"/><path d="M494.6,62.8 489.4,63 494.8,60.8 499.9,60.6z" fill="url(#b26)"/><path d="M489.2,65 484,65.1 489.4,63 494.6,62.8z" fill="url(#b27)"/><path d="M483.7,67.2 478.6,67.3 484,65.1 489.2,65z" fill="url(#b28)"/><path d="M478.2,69.4 473,69.4 478.6,67.3 483.7,67.2z" fill="url(#b29)"/><path d="M472.6,71.5 467.4,71.5 473,69.4 478.2,69.4z" fill="url(#b30)"/><path d="M466.9,73.7 461.8,73.6 467.4,71.5 472.6,71.5z" fill="url(#b31)"/><path d="M461.1,75.9 456,75.7 461.8,73.6 466.9,73.7z" fill="url(#b32)"/><path d="M455.3,78 450.2,77.8 456,75.7 461.1,75.9z" fill="url(#b33)"/><path d="M449.5,80.2 444.4,79.8 450.2,77.8 455.3,78z" fill="url(#b34)"/><path d="M443.5,82.3 438.4,81.9 444.4,79.8 449.5,80.2z" fill="url(#b35)"/><path d="M437.5,84.4 432.4,83.9 438.4,81.9 443.5,82.3z" fill="url(#b36)"/><path d="M431.4,86.6 426.3,86 432.4,83.9 437.5,84.4z" fill="url(#b37)"/><path d="M425.2,88.7 420.1,88 426.3,86 431.4,86.6z" fill="url(#b38)"/><path d="M418.9,90.8 413.9,90 420.1,88 425.2,88.7z" fill="url(#b39)"/><path d="M531,50.1 525.8,49.6 530.8,47.4 536,47.9z" fill="url(#b40)"/><path d="M526,52.3 520.7,51.8 525.8,49.6 531,50.1z" fill="url(#b41)"/><path d="M520.9,54.6 515.6,54 520.7,51.8 526,52.3z" fill="url(#b42)"/><path d="M515.7,56.8 510.4,56.2 515.6,54 520.9,54.6z" fill="url(#b43)"/><path d="M510.4,59 505.2,58.4 510.4,56.2 515.7,56.8z" fill="url(#b44)"/><path d="M505.2,61.3 499.9,60.6 505.2,58.4 510.4,59z" fill="url(#b45)"/><path d="M499.8,63.5 494.6,62.8 499.9,60.6 505.2,61.3z" fill="url(#b46)"/><path d="M494.4,65.7 489.2,65 494.6,62.8 499.8,63.5z" fill="url(#b47)"/><path d="M488.9,68 483.7,67.2 489.2,65 494.4,65.7z" fill="url(#b48)"/><path d="M483.4,70.2 478.2,69.4 483.7,67.2 488.9,68z" fill="url(#b49)"/><path d="M477.8,72.4 472.6,71.5 478.2,69.4 483.4,70.2z" fill="url(#b50)"/><path d="M472.1,74.6 466.9,73.7 472.6,71.5 477.8,72.4z" fill="url(#b51)"/><path d="M466.3,76.9 461.1,75.9 466.9,73.7 472.1,74.6z" fill="url(#b52)"/><path d="M460.5,79.1 455.3,78 461.1,75.9 466.3,76.9z" fill="url(#b53)"/><path d="M454.6,81.3 449.5,80.2 455.3,78 460.5,79.1z" fill="url(#b54)"/><path d="M448.7,83.6 443.5,82.3 449.5,80.2 454.6,81.3z" fill="url(#b55)"/><path d="M442.6,85.8 437.5,84.4 443.5,82.3 448.7,83.6z" fill="url(#b56)"/><path d="M436.5,88 431.4,86.6 437.5,84.4 442.6,85.8z" fill="url(#b57)"/><path d="M430.3,90.3 425.2,88.7 431.4,86.6 436.5,88z" fill="url(#b58)"/><path d="M424.1,92.5 418.9,90.8 425.2,88.7 430.3,90.3z" fill="url(#b59)"/><path d="M536.3,51.5 531,50.1 536,47.9 541.4,49.2z" fill="url(#b60)"/><path d="M531.3,53.7 526,52.3 531,50.1 536.3,51.5z" fill="url(#b61)"/><path d="M526.2,56 520.9,54.6 526,52.3 531.3,53.7z" fill="url(#b62)"/><path d="M521,58.2 515.7,56.8 520.9,54.6 526.2,56z" fill="url(#b63)"/><path d="M515.7,60.5 510.4,59 515.7,56.8 521,58.2z" fill="url(#b64)"/><path d="M510.4,62.8 505.2,61.3 510.4,59 515.7,60.5z" fill="url(#b65)"/><path d="M505.1,65 499.8,63.5 505.2,61.3 510.4,62.8z" fill="url(#b66)"/><path d="M499.7,67.3 494.4,65.7 499.8,63.5 505.1,65z" fill="url(#b67)"/><path d="M494.2,69.6 488.9,68 494.4,65.7 499.7,67.3z" fill="url(#b68)"/><path d="M488.6,71.9 483.4,70.2 488.9,68 494.2,69.6z" fill="url(#b69)"/><path d="M483,74.2 477.8,72.4 483.4,70.2 488.6,71.9z" fill="url(#b70)"/><path d="M477.4,76.5 472.1,74.6 477.8,72.4 483,74.2z" fill="url(#b71)"/><path d="M471.6,78.8 466.3,76.9 472.1,74.6 477.4,76.5z" fill="url(#b72)"/><path d="M465.8,81.1 460.5,79.1 466.3,76.9 471.6,78.8z" fill="url(#b73)"/><path d="M459.9,83.4 454.6,81.3 460.5,79.1 465.8,81.1z" fill="url(#b74)"/><path d="M453.9,85.7 448.7,83.6 454.6,81.3 459.9,83.4z" fill="url(#b75)"/><path d="M447.9,88 442.6,85.8 448.7,83.6 453.9,85.7z" fill="url(#b76)"/><path d="M441.8,90.4 436.5,88 442.6,85.8 447.9,88z" fill="url(#b77)"/><path d="M435.6,92.7 430.3,90.3 436.5,88 441.8,90.4z" fill="#ff2f2f"/><path d="M429.3,95 424.1,92.5 430.3,90.3 435.6,92.7z" fill="#ff2f2f"/><path d="M541.7,53.7 536.3,51.5 541.4,49.2 546.7,51.4z" fill="#ff3f3f"/><path d="M536.6,56 531.3,53.7 536.3,51.5 541.7,53.7z" fill="#ff3e3e"/><path d="M531.5,58.3 526.2,56 531.3,53.7 536.6,56z" fill="#ff3e3e"/><path d="M526.3,60.6 521,58.2 526.2,56 531.5,58.3z" fill="#ff3d3d"/><path d="M521.1,62.9 515.7,60.5 521,58.2 526.3,60.6z" fill="#ff3c3c"/><path d="M515.8,65.2 510.4,62.8 515.7,60.5 521.1,62.9z" fill="#ff3c3c"/><path d="M510.4,67.5 505.1,65 510.4,62.8 515.8,65.2z" fill="#ff3b3b"/><path d="M505,69.8 499.7,67.3 505.1,65 510.4,67.5z" fill="#ff3b3b"/><path d="M499.5,72.2 494.2,69.6 499.7,67.3 505,69.8z" fill="#ff3a3a"/><path d="M494,74.5 488.6,71.9 494.2,69.6 499.5,72.2z" fill="#ff3a3a"/><path d="M488.4,76.9 483,74.2 488.6,71.9 494,74.5z" fill="#ff3939"/><path d="M482.7,79.2 477.4,76.5 483,74.2 488.4,76.9z" fill="#ff3939"/><path d="M477,81.6 471.6,78.8 477.4,76.5 482.7,79.2z" fill="#ff3838"/><path d="M471.1,84 465.8,81.1 471.6,78.8 477,81.6z" fill="#ff3737"/><path d="M465.3,86.4 459.9,83.4 465.8,81.1 471.1,84z" fill="#ff3737"/><path d="M459.3,88.8 453.9,85.7 459.9,83.4 465.3,86.4z" fill="#ff3636"/><path d="M453.2,91.2 447.9,88 453.9,85.7 459.3,88.8z" fill="#ff3636"/><path d="M447.1,93.6 441.8,90.4 447.9,88 453.2,91.2z" fill="#ff3535"/><path d="M440.9,96 435.6,92.7 441.8,90.4 447.1,93.6z" fill="#ff3434"/><path d="M434.7,98.5 429.3,95 435.6,92.7 440.9,96z" fill="#ff3434"/><path d="M547.1,56.8 541.7,53.7 546.7,51.4 552.1,54.5z" fill="#ff4040"/><path d="M542,59.1 536.6,56 541.7,53.7 547.1,56.8z" fill="#ff4040"/><path d="M536.9,61.4 531.5,58.3 536.6,56 542,59.1z" fill="#ff3f3f"/><path d="M531.7,63.8 526.3,60.6 531.5,58.3 536.9,61.4z" fill="#ff3e3e"/><path d="M526.5,66.1 521.1,62.9 526.3,60.6 531.7,63.8z" fill="#ff3e3e"/><path d="M521.2,68.5 515.8,65.2 521.1,62.9 526.5,66.1z" fill="#ff3d3d"/><path d="M515.9,70.8 510.4,67.5 515.8,65.2 521.2,68.5z" fill="#ff3c3c"/><path d="M510.4,73.2 505,69.8 510.4,67.5 515.9,70.8z" fill="#ff3c3c"/><path d="M505,75.6 499.5,72.2 505,69.8 510.4,73.2z" fill="#ff3b3b"/><path d="M499.4,78 494,74.5 499.5,72.2 505,75.6z" fill="#ff3a3a"/><path d="M493.8,80.4 488.4,76.9 494,74.5 499.4,78z" fill="#ff3939"/><path d="M488.1,82.9 482.7,79.2 488.4,76.9 493.8,80.4z" fill="#ff3939"/><path d="M482.4,85.3 477,81.6 482.7,79.2 488.1,82.9z" fill="#ff3838"/><path d="M476.6,87.8 471.1,84 477,81.6 482.4,85.3z" fill="#ff3737"/><path d="M470.7,90.3 465.3,86.4 471.1,84 476.6,87.8z" fill="#ff3636"/><path d="M464.7,92.7 459.3,88.8 465.3,86.4 470.7,90.3z" fill="#ff3535"/><path d="M458.7,95.2 453.2,91.2 459.3,88.8 464.7,92.7z" fill="#ff3434"/><path d="M452.6,97.8 447.1,93.6 453.2,91.2 458.7,95.2z" fill="#ff3333"/><path d="M446.4,100.3 440.9,96 447.1,93.6 452.6,97.8z" fill="#ff3232"/><path d="M440.1,102.8 434.7,98.5 440.9,96 446.4,100.3z" fill="#ff3131"/><path d="M552.5,60.8 547.1,56.8 552.1,54.5 557.5,58.4z" fill="url(#b78)"/><path d="M547.5,63.1 542,59.1 547.1,56.8 552.5,60.8z" fill="url(#b79)"/><path d="M542.4,65.5 536.9,61.4 542,59.1 547.5,63.1z" fill="url(#b80)"/><path d="M537.2,67.9 531.7,63.8 536.9,61.4 542.4,65.5z" fill="url(#b81)"/><path d="M532,70.3 526.5,66.1 531.7,63.8 537.2,67.9z" fill="url(#b82)"/><path d="M526.7,72.7 521.2,68.5 526.5,66.1 532,70.3z" fill="url(#b83)"/><path d="M521.3,75.1 515.9,70.8 521.2,68.5 526.7,72.7z" fill="url(#b84)"/><path d="M515.9,77.6 510.4,73.2 515.9,70.8 521.3,75.1z" fill="url(#b85)"/><path d="M510.4,80 505,75.6 510.4,73.2 515.9,77.6z" fill="url(#b86)"/><path d="M504.9,82.5 499.4,78 505,75.6 510.4,80z" fill="url(#b87)"/><path d="M499.3,85 493.8,80.4 499.4,78 504.9,82.5z" fill="url(#b88)"/><path d="M493.6,87.5 488.1,82.9 493.8,80.4 499.3,85z" fill="url(#b89)"/><path d="M487.9,90 482.4,85.3 488.1,82.9 493.6,87.5z" fill="url(#b90)"/><path d="M482.1,92.5 476.6,87.8 482.4,85.3 487.9,90z" fill="url(#b91)"/><path d="M476.2,95.1 470.7,90.3 476.6,87.8 482.1,92.5z" fill="url(#b92)"/><path d="M470.2,97.7 464.7,92.7 470.7,90.3 476.2,95.1z" fill="url(#b93)"/><path d="M464.2,100.2 458.7,95.2 464.7,92.7 470.2,97.7z" fill="url(#b94)"/><path d="M458.1,102.9 452.6,97.8 458.7,95.2 464.2,100.2z" fill="url(#b95)"/><path d="M451.9,105.5 446.4,100.3 452.6,97.8 458.1,102.9z" fill="url(#b96)"/><path d="M445.7,108.1 440.1,102.8 446.4,100.3 451.9,105.5z" fill="url(#b97)"/><path d="M558,65.7 552.5,60.8 557.5,58.4 563,63.3z" fill="url(#b98)"/><path d="M552.9,68.1 547.5,63.1 552.5,60.8 558,65.7z" fill="url(#b99)"/><path d="M547.8,70.5 542.4,65.5 547.5,63.1 552.9,68.1z" fill="url(#b100)"/><path d="M542.7,72.9 537.2,67.9 542.4,65.5 547.8,70.5z" fill="url(#b101)"/><path d="M537.5,75.4 532,70.3 537.2,67.9 542.7,72.9z" fill="url(#b102)"/><path d="M532.2,77.8 526.7,72.7 532,70.3 537.5,75.4z" fill="url(#b103)"/><path d="M526.8,80.3 521.3,75.1 526.7,72.7 532.2,77.8z" fill="url(#b104)"/><path d="M521.4,82.8 515.9,77.6 521.3,75.1 526.8,80.3z" fill="url(#b105)"/><path d="M516,85.4 510.4,80 515.9,77.6 521.4,82.8z" fill="url(#b106)"/><path d="M510.4,87.9 504.9,82.5 510.4,80 516,85.4z" fill="url(#b107)"/><path d="M504.9,90.4 499.3,85 504.9,82.5 510.4,87.9z" fill="url(#b108)"/><path d="M499.2,93 493.6,87.5 499.3,85 504.9,90.4z" fill="url(#b109)"/><path d="M493.5,95.6 487.9,90 493.6,87.5 499.2,93z" fill="url(#b110)"/><path d="M487.7,98.2 482.1,92.5 487.9,90 493.5,95.6z" fill="url(#b111)"/><path d="M481.8,100.9 476.2,95.1 482.1,92.5 487.7,98.2z" fill="url(#b112)"/><path d="M475.8,103.5 470.2,97.7 476.2,95.1 481.8,100.9z" fill="url(#b113)"/><path d="M469.8,106.2 464.2,100.2 470.2,97.7 475.8,103.5z" fill="url(#b114)"/><path d="M463.7,108.9 458.1,102.9 464.2,100.2 469.8,106.2z" fill="url(#b115)"/><path d="M457.5,111.6 451.9,105.5 458.1,102.9 463.7,108.9z" fill="url(#b116)"/><path d="M451.3,114.4 445.7,108.1 451.9,105.5 457.5,111.6z" fill="url(#b117)"/><path d="M563.5,71.5 558,65.7 563,63.3 568.4,69.1z" fill="url(#b118)"/><path d="M558.4,74 552.9,68.1 558,65.7 563.5,71.5z" fill="url(#b119)"/><path d="M553.3,76.4 547.8,70.5 552.9,68.1 558.4,74z" fill="url(#b120)"/><path d="M548.2,78.9 542.7,72.9 547.8,70.5 553.3,76.4z" fill="url(#b121)"/><path d="M543,81.4 537.5,75.4 542.7,72.9 548.2,78.9z" fill="url(#b122)"/><path d="M537.7,84 532.2,77.8 537.5,75.4 543,81.4z" fill="url(#b123)"/><path d="M532.4,86.5 526.8,80.3 532.2,77.8 537.7,84z" fill="url(#b124)"/><path d="M527,89.1 521.4,82.8 526.8,80.3 532.4,86.5z" fill="url(#b125)"/><path d="M521.6,91.6 516,85.4 521.4,82.8 527,89.1z" fill="url(#b126)"/><path d="M516,94.3 510.4,87.9 516,85.4 521.6,91.6z" fill="url(#b127)"/><path d="M510.4,96.9 504.9,90.4 510.4,87.9 516,94.3z" fill="url(#b128)"/><path d="M504.8,99.5 499.2,93 504.9,90.4 510.4,96.9z" fill="url(#b129)"/><path d="M499.1,102.2 493.5,95.6 499.2,93 504.8,99.5z" fill="url(#b130)"/><path d="M493.3,104.9 487.7,98.2 493.5,95.6 499.1,102.2z" fill="url(#b131)"/><path d="M487.4,107.6 481.8,100.9 487.7,98.2 493.3,104.9z" fill="url(#b132)"/><path d="M481.5,110.4 475.8,103.5 481.8,100.9 487.4,107.6z" fill="url(#b133)"/><path d="M475.5,113.1 469.8,106.2 475.8,103.5 481.5,110.4z" fill="url(#b134)"/><path d="M469.4,115.9 463.7,108.9 469.8,106.2 475.5,113.1z" fill="url(#b135)"/><path d="M463.2,118.7 457.5,111.6 463.7,108.9 469.4,115.9z" fill="url(#b136)"/><path d="M457,121.6 451.3,114.4 457.5,111.6 463.2,118.7z" fill="url(#b137)"/><path d="M569,78.3 563.5,71.5 568.4,69.1 573.9,75.8z" fill="url(#b138)"/><path d="M564,80.8 558.4,74 563.5,71.5 569,78.3z" fill="url(#b139)"/><path d="M558.9,83.3 553.3,76.4 558.4,74 564,80.8z" fill="url(#b140)"/><path d="M553.7,85.9 548.2,78.9 553.3,76.4 558.9,83.3z" fill="url(#b141)"/><path d="M548.6,88.4 543,81.4 548.2,78.9 553.7,85.9z" fill="url(#b142)"/><path d="M543.3,91 537.7,84 543,81.4 548.6,88.4z" fill="url(#b143)"/><path d="M538,93.6 532.4,86.5 537.7,84 543.3,91z" fill="url(#b144)"/><path d="M532.6,96.3 527,89.1 532.4,86.5 538,93.6z" fill="url(#b145)"/><path d="M527.2,98.9 521.6,91.6 527,89.1 532.6,96.3z" fill="url(#b146)"/><path d="M521.7,101.6 516,94.3 521.6,91.6 527.2,98.9z" fill="url(#b147)"/><path d="M516.1,104.3 510.4,96.9 516,94.3 521.7,101.6z" fill="url(#b148)"/><path d="M510.4,107 504.8,99.5 510.4,96.9 516.1,104.3z" fill="url(#b149)"/><path d="M504.7,109.8 499.1,102.2 504.8,99.5 510.4,107z" fill="url(#b150)"/><path d="M499,112.5 493.3,104.9 499.1,102.2 504.7,109.8z" fill="url(#b151)"/><path d="M493.1,115.3 487.4,107.6 493.3,104.9 499,112.5z" fill="url(#b152)"/><path d="M487.2,118.2 481.5,110.4 487.4,107.6 493.1,115.3z" fill="url(#b153)"/><path d="M481.2,121 475.5,113.1 481.5,110.4 487.2,118.2z" fill="url(#b154)"/><path d="M475.1,123.9 469.4,115.9 475.5,113.1 481.2,121z" fill="url(#b155)"/><path d="M469,126.8 463.2,118.7 469.4,115.9 475.1,123.9z" fill="url(#b156)"/><path d="M462.7,129.7 457,121.6 463.2,118.7 469,126.8z" fill="url(#b157)"/><path d="M574.5,86 569,78.3 573.9,75.8 579.4,83.4z" fill="url(#b158)"/><path d="M569.5,88.5 564,80.8 569,78.3 574.5,86z" fill="url(#b159)"/><path d="M564.4,91.1 558.9,83.3 564,80.8 569.5,88.5z" fill="url(#b160)"/><path d="M559.3,93.8 553.7,85.9 558.9,83.3 564.4,91.1z" fill="url(#b161)"/><path d="M554.1,96.4 548.6,88.4 553.7,85.9 559.3,93.8z" fill="url(#b162)"/><path d="M548.9,99 543.3,91 548.6,88.4 554.1,96.4z" fill="url(#b163)"/><path d="M543.6,101.7 538,93.6 543.3,91 548.9,99z" fill="url(#b164)"/><path d="M538.2,104.4 532.6,96.3 538,93.6 543.6,101.7z" fill="url(#b165)"/><path d="M532.8,107.2 527.2,98.9 532.6,96.3 538.2,104.4z" fill="url(#b166)"/><path d="M527.3,109.9 521.7,101.6 527.2,98.9 532.8,107.2z" fill="url(#b167)"/><path d="M521.8,112.7 516.1,104.3 521.7,101.6 527.3,109.9z" fill="url(#b168)"/><path d="M516.1,115.5 510.4,107 516.1,104.3 521.8,112.7z" fill="url(#b169)"/><path d="M510.4,118.3 504.7,109.8 510.4,107 516.1,115.5z" fill="url(#b170)"/><path d="M504.7,121.2 499,112.5 504.7,109.8 510.4,118.3z" fill="url(#b171)"/><path d="M498.9,124 493.1,115.3 499,112.5 504.7,121.2z" fill="url(#b172)"/><path d="M493,126.9 487.2,118.2 493.1,115.3 498.9,124z" fill="url(#b173)"/><path d="M487,129.9 481.2,121 487.2,118.2 493,126.9z" fill="url(#b174)"/><path d="M480.9,132.8 475.1,123.9 481.2,121 487,129.9z" fill="url(#b175)"/><path d="M474.8,135.8 469,126.8 475.1,123.9 480.9,132.8z" fill="url(#b176)"/><path d="M468.6,138.9 462.7,129.7 469,126.8 474.8,135.8z" fill="url(#b177)"/><path d="M580,94.6 574.5,86 579.4,83.4 584.9,92z" fill="url(#b178)"/><path d="M575,97.3 569.5,88.5 574.5,86 580,94.6z" fill="url(#b179)"/><path d="M570,99.9 564.4,91.1 569.5,88.5 575,97.3z" fill="url(#b180)"/><path d="M564.9,102.6 559.3,93.8 564.4,91.1 570,99.9z" fill="url(#b181)"/><path d="M559.7,105.3 554.1,96.4 559.3,93.8 564.9,102.6z" fill="url(#b182)"/><path d="M554.5,108 548.9,99 554.1,96.4 559.7,105.3z" fill="url(#b183)"/><path d="M549.2,110.8 543.6,101.7 548.9,99 554.5,108z" fill="url(#b184)"/><path d="M543.9,113.6 538.2,104.4 543.6,101.7 549.2,110.8z" fill="url(#b185)"/><path d="M538.5,116.4 532.8,107.2 538.2,104.4 543.9,113.6z" fill="url(#b186)"/><path d="M533,119.2 527.3,109.9 532.8,107.2 538.5,116.4z" fill="url(#b187)"/><path d="M527.5,122 521.8,112.7 527.3,109.9 533,119.2z" fill="url(#b188)"/><path d="M521.9,124.9 516.1,115.5 521.8,112.7 527.5,122z" fill="url(#b189)"/><path d="M516.2,127.8 510.4,118.3 516.1,115.5 521.9,124.9z" fill="url(#b190)"/><path d="M510.4,130.8 504.7,121.2 510.4,118.3 516.2,127.8z" fill="url(#b191)"/><path d="M504.6,133.7 498.9,124 504.7,121.2 510.4,130.8z" fill="url(#b192)"/><path d="M498.8,136.7 493,126.9 498.9,124 504.6,133.7z" fill="url(#b193)"/><path d="M492.8,139.7 487,129.9 493,126.9 498.8,136.7z" fill="url(#b194)"/><path d="M486.8,142.8 480.9,132.8 487,129.9 492.8,139.7z" fill="url(#b195)"/><path d="M480.7,145.9 474.8,135.8 480.9,132.8 486.8,142.8z" fill="url(#b196)"/><path d="M474.5,149 468.6,138.9 474.8,135.8 480.7,145.9z" fill="url(#b197)"/><path d="M585.5,104.2 580,94.6 584.9,92 590.4,101.5z" fill="url(#b198)"/><path d="M580.5,106.9 575,97.3 580,94.6 585.5,104.2z" fill="url(#b199)"/><path d="M575.5,109.7 570,99.9 575,97.3 580.5,106.9z" fill="url(#b200)"/><path d="M570.4,112.4 564.9,102.6 570,99.9 575.5,109.7z" fill="url(#b201)"/><path d="M565.3,115.2 559.7,105.3 564.9,102.6 570.4,112.4z" fill="url(#b202)"/><path d="M560.1,118 554.5,108 559.7,105.3 565.3,115.2z" fill="url(#b203)"/><path d="M554.8,120.8 549.2,110.8 554.5,108 560.1,118z" fill="url(#b204)"/><path d="M549.5,123.7 543.9,113.6 549.2,110.8 554.8,120.8z" fill="url(#b205)"/><path d="M544.1,126.6 538.5,116.4 543.9,113.6 549.5,123.7z" fill="url(#b206)"/><path d="M538.7,129.5 533,119.2 538.5,116.4 544.1,126.6z" fill="url(#b207)"/><path d="M533.2,132.4 527.5,122 533,119.2 538.7,129.5z" fill="url(#b208)"/><path d="M527.6,135.4 521.9,124.9 527.5,122 533.2,132.4z" fill="url(#b209)"/><path d="M522,138.4 516.2,127.8 521.9,124.9 527.6,135.4z" fill="url(#b210)"/><path d="M516.2,141.4 510.4,130.8 516.2,127.8 522,138.4z" fill="url(#b211)"/><path d="M510.4,144.4 504.6,133.7 510.4,130.8 516.2,141.4z" fill="url(#b212)"/><path d="M504.6,147.5 498.8,136.7 504.6,133.7 510.4,144.4z" fill="url(#b213)"/><path d="M498.7,150.6 492.8,139.7 498.8,136.7 504.6,147.5z" fill="url(#b214)"/><path d="M492.6,153.7 486.8,142.8 492.8,139.7 498.7,150.6z" fill="url(#b215)"/><path d="M486.6,156.9 480.7,145.9 486.8,142.8 492.6,153.7z" fill="url(#b216)"/><path d="M480.4,160 474.5,149 480.7,145.9 486.6,156.9z" fill="url(#b217)"/><path d="M591,114.8 585.5,104.2 590.4,101.5 595.9,112z" fill="url(#b218)"/><path d="M586,117.6 580.5,106.9 585.5,104.2 591,114.8z" fill="url(#b219)"/><path d="M581,120.4 575.5,109.7 580.5,106.9 586,117.6z" fill="url(#b220)"/><path d="M576,123.2 570.4,112.4 575.5,109.7 581,120.4z" fill="url(#b221)"/><path d="M570.9,126.1 565.3,115.2 570.4,112.4 576,123.2z" fill="url(#b222)"/><path d="M565.7,129 560.1,118 565.3,115.2 570.9,126.1z" fill="url(#b223)"/><path d="M560.5,131.9 554.8,120.8 560.1,118 565.7,129z" fill="url(#b224)"/><path d="M555.2,134.8 549.5,123.7 554.8,120.8 560.5,131.9z" fill="url(#b225)"/><path d="M549.8,137.8 544.1,126.6 549.5,123.7 555.2,134.8z" fill="url(#b226)"/><path d="M544.4,140.8 538.7,129.5 544.1,126.6 549.8,137.8z" fill="url(#b227)"/><path d="M538.9,143.8 533.2,132.4 538.7,129.5 544.4,140.8z" fill="url(#b228)"/><path d="M533.4,146.8 527.6,135.4 533.2,132.4 538.9,143.8z" fill="url(#b229)"/><path d="M527.7,149.9 522,138.4 527.6,135.4 533.4,146.8z" fill="url(#b230)"/><path d="M522,153 516.2,141.4 522,138.4 527.7,149.9z" fill="url(#b231)"/><path d="M516.3,156.1 510.4,144.4 516.2,141.4 522,153z" fill="url(#b232)"/><path d="M510.4,159.2 504.6,147.5 510.4,144.4 516.3,156.1z" fill="url(#b233)"/><path d="M504.5,162.4 498.7,150.6 504.6,147.5 510.4,159.2z" fill="url(#b234)"/><path d="M498.6,165.6 492.6,153.7 498.7,150.6 504.5,162.4z" fill="url(#b235)"/><path d="M492.5,168.8 486.6,156.9 492.6,153.7 498.6,165.6z" fill="url(#b236)"/><path d="M486.4,172.1 480.4,160 486.6,156.9 492.5,168.8z" fill="url(#b237)"/><path d="M596.4,126.3 591,114.8 595.9,112 601.3,123.4z" fill="url(#b238)"/><path d="M591.5,129.2 586,117.6 591,114.8 596.4,126.3z" fill="url(#b239)"/><path d="M586.6,132.1 581,120.4 586,117.6 591.5,129.2z" fill="url(#b240)"/><path d="M581.5,135 576,123.2 581,120.4 586.6,132.1z" fill="url(#b241)"/><path d="M576.4,138 570.9,126.1 576,123.2 581.5,135z" fill="url(#b242)"/><path d="M571.3,141 565.7,129 570.9,126.1 576.4,138z" fill="url(#b243)"/><path d="M566.1,144 560.5,131.9 565.7,129 571.3,141z" fill="url(#b244)"/><path d="M560.8,147 555.2,134.8 560.5,131.9 566.1,144z" fill="url(#b245)"/><path d="M555.5,150.1 549.8,137.8 555.2,134.8 560.8,147z" fill="url(#b246)"/><path d="M550.1,153.1 544.4,140.8 549.8,137.8 555.5,150.1z" fill="url(#b247)"/><path d="M544.6,156.2 538.9,143.8 544.4,140.8 550.1,153.1z" fill="url(#b248)"/><path d="M539.1,159.3 533.4,146.8 538.9,143.8 544.6,156.2z" fill="url(#b249)"/><path d="M533.5,162.5 527.7,149.9 533.4,146.8 539.1,159.3z" fill="url(#b250)"/><path d="M527.9,165.6 522,153 527.7,149.9 533.5,162.5z" fill="url(#b251)"/><path d="M522.1,168.8 516.3,156.1 522,153 527.9,165.6z" fill="url(#b252)"/><path d="M516.3,172 510.4,159.2 516.3,156.1 522.1,168.8z" fill="url(#b253)"/><path d="M510.4,175.3 504.5,162.4 510.4,159.2 516.3,172z" fill="url(#b254)"/><path d="M504.5,178.5 498.6,165.6 504.5,162.4 510.4,175.3z" fill="url(#b255)"/><path d="M498.5,181.8 492.5,168.8 498.6,165.6 504.5,178.5z" fill="url(#b256)"/><path d="M492.4,185.1 486.4,172.1 492.5,168.8 498.5,181.8z" fill="url(#b257)"/><path d="M601.9,138.8 596.4,126.3 601.3,123.4 606.7,135.7z" fill="url(#b258)"/><path d="M597,141.8 591.5,129.2 596.4,126.3 601.9,138.8z" fill="url(#b259)"/><path d="M592,144.8 586.6,132.1 591.5,129.2 597,141.8z" fill="url(#b260)"/><path d="M587,147.9 581.5,135 586.6,132.1 592,144.8z" fill="url(#b261)"/><path d="M582,150.9 576.4,138 581.5,135 587,147.9z" fill="url(#b262)"/><path d="M576.9,154 571.3,141 576.4,138 582,150.9z" fill="url(#b263)"/><path d="M571.7,157.1 566.1,144 571.3,141 576.9,154z" fill="url(#b264)"/><path d="M566.4,160.3 560.8,147 566.1,144 571.7,157.1z" fill="url(#b265)"/><path d="M561.1,163.4 555.5,150.1 560.8,147 566.4,160.3z" fill="url(#b266)"/><path d="M555.8,166.5 550.1,153.1 555.5,150.1 561.1,163.4z" fill="url(#b267)"/><path d="M550.4,169.7 544.6,156.2 550.1,153.1 555.8,166.5z" fill="url(#b268)"/><path d="M544.9,172.9 539.1,159.3 544.6,156.2 550.4,169.7z" fill="url(#b269)"/><path d="M539.3,176.1 533.5,162.5 539.1,159.3 544.9,172.9z" fill="url(#b270)"/><path d="M533.7,179.3 527.9,165.6 533.5,162.5 539.3,176.1z" fill="url(#b271)"/><path d="M528,182.6 522.1,168.8 527.9,165.6 533.7,179.3z" fill="url(#b272)"/><path d="M522.2,185.9 516.3,172 522.1,168.8 528,182.6z" fill="url(#b273)"/><path d="M516.4,189.1 510.4,175.3 516.3,172 522.2,185.9z" fill="url(#b274)"/><path d="M510.4,192.5 504.5,178.5 510.4,175.3 516.4,189.1z" fill="url(#b275)"/><path d="M504.5,195.8 498.5,181.8 504.5,178.5 510.4,192.5z" fill="url(#b276)"/><path d="M498.4,199.1 492.4,185.1 498.5,181.8 504.5,195.8z" fill="url(#b277)"/><path d="M607.3,152.2 601.9,138.8 606.7,135.7 612.1,149z" fill="url(#b278)"/><path d="M602.4,155.4 597,141.8 601.9,138.8 607.3,152.2z" fill="url(#b279)"/><path d="M597.5,158.6 592,144.8 597,141.8 602.4,155.4z" fill="url(#b280)"/><path d="M592.5,161.8 587,147.9 592,144.8 597.5,158.6z" fill="url(#b281)"/><path d="M587.5,165 582,150.9 587,147.9 592.5,161.8z" fill="url(#b282)"/><path d="M582.4,168.2 576.9,154 582,150.9 587.5,165z" fill="url(#b283)"/><path d="M577.2,171.4 571.7,157.1 576.9,154 582.4,168.2z" fill="url(#b284)"/><path d="M572,174.7 566.4,160.3 571.7,157.1 577.2,171.4z" fill="url(#b285)"/><path d="M566.8,177.9 561.1,163.4 566.4,160.3 572,174.7z" fill="url(#b286)"/><path d="M561.4,181.2 555.8,166.5 561.1,163.4 566.8,177.9z" fill="url(#b287)"/><path d="M556.1,184.4 550.4,169.7 555.8,166.5 561.4,181.2z" fill="url(#b288)"/><path d="M550.6,187.7 544.9,172.9 550.4,169.7 556.1,184.4z" fill="url(#b289)"/><path d="M545.1,190.9 539.3,176.1 544.9,172.9 550.6,187.7z" fill="url(#b290)"/><path d="M539.5,194.2 533.7,179.3 539.3,176.1 545.1,190.9z" fill="url(#b291)"/><path d="M533.8,197.5 528,182.6 533.7,179.3 539.5,194.2z" fill="url(#b292)"/><path d="M528.1,200.8 522.2,185.9 528,182.6 533.8,197.5z" fill="url(#b293)"/><path d="M522.3,204.1 516.4,189.1 522.2,185.9 528.1,200.8z" fill="url(#b294)"/><path d="M516.4,207.4 510.4,192.5 516.4,189.1 522.3,204.1z" fill="url(#b295)"/><path d="M510.4,210.7 504.5,195.8 510.4,192.5 516.4,207.4z" fill="url(#b296)"/><path d="M504.4,214.1 498.4,199.1 504.5,195.8 510.4,210.7z" fill="url(#b297)"/><path d="M612.6,166.6 607.3,152.2 612.1,149 617.4,163.2z" fill="url(#b298)"/><path d="M607.8,170.1 602.4,155.4 607.3,152.2 612.6,166.6z" fill="url(#b299)"/><path d="M602.9,173.5 597.5,158.6 602.4,155.4 607.8,170.1z" fill="url(#b300)"/><path d="M597.9,176.9 592.5,161.8 597.5,158.6 602.9,173.5z" fill="url(#b301)"/><path d="M592.9,180.3 587.5,165 592.5,161.8 597.9,176.9z" fill="url(#b302)"/><path d="M587.9,183.7 582.4,168.2 587.5,165 592.9,180.3z" fill="url(#b303)"/><path d="M582.7,187.1 577.2,171.4 582.4,168.2 587.9,183.7z" fill="url(#b304)"/><path d="M577.6,190.5 572,174.7 577.2,171.4 582.7,187.1z" fill="url(#b305)"/><path d="M572.3,193.8 566.8,177.9 572,174.7 577.6,190.5z" fill="url(#b306)"/><path d="M567.1,197.2 561.4,181.2 566.8,177.9 572.3,193.8z" fill="url(#b307)"/><path d="M561.7,200.5 556.1,184.4 561.4,181.2 567.1,197.2z" fill="url(#b308)"/><path d="M556.3,203.8 550.6,187.7 556.1,184.4 561.7,200.5z" fill="url(#b309)"/><path d="M550.8,207.1 545.1,190.9 550.6,187.7 556.3,203.8z" fill="url(#b310)"/><path d="M545.3,210.4 539.5,194.2 545.1,190.9 550.8,207.1z" fill="url(#b311)"/><path d="M539.6,213.7 533.8,197.5 539.5,194.2 545.3,210.4z" fill="url(#b312)"/><path d="M534,217 528.1,200.8 533.8,197.5 539.6,213.7z" fill="url(#b313)"/><path d="M528.2,220.2 522.3,204.1 528.1,200.8 534,217z" fill="url(#b314)"/><path d="M522.4,223.5 516.4,207.4 522.3,204.1 528.2,220.2z" fill="url(#b315)"/><path d="M516.4,226.7 510.4,210.7 516.4,207.4 522.4,223.5z" fill="url(#b316)"/><path d="M510.4,230 504.4,214.1 510.4,210.7 516.4,226.7z" fill="url(#b317)"/></g>

<circle cx="399.1" cy="92.1" r="2.3" fill="#b20000" stroke="#4a0000" stroke-width="0.55"/>
<path d="M469.9,126.7 L469.9,139" stroke="#333" stroke-width="0.55"/>
<circle cx="469.9" cy="126.7" r="2.3" fill="#b20000" stroke="#4a0000" stroke-width="0.55"/>
<path d="M458,70.5 L458,74" stroke="#333" stroke-width="0.55"/>
<circle cx="458" cy="70.5" r="2.3" fill="#b20000" stroke="#4a0000" stroke-width="0.55"/>
<path d="M510.4,50.3 L510.4,53" stroke="#333" stroke-width="0.55"/>
<circle cx="510.4" cy="50.3" r="2.3" fill="#b20000" stroke="#4a0000" stroke-width="0.55"/>
<path d="M581.8,77.9 L581.8,84.8" stroke="#333" stroke-width="0.55"/>
<circle cx="581.8" cy="77.9" r="2.3" fill="#b20000" stroke="#4a0000" stroke-width="0.55"/>
<circle cx="562.4" cy="9.2" r="2.25" fill="#a00000" stroke="#2a0000" stroke-width="0.8"/>
<circle cx="562.4" cy="24.5" r="2.25" fill="#ffc9cf" stroke="#2a1010" stroke-width="0.8"/>
<path d="M663.1,115.1 L672,115.1 L674.1,173.9 L665.2,173.9 Z" fill="url(#cb)" stroke="#1c1c1c" stroke-width="1"/></g>
<g><path d="M52.5,554.3 L156.2,620.6 L260,554.3 L156.2,501.4 Z" fill="#5e5e5e" stroke="#333" stroke-width="0.5"/>
<path d="M50.5,518.3 L156.2,468.2 M156.2,468.2 L262,518.3 M49.1,494.9 L156.2,446.8 M156.2,446.8 L263.4,494.9 M47.8,471.5 L156.2,425.4 M156.2,425.4 L264.7,471.5 M46.4,448.1 L156.2,404 M156.2,404 L266.1,448.1 M45.1,424.7 L156.2,382.5 M156.2,382.5 L267.4,424.7 M43.7,401.3 L156.2,361.1 M156.2,361.1 L268.8,401.3 M71.6,508.3 L66.2,393.3 M240.9,508.3 L246.3,393.3 M92.8,498.3 L88.7,385.3 M219.7,498.3 L223.8,385.3 M113.9,488.3 L111.2,377.2 M198.6,488.3 L201.3,377.2 M135.1,478.2 L133.7,369.2 M177.4,478.2 L178.8,369.2 M52.5,554.3 L43.7,401.3 M156.2,501.4 L156.2,361.1 M260,554.3 L268.8,401.3" fill="none" stroke="#2a2a2a" stroke-width="0.55"/>
<circle cx="50.5" cy="518.3" r="0.9" fill="#000"/>
<circle cx="49.1" cy="494.9" r="0.9" fill="#000"/>
<circle cx="47.8" cy="471.5" r="0.9" fill="#000"/>
<circle cx="46.4" cy="448.1" r="0.9" fill="#000"/>
<circle cx="45.1" cy="424.7" r="0.9" fill="#000"/>
<circle cx="43.7" cy="401.3" r="0.9" fill="#000"/>
<circle cx="156.2" cy="620.6" r="0.9" fill="#000"/>
<circle cx="156.2" cy="620.6" r="0.9" fill="#000"/>
<circle cx="135.5" cy="607.4" r="0.9" fill="#000"/>
<circle cx="177" cy="607.4" r="0.9" fill="#000"/>
<circle cx="114.8" cy="594.1" r="0.9" fill="#000"/>
<circle cx="197.7" cy="594.1" r="0.9" fill="#000"/>
<circle cx="94" cy="580.8" r="0.9" fill="#000"/>
<circle cx="218.5" cy="580.8" r="0.9" fill="#000"/>
<circle cx="73.3" cy="567.6" r="0.9" fill="#000"/>
<circle cx="239.2" cy="567.6" r="0.9" fill="#000"/>
<circle cx="52.5" cy="554.3" r="0.9" fill="#000"/>
<circle cx="260" cy="554.3" r="0.9" fill="#000"/>
<path d="M249.4,548.9 L247.1,550.4 L245.6,551.4 L243.4,552.9 L241.2,554.4 L238.9,555.9 L236.6,557.5 L234.3,559 L232,560.6 L229.7,562.1 L227.4,563.7 L225,565.3 L223.5,566.4 L221.1,568 L218.8,569.6 L216.4,571.2 L214,572.8 L211.6,574.5 L209.1,576.1 L206.7,577.8 L204.3,579.5 L202.6,580.6 L200.1,582.3 L197.7,584 L195.2,585.7 L192.7,587.5 L190.1,589.2 L187.6,591 L185.4,592.5 L183.3,593.9 L180.7,595.7 L178.2,597.5 L175.5,599.3 L172.9,601.2 L170.3,603 L168,604.6 L165.9,606.1 L163.2,608 L160.5,609.9 L157.8,611.8 L155.1,613.7 L152.4,615.7 L150.5,617" fill="none" stroke="#1cb4d4" stroke-width="1.1"/>
<path d="M241.4,544.8 L239.1,546.3 L236.9,547.7 L234.6,549.2 L232.3,550.7 L230,552.2 L227.7,553.7 L225.4,555.2 L223,556.7 L220.7,558.2 L219.1,559.3 L216.7,560.8 L214.4,562.4 L212,563.9 L209.6,565.5 L207.1,567.1 L204.7,568.7 L202.2,570.3 L199.8,571.9 L197.3,573.5 L194.8,575.2 L192.4,576.7 L190.6,577.9 L188.1,579.6 L185.6,581.2 L183,582.9 L180.4,584.6 L177.9,586.3 L175.3,588.1 L172.7,589.8 L170,591.5 L167.4,593.3 L165.6,594.5 L163,596.2 L160.3,598 L157.6,599.8 L154.9,601.7 L152.1,603.5 L149.4,605.3 L146.6,607.2 L144.4,608.7 L142,610.3" fill="none" stroke="#1cd88d" stroke-width="1.1"/>
<path d="M230.8,539.4 L228.4,540.8 L226.1,542.2 L223.8,543.6 L221.4,545 L219.1,546.5 L216.7,547.9 L214.3,549.3 L211.9,550.8 L209.5,552.3 L207,553.7 L204.6,555.2 L202.1,556.7 L199.7,558.2 L197.2,559.7 L194.7,561.2 L192.2,562.7 L189.7,564.3 L187.1,565.8 L184.6,567.4 L182,568.9 L180.3,570 L177.7,571.5 L175.1,573.1 L172.5,574.7 L169.8,576.3 L167.2,577.9 L164.5,579.6 L161.8,581.2 L159.2,582.8 L156.4,584.5 L153.7,586.2 L151,587.8 L148.2,589.5 L145.4,591.2 L142.6,592.9 L139.8,594.7 L137,596.4 L134.2,598.1 L131.3,599.9 L128.5,601.6" fill="none" stroke="#2bd81c" stroke-width="1.1"/>
<path d="M65.8,562.8 L67.1,561.4 L68.4,560 L69.7,558.6 L70.9,557.2 L72.3,555.7 L73.9,554 L75.4,552.4 L76.6,551 L77.9,549.7 L79.1,548.4 L80.4,547 L81.9,545.4 L83.5,543.7 L84.7,542.4 L85.9,541.1 L87.1,539.9 L88.3,538.6 L89.8,537 L91.3,535.4 L92.5,534.1" fill="none" stroke="#a0d81c" stroke-width="1.1"/>
<path d="M219.4,533.6 L217.7,534.5 L215.3,535.8 L212.9,537.1 L210.4,538.4 L208,539.8 L205.5,541.1 L203,542.5 L200.5,543.8 L198,545.2 L195.4,546.6 L193.7,547.5 L191.2,548.9 L188.6,550.3 L186,551.6 L183.4,553 L180.7,554.5 L178.1,555.9 L175.4,557.3 L173.7,558.2 L171,559.7 L168.3,561.1 L165.5,562.5 L162.8,564 L160,565.5 L157.2,566.9 L155,568.1 L152.6,569.4 L149.7,570.8 L146.9,572.3 L144,573.8 L141.1,575.3 L138.3,576.8 L136.3,577.8 L133.3,579.3 L130.3,580.8 L127.4,582.3 L124.3,583.9 L122.3,584.9 L119.3,586.4 L116.2,587.9 L113.1,589.5 L110.3,590.8" fill="none" stroke="#a0d81c" stroke-width="1.1"/>
<path d="M205.5,526.5 L203.8,527.3 L201.1,528.5 L198.5,529.7 L196.4,530.5 L194,531.6 L191.3,532.8 L189.4,533.6 L186.6,534.7 L183.8,535.9 L181.9,536.6 L179.1,537.8 L177.2,538.6 L174.2,539.7 L172.1,540.5 L169.3,541.6 L167.1,542.4 L164.2,543.4 L162.1,544.2 L159,545.2 L156.8,545.9 L154.3,546.7 L151.3,547.6 L149,548.2 L146.7,548.9 L144.2,549.4 L141.4,550.1 L138.9,550.5 L136.5,550.9 L133.6,551.2 L130.6,551.3 L128.3,551.1 L125.9,550.7 L123.3,549.7 L121.3,548 L120.4,546.6 L120,545.3 L119.8,544.2 L119.7,542.4 L119.8,541.3 L120.1,539.6 L120.3,538.5 L120.7,537 L121.2,535.4 L121.6,534.3 L122.1,533.1 L122.8,531.6 L123.5,530.1 L124.2,528.7 L124.8,527.5 L125.4,526.3 L126,525.1 L126.8,523.7 L127.6,522.4 L128.4,521 L129.2,519.7 L130,518.4 L130.8,517.1 L131.6,515.8 L132.5,514.5 L133.3,513.2" fill="none" stroke="#d49c1c" stroke-width="1.1"/>

<circle cx="46.6" cy="453.2" r="2.3" fill="#ffc9cf" stroke="#5a3030" stroke-width="0.5"/>
<path d="M80,467.2 L80,451" stroke="#333" stroke-width="0.55"/>
<circle cx="80" cy="467.2" r="2.3" fill="#ffc9cf" stroke="#5a3030" stroke-width="0.5"/>

<circle cx="155.7" cy="375.2" r="2.3" fill="#ffc9cf" stroke="#5a3030" stroke-width="0.5"/>
<path d="M156,566.1 L156,555" stroke="#333" stroke-width="0.55"/>
<circle cx="156" cy="566.1" r="2.3" fill="#ffc9cf" stroke="#5a3030" stroke-width="0.5"/>

<circle cx="212.4" cy="530.3" r="2.3" fill="#ffc9cf" stroke="#5a3030" stroke-width="0.5"/>
<defs><linearGradient id="c1" href="#T" x1="159.7" y1="377.2" x2="152.8" y2="374.2"><stop stop-color="#ff5e2e"/><stop offset="1" stop-color="#ff7618"/></linearGradient><linearGradient id="c2" href="#T" x1="154.6" y1="380.8" x2="147.9" y2="377.8"><stop stop-color="#ff6c29"/><stop offset="1" stop-color="#ff8715"/></linearGradient><linearGradient id="c3" href="#T" x1="149.3" y1="384.5" x2="143" y2="381.4"><stop stop-color="#ff7a26"/><stop offset="1" stop-color="#ff9813"/></linearGradient><linearGradient id="c4" href="#T" x1="143.9" y1="388.2" x2="138.2" y2="385"><stop stop-color="#ff8822"/><stop offset="1" stop-color="#ffa910"/></linearGradient><linearGradient id="c5" href="#T" x1="138.4" y1="391.9" x2="133.4" y2="388.7"><stop stop-color="#ff971f"/><stop offset="1" stop-color="#ffbb0e"/></linearGradient><linearGradient id="c6" href="#T" x1="132.8" y1="395.6" x2="128.5" y2="392.5"><stop stop-color="#ffa51c"/><stop offset="1" stop-color="#ffcc0d"/></linearGradient><linearGradient id="c7" href="#T" x1="127.3" y1="399.3" x2="123.5" y2="396.3"><stop stop-color="#ffb419"/><stop offset="1" stop-color="#ffde0b"/></linearGradient><linearGradient id="c8" href="#T" x1="121.7" y1="403" x2="118.4" y2="400.2"><stop stop-color="#ffc316"/><stop offset="1" stop-color="#fff00a"/></linearGradient><linearGradient id="c9" href="#T" x1="116" y1="406.6" x2="113.4" y2="404.1"><stop stop-color="#ffd414"/><stop offset="1" stop-color="#ffff09"/></linearGradient><linearGradient id="c10" href="#T" x1="110.3" y1="410.3" x2="108.3" y2="408.2"><stop stop-color="#ffe611"/><stop offset=".70" stop-color="#ffff0c"/><stop offset="1" stop-color="#f7ff08"/></linearGradient><linearGradient id="c11" href="#T" x1="104.8" y1="414.2" x2="102.8" y2="412.1"><stop stop-color="#fff80f"/><stop offset=".39" stop-color="#ffff0b"/><stop offset="1" stop-color="#e2ff07"/></linearGradient><linearGradient id="c12" href="#T" x1="98.9" y1="417.8" x2="97.6" y2="416.3"><stop stop-color="#ffff0e"/><stop offset="1" stop-color="#cefe06"/></linearGradient><linearGradient id="c13" href="#T" x1="93.4" y1="421.8" x2="92" y2="420.2"><stop stop-color="#fcff0c"/><stop offset="1" stop-color="#b6fc05"/></linearGradient><linearGradient id="c14" href="#T" x1="87.6" y1="425.7" x2="86.4" y2="424.2"><stop stop-color="#eaff0b"/><stop offset="1" stop-color="#a2fa04"/></linearGradient><linearGradient id="c15" href="#T" x1="81.9" y1="429.6" x2="80.8" y2="428.4"><stop stop-color="#d7ff0a"/><stop offset="1" stop-color="#8ff904"/></linearGradient><linearGradient id="c16" href="#T" x1="76" y1="433.6" x2="75.2" y2="432.5"><stop stop-color="#c4ff08"/><stop offset="1" stop-color="#7cf703"/></linearGradient><linearGradient id="c17" href="#T" x1="70.1" y1="437.6" x2="69.4" y2="436.7"><stop stop-color="#b2fe07"/><stop offset="1" stop-color="#69f603"/></linearGradient><linearGradient id="c18" href="#T" x1="64.2" y1="441.6" x2="63.6" y2="440.9"><stop stop-color="#a0fc07"/><stop offset="1" stop-color="#56f503"/></linearGradient><linearGradient id="c19" href="#T" x1="58.2" y1="445.7" x2="57.8" y2="445.1"><stop stop-color="#8ffa06"/><stop offset="1" stop-color="#43f302"/></linearGradient><linearGradient id="c20" href="#T" x1="52.2" y1="449.8" x2="51.9" y2="449.4"><stop stop-color="#7ef905"/><stop offset="1" stop-color="#32f202"/></linearGradient><linearGradient id="c21" href="#T" x1="162.8" y1="377.1" x2="159.8" y2="373.9"><stop stop-color="#ff6543"/><stop offset="1" stop-color="#ff6629"/></linearGradient><linearGradient id="c22" href="#T" x1="158.1" y1="380.7" x2="154.5" y2="377.3"><stop stop-color="#ff703e"/><stop offset="1" stop-color="#ff7624"/></linearGradient><linearGradient id="c23" href="#T" x1="153.3" y1="384.2" x2="149" y2="380.7"><stop stop-color="#ff7b3a"/><stop offset="1" stop-color="#ff8520"/></linearGradient><linearGradient id="c24" href="#T" x1="148.5" y1="387.8" x2="143.5" y2="384.2"><stop stop-color="#ff8636"/><stop offset="1" stop-color="#ff941d"/></linearGradient><linearGradient id="c25" href="#T" x1="143.6" y1="391.3" x2="138.1" y2="387.8"><stop stop-color="#ff9231"/><stop offset="1" stop-color="#ffa41a"/></linearGradient><linearGradient id="c26" href="#T" x1="138.5" y1="394.9" x2="132.8" y2="391.5"><stop stop-color="#ff9e2d"/><stop offset="1" stop-color="#ffb317"/></linearGradient><linearGradient id="c27" href="#T" x1="133.1" y1="398.6" x2="127.6" y2="395.1"><stop stop-color="#ffaa29"/><stop offset="1" stop-color="#ffc315"/></linearGradient><linearGradient id="c28" href="#T" x1="127.6" y1="402.2" x2="122.4" y2="398.8"><stop stop-color="#ffb626"/><stop offset="1" stop-color="#ffd212"/></linearGradient><linearGradient id="c29" href="#T" x1="122" y1="405.9" x2="117.2" y2="402.5"><stop stop-color="#ffc322"/><stop offset="1" stop-color="#ffe210"/></linearGradient><linearGradient id="c30" href="#T" x1="116.3" y1="409.6" x2="112" y2="406.3"><stop stop-color="#ffd01f"/><stop offset="1" stop-color="#fff20e"/></linearGradient><linearGradient id="c31" href="#T" x1="110.4" y1="413.2" x2="107" y2="410.2"><stop stop-color="#ffde1c"/><stop offset="1" stop-color="#ffff0d"/></linearGradient><linearGradient id="c32" href="#T" x1="104.3" y1="416.8" x2="101.9" y2="414.2"><stop stop-color="#ffee19"/><stop offset=".78" stop-color="#ffff12"/><stop offset="1" stop-color="#fdff0c"/></linearGradient><linearGradient id="c33" href="#T" x1="99.4" y1="420.9" x2="95.7" y2="417.8"><stop stop-color="#fffc15"/><stop offset=".45" stop-color="#ffff10"/><stop offset="1" stop-color="#edff0b"/></linearGradient><linearGradient id="c34" href="#T" x1="92.7" y1="424.2" x2="91" y2="422.2"><stop stop-color="#ffff14"/><stop offset="1" stop-color="#dbff09"/></linearGradient><linearGradient id="c35" href="#T" x1="87" y1="428.1" x2="85.3" y2="426.1"><stop stop-color="#ffff12"/><stop offset="1" stop-color="#c5ff08"/></linearGradient><linearGradient id="c36" href="#T" x1="81.2" y1="432" x2="79.5" y2="430.1"><stop stop-color="#f4ff10"/><stop offset="1" stop-color="#b1fe07"/></linearGradient><linearGradient id="c37" href="#T" x1="75.2" y1="435.9" x2="73.8" y2="434.1"><stop stop-color="#e2ff0e"/><stop offset="1" stop-color="#9ffc06"/></linearGradient><linearGradient id="c38" href="#T" x1="69.3" y1="439.8" x2="68" y2="438.2"><stop stop-color="#d1ff0d"/><stop offset="1" stop-color="#8dfa05"/></linearGradient><linearGradient id="c39" href="#T" x1="63.2" y1="443.8" x2="62.1" y2="442.4"><stop stop-color="#c0ff0b"/><stop offset="1" stop-color="#7bf905"/></linearGradient><linearGradient id="c40" href="#T" x1="57.1" y1="447.8" x2="56.2" y2="446.5"><stop stop-color="#aeff0a"/><stop offset="1" stop-color="#69f704"/></linearGradient><linearGradient id="c41" href="#T" x1="167.3" y1="377.5" x2="165.4" y2="374.4"><stop stop-color="#ff7155"/><stop offset="1" stop-color="#ff663f"/></linearGradient><linearGradient id="c42" href="#T" x1="162.3" y1="380.8" x2="160.4" y2="377.9"><stop stop-color="#ff7b50"/><stop offset="1" stop-color="#ff733b"/></linearGradient><linearGradient id="c43" href="#T" x1="157.3" y1="384.2" x2="155.3" y2="381.3"><stop stop-color="#ff864d"/><stop offset="1" stop-color="#ff7f37"/></linearGradient><linearGradient id="c44" href="#T" x1="152.2" y1="387.7" x2="150" y2="384.7"><stop stop-color="#ff9049"/><stop offset="1" stop-color="#ff8b32"/></linearGradient><linearGradient id="c45" href="#T" x1="147.1" y1="391.2" x2="144.7" y2="388.1"><stop stop-color="#ff9b45"/><stop offset="1" stop-color="#ff982d"/></linearGradient><linearGradient id="c46" href="#T" x1="142.1" y1="394.8" x2="139.3" y2="391.5"><stop stop-color="#ffa441"/><stop offset="1" stop-color="#ffa529"/></linearGradient><linearGradient id="c47" href="#T" x1="137" y1="398.4" x2="133.8" y2="395"><stop stop-color="#ffae3d"/><stop offset="1" stop-color="#ffb224"/></linearGradient><linearGradient id="c48" href="#T" x1="131.8" y1="402" x2="128.2" y2="398.4"><stop stop-color="#ffb839"/><stop offset="1" stop-color="#ffc021"/></linearGradient><linearGradient id="c49" href="#T" x1="126.7" y1="405.6" x2="122.6" y2="402"><stop stop-color="#ffc235"/><stop offset="1" stop-color="#ffcd1d"/></linearGradient><linearGradient id="c50" href="#T" x1="121.4" y1="409.2" x2="116.9" y2="405.6"><stop stop-color="#ffcc31"/><stop offset="1" stop-color="#ffdb1a"/></linearGradient><linearGradient id="c51" href="#T" x1="116" y1="412.9" x2="111.3" y2="409.2"><stop stop-color="#ffd62d"/><stop offset="1" stop-color="#ffe917"/></linearGradient><linearGradient id="c52" href="#T" x1="110.4" y1="416.5" x2="105.8" y2="412.9"><stop stop-color="#ffe12a"/><stop offset="1" stop-color="#fff715"/></linearGradient><linearGradient id="c53" href="#T" x1="104.1" y1="420.1" x2="100.8" y2="416.8"><stop stop-color="#ffee26"/><stop offset="1" stop-color="#ffff13"/></linearGradient><linearGradient id="c54" href="#T" x1="97.9" y1="423.5" x2="95.7" y2="420.9"><stop stop-color="#fffa22"/><stop offset="1" stop-color="#ffff11"/></linearGradient><linearGradient id="c55" href="#T" x1="92.4" y1="427.4" x2="89.7" y2="424.5"><stop stop-color="#ffff1f"/><stop offset=".49" stop-color="#ffff17"/><stop offset="1" stop-color="#f7ff0f"/></linearGradient><linearGradient id="c56" href="#T" x1="86.5" y1="431.2" x2="84" y2="428.4"><stop stop-color="#ffff1c"/><stop offset="1" stop-color="#e6ff0e"/></linearGradient><linearGradient id="c57" href="#T" x1="80.3" y1="434.8" x2="78.5" y2="432.6"><stop stop-color="#ffff19"/><stop offset="1" stop-color="#d4ff0c"/></linearGradient><linearGradient id="c58" href="#T" x1="74.5" y1="438.8" x2="72.4" y2="436.4"><stop stop-color="#feff17"/><stop offset="1" stop-color="#bfff0a"/></linearGradient><linearGradient id="c59" href="#T" x1="68.4" y1="442.6" x2="66.5" y2="440.4"><stop stop-color="#edff15"/><stop offset="1" stop-color="#aeff09"/></linearGradient><linearGradient id="c60" href="#T" x1="62.3" y1="446.5" x2="60.6" y2="444.4"><stop stop-color="#ddff13"/><stop offset="1" stop-color="#9dfe08"/></linearGradient><linearGradient id="c61" href="#T" x1="170.8" y1="375" x2="172.3" y2="379.4"><stop stop-color="#ff6c54"/><stop offset="1" stop-color="#ff7e62"/></linearGradient><linearGradient id="c62" href="#T" x1="165.6" y1="378.4" x2="167.4" y2="382.5"><stop stop-color="#ff784f"/><stop offset="1" stop-color="#ff8860"/></linearGradient><linearGradient id="c63" href="#T" x1="160.5" y1="381.8" x2="162.3" y2="385.7"><stop stop-color="#ff844b"/><stop offset="1" stop-color="#ff925d"/></linearGradient><linearGradient id="c64" href="#T" x1="155.3" y1="385.3" x2="157.2" y2="388.9"><stop stop-color="#ff8f47"/><stop offset="1" stop-color="#ff9c5a"/></linearGradient><linearGradient id="c65" href="#T" x1="152" y1="392.1" x2="150.1" y2="388.7"><stop stop-color="#ffa656"/><stop offset="1" stop-color="#ff9a43"/></linearGradient><linearGradient id="c66" href="#T" x1="146.8" y1="395.4" x2="144.8" y2="392.2"><stop stop-color="#ffaf53"/><stop offset="1" stop-color="#ffa53f"/></linearGradient><linearGradient id="c67" href="#T" x1="141.5" y1="398.7" x2="139.5" y2="395.7"><stop stop-color="#ffb84f"/><stop offset="1" stop-color="#ffb03b"/></linearGradient><linearGradient id="c68" href="#T" x1="136.2" y1="402.2" x2="134.1" y2="399.1"><stop stop-color="#ffc24b"/><stop offset="1" stop-color="#ffbb36"/></linearGradient><linearGradient id="c69" href="#T" x1="130.8" y1="405.7" x2="128.6" y2="402.6"><stop stop-color="#ffcb48"/><stop offset="1" stop-color="#ffc632"/></linearGradient><linearGradient id="c70" href="#T" x1="125.4" y1="409.3" x2="123.1" y2="406.1"><stop stop-color="#ffd444"/><stop offset="1" stop-color="#ffd12d"/></linearGradient><linearGradient id="c71" href="#T" x1="120" y1="412.8" x2="117.4" y2="409.5"><stop stop-color="#ffdd41"/><stop offset="1" stop-color="#ffdc29"/></linearGradient><linearGradient id="c72" href="#T" x1="114.6" y1="416.5" x2="111.7" y2="413.1"><stop stop-color="#ffe63d"/><stop offset="1" stop-color="#ffe825"/></linearGradient><linearGradient id="c73" href="#T" x1="109.1" y1="420.1" x2="105.9" y2="416.6"><stop stop-color="#ffee39"/><stop offset="1" stop-color="#fff421"/></linearGradient><linearGradient id="c74" href="#T" x1="103.2" y1="423.7" x2="100.4" y2="420.3"><stop stop-color="#fff835"/><stop offset="1" stop-color="#fffd1e"/></linearGradient><linearGradient id="c75" href="#T" x1="97.2" y1="427.2" x2="94.9" y2="424.2"><stop stop-color="#ffff31"/><stop offset="1" stop-color="#ffff1c"/></linearGradient><linearGradient id="c76" href="#T" x1="89.1" y1="428" x2="91.3" y2="430.8"><stop stop-color="#ffff19"/><stop offset="1" stop-color="#ffff2d"/></linearGradient><linearGradient id="c77" href="#T" x1="85.4" y1="434.5" x2="83.3" y2="431.8"><stop stop-color="#ffff2a"/><stop offset=".47" stop-color="#ffff20"/><stop offset="1" stop-color="#feff17"/></linearGradient><linearGradient id="c78" href="#T" x1="80.1" y1="438.6" x2="76.6" y2="435.2"><stop stop-color="#ffff26"/><stop offset="1" stop-color="#f1ff14"/></linearGradient><linearGradient id="c79" href="#T" x1="73.5" y1="442.2" x2="71.2" y2="439.3"><stop stop-color="#ffff23"/><stop offset="1" stop-color="#e0ff12"/></linearGradient><linearGradient id="c80" href="#T" x1="67.4" y1="446" x2="65.2" y2="443.2"><stop stop-color="#ffff20"/><stop offset="1" stop-color="#ceff10"/></linearGradient><linearGradient id="c81" href="#T" x1="176.4" y1="381.9" x2="177.1" y2="376.5"><stop stop-color="#ff8561"/><stop offset="1" stop-color="#ff7462"/></linearGradient><linearGradient id="c82" href="#T" x1="171.5" y1="385" x2="171.9" y2="379.6"><stop stop-color="#ff9160"/><stop offset="1" stop-color="#ff7f60"/></linearGradient><linearGradient id="c83" href="#T" x1="166.6" y1="388.2" x2="166.6" y2="382.8"><stop stop-color="#ff9d60"/><stop offset="1" stop-color="#ff8a5e"/></linearGradient><linearGradient id="c84" href="#T" x1="161.2" y1="386.1" x2="161.7" y2="391.3"><stop stop-color="#ff955a"/><stop offset="1" stop-color="#ffa85f"/></linearGradient><linearGradient id="c85" href="#T" x1="155.7" y1="389.5" x2="156.8" y2="394.5"><stop stop-color="#ffa056"/><stop offset="1" stop-color="#ffb25f"/></linearGradient><linearGradient id="c86" href="#T" x1="150.2" y1="392.9" x2="151.7" y2="397.6"><stop stop-color="#ffab52"/><stop offset="1" stop-color="#ffbb5e"/></linearGradient><linearGradient id="c87" href="#T" x1="144.8" y1="396.4" x2="146.5" y2="400.7"><stop stop-color="#ffb64e"/><stop offset="1" stop-color="#ffc45d"/></linearGradient><linearGradient id="c88" href="#T" x1="139.4" y1="399.9" x2="141.2" y2="403.9"><stop stop-color="#ffc04a"/><stop offset="1" stop-color="#ffcd5a"/></linearGradient><linearGradient id="c89" href="#T" x1="135.8" y1="407.1" x2="133.9" y2="403.4"><stop stop-color="#ffd658"/><stop offset="1" stop-color="#ffca46"/></linearGradient><linearGradient id="c90" href="#T" x1="130.4" y1="410.4" x2="128.4" y2="406.9"><stop stop-color="#ffde54"/><stop offset="1" stop-color="#ffd442"/></linearGradient><linearGradient id="c91" href="#T" x1="124.8" y1="413.8" x2="122.9" y2="410.4"><stop stop-color="#ffe751"/><stop offset="1" stop-color="#ffdd3e"/></linearGradient><linearGradient id="c92" href="#T" x1="119.3" y1="417.2" x2="117.3" y2="413.9"><stop stop-color="#ffef4e"/><stop offset="1" stop-color="#ffe73b"/></linearGradient><linearGradient id="c93" href="#T" x1="113.7" y1="420.7" x2="111.6" y2="417.5"><stop stop-color="#fff74b"/><stop offset="1" stop-color="#fff037"/></linearGradient><linearGradient id="c94" href="#T" x1="108.2" y1="424.4" x2="105.6" y2="420.8"><stop stop-color="#fffd48"/><stop offset="1" stop-color="#fffa32"/></linearGradient><linearGradient id="c95" href="#T" x1="102.5" y1="428" x2="99.7" y2="424.4"><stop stop-color="#ffff45"/><stop offset="1" stop-color="#ffff2d"/></linearGradient><linearGradient id="c96" href="#T" x1="93.9" y1="428" x2="96.6" y2="431.5"><stop stop-color="#ffff2a"/><stop offset="1" stop-color="#ffff41"/></linearGradient><linearGradient id="c97" href="#T" x1="88.1" y1="431.7" x2="90.7" y2="435.1"><stop stop-color="#ffff26"/><stop offset="1" stop-color="#ffff3d"/></linearGradient><linearGradient id="c98" href="#T" x1="82.2" y1="435.4" x2="84.7" y2="438.7"><stop stop-color="#ffff23"/><stop offset="1" stop-color="#ffff39"/></linearGradient><linearGradient id="c99" href="#T" x1="76.2" y1="439.2" x2="78.6" y2="442.4"><stop stop-color="#ffff20"/><stop offset=".65" stop-color="#ffff2b"/><stop offset="1" stop-color="#ffff36"/></linearGradient><linearGradient id="c100" href="#T" x1="72.5" y1="446.2" x2="70" y2="442.9"><stop stop-color="#ffff32"/><stop offset="1" stop-color="#faff1d"/></linearGradient><linearGradient id="c101" href="#T" x1="180.2" y1="384.4" x2="183.9" y2="379.5"><stop stop-color="#ff875d"/><stop offset="1" stop-color="#ff795a"/></linearGradient><linearGradient id="c102" href="#T" x1="175.9" y1="387.6" x2="178.1" y2="382.4"><stop stop-color="#ff935c"/><stop offset="1" stop-color="#ff855d"/></linearGradient><linearGradient id="c103" href="#T" x1="171" y1="390.8" x2="172.8" y2="385.4"><stop stop-color="#ff9f5d"/><stop offset="1" stop-color="#ff915e"/></linearGradient><linearGradient id="c104" href="#T" x1="166" y1="393.9" x2="167.5" y2="388.4"><stop stop-color="#ffab5d"/><stop offset="1" stop-color="#ff9c5f"/></linearGradient><linearGradient id="c105" href="#T" x1="160.9" y1="397.1" x2="162.1" y2="391.5"><stop stop-color="#ffb65d"/><stop offset="1" stop-color="#ffa85f"/></linearGradient><linearGradient id="c106" href="#T" x1="156.7" y1="394.7" x2="155.8" y2="400.3"><stop stop-color="#ffb25e"/><stop offset="1" stop-color="#ffc15d"/></linearGradient><linearGradient id="c107" href="#T" x1="150.6" y1="403.5" x2="151.2" y2="397.8"><stop stop-color="#ffcc5c"/><stop offset="1" stop-color="#ffbd5d"/></linearGradient><linearGradient id="c108" href="#T" x1="145.5" y1="406.7" x2="145.7" y2="401.1"><stop stop-color="#ffd65c"/><stop offset="1" stop-color="#ffc65b"/></linearGradient><linearGradient id="c109" href="#T" x1="140" y1="404.4" x2="140.3" y2="410"><stop stop-color="#ffd058"/><stop offset="1" stop-color="#ffe05b"/></linearGradient><linearGradient id="c110" href="#T" x1="134.2" y1="407.8" x2="135.1" y2="413.1"><stop stop-color="#ffd955"/><stop offset="1" stop-color="#ffea5b"/></linearGradient><linearGradient id="c111" href="#T" x1="128.4" y1="411.3" x2="129.8" y2="416.3"><stop stop-color="#ffe351"/><stop offset="1" stop-color="#fff25b"/></linearGradient><linearGradient id="c112" href="#T" x1="122.6" y1="414.8" x2="124.3" y2="419.5"><stop stop-color="#ffec4d"/><stop offset="1" stop-color="#fffa59"/></linearGradient><linearGradient id="c113" href="#T" x1="116.7" y1="418.7" x2="119" y2="422.5"><stop stop-color="#fff74a"/><stop offset="1" stop-color="#fffe57"/></linearGradient><linearGradient id="c114" href="#T" x1="110.3" y1="421.8" x2="113.9" y2="426.2"><stop stop-color="#fffd45"/><stop offset="1" stop-color="#ffff56"/></linearGradient><linearGradient id="c115" href="#T" x1="104.6" y1="425.3" x2="108" y2="429.6"><stop stop-color="#ffff41"/><stop offset="1" stop-color="#ffff54"/></linearGradient><linearGradient id="c116" href="#T" x1="98.8" y1="428.8" x2="102.1" y2="433.1"><stop stop-color="#ffff3e"/><stop offset="1" stop-color="#ffff51"/></linearGradient><linearGradient id="c117" href="#T" x1="92.9" y1="432.4" x2="96.1" y2="436.6"><stop stop-color="#ffff3a"/><stop offset="1" stop-color="#ffff4f"/></linearGradient><linearGradient id="c118" href="#T" x1="87" y1="436" x2="90.1" y2="440.1"><stop stop-color="#ffff36"/><stop offset="1" stop-color="#ffff4b"/></linearGradient><linearGradient id="c119" href="#T" x1="81" y1="439.7" x2="84" y2="443.6"><stop stop-color="#ffff32"/><stop offset="1" stop-color="#ffff48"/></linearGradient><linearGradient id="c120" href="#T" x1="77.8" y1="447.2" x2="74.9" y2="443.4"><stop stop-color="#ffff45"/><stop offset=".59" stop-color="#ffff3a"/><stop offset="1" stop-color="#ffff2f"/></linearGradient><linearGradient id="c121" href="#T" x1="189.6" y1="388.3" x2="185.1" y2="382.7"><stop stop-color="#ff8142"/><stop offset="1" stop-color="#ff8157"/></linearGradient><linearGradient id="c122" href="#T" x1="184.7" y1="391.3" x2="179.9" y2="385.6"><stop stop-color="#ff8d45"/><stop offset="1" stop-color="#ff8e59"/></linearGradient><linearGradient id="c123" href="#T" x1="179.7" y1="394.2" x2="174.7" y2="388.6"><stop stop-color="#ff9947"/><stop offset="1" stop-color="#ff9a5b"/></linearGradient><linearGradient id="c124" href="#T" x1="174.6" y1="397.2" x2="169.5" y2="391.7"><stop stop-color="#ffa44a"/><stop offset="1" stop-color="#ffa75c"/></linearGradient><linearGradient id="c125" href="#T" x1="169.4" y1="400.2" x2="164.2" y2="394.7"><stop stop-color="#ffb04c"/><stop offset="1" stop-color="#ffb25d"/></linearGradient><linearGradient id="c126" href="#T" x1="164.1" y1="403.3" x2="159.1" y2="397.8"><stop stop-color="#ffbc4f"/><stop offset="1" stop-color="#ffbd5e"/></linearGradient><linearGradient id="c127" href="#T" x1="156.4" y1="406.8" x2="156.1" y2="400.4"><stop stop-color="#ffcd52"/><stop offset="1" stop-color="#ffc25d"/></linearGradient><linearGradient id="c128" href="#T" x1="150" y1="409.7" x2="151.7" y2="403.8"><stop stop-color="#ffd957"/><stop offset="1" stop-color="#ffcc5a"/></linearGradient><linearGradient id="c129" href="#T" x1="144.7" y1="412.9" x2="146.2" y2="406.9"><stop stop-color="#ffe358"/><stop offset="1" stop-color="#ffd65a"/></linearGradient><linearGradient id="c130" href="#T" x1="139.2" y1="416.1" x2="140.7" y2="410.1"><stop stop-color="#ffed58"/><stop offset="1" stop-color="#ffe05a"/></linearGradient><linearGradient id="c131" href="#T" x1="133.8" y1="419.3" x2="135" y2="413.3"><stop stop-color="#fff758"/><stop offset="1" stop-color="#ffea5a"/></linearGradient><linearGradient id="c132" href="#T" x1="129.3" y1="416.6" x2="128.2" y2="422.6"><stop stop-color="#fff359"/><stop offset="1" stop-color="#ffff58"/></linearGradient><linearGradient id="c133" href="#T" x1="97.7" y1="434" x2="101.9" y2="438.9"><stop stop-color="#ffff4c"/><stop offset="1" stop-color="#ffff57"/></linearGradient><linearGradient id="c134" href="#T" x1="91.8" y1="437.5" x2="95.8" y2="442.3"><stop stop-color="#ffff49"/><stop offset="1" stop-color="#ffff56"/></linearGradient><linearGradient id="c135" href="#T" x1="85.8" y1="441" x2="89.6" y2="445.7"><stop stop-color="#ffff45"/><stop offset="1" stop-color="#ffff54"/></linearGradient><linearGradient id="c136" href="#T" x1="79.8" y1="444.6" x2="83.4" y2="449.2"><stop stop-color="#ffff42"/><stop offset="1" stop-color="#ffff52"/></linearGradient><linearGradient id="c137" href="#T" x1="191.4" y1="386.4" x2="194" y2="393.1"><stop stop-color="#ff8044"/><stop offset="1" stop-color="#ff8b2f"/></linearGradient><linearGradient id="c138" href="#T" x1="189.1" y1="395.8" x2="186.2" y2="389.5"><stop stop-color="#ff9632"/><stop offset="1" stop-color="#ff8d47"/></linearGradient><linearGradient id="c139" href="#T" x1="184.1" y1="398.5" x2="181" y2="392.5"><stop stop-color="#ffa035"/><stop offset="1" stop-color="#ff9a49"/></linearGradient><linearGradient id="c140" href="#T" x1="179" y1="401.3" x2="175.8" y2="395.6"><stop stop-color="#ffaa38"/><stop offset="1" stop-color="#ffa64b"/></linearGradient><linearGradient id="c141" href="#T" x1="174" y1="404.3" x2="170.4" y2="398.5"><stop stop-color="#ffb53a"/><stop offset="1" stop-color="#ffb24e"/></linearGradient><linearGradient id="c142" href="#T" x1="168.9" y1="407.3" x2="165" y2="401.5"><stop stop-color="#ffbf3d"/><stop offset="1" stop-color="#ffbd51"/></linearGradient><linearGradient id="c143" href="#T" x1="163.7" y1="410.3" x2="159.6" y2="404.5"><stop stop-color="#ffca3f"/><stop offset="1" stop-color="#ffc953"/></linearGradient><linearGradient id="c144" href="#T" x1="158.4" y1="413.3" x2="154.2" y2="407.5"><stop stop-color="#ffd442"/><stop offset="1" stop-color="#ffd455"/></linearGradient><linearGradient id="c145" href="#T" x1="153" y1="416.3" x2="148.7" y2="410.6"><stop stop-color="#ffde44"/><stop offset="1" stop-color="#ffdf56"/></linearGradient><linearGradient id="c146" href="#T" x1="147.4" y1="419.4" x2="143.2" y2="413.7"><stop stop-color="#ffe947"/><stop offset="1" stop-color="#ffe957"/></linearGradient><linearGradient id="c147" href="#T" x1="141.8" y1="422.5" x2="137.8" y2="416.9"><stop stop-color="#fff349"/><stop offset="1" stop-color="#fff358"/></linearGradient><linearGradient id="c148" href="#T" x1="136.1" y1="425.6" x2="132.2" y2="420.1"><stop stop-color="#fffb4b"/><stop offset="1" stop-color="#fffc59"/></linearGradient><linearGradient id="c149" href="#T" x1="126.7" y1="423.4" x2="130.3" y2="428.7"><stop stop-color="#ffff59"/><stop offset="1" stop-color="#ffff4d"/></linearGradient><linearGradient id="c150" href="#T" x1="121.1" y1="426.7" x2="124.4" y2="431.9"><stop stop-color="#ffff58"/><stop offset="1" stop-color="#ffff4f"/></linearGradient><linearGradient id="c151" href="#T" x1="197.2" y1="390.8" x2="198.9" y2="398.8"><stop stop-color="#ff8731"/><stop offset="1" stop-color="#ffa11e"/></linearGradient><linearGradient id="c152" href="#T" x1="192.1" y1="393.7" x2="193.9" y2="401.5"><stop stop-color="#ff9234"/><stop offset="1" stop-color="#ffa920"/></linearGradient><linearGradient id="c153" href="#T" x1="187" y1="396.5" x2="188.9" y2="404.2"><stop stop-color="#ff9d36"/><stop offset="1" stop-color="#ffb223"/></linearGradient><linearGradient id="c154" href="#T" x1="181.8" y1="399.4" x2="183.8" y2="406.9"><stop stop-color="#ffa839"/><stop offset="1" stop-color="#ffba25"/></linearGradient><linearGradient id="c155" href="#T" x1="176.5" y1="402.4" x2="178.7" y2="409.7"><stop stop-color="#ffb33c"/><stop offset="1" stop-color="#ffc327"/></linearGradient><linearGradient id="c156" href="#T" x1="173.6" y1="412.5" x2="171.1" y2="405.4"><stop stop-color="#ffcb2a"/><stop offset="1" stop-color="#ffbe3e"/></linearGradient><linearGradient id="c157" href="#T" x1="168.4" y1="415.3" x2="165.7" y2="408.4"><stop stop-color="#ffd42c"/><stop offset="1" stop-color="#ffc941"/></linearGradient><linearGradient id="c158" href="#T" x1="163.1" y1="418.1" x2="160.2" y2="411.5"><stop stop-color="#ffdd2f"/><stop offset="1" stop-color="#ffd443"/></linearGradient><linearGradient id="c159" href="#T" x1="157.8" y1="420.9" x2="154.7" y2="414.6"><stop stop-color="#ffe632"/><stop offset="1" stop-color="#ffdf46"/></linearGradient><linearGradient id="c160" href="#T" x1="152.3" y1="423.8" x2="149.2" y2="417.8"><stop stop-color="#ffee35"/><stop offset="1" stop-color="#ffe948"/></linearGradient><linearGradient id="c161" href="#T" x1="146.9" y1="426.8" x2="143.5" y2="420.9"><stop stop-color="#fff737"/><stop offset="1" stop-color="#fff34a"/></linearGradient><linearGradient id="c162" href="#T" x1="141.7" y1="430" x2="137.5" y2="423.9"><stop stop-color="#fffd39"/><stop offset="1" stop-color="#fffc4d"/></linearGradient><linearGradient id="c163" href="#T" x1="131.7" y1="427" x2="136.1" y2="433.1"><stop stop-color="#ffff4f"/><stop offset="1" stop-color="#ffff3b"/></linearGradient><linearGradient id="c164" href="#T" x1="126" y1="430.1" x2="130.3" y2="436.2"><stop stop-color="#ffff50"/><stop offset="1" stop-color="#ffff3e"/></linearGradient><linearGradient id="c165" href="#T" x1="120.3" y1="433.3" x2="124.5" y2="439.4"><stop stop-color="#ffff51"/><stop offset="1" stop-color="#ffff40"/></linearGradient><linearGradient id="c166" href="#T" x1="114.5" y1="436.6" x2="118.5" y2="442.5"><stop stop-color="#ffff52"/><stop offset="1" stop-color="#ffff42"/></linearGradient><linearGradient id="c167" href="#T" x1="108.6" y1="439.9" x2="112.5" y2="445.7"><stop stop-color="#ffff53"/><stop offset="1" stop-color="#ffff44"/></linearGradient><linearGradient id="c168" href="#T" x1="102.6" y1="443.2" x2="106.4" y2="449"><stop stop-color="#ffff54"/><stop offset="1" stop-color="#ffff46"/></linearGradient><linearGradient id="c169" href="#T" x1="96.6" y1="446.6" x2="100.3" y2="452.2"><stop stop-color="#ffff54"/><stop offset="1" stop-color="#ffff48"/></linearGradient><linearGradient id="c170" href="#T" x1="90.6" y1="450" x2="94" y2="455.5"><stop stop-color="#ffff54"/><stop offset="1" stop-color="#ffff4a"/></linearGradient><linearGradient id="c171" href="#T" x1="204.4" y1="404.9" x2="202.5" y2="396.4"><stop stop-color="#ffc013"/><stop offset="1" stop-color="#ff9a20"/></linearGradient><linearGradient id="c172" href="#T" x1="199.4" y1="407.5" x2="197.5" y2="399.1"><stop stop-color="#ffc714"/><stop offset="1" stop-color="#ffa322"/></linearGradient><linearGradient id="c173" href="#T" x1="194.3" y1="410.2" x2="192.4" y2="401.8"><stop stop-color="#ffce16"/><stop offset="1" stop-color="#ffac25"/></linearGradient><linearGradient id="c174" href="#T" x1="189.2" y1="412.9" x2="187.3" y2="404.6"><stop stop-color="#ffd517"/><stop offset="1" stop-color="#ffb527"/></linearGradient><linearGradient id="c175" href="#T" x1="184" y1="415.7" x2="182.1" y2="407.4"><stop stop-color="#ffdb19"/><stop offset="1" stop-color="#ffbe29"/></linearGradient><linearGradient id="c176" href="#T" x1="178.8" y1="418.4" x2="176.8" y2="410.2"><stop stop-color="#ffe21b"/><stop offset="1" stop-color="#ffc72c"/></linearGradient><linearGradient id="c177" href="#T" x1="173.5" y1="421.2" x2="171.5" y2="413.1"><stop stop-color="#ffe91d"/><stop offset="1" stop-color="#ffd02e"/></linearGradient><linearGradient id="c178" href="#T" x1="168.2" y1="424" x2="166.1" y2="416"><stop stop-color="#fff11e"/><stop offset="1" stop-color="#ffda31"/></linearGradient><linearGradient id="c179" href="#T" x1="162.8" y1="426.9" x2="160.6" y2="419"><stop stop-color="#fff820"/><stop offset="1" stop-color="#ffe333"/></linearGradient><linearGradient id="c180" href="#T" x1="157.5" y1="429.6" x2="155" y2="422.1"><stop stop-color="#fffd23"/><stop offset="1" stop-color="#ffed36"/></linearGradient><linearGradient id="c181" href="#T" x1="148.9" y1="425.6" x2="152.5" y2="432.1"><stop stop-color="#fff737"/><stop offset="1" stop-color="#ffff26"/></linearGradient><linearGradient id="c182" href="#T" x1="142.6" y1="428.4" x2="147.6" y2="435.2"><stop stop-color="#fffe3b"/><stop offset="1" stop-color="#ffff27"/></linearGradient><linearGradient id="c183" href="#T" x1="136.9" y1="431.4" x2="142" y2="438.2"><stop stop-color="#ffff3d"/><stop offset="1" stop-color="#ffff29"/></linearGradient><linearGradient id="c184" href="#T" x1="131.2" y1="434.5" x2="136.2" y2="441.3"><stop stop-color="#ffff40"/><stop offset="1" stop-color="#ffff2b"/></linearGradient><linearGradient id="c185" href="#T" x1="125.4" y1="437.6" x2="130.3" y2="444.3"><stop stop-color="#ffff42"/><stop offset="1" stop-color="#ffff2d"/></linearGradient><linearGradient id="c186" href="#T" x1="124.4" y1="447.4" x2="119.6" y2="440.8"><stop stop-color="#ffff30"/><stop offset="1" stop-color="#ffff44"/></linearGradient><linearGradient id="c187" href="#T" x1="118.4" y1="450.6" x2="113.7" y2="444"><stop stop-color="#ffff32"/><stop offset="1" stop-color="#ffff46"/></linearGradient><linearGradient id="c188" href="#T" x1="107.7" y1="447.2" x2="112.3" y2="453.7"><stop stop-color="#ffff48"/><stop offset=".57" stop-color="#ffff3e"/><stop offset="1" stop-color="#ffff35"/></linearGradient><linearGradient id="c189" href="#T" x1="101.7" y1="450.5" x2="106.2" y2="456.9"><stop stop-color="#ffff4a"/><stop offset="1" stop-color="#ffff37"/></linearGradient><linearGradient id="c190" href="#T" x1="100" y1="460.2" x2="95.6" y2="453.8"><stop stop-color="#ffff39"/><stop offset="1" stop-color="#ffff4b"/></linearGradient><linearGradient id="c191" href="#T" x1="210.2" y1="411.6" x2="207.6" y2="402.7"><stop stop-color="#ffea0b"/><stop offset="1" stop-color="#ffba14"/></linearGradient><linearGradient id="c192" href="#T" x1="205.2" y1="414.2" x2="202.6" y2="405.4"><stop stop-color="#ffef0c"/><stop offset="1" stop-color="#ffc115"/></linearGradient><linearGradient id="c193" href="#T" x1="200.1" y1="416.9" x2="197.5" y2="408"><stop stop-color="#fff50d"/><stop offset="1" stop-color="#ffc817"/></linearGradient><linearGradient id="c194" href="#T" x1="195" y1="419.5" x2="192.4" y2="410.7"><stop stop-color="#fffa0e"/><stop offset="1" stop-color="#ffcf19"/></linearGradient><linearGradient id="c195" href="#T" x1="189.8" y1="422.2" x2="187.3" y2="413.4"><stop stop-color="#ffff0f"/><stop offset="1" stop-color="#ffd61a"/></linearGradient><linearGradient id="c196" href="#T" x1="181.8" y1="416.4" x2="184.8" y2="424.7"><stop stop-color="#ffde1c"/><stop offset="1" stop-color="#ffff11"/></linearGradient><linearGradient id="c197" href="#T" x1="176.5" y1="419.1" x2="179.5" y2="427.4"><stop stop-color="#ffe61e"/><stop offset="1" stop-color="#ffff12"/></linearGradient><linearGradient id="c198" href="#T" x1="171.2" y1="422" x2="174.1" y2="430.2"><stop stop-color="#ffed20"/><stop offset="1" stop-color="#ffff13"/></linearGradient><linearGradient id="c199" href="#T" x1="165.6" y1="425" x2="168.9" y2="432.8"><stop stop-color="#fff522"/><stop offset="1" stop-color="#ffff15"/></linearGradient><linearGradient id="c200" href="#T" x1="159.2" y1="428" x2="164.3" y2="435.5"><stop stop-color="#fffc24"/><stop offset="1" stop-color="#ffff16"/></linearGradient><linearGradient id="c201" href="#T" x1="153.4" y1="430.9" x2="159.2" y2="438.4"><stop stop-color="#ffff27"/><stop offset=".69" stop-color="#ffff1f"/><stop offset="1" stop-color="#ffff17"/></linearGradient><linearGradient id="c202" href="#T" x1="153.5" y1="441.3" x2="147.8" y2="433.8"><stop stop-color="#ffff18"/><stop offset=".41" stop-color="#ffff21"/><stop offset="1" stop-color="#ffff29"/></linearGradient><linearGradient id="c203" href="#T" x1="142.2" y1="436.8" x2="147.8" y2="444.2"><stop stop-color="#ffff2b"/><stop offset=".47" stop-color="#ffff23"/><stop offset="1" stop-color="#ffff1a"/></linearGradient><linearGradient id="c204" href="#T" x1="136.5" y1="439.8" x2="142" y2="447.2"><stop stop-color="#ffff2d"/><stop offset=".35" stop-color="#ffff25"/><stop offset="1" stop-color="#ffff1c"/></linearGradient><linearGradient id="c205" href="#T" x1="130.7" y1="442.8" x2="136.2" y2="450.2"><stop stop-color="#ffff30"/><stop offset="1" stop-color="#ffff1e"/></linearGradient><linearGradient id="c206" href="#T" x1="124.9" y1="445.9" x2="130.2" y2="453.2"><stop stop-color="#ffff32"/><stop offset="1" stop-color="#fdff20"/></linearGradient><linearGradient id="c207" href="#T" x1="119.1" y1="449" x2="124.1" y2="456.2"><stop stop-color="#ffff34"/><stop offset="1" stop-color="#fbff22"/></linearGradient><linearGradient id="c208" href="#T" x1="113.2" y1="452.1" x2="118" y2="459.3"><stop stop-color="#ffff36"/><stop offset="1" stop-color="#f9ff24"/></linearGradient><linearGradient id="c209" href="#T" x1="111.8" y1="462.4" x2="107.2" y2="455.3"><stop stop-color="#f7ff26"/><stop offset="1" stop-color="#ffff39"/></linearGradient><linearGradient id="c210" href="#T" x1="105.5" y1="465.6" x2="101.2" y2="458.6"><stop stop-color="#f5ff28"/><stop offset="1" stop-color="#ffff3b"/></linearGradient><linearGradient id="c211" href="#T" x1="216" y1="419.1" x2="212.6" y2="409.9"><stop stop-color="#e6ff07"/><stop offset=".48" stop-color="#ffff09"/><stop offset="1" stop-color="#ffe70c"/></linearGradient><linearGradient id="c212" href="#T" x1="211.1" y1="421.6" x2="207.6" y2="412.5"><stop stop-color="#e3ff07"/><stop offset=".54" stop-color="#ffff0a"/><stop offset="1" stop-color="#ffec0d"/></linearGradient><linearGradient id="c213" href="#T" x1="206.1" y1="424.1" x2="202.5" y2="415.2"><stop stop-color="#e1ff08"/><stop offset=".60" stop-color="#ffff0b"/><stop offset="1" stop-color="#fff10e"/></linearGradient><linearGradient id="c214" href="#T" x1="201" y1="426.6" x2="197.4" y2="417.9"><stop stop-color="#dfff09"/><stop offset=".67" stop-color="#ffff0c"/><stop offset="1" stop-color="#fff70f"/></linearGradient><linearGradient id="c215" href="#T" x1="196" y1="429.1" x2="192.1" y2="420.6"><stop stop-color="#ddff09"/><stop offset=".74" stop-color="#ffff0d"/><stop offset="1" stop-color="#fffc10"/></linearGradient><linearGradient id="c216" href="#T" x1="190.8" y1="431.7" x2="186.9" y2="423.3"><stop stop-color="#daff0a"/><stop offset=".81" stop-color="#ffff0d"/><stop offset="1" stop-color="#ffff11"/></linearGradient><linearGradient id="c217" href="#T" x1="185.5" y1="434.4" x2="181.6" y2="426.1"><stop stop-color="#d8ff0b"/><stop offset="1" stop-color="#ffff12"/></linearGradient><linearGradient id="c218" href="#T" x1="180.2" y1="437" x2="176.3" y2="428.8"><stop stop-color="#d6ff0c"/><stop offset="1" stop-color="#ffff14"/></linearGradient><linearGradient id="c219" href="#T" x1="174.8" y1="439.7" x2="170.9" y2="431.6"><stop stop-color="#d4ff0c"/><stop offset="1" stop-color="#ffff15"/></linearGradient><linearGradient id="c220" href="#T" x1="169.3" y1="442.5" x2="165.4" y2="434.4"><stop stop-color="#d2ff0d"/><stop offset="1" stop-color="#ffff16"/></linearGradient><linearGradient id="c221" href="#T" x1="163.8" y1="445.3" x2="159.9" y2="437.2"><stop stop-color="#d1ff0e"/><stop offset="1" stop-color="#ffff18"/></linearGradient><linearGradient id="c222" href="#T" x1="158.2" y1="448.1" x2="154.3" y2="440.1"><stop stop-color="#cfff0f"/><stop offset="1" stop-color="#ffff1a"/></linearGradient><linearGradient id="c223" href="#T" x1="152.5" y1="450.9" x2="148.7" y2="443"><stop stop-color="#cdff10"/><stop offset="1" stop-color="#ffff1b"/></linearGradient><linearGradient id="c224" href="#T" x1="146.8" y1="453.8" x2="142.9" y2="446"><stop stop-color="#ccff12"/><stop offset="1" stop-color="#ffff1d"/></linearGradient><linearGradient id="c225" href="#T" x1="141" y1="456.7" x2="137.2" y2="448.9"><stop stop-color="#caff13"/><stop offset="1" stop-color="#ffff1f"/></linearGradient><linearGradient id="c226" href="#T" x1="135" y1="459.7" x2="131.4" y2="451.8"><stop stop-color="#c8ff14"/><stop offset="1" stop-color="#feff21"/></linearGradient><linearGradient id="c227" href="#T" x1="129.1" y1="462.7" x2="125.4" y2="454.9"><stop stop-color="#c7ff16"/><stop offset="1" stop-color="#fcff23"/></linearGradient><linearGradient id="c228" href="#T" x1="123.1" y1="465.7" x2="119.4" y2="458"><stop stop-color="#c6ff17"/><stop offset="1" stop-color="#faff25"/></linearGradient><linearGradient id="c229" href="#T" x1="117" y1="468.7" x2="113.3" y2="461.1"><stop stop-color="#c5ff18"/><stop offset="1" stop-color="#f8ff27"/></linearGradient><linearGradient id="c230" href="#T" x1="110.8" y1="471.8" x2="107.2" y2="464.2"><stop stop-color="#c3ff1a"/><stop offset="1" stop-color="#f6ff29"/></linearGradient><linearGradient id="c231" href="#T" x1="221.8" y1="427.3" x2="217.7" y2="417.9"><stop stop-color="#a0f904"/><stop offset="1" stop-color="#e7ff07"/></linearGradient><linearGradient id="c232" href="#T" x1="216.9" y1="429.7" x2="212.8" y2="420.4"><stop stop-color="#9ffa04"/><stop offset="1" stop-color="#e5ff07"/></linearGradient><linearGradient id="c233" href="#T" x1="211.8" y1="432.2" x2="207.8" y2="423"><stop stop-color="#9efa05"/><stop offset="1" stop-color="#e3ff08"/></linearGradient><linearGradient id="c234" href="#T" x1="206.8" y1="434.7" x2="202.7" y2="425.5"><stop stop-color="#9cfa05"/><stop offset="1" stop-color="#e0ff09"/></linearGradient><linearGradient id="c235" href="#T" x1="201.6" y1="437.3" x2="197.5" y2="428.1"><stop stop-color="#9bfa05"/><stop offset="1" stop-color="#deff09"/></linearGradient><linearGradient id="c236" href="#T" x1="196.4" y1="439.8" x2="192.4" y2="430.7"><stop stop-color="#9afb06"/><stop offset="1" stop-color="#dcff0a"/></linearGradient><linearGradient id="c237" href="#T" x1="191.2" y1="442.4" x2="187.1" y2="433.4"><stop stop-color="#98fb06"/><stop offset="1" stop-color="#daff0b"/></linearGradient><linearGradient id="c238" href="#T" x1="185.8" y1="445.1" x2="181.8" y2="436.1"><stop stop-color="#97fc07"/><stop offset="1" stop-color="#d7ff0c"/></linearGradient><linearGradient id="c239" href="#T" x1="180.4" y1="447.7" x2="176.4" y2="438.8"><stop stop-color="#96fc07"/><stop offset="1" stop-color="#d5ff0d"/></linearGradient><linearGradient id="c240" href="#T" x1="175" y1="450.4" x2="171" y2="441.5"><stop stop-color="#95fd08"/><stop offset="1" stop-color="#d3ff0d"/></linearGradient><linearGradient id="c241" href="#T" x1="169.5" y1="453.1" x2="165.4" y2="444.3"><stop stop-color="#94fd08"/><stop offset="1" stop-color="#d2ff0e"/></linearGradient><linearGradient id="c242" href="#T" x1="163.9" y1="455.9" x2="159.9" y2="447.1"><stop stop-color="#93fe09"/><stop offset="1" stop-color="#d0ff0f"/></linearGradient><linearGradient id="c243" href="#T" x1="158.2" y1="458.6" x2="154.2" y2="449.9"><stop stop-color="#92fe0a"/><stop offset="1" stop-color="#ceff11"/></linearGradient><linearGradient id="c244" href="#T" x1="152.5" y1="461.4" x2="148.5" y2="452.8"><stop stop-color="#91ff0a"/><stop offset="1" stop-color="#ccff12"/></linearGradient><linearGradient id="c245" href="#T" x1="146.7" y1="464.3" x2="142.7" y2="455.7"><stop stop-color="#91ff0b"/><stop offset="1" stop-color="#cbff13"/></linearGradient><linearGradient id="c246" href="#T" x1="140.9" y1="467.2" x2="136.9" y2="458.6"><stop stop-color="#90ff0c"/><stop offset="1" stop-color="#c9ff14"/></linearGradient><linearGradient id="c247" href="#T" x1="135" y1="470.1" x2="131" y2="461.6"><stop stop-color="#8fff0d"/><stop offset="1" stop-color="#c8ff16"/></linearGradient><linearGradient id="c248" href="#T" x1="128.9" y1="473" x2="125" y2="464.6"><stop stop-color="#8fff0e"/><stop offset="1" stop-color="#c7ff17"/></linearGradient><linearGradient id="c249" href="#T" x1="122.9" y1="476" x2="118.9" y2="467.7"><stop stop-color="#8eff0f"/><stop offset="1" stop-color="#c5ff19"/></linearGradient><linearGradient id="c250" href="#T" x1="116.7" y1="479" x2="112.7" y2="470.8"><stop stop-color="#8eff10"/><stop offset="1" stop-color="#c4ff1a"/></linearGradient><linearGradient id="c251" href="#T" x1="227.5" y1="436.3" x2="223" y2="426.5"><stop stop-color="#56f402"/><stop offset="1" stop-color="#a2fa04"/></linearGradient><linearGradient id="c252" href="#T" x1="222.5" y1="438.7" x2="218" y2="429"><stop stop-color="#55f402"/><stop offset="1" stop-color="#a0fa04"/></linearGradient><linearGradient id="c253" href="#T" x1="217.5" y1="441.1" x2="213.1" y2="431.5"><stop stop-color="#55f503"/><stop offset="1" stop-color="#9ffa05"/></linearGradient><linearGradient id="c254" href="#T" x1="212.5" y1="443.6" x2="208" y2="434"><stop stop-color="#54f503"/><stop offset="1" stop-color="#9efa05"/></linearGradient><linearGradient id="c255" href="#T" x1="207.4" y1="446.1" x2="202.9" y2="436.5"><stop stop-color="#54f503"/><stop offset="1" stop-color="#9cfb05"/></linearGradient><linearGradient id="c256" href="#T" x1="202.2" y1="448.6" x2="197.7" y2="439"><stop stop-color="#54f503"/><stop offset="1" stop-color="#9bfb06"/></linearGradient><linearGradient id="c257" href="#T" x1="196.9" y1="451.2" x2="192.5" y2="441.6"><stop stop-color="#53f504"/><stop offset="1" stop-color="#9afb06"/></linearGradient><linearGradient id="c258" href="#T" x1="191.6" y1="453.7" x2="187.2" y2="444.3"><stop stop-color="#53f604"/><stop offset="1" stop-color="#98fc07"/></linearGradient><linearGradient id="c259" href="#T" x1="186.3" y1="456.3" x2="181.8" y2="446.9"><stop stop-color="#53f604"/><stop offset="1" stop-color="#97fc07"/></linearGradient><linearGradient id="c260" href="#T" x1="180.8" y1="459" x2="176.4" y2="449.6"><stop stop-color="#53f604"/><stop offset="1" stop-color="#96fd08"/></linearGradient><linearGradient id="c261" href="#T" x1="175.3" y1="461.6" x2="170.9" y2="452.3"><stop stop-color="#53f705"/><stop offset="1" stop-color="#95fd08"/></linearGradient><linearGradient id="c262" href="#T" x1="169.8" y1="464.3" x2="165.4" y2="455"><stop stop-color="#53f705"/><stop offset="1" stop-color="#94fe09"/></linearGradient><linearGradient id="c263" href="#T" x1="164.1" y1="467.1" x2="159.7" y2="457.8"><stop stop-color="#53f706"/><stop offset="1" stop-color="#93fe0a"/></linearGradient><linearGradient id="c264" href="#T" x1="158.4" y1="469.8" x2="154" y2="460.6"><stop stop-color="#53f806"/><stop offset="1" stop-color="#92ff0a"/></linearGradient><linearGradient id="c265" href="#T" x1="152.7" y1="472.6" x2="148.3" y2="463.5"><stop stop-color="#53f806"/><stop offset="1" stop-color="#91ff0b"/></linearGradient><linearGradient id="c266" href="#T" x1="146.8" y1="475.4" x2="142.4" y2="466.3"><stop stop-color="#53f907"/><stop offset="1" stop-color="#90ff0c"/></linearGradient><linearGradient id="c267" href="#T" x1="140.9" y1="478.3" x2="136.5" y2="469.2"><stop stop-color="#53f907"/><stop offset="1" stop-color="#90ff0d"/></linearGradient><linearGradient id="c268" href="#T" x1="134.9" y1="481.2" x2="130.5" y2="472.2"><stop stop-color="#53fa08"/><stop offset="1" stop-color="#8fff0e"/></linearGradient><linearGradient id="c269" href="#T" x1="128.8" y1="484.1" x2="124.5" y2="475.2"><stop stop-color="#53fa09"/><stop offset="1" stop-color="#8eff0f"/></linearGradient><linearGradient id="c270" href="#T" x1="122.7" y1="487.1" x2="118.3" y2="478.2"><stop stop-color="#54fb09"/><stop offset="1" stop-color="#8eff10"/></linearGradient><linearGradient id="c271" href="#T" x1="233.2" y1="446.1" x2="228.2" y2="435.9"><stop stop-color="#04ef01"/><stop offset="1" stop-color="#56f402"/></linearGradient><linearGradient id="c272" href="#T" x1="228.3" y1="448.4" x2="223.3" y2="438.3"><stop stop-color="#05f001"/><stop offset="1" stop-color="#56f403"/></linearGradient><linearGradient id="c273" href="#T" x1="223.3" y1="450.8" x2="218.3" y2="440.7"><stop stop-color="#05f002"/><stop offset="1" stop-color="#55f503"/></linearGradient><linearGradient id="c274" href="#T" x1="218.2" y1="453.3" x2="213.3" y2="443.2"><stop stop-color="#06f002"/><stop offset="1" stop-color="#55f503"/></linearGradient><linearGradient id="c275" href="#T" x1="213.2" y1="455.7" x2="208.2" y2="445.6"><stop stop-color="#06f002"/><stop offset="1" stop-color="#54f503"/></linearGradient><linearGradient id="c276" href="#T" x1="208" y1="458.2" x2="203.1" y2="448.1"><stop stop-color="#07f002"/><stop offset="1" stop-color="#54f503"/></linearGradient><linearGradient id="c277" href="#T" x1="202.8" y1="460.7" x2="197.9" y2="450.7"><stop stop-color="#08f002"/><stop offset="1" stop-color="#54f504"/></linearGradient><linearGradient id="c278" href="#T" x1="197.5" y1="463.2" x2="192.6" y2="453.2"><stop stop-color="#08f102"/><stop offset="1" stop-color="#54f604"/></linearGradient><linearGradient id="c279" href="#T" x1="192.2" y1="465.8" x2="187.2" y2="455.8"><stop stop-color="#09f102"/><stop offset="1" stop-color="#53f604"/></linearGradient><linearGradient id="c280" href="#T" x1="186.8" y1="468.4" x2="181.8" y2="458.4"><stop stop-color="#0af103"/><stop offset="1" stop-color="#53f604"/></linearGradient><linearGradient id="c281" href="#T" x1="181.3" y1="471" x2="176.4" y2="461.1"><stop stop-color="#0bf103"/><stop offset="1" stop-color="#53f705"/></linearGradient><linearGradient id="c282" href="#T" x1="175.7" y1="473.7" x2="170.8" y2="463.8"><stop stop-color="#0cf103"/><stop offset="1" stop-color="#53f705"/></linearGradient><linearGradient id="c283" href="#T" x1="170.1" y1="476.4" x2="165.2" y2="466.5"><stop stop-color="#0cf203"/><stop offset="1" stop-color="#53f706"/></linearGradient><linearGradient id="c284" href="#T" x1="164.4" y1="479.1" x2="159.5" y2="469.2"><stop stop-color="#0df203"/><stop offset="1" stop-color="#53f806"/></linearGradient><linearGradient id="c285" href="#T" x1="158.7" y1="481.9" x2="153.8" y2="472"><stop stop-color="#0ef204"/><stop offset="1" stop-color="#53f806"/></linearGradient><linearGradient id="c286" href="#T" x1="152.9" y1="484.6" x2="148" y2="474.8"><stop stop-color="#0ff204"/><stop offset="1" stop-color="#53f907"/></linearGradient><linearGradient id="c287" href="#T" x1="147" y1="487.5" x2="142.1" y2="477.7"><stop stop-color="#10f304"/><stop offset="1" stop-color="#53f907"/></linearGradient><linearGradient id="c288" href="#T" x1="141" y1="490.3" x2="136.1" y2="480.5"><stop stop-color="#11f304"/><stop offset="1" stop-color="#53fa08"/></linearGradient><linearGradient id="c289" href="#T" x1="135" y1="493.2" x2="130.1" y2="483.5"><stop stop-color="#13f305"/><stop offset="1" stop-color="#54fa09"/></linearGradient><linearGradient id="c290" href="#T" x1="128.8" y1="496.1" x2="123.9" y2="486.4"><stop stop-color="#14f405"/><stop offset="1" stop-color="#54fb09"/></linearGradient><linearGradient id="c291" href="#T" x1="238.9" y1="456.6" x2="233.4" y2="445.9"><stop stop-color="#01e94f"/><stop offset="1" stop-color="#04f001"/></linearGradient><linearGradient id="c292" href="#T" x1="234" y1="459" x2="228.6" y2="448.2"><stop stop-color="#01e94e"/><stop offset="1" stop-color="#05f001"/></linearGradient><linearGradient id="c293" href="#T" x1="229" y1="461.3" x2="223.6" y2="450.6"><stop stop-color="#01e94d"/><stop offset="1" stop-color="#05f001"/></linearGradient><linearGradient id="c294" href="#T" x1="224" y1="463.7" x2="218.6" y2="453"><stop stop-color="#01e94b"/><stop offset="1" stop-color="#06f001"/></linearGradient><linearGradient id="c295" href="#T" x1="218.9" y1="466.2" x2="213.6" y2="455.4"><stop stop-color="#01e94a"/><stop offset="1" stop-color="#07f001"/></linearGradient><linearGradient id="c296" href="#T" x1="213.8" y1="468.6" x2="208.4" y2="457.9"><stop stop-color="#01ea49"/><stop offset="1" stop-color="#07f002"/></linearGradient><linearGradient id="c297" href="#T" x1="208.6" y1="471.1" x2="203.2" y2="460.4"><stop stop-color="#01ea47"/><stop offset="1" stop-color="#08f002"/></linearGradient><linearGradient id="c298" href="#T" x1="203.4" y1="473.6" x2="198" y2="462.9"><stop stop-color="#01ea46"/><stop offset="1" stop-color="#09f102"/></linearGradient><linearGradient id="c299" href="#T" x1="198" y1="476.1" x2="192.7" y2="465.5"><stop stop-color="#01ea44"/><stop offset="1" stop-color="#09f102"/></linearGradient><linearGradient id="c300" href="#T" x1="192.7" y1="478.7" x2="187.3" y2="468"><stop stop-color="#01ea43"/><stop offset="1" stop-color="#0af102"/></linearGradient><linearGradient id="c301" href="#T" x1="187.2" y1="481.3" x2="181.9" y2="470.6"><stop stop-color="#02eb41"/><stop offset="1" stop-color="#0bf102"/></linearGradient><linearGradient id="c302" href="#T" x1="181.7" y1="483.9" x2="176.3" y2="473.3"><stop stop-color="#02eb40"/><stop offset="1" stop-color="#0cf103"/></linearGradient><linearGradient id="c303" href="#T" x1="176.1" y1="486.5" x2="170.8" y2="475.9"><stop stop-color="#02eb3e"/><stop offset="1" stop-color="#0df203"/></linearGradient><linearGradient id="c304" href="#T" x1="170.4" y1="489.2" x2="165.1" y2="478.6"><stop stop-color="#02eb3d"/><stop offset=".86" stop-color="#03f103"/><stop offset="1" stop-color="#0ef203"/></linearGradient><linearGradient id="c305" href="#T" x1="164.7" y1="491.9" x2="159.4" y2="481.4"><stop stop-color="#02ec3b"/><stop offset=".85" stop-color="#03f103"/><stop offset="1" stop-color="#0ff203"/></linearGradient><linearGradient id="c306" href="#T" x1="158.9" y1="494.7" x2="153.6" y2="484.1"><stop stop-color="#02ec3a"/><stop offset=".83" stop-color="#03f103"/><stop offset="1" stop-color="#10f304"/></linearGradient><linearGradient id="c307" href="#T" x1="153" y1="497.4" x2="147.7" y2="486.9"><stop stop-color="#02ec38"/><stop offset=".82" stop-color="#03f103"/><stop offset="1" stop-color="#11f304"/></linearGradient><linearGradient id="c308" href="#T" x1="147.1" y1="500.3" x2="141.8" y2="489.8"><stop stop-color="#02ec37"/><stop offset=".81" stop-color="#04f204"/><stop offset="1" stop-color="#12f304"/></linearGradient><linearGradient id="c309" href="#T" x1="141" y1="503.1" x2="135.7" y2="492.6"><stop stop-color="#03ed35"/><stop offset=".79" stop-color="#04f204"/><stop offset="1" stop-color="#13f404"/></linearGradient><linearGradient id="c310" href="#T" x1="134.9" y1="506" x2="129.6" y2="495.5"><stop stop-color="#03ed33"/><stop offset=".77" stop-color="#04f204"/><stop offset="1" stop-color="#14f405"/></linearGradient><linearGradient id="c311" href="#T" x1="244.6" y1="467.9" x2="238.6" y2="456.6"><stop stop-color="#00e1a7"/><stop offset="1" stop-color="#01e94e"/></linearGradient><linearGradient id="c312" href="#T" x1="239.8" y1="470.2" x2="233.7" y2="458.9"><stop stop-color="#01e2a5"/><stop offset="1" stop-color="#01e94d"/></linearGradient><linearGradient id="c313" href="#T" x1="234.9" y1="472.5" x2="228.8" y2="461.3"><stop stop-color="#01e2a2"/><stop offset="1" stop-color="#01e94b"/></linearGradient><linearGradient id="c314" href="#T" x1="229.9" y1="474.9" x2="223.8" y2="463.6"><stop stop-color="#01e2a0"/><stop offset="1" stop-color="#01e94a"/></linearGradient><linearGradient id="c315" href="#T" x1="224.8" y1="477.3" x2="218.8" y2="466"><stop stop-color="#01e29e"/><stop offset="1" stop-color="#01e949"/></linearGradient><linearGradient id="c316" href="#T" x1="219.7" y1="479.7" x2="213.7" y2="468.5"><stop stop-color="#01e39b"/><stop offset="1" stop-color="#01ea47"/></linearGradient><linearGradient id="c317" href="#T" x1="214.6" y1="482.2" x2="208.5" y2="470.9"><stop stop-color="#01e399"/><stop offset="1" stop-color="#01ea46"/></linearGradient><linearGradient id="c318" href="#T" x1="209.4" y1="484.7" x2="203.3" y2="473.4"><stop stop-color="#01e397"/><stop offset="1" stop-color="#01ea44"/></linearGradient><linearGradient id="c319" href="#T" x1="204.1" y1="487.2" x2="198" y2="475.9"><stop stop-color="#01e394"/><stop offset="1" stop-color="#01ea43"/></linearGradient><linearGradient id="c320" href="#T" x1="198.7" y1="489.7" x2="192.6" y2="478.4"><stop stop-color="#01e392"/><stop offset="1" stop-color="#01ea41"/></linearGradient><linearGradient id="c321" href="#T" x1="193.3" y1="492.3" x2="187.2" y2="481"><stop stop-color="#01e48f"/><stop offset="1" stop-color="#02eb40"/></linearGradient><linearGradient id="c322" href="#T" x1="187.8" y1="494.8" x2="181.7" y2="483.6"><stop stop-color="#01e48d"/><stop offset="1" stop-color="#02eb3e"/></linearGradient><linearGradient id="c323" href="#T" x1="182.2" y1="497.5" x2="176.2" y2="486.2"><stop stop-color="#01e48a"/><stop offset="1" stop-color="#02eb3d"/></linearGradient><linearGradient id="c324" href="#T" x1="176.6" y1="500.1" x2="170.5" y2="488.9"><stop stop-color="#01e588"/><stop offset="1" stop-color="#02eb3b"/></linearGradient><linearGradient id="c325" href="#T" x1="170.9" y1="502.8" x2="164.8" y2="491.6"><stop stop-color="#01e585"/><stop offset="1" stop-color="#02ec3a"/></linearGradient><linearGradient id="c326" href="#T" x1="165.1" y1="505.5" x2="159.1" y2="494.3"><stop stop-color="#01e582"/><stop offset="1" stop-color="#02ec38"/></linearGradient><linearGradient id="c327" href="#T" x1="159.3" y1="508.3" x2="153.2" y2="497"><stop stop-color="#01e580"/><stop offset="1" stop-color="#02ec37"/></linearGradient><linearGradient id="c328" href="#T" x1="153.3" y1="511" x2="147.3" y2="499.8"><stop stop-color="#01e67d"/><stop offset="1" stop-color="#03ed35"/></linearGradient><linearGradient id="c329" href="#T" x1="147.3" y1="513.9" x2="141.3" y2="502.7"><stop stop-color="#02e67a"/><stop offset="1" stop-color="#03ed33"/></linearGradient><linearGradient id="c330" href="#T" x1="141.2" y1="516.7" x2="135.2" y2="505.5"><stop stop-color="#02e678"/><stop offset="1" stop-color="#03ed32"/></linearGradient><linearGradient id="c331" href="#T" x1="250.3" y1="479.8" x2="243.8" y2="468"><stop stop-color="#00c1e8"/><stop offset=".32" stop-color="#00dce6"/><stop offset="1" stop-color="#00e2a5"/></linearGradient><linearGradient id="c332" href="#T" x1="245.4" y1="482.1" x2="238.9" y2="470.3"><stop stop-color="#00c4e8"/><stop offset=".29" stop-color="#00dce6"/><stop offset="1" stop-color="#01e2a3"/></linearGradient><linearGradient id="c333" href="#T" x1="240.5" y1="484.5" x2="234.1" y2="472.6"><stop stop-color="#00c7e8"/><stop offset=".26" stop-color="#00dce6"/><stop offset="1" stop-color="#01e2a1"/></linearGradient><linearGradient id="c334" href="#T" x1="235.6" y1="486.8" x2="229.1" y2="475"><stop stop-color="#00cae8"/><stop offset=".22" stop-color="#00dce6"/><stop offset="1" stop-color="#01e29e"/></linearGradient><linearGradient id="c335" href="#T" x1="230.5" y1="489.2" x2="224.2" y2="477.4"><stop stop-color="#00cde8"/><stop offset=".19" stop-color="#00dce6"/><stop offset="1" stop-color="#01e39c"/></linearGradient><linearGradient id="c336" href="#T" x1="225.4" y1="491.6" x2="219.1" y2="479.8"><stop stop-color="#00d0e8"/><stop offset=".16" stop-color="#01dde7"/><stop offset="1" stop-color="#01e39a"/></linearGradient><linearGradient id="c337" href="#T" x1="220.3" y1="494.1" x2="214" y2="482.2"><stop stop-color="#00d3e8"/><stop offset=".12" stop-color="#01dde7"/><stop offset="1" stop-color="#01e397"/></linearGradient><linearGradient id="c338" href="#T" x1="215.1" y1="496.5" x2="208.8" y2="484.6"><stop stop-color="#00d6e7"/><stop offset="1" stop-color="#01e395"/></linearGradient><linearGradient id="c339" href="#T" x1="209.8" y1="499" x2="203.6" y2="487.1"><stop stop-color="#00d9e7"/><stop offset="1" stop-color="#01e392"/></linearGradient><linearGradient id="c340" href="#T" x1="204.6" y1="501.5" x2="198.1" y2="489.6"><stop stop-color="#00dce7"/><stop offset="1" stop-color="#01e490"/></linearGradient><linearGradient id="c341" href="#T" x1="199.4" y1="504" x2="192.6" y2="492.2"><stop stop-color="#01dde4"/><stop offset="1" stop-color="#01e48d"/></linearGradient><linearGradient id="c342" href="#T" x1="193.9" y1="506.6" x2="187.2" y2="494.8"><stop stop-color="#01dde1"/><stop offset="1" stop-color="#01e48a"/></linearGradient><linearGradient id="c343" href="#T" x1="188.4" y1="509.2" x2="181.6" y2="497.3"><stop stop-color="#01dddd"/><stop offset="1" stop-color="#01e588"/></linearGradient><linearGradient id="c344" href="#T" x1="182.8" y1="511.8" x2="176" y2="500"><stop stop-color="#01deda"/><stop offset="1" stop-color="#01e585"/></linearGradient><linearGradient id="c345" href="#T" x1="177.1" y1="514.5" x2="170.3" y2="502.6"><stop stop-color="#01ded6"/><stop offset="1" stop-color="#01e582"/></linearGradient><linearGradient id="c346" href="#T" x1="171.4" y1="517.2" x2="164.6" y2="505.3"><stop stop-color="#01ded3"/><stop offset="1" stop-color="#01e580"/></linearGradient><linearGradient id="c347" href="#T" x1="165.5" y1="519.9" x2="158.8" y2="508"><stop stop-color="#01dfcf"/><stop offset="1" stop-color="#01e67d"/></linearGradient><linearGradient id="c348" href="#T" x1="159.6" y1="522.6" x2="152.9" y2="510.8"><stop stop-color="#01dfcb"/><stop offset="1" stop-color="#01e67a"/></linearGradient><linearGradient id="c349" href="#T" x1="153.7" y1="525.4" x2="146.9" y2="513.6"><stop stop-color="#01dfc7"/><stop offset="1" stop-color="#02e678"/></linearGradient><linearGradient id="c350" href="#T" x1="147.6" y1="528.2" x2="140.8" y2="516.4"><stop stop-color="#01e0c4"/><stop offset="1" stop-color="#02e775"/></linearGradient><linearGradient id="c351" href="#T" x1="256" y1="492.4" x2="248.8" y2="480.2"><stop stop-color="#0064ec"/><stop offset="1" stop-color="#00c3e8"/></linearGradient><linearGradient id="c352" href="#T" x1="251.2" y1="494.7" x2="244" y2="482.5"><stop stop-color="#0067ec"/><stop offset="1" stop-color="#00c6e7"/></linearGradient><linearGradient id="c353" href="#T" x1="246.4" y1="497" x2="239.1" y2="484.8"><stop stop-color="#006bec"/><stop offset="1" stop-color="#00c9e7"/></linearGradient><linearGradient id="c354" href="#T" x1="241.5" y1="499.4" x2="234.2" y2="487.1"><stop stop-color="#006eeb"/><stop offset="1" stop-color="#00cce7"/></linearGradient><linearGradient id="c355" href="#T" x1="236.5" y1="501.8" x2="229.2" y2="489.5"><stop stop-color="#0072eb"/><stop offset="1" stop-color="#00cfe7"/></linearGradient><linearGradient id="c356" href="#T" x1="231.5" y1="504.2" x2="224.2" y2="491.9"><stop stop-color="#0076eb"/><stop offset="1" stop-color="#00d2e7"/></linearGradient><linearGradient id="c357" href="#T" x1="226.4" y1="506.6" x2="219.1" y2="494.3"><stop stop-color="#007aeb"/><stop offset="1" stop-color="#00d5e7"/></linearGradient><linearGradient id="c358" href="#T" x1="221.3" y1="509.1" x2="213.9" y2="496.7"><stop stop-color="#007deb"/><stop offset="1" stop-color="#00d8e7"/></linearGradient><linearGradient id="c359" href="#T" x1="216.1" y1="511.5" x2="208.7" y2="499.2"><stop stop-color="#0081eb"/><stop offset="1" stop-color="#00dbe7"/></linearGradient><linearGradient id="c360" href="#T" x1="203.5" y1="501.7" x2="210.6" y2="514.1"><stop stop-color="#00dde6"/><stop offset="1" stop-color="#0086ea"/></linearGradient><linearGradient id="c361" href="#T" x1="198.3" y1="504.2" x2="205.2" y2="516.6"><stop stop-color="#01dee3"/><stop offset="1" stop-color="#008aea"/></linearGradient><linearGradient id="c362" href="#T" x1="192.8" y1="506.7" x2="199.8" y2="519.2"><stop stop-color="#01dedf"/><stop offset="1" stop-color="#008eea"/></linearGradient><linearGradient id="c363" href="#T" x1="187.3" y1="509.3" x2="194.3" y2="521.8"><stop stop-color="#01dfdc"/><stop offset=".13" stop-color="#00dce6"/><stop offset="1" stop-color="#0092ea"/></linearGradient><linearGradient id="c364" href="#T" x1="181.6" y1="511.9" x2="188.8" y2="524.4"><stop stop-color="#01dfd8"/><stop offset=".17" stop-color="#00dce6"/><stop offset="1" stop-color="#0096ea"/></linearGradient><linearGradient id="c365" href="#T" x1="176" y1="514.5" x2="183.2" y2="527"><stop stop-color="#01dfd4"/><stop offset=".21" stop-color="#01dde7"/><stop offset="1" stop-color="#009aea"/></linearGradient><linearGradient id="c366" href="#T" x1="170.2" y1="517.2" x2="177.5" y2="529.7"><stop stop-color="#01e0d0"/><stop offset=".26" stop-color="#01dde7"/><stop offset="1" stop-color="#009fea"/></linearGradient><linearGradient id="c367" href="#T" x1="164.4" y1="519.9" x2="171.8" y2="532.3"><stop stop-color="#01e0cd"/><stop offset=".30" stop-color="#01dde7"/><stop offset="1" stop-color="#00a3ea"/></linearGradient><linearGradient id="c368" href="#T" x1="158.5" y1="522.6" x2="165.9" y2="535.1"><stop stop-color="#01e0c9"/><stop offset=".35" stop-color="#01dde7"/><stop offset="1" stop-color="#00a8ea"/></linearGradient><linearGradient id="c369" href="#T" x1="152.5" y1="525.4" x2="160" y2="537.8"><stop stop-color="#01e1c5"/><stop offset=".40" stop-color="#01dde7"/><stop offset="1" stop-color="#00acea"/></linearGradient><linearGradient id="c370" href="#T" x1="146.5" y1="528.1" x2="154" y2="540.6"><stop stop-color="#01e1c1"/><stop offset=".45" stop-color="#01dde7"/><stop offset="1" stop-color="#01b1ea"/></linearGradient><linearGradient id="c371" href="#T" x1="261.3" y1="505.7" x2="254.2" y2="493"><stop stop-color="#0009f0"/><stop offset="1" stop-color="#0066ec"/></linearGradient><linearGradient id="c372" href="#T" x1="256.5" y1="508" x2="249.5" y2="495.2"><stop stop-color="#0009f0"/><stop offset="1" stop-color="#006aec"/></linearGradient><linearGradient id="c373" href="#T" x1="252" y1="510.3" x2="244.3" y2="497.7"><stop stop-color="#000af0"/><stop offset="1" stop-color="#006eeb"/></linearGradient><linearGradient id="c374" href="#T" x1="247.2" y1="512.7" x2="239.4" y2="500"><stop stop-color="#000ef0"/><stop offset="1" stop-color="#0072eb"/></linearGradient><linearGradient id="c375" href="#T" x1="242.3" y1="515.1" x2="234.4" y2="502.4"><stop stop-color="#0012f0"/><stop offset="1" stop-color="#0076eb"/></linearGradient><linearGradient id="c376" href="#T" x1="237.3" y1="517.5" x2="229.4" y2="504.8"><stop stop-color="#0016f0"/><stop offset="1" stop-color="#007aeb"/></linearGradient><linearGradient id="c377" href="#T" x1="232.3" y1="520" x2="224.3" y2="507.2"><stop stop-color="#001aef"/><stop offset="1" stop-color="#007deb"/></linearGradient><linearGradient id="c378" href="#T" x1="227.2" y1="522.4" x2="219.2" y2="509.6"><stop stop-color="#001fef"/><stop offset="1" stop-color="#0081eb"/></linearGradient><linearGradient id="c379" href="#T" x1="222" y1="524.9" x2="214" y2="512.1"><stop stop-color="#0023ef"/><stop offset="1" stop-color="#0085ea"/></linearGradient><linearGradient id="c380" href="#T" x1="216.8" y1="527.4" x2="208.7" y2="514.6"><stop stop-color="#0028ef"/><stop offset="1" stop-color="#0089ea"/></linearGradient><linearGradient id="c381" href="#T" x1="211.5" y1="530" x2="203.4" y2="517.1"><stop stop-color="#002def"/><stop offset="1" stop-color="#008dea"/></linearGradient><linearGradient id="c382" href="#T" x1="206.1" y1="532.5" x2="198" y2="519.6"><stop stop-color="#0032ee"/><stop offset="1" stop-color="#0091ea"/></linearGradient><linearGradient id="c383" href="#T" x1="200.6" y1="535.1" x2="192.5" y2="522.1"><stop stop-color="#0037ee"/><stop offset="1" stop-color="#0096ea"/></linearGradient><linearGradient id="c384" href="#T" x1="195.1" y1="537.7" x2="187" y2="524.7"><stop stop-color="#003cee"/><stop offset="1" stop-color="#009aea"/></linearGradient><linearGradient id="c385" href="#T" x1="189.5" y1="540.3" x2="181.3" y2="527.3"><stop stop-color="#0041ee"/><stop offset="1" stop-color="#009ee9"/></linearGradient><linearGradient id="c386" href="#T" x1="183.9" y1="542.9" x2="175.7" y2="530"><stop stop-color="#0046ed"/><stop offset="1" stop-color="#00a3e9"/></linearGradient><linearGradient id="c387" href="#T" x1="178.1" y1="545.6" x2="169.9" y2="532.6"><stop stop-color="#004ced"/><stop offset="1" stop-color="#00a7e9"/></linearGradient><linearGradient id="c388" href="#T" x1="172.3" y1="548.3" x2="164" y2="535.3"><stop stop-color="#0051ed"/><stop offset="1" stop-color="#00ace9"/></linearGradient><linearGradient id="c389" href="#T" x1="166.4" y1="551" x2="158.1" y2="538"><stop stop-color="#0057ed"/><stop offset="1" stop-color="#00b0e9"/></linearGradient><linearGradient id="c390" href="#T" x1="160.4" y1="553.7" x2="152.1" y2="540.8"><stop stop-color="#005dec"/><stop offset="1" stop-color="#01b5e8"/></linearGradient></defs>
<g class="m"><path d="M156.2,377.2 151.2,377.8 156.2,374.2 161.3,373.6z" fill="url(#c1)"/><path d="M151.2,380.7 146.2,381.5 151.2,377.8 156.2,377.2z" fill="url(#c2)"/><path d="M146.1,384.3 141.1,385.2 146.2,381.5 151.2,380.7z" fill="url(#c3)"/><path d="M140.9,387.9 136,388.9 141.1,385.2 146.1,384.3z" fill="url(#c4)"/><path d="M135.7,391.6 130.8,392.7 136,388.9 140.9,387.9z" fill="url(#c5)"/><path d="M130.5,395.3 125.5,396.5 130.8,392.7 135.7,391.6z" fill="url(#c6)"/><path d="M125.2,399 120.3,400.3 125.5,396.5 130.5,395.3z" fill="url(#c7)"/><path d="M119.8,402.7 114.9,404.2 120.3,400.3 125.2,399z" fill="url(#c8)"/><path d="M114.4,406.5 109.5,408.1 114.9,404.2 119.8,402.7z" fill="url(#c9)"/><path d="M108.9,410.3 104.1,412 109.5,408.1 114.4,406.5z" fill="url(#c10)"/><path d="M103.4,414.1 98.6,416 104.1,412 108.9,410.3z" fill="url(#c11)"/><path d="M97.9,418 93.1,420 98.6,416 103.4,414.1z" fill="url(#c12)"/><path d="M92.2,421.9 87.5,424 93.1,420 97.9,418z" fill="url(#c13)"/><path d="M86.6,425.8 81.8,428.1 87.5,424 92.2,421.9z" fill="url(#c14)"/><path d="M80.8,429.8 76.1,432.2 81.8,428.1 86.6,425.8z" fill="url(#c15)"/><path d="M75,433.8 70.3,436.3 76.1,432.2 80.8,429.8z" fill="url(#c16)"/><path d="M69.2,437.9 64.5,440.4 70.3,436.3 75,433.8z" fill="url(#c17)"/><path d="M63.3,442 58.6,444.6 64.5,440.4 69.2,437.9z" fill="url(#c18)"/><path d="M57.3,446.1 52.7,448.9 58.6,444.6 63.3,442z" fill="url(#c19)"/><path d="M51.3,450.2 46.7,453.2 52.7,448.9 57.3,446.1z" fill="url(#c20)"/><path d="M161.3,377.2 156.2,377.2 161.3,373.6 166.3,373.8z" fill="url(#c21)"/><path d="M156.2,380.7 151.2,380.7 156.2,377.2 161.3,377.2z" fill="url(#c22)"/><path d="M151.1,384.1 146.1,384.3 151.2,380.7 156.2,380.7z" fill="url(#c23)"/><path d="M146,387.6 140.9,387.9 146.1,384.3 151.1,384.1z" fill="url(#c24)"/><path d="M140.7,391.2 135.7,391.6 140.9,387.9 146,387.6z" fill="url(#c25)"/><path d="M135.5,394.7 130.5,395.3 135.7,391.6 140.7,391.2z" fill="url(#c26)"/><path d="M130.2,398.3 125.2,399 130.5,395.3 135.5,394.7z" fill="url(#c27)"/><path d="M124.8,402 119.8,402.7 125.2,399 130.2,398.3z" fill="url(#c28)"/><path d="M119.4,405.6 114.4,406.5 119.8,402.7 124.8,402z" fill="url(#c29)"/><path d="M113.9,409.3 108.9,410.3 114.4,406.5 119.4,405.6z" fill="url(#c30)"/><path d="M108.4,413 103.4,414.1 108.9,410.3 113.9,409.3z" fill="url(#c31)"/><path d="M102.8,416.8 97.9,418 103.4,414.1 108.4,413z" fill="url(#c32)"/><path d="M97.1,420.6 92.2,421.9 97.9,418 102.8,416.8z" fill="url(#c33)"/><path d="M91.4,424.4 86.6,425.8 92.2,421.9 97.1,420.6z" fill="url(#c34)"/><path d="M85.7,428.3 80.8,429.8 86.6,425.8 91.4,424.4z" fill="url(#c35)"/><path d="M79.8,432.2 75,433.8 80.8,429.8 85.7,428.3z" fill="url(#c36)"/><path d="M74,436.1 69.2,437.9 75,433.8 79.8,432.2z" fill="url(#c37)"/><path d="M68,440.1 63.3,442 69.2,437.9 74,436.1z" fill="url(#c38)"/><path d="M62,444.1 57.3,446.1 63.3,442 68,440.1z" fill="url(#c39)"/><path d="M56,448.1 51.3,450.2 57.3,446.1 62,444.1z" fill="url(#c40)"/><path d="M166.4,378 161.3,377.2 166.3,373.8 171.5,374.7z" fill="url(#c41)"/><path d="M161.4,381.4 156.2,380.7 161.3,377.2 166.4,378z" fill="url(#c42)"/><path d="M156.2,384.7 151.1,384.1 156.2,380.7 161.4,381.4z" fill="url(#c43)"/><path d="M151.1,388.1 146,387.6 151.1,384.1 156.2,384.7z" fill="url(#c44)"/><path d="M145.8,391.5 140.7,391.2 146,387.6 151.1,388.1z" fill="url(#c45)"/><path d="M140.6,395 135.5,394.7 140.7,391.2 145.8,391.5z" fill="url(#c46)"/><path d="M135.2,398.5 130.2,398.3 135.5,394.7 140.6,395z" fill="url(#c47)"/><path d="M129.9,402 124.8,402 130.2,398.3 135.2,398.5z" fill="url(#c48)"/><path d="M124.4,405.5 119.4,405.6 124.8,402 129.9,402z" fill="url(#c49)"/><path d="M118.9,409.1 113.9,409.3 119.4,405.6 124.4,405.5z" fill="url(#c50)"/><path d="M113.4,412.7 108.4,413 113.9,409.3 118.9,409.1z" fill="url(#c51)"/><path d="M107.8,416.4 102.8,416.8 108.4,413 113.4,412.7z" fill="url(#c52)"/><path d="M102.1,420 97.1,420.6 102.8,416.8 107.8,416.4z" fill="url(#c53)"/><path d="M96.4,423.7 91.4,424.4 97.1,420.6 102.1,420z" fill="url(#c54)"/><path d="M90.6,427.5 85.7,428.3 91.4,424.4 96.4,423.7z" fill="url(#c55)"/><path d="M84.8,431.3 79.8,432.2 85.7,428.3 90.6,427.5z" fill="url(#c56)"/><path d="M78.9,435.1 74,436.1 79.8,432.2 84.8,431.3z" fill="url(#c57)"/><path d="M72.9,439 68,440.1 74,436.1 78.9,435.1z" fill="url(#c58)"/><path d="M66.9,442.8 62,444.1 68,440.1 72.9,439z" fill="url(#c59)"/><path d="M60.8,446.8 56,448.1 62,444.1 66.9,442.8z" fill="url(#c60)"/><path d="M171.6,379.6 166.4,378 171.5,374.7 176.7,376.4z" fill="url(#c61)"/><path d="M166.6,382.8 161.4,381.4 166.4,378 171.6,379.6z" fill="url(#c62)"/><path d="M161.4,386.1 156.2,384.7 161.4,381.4 166.6,382.8z" fill="url(#c63)"/><path d="M156.2,389.4 151.1,388.1 156.2,384.7 161.4,386.1z" fill="url(#c64)"/><path d="M151,392.7 145.8,391.5 151.1,388.1 156.2,389.4z" fill="url(#c65)"/><path d="M145.7,396 140.6,395 145.8,391.5 151,392.7z" fill="url(#c66)"/><path d="M140.4,399.4 135.2,398.5 140.6,395 145.7,396z" fill="url(#c67)"/><path d="M135,402.8 129.9,402 135.2,398.5 140.4,399.4z" fill="url(#c68)"/><path d="M129.6,406.2 124.4,405.5 129.9,402 135,402.8z" fill="url(#c69)"/><path d="M124,409.7 118.9,409.1 124.4,405.5 129.6,406.2z" fill="url(#c70)"/><path d="M118.5,413.2 113.4,412.7 118.9,409.1 124,409.7z" fill="url(#c71)"/><path d="M112.9,416.7 107.8,416.4 113.4,412.7 118.5,413.2z" fill="url(#c72)"/><path d="M107.2,420.3 102.1,420 107.8,416.4 112.9,416.7z" fill="url(#c73)"/><path d="M101.4,423.9 96.4,423.7 102.1,420 107.2,420.3z" fill="url(#c74)"/><path d="M95.6,427.5 90.6,427.5 96.4,423.7 101.4,423.9z" fill="url(#c75)"/><path d="M89.8,431.2 84.8,431.3 90.6,427.5 95.6,427.5z" fill="url(#c76)"/><path d="M83.8,434.9 78.9,435.1 84.8,431.3 89.8,431.2z" fill="url(#c77)"/><path d="M77.9,438.6 72.9,439 78.9,435.1 83.8,434.9z" fill="url(#c78)"/><path d="M71.8,442.4 66.9,442.8 72.9,439 77.9,438.6z" fill="url(#c79)"/><path d="M65.7,446.3 60.8,446.8 66.9,442.8 71.8,442.4z" fill="url(#c80)"/><path d="M176.9,381.9 171.6,379.6 176.7,376.4 181.9,378.9z" fill="url(#c81)"/><path d="M171.8,385.1 166.6,382.8 171.6,379.6 176.9,381.9z" fill="url(#c82)"/><path d="M166.7,388.2 161.4,386.1 166.6,382.8 171.8,385.1z" fill="url(#c83)"/><path d="M161.5,391.4 156.2,389.4 161.4,386.1 166.7,388.2z" fill="url(#c84)"/><path d="M156.2,394.6 151,392.7 156.2,389.4 161.5,391.4z" fill="url(#c85)"/><path d="M151,397.8 145.7,396 151,392.7 156.2,394.6z" fill="url(#c86)"/><path d="M145.6,401.1 140.4,399.4 145.7,396 151,397.8z" fill="url(#c87)"/><path d="M140.2,404.4 135,402.8 140.4,399.4 145.6,401.1z" fill="url(#c88)"/><path d="M134.8,407.7 129.6,406.2 135,402.8 140.2,404.4z" fill="url(#c89)"/><path d="M129.2,411.1 124,409.7 129.6,406.2 134.8,407.7z" fill="url(#c90)"/><path d="M123.7,414.4 118.5,413.2 124,409.7 129.2,411.1z" fill="url(#c91)"/><path d="M118,417.9 112.9,416.7 118.5,413.2 123.7,414.4z" fill="url(#c92)"/><path d="M112.3,421.3 107.2,420.3 112.9,416.7 118,417.9z" fill="url(#c93)"/><path d="M106.6,424.8 101.4,423.9 107.2,420.3 112.3,421.3z" fill="url(#c94)"/><path d="M100.8,428.4 95.6,427.5 101.4,423.9 106.6,424.8z" fill="url(#c95)"/><path d="M94.9,431.9 89.8,431.2 95.6,427.5 100.8,428.4z" fill="url(#c96)"/><path d="M88.9,435.5 83.8,434.9 89.8,431.2 94.9,431.9z" fill="url(#c97)"/><path d="M82.9,439.2 77.9,438.6 83.8,434.9 88.9,435.5z" fill="url(#c98)"/><path d="M76.9,442.8 71.8,442.4 77.9,438.6 82.9,439.2z" fill="url(#c99)"/><path d="M70.7,446.6 65.7,446.3 71.8,442.4 76.9,442.8z" fill="url(#c100)"/><path d="M182.2,385 176.9,381.9 181.9,378.9 187.2,382.1z" fill="url(#c101)"/><path d="M177.1,388 171.8,385.1 176.9,381.9 182.2,385z" fill="url(#c102)"/><path d="M172,391.1 166.7,388.2 171.8,385.1 177.1,388z" fill="url(#c103)"/><path d="M166.8,394.2 161.5,391.4 166.7,388.2 172,391.1z" fill="url(#c104)"/><path d="M161.5,397.3 156.2,394.6 161.5,391.4 166.8,394.2z" fill="url(#c105)"/><path d="M156.2,400.4 151,397.8 156.2,394.6 161.5,397.3z" fill="url(#c106)"/><path d="M150.9,403.6 145.6,401.1 151,397.8 156.2,400.4z" fill="url(#c107)"/><path d="M145.5,406.7 140.2,404.4 145.6,401.1 150.9,403.6z" fill="url(#c108)"/><path d="M140,410 134.8,407.7 140.2,404.4 145.5,406.7z" fill="url(#c109)"/><path d="M134.5,413.2 129.2,411.1 134.8,407.7 140,410z" fill="url(#c110)"/><path d="M128.9,416.5 123.7,414.4 129.2,411.1 134.5,413.2z" fill="url(#c111)"/><path d="M123.3,419.8 118,417.9 123.7,414.4 128.9,416.5z" fill="url(#c112)"/><path d="M117.6,423.2 112.3,421.3 118,417.9 123.3,419.8z" fill="url(#c113)"/><path d="M111.8,426.6 106.6,424.8 112.3,421.3 117.6,423.2z" fill="url(#c114)"/><path d="M106,430 100.8,428.4 106.6,424.8 111.8,426.6z" fill="url(#c115)"/><path d="M100.1,433.5 94.9,431.9 100.8,428.4 106,430z" fill="url(#c116)"/><path d="M94.1,437 88.9,435.5 94.9,431.9 100.1,433.5z" fill="url(#c117)"/><path d="M88.1,440.5 82.9,439.2 88.9,435.5 94.1,437z" fill="url(#c118)"/><path d="M82,444.1 76.9,442.8 82.9,439.2 88.1,440.5z" fill="url(#c119)"/><path d="M75.9,447.7 70.7,446.6 76.9,442.8 82,444.1z" fill="url(#c120)"/><path d="M187.5,388.9 182.2,385 187.2,382.1 192.5,386z" fill="url(#c121)"/><path d="M182.4,391.8 177.1,388 182.2,385 187.5,388.9z" fill="url(#c122)"/><path d="M177.3,394.7 172,391.1 177.1,388 182.4,391.8z" fill="url(#c123)"/><path d="M172.1,397.7 166.8,394.2 172,391.1 177.3,394.7z" fill="url(#c124)"/><path d="M166.9,400.7 161.5,397.3 166.8,394.2 172.1,397.7z" fill="url(#c125)"/><path d="M161.6,403.8 156.2,400.4 161.5,397.3 166.9,400.7z" fill="url(#c126)"/><path d="M156.2,406.8 150.9,403.6 156.2,400.4 161.6,403.8z" fill="url(#c127)"/><path d="M150.8,409.9 145.5,406.7 150.9,403.6 156.2,406.8z" fill="url(#c128)"/><path d="M145.4,413 140,410 145.5,406.7 150.8,409.9z" fill="url(#c129)"/><path d="M139.9,416.2 134.5,413.2 140,410 145.4,413z" fill="url(#c130)"/><path d="M134.3,419.4 128.9,416.5 134.5,413.2 139.9,416.2z" fill="url(#c131)"/><path d="M128.6,422.6 123.3,419.8 128.9,416.5 134.3,419.4z" fill="url(#c132)"/><path d="M122.9,425.9 117.6,423.2 123.3,419.8 128.6,422.6z" fill="#fffe58"/><path d="M117.1,429.2 111.8,426.6 117.6,423.2 122.9,425.9z" fill="#ffff56"/><path d="M111.3,432.5 106,430 111.8,426.6 117.1,429.2z" fill="#ffff55"/><path d="M105.4,435.9 100.1,433.5 106,430 111.3,432.5z" fill="#ffff53"/><path d="M99.4,439.3 94.1,437 100.1,433.5 105.4,435.9z" fill="url(#c133)"/><path d="M93.4,442.7 88.1,440.5 94.1,437 99.4,439.3z" fill="url(#c134)"/><path d="M87.3,446.2 82,444.1 88.1,440.5 93.4,442.7z" fill="url(#c135)"/><path d="M81.1,449.7 75.9,447.7 82,444.1 87.3,446.2z" fill="url(#c136)"/><path d="M192.9,393.5 187.5,388.9 192.5,386 197.9,390.7z" fill="url(#c137)"/><path d="M187.8,396.3 182.4,391.8 187.5,388.9 192.9,393.5z" fill="url(#c138)"/><path d="M182.7,399.2 177.3,394.7 182.4,391.8 187.8,396.3z" fill="url(#c139)"/><path d="M177.5,402.1 172.1,397.7 177.3,394.7 182.7,399.2z" fill="url(#c140)"/><path d="M172.3,405 166.9,400.7 172.1,397.7 177.5,402.1z" fill="url(#c141)"/><path d="M167,407.9 161.6,403.8 166.9,400.7 172.3,405z" fill="url(#c142)"/><path d="M161.7,410.9 156.2,406.8 161.6,403.8 167,407.9z" fill="url(#c143)"/><path d="M156.2,413.9 150.8,409.9 156.2,406.8 161.7,410.9z" fill="url(#c144)"/><path d="M150.8,416.9 145.4,413 150.8,409.9 156.2,413.9z" fill="url(#c145)"/><path d="M145.3,420 139.9,416.2 145.4,413 150.8,416.9z" fill="url(#c146)"/><path d="M139.7,423.1 134.3,419.4 139.9,416.2 145.3,420z" fill="url(#c147)"/><path d="M134,426.2 128.6,422.6 134.3,419.4 139.7,423.1z" fill="url(#c148)"/><path d="M128.3,429.4 122.9,425.9 128.6,422.6 134,426.2z" fill="url(#c149)"/><path d="M122.5,432.6 117.1,429.2 122.9,425.9 128.3,429.4z" fill="url(#c150)"/><path d="M116.7,435.8 111.3,432.5 117.1,429.2 122.5,432.6z" fill="#ffff54"/><path d="M110.8,439.1 105.4,435.9 111.3,432.5 116.7,435.8z" fill="#ffff54"/><path d="M104.8,442.4 99.4,439.3 105.4,435.9 110.8,439.1z" fill="#ffff54"/><path d="M98.8,445.8 93.4,442.7 99.4,439.3 104.8,442.4z" fill="#ffff54"/><path d="M92.6,449.1 87.3,446.2 93.4,442.7 98.8,445.8z" fill="#ffff53"/><path d="M86.5,452.6 81.1,449.7 87.3,446.2 92.6,449.1z" fill="#ffff52"/><path d="M198.3,398.9 192.9,393.5 197.9,390.7 203.3,396.2z" fill="url(#c151)"/><path d="M193.2,401.6 187.8,396.3 192.9,393.5 198.3,398.9z" fill="url(#c152)"/><path d="M188.1,404.4 182.7,399.2 187.8,396.3 193.2,401.6z" fill="url(#c153)"/><path d="M182.9,407.2 177.5,402.1 182.7,399.2 188.1,404.4z" fill="url(#c154)"/><path d="M177.7,410 172.3,405 177.5,402.1 182.9,407.2z" fill="url(#c155)"/><path d="M172.4,412.9 167,407.9 172.3,405 177.7,410z" fill="url(#c156)"/><path d="M167.1,415.8 161.7,410.9 167,407.9 172.4,412.9z" fill="url(#c157)"/><path d="M161.7,418.7 156.2,413.9 161.7,410.9 167.1,415.8z" fill="url(#c158)"/><path d="M156.2,421.6 150.8,416.9 156.2,413.9 161.7,418.7z" fill="url(#c159)"/><path d="M150.7,424.6 145.3,420 150.8,416.9 156.2,421.6z" fill="url(#c160)"/><path d="M145.1,427.6 139.7,423.1 145.3,420 150.7,424.6z" fill="url(#c161)"/><path d="M139.5,430.7 134,426.2 139.7,423.1 145.1,427.6z" fill="url(#c162)"/><path d="M133.8,433.8 128.3,429.4 134,426.2 139.5,430.7z" fill="url(#c163)"/><path d="M128,436.9 122.5,432.6 128.3,429.4 133.8,433.8z" fill="url(#c164)"/><path d="M122.2,440 116.7,435.8 122.5,432.6 128,436.9z" fill="url(#c165)"/><path d="M116.3,443.2 110.8,439.1 116.7,435.8 122.2,440z" fill="url(#c166)"/><path d="M110.3,446.4 104.8,442.4 110.8,439.1 116.3,443.2z" fill="url(#c167)"/><path d="M104.2,449.7 98.8,445.8 104.8,442.4 110.3,446.4z" fill="url(#c168)"/><path d="M98.1,453 92.6,449.1 98.8,445.8 104.2,449.7z" fill="url(#c169)"/><path d="M91.9,456.3 86.5,452.6 92.6,449.1 98.1,453z" fill="url(#c170)"/><path d="M203.7,405 198.3,398.9 203.3,396.2 208.7,402.4z" fill="url(#c171)"/><path d="M198.6,407.7 193.2,401.6 198.3,398.9 203.7,405z" fill="url(#c172)"/><path d="M193.5,410.4 188.1,404.4 193.2,401.6 198.6,407.7z" fill="url(#c173)"/><path d="M188.4,413.1 182.9,407.2 188.1,404.4 193.5,410.4z" fill="url(#c174)"/><path d="M183.2,415.9 177.7,410 182.9,407.2 188.4,413.1z" fill="url(#c175)"/><path d="M177.9,418.6 172.4,412.9 177.7,410 183.2,415.9z" fill="url(#c176)"/><path d="M172.6,421.5 167.1,415.8 172.4,412.9 177.9,418.6z" fill="url(#c177)"/><path d="M167.2,424.3 161.7,418.7 167.1,415.8 172.6,421.5z" fill="url(#c178)"/><path d="M161.8,427.2 156.2,421.6 161.7,418.7 167.2,424.3z" fill="url(#c179)"/><path d="M156.2,430.1 150.7,424.6 156.2,421.6 161.8,427.2z" fill="url(#c180)"/><path d="M150.7,433 145.1,427.6 150.7,424.6 156.2,430.1z" fill="url(#c181)"/><path d="M145,436 139.5,430.7 145.1,427.6 150.7,433z" fill="url(#c182)"/><path d="M139.3,438.9 133.8,433.8 139.5,430.7 145,436z" fill="url(#c183)"/><path d="M133.6,442 128,436.9 133.8,433.8 139.3,438.9z" fill="url(#c184)"/><path d="M127.7,445 122.2,440 128,436.9 133.6,442z" fill="url(#c185)"/><path d="M121.8,448.1 116.3,443.2 122.2,440 127.7,445z" fill="url(#c186)"/><path d="M115.8,451.3 110.3,446.4 116.3,443.2 121.8,448.1z" fill="url(#c187)"/><path d="M109.8,454.5 104.2,449.7 110.3,446.4 115.8,451.3z" fill="url(#c188)"/><path d="M103.6,457.7 98.1,453 104.2,449.7 109.8,454.5z" fill="url(#c189)"/><path d="M97.4,460.9 91.9,456.3 98.1,453 103.6,457.7z" fill="url(#c190)"/><path d="M209.1,412 203.7,405 208.7,402.4 214.1,409.4z" fill="url(#c191)"/><path d="M204.1,414.5 198.6,407.7 203.7,405 209.1,412z" fill="url(#c192)"/><path d="M199,417.2 193.5,410.4 198.6,407.7 204.1,414.5z" fill="url(#c193)"/><path d="M193.9,419.8 188.4,413.1 193.5,410.4 199,417.2z" fill="url(#c194)"/><path d="M188.7,422.5 183.2,415.9 188.4,413.1 193.9,419.8z" fill="url(#c195)"/><path d="M183.4,425.2 177.9,418.6 183.2,415.9 188.7,422.5z" fill="url(#c196)"/><path d="M178.1,427.9 172.6,421.5 177.9,418.6 183.4,425.2z" fill="url(#c197)"/><path d="M172.8,430.7 167.2,424.3 172.6,421.5 178.1,427.9z" fill="url(#c198)"/><path d="M167.3,433.5 161.8,427.2 167.2,424.3 172.8,430.7z" fill="url(#c199)"/><path d="M161.8,436.3 156.2,430.1 161.8,427.2 167.3,433.5z" fill="url(#c200)"/><path d="M156.2,439.2 150.7,433 156.2,430.1 161.8,436.3z" fill="url(#c201)"/><path d="M150.6,442.1 145,436 150.7,433 156.2,439.2z" fill="url(#c202)"/><path d="M144.9,445 139.3,438.9 145,436 150.6,442.1z" fill="url(#c203)"/><path d="M139.2,447.9 133.6,442 139.3,438.9 144.9,445z" fill="url(#c204)"/><path d="M133.3,450.9 127.7,445 133.6,442 139.2,447.9z" fill="url(#c205)"/><path d="M127.4,454 121.8,448.1 127.7,445 133.3,450.9z" fill="url(#c206)"/><path d="M121.4,457 115.8,451.3 121.8,448.1 127.4,454z" fill="url(#c207)"/><path d="M115.4,460.1 109.8,454.5 115.8,451.3 121.4,457z" fill="url(#c208)"/><path d="M109.3,463.2 103.6,457.7 109.8,454.5 115.4,460.1z" fill="url(#c209)"/><path d="M103,466.4 97.4,460.9 103.6,457.7 109.3,463.2z" fill="url(#c210)"/><path d="M214.6,419.6 209.1,412 214.1,409.4 219.5,417.1z" fill="url(#c211)"/><path d="M209.6,422.2 204.1,414.5 209.1,412 214.6,419.6z" fill="url(#c212)"/><path d="M204.5,424.7 199,417.2 204.1,414.5 209.6,422.2z" fill="url(#c213)"/><path d="M199.4,427.3 193.9,419.8 199,417.2 204.5,424.7z" fill="url(#c214)"/><path d="M194.2,429.9 188.7,422.5 193.9,419.8 199.4,427.3z" fill="url(#c215)"/><path d="M189,432.5 183.4,425.2 188.7,422.5 194.2,429.9z" fill="url(#c216)"/><path d="M183.7,435.2 178.1,427.9 183.4,425.2 189,432.5z" fill="url(#c217)"/><path d="M178.3,437.9 172.8,430.7 178.1,427.9 183.7,435.2z" fill="url(#c218)"/><path d="M172.9,440.6 167.3,433.5 172.8,430.7 178.3,437.9z" fill="url(#c219)"/><path d="M167.4,443.4 161.8,436.3 167.3,433.5 172.9,440.6z" fill="url(#c220)"/><path d="M161.9,446.2 156.2,439.2 161.8,436.3 167.4,443.4z" fill="url(#c221)"/><path d="M156.2,449 150.6,442.1 156.2,439.2 161.9,446.2z" fill="url(#c222)"/><path d="M150.6,451.9 144.9,445 150.6,442.1 156.2,449z" fill="url(#c223)"/><path d="M144.8,454.7 139.2,447.9 144.9,445 150.6,451.9z" fill="url(#c224)"/><path d="M139,457.7 133.3,450.9 139.2,447.9 144.8,454.7z" fill="url(#c225)"/><path d="M133.1,460.6 127.4,454 133.3,450.9 139,457.7z" fill="url(#c226)"/><path d="M127.1,463.6 121.4,457 127.4,454 133.1,460.6z" fill="url(#c227)"/><path d="M121.1,466.6 115.4,460.1 121.4,457 127.1,463.6z" fill="url(#c228)"/><path d="M114.9,469.7 109.3,463.2 115.4,460.1 121.1,466.6z" fill="url(#c229)"/><path d="M108.7,472.8 103,466.4 109.3,463.2 114.9,469.7z" fill="url(#c230)"/><path d="M220.1,428 214.6,419.6 219.5,417.1 225,425.6z" fill="url(#c231)"/><path d="M215.1,430.5 209.6,422.2 214.6,419.6 220.1,428z" fill="url(#c232)"/><path d="M210,433 204.5,424.7 209.6,422.2 215.1,430.5z" fill="url(#c233)"/><path d="M204.9,435.5 199.4,427.3 204.5,424.7 210,433z" fill="url(#c234)"/><path d="M199.8,438.1 194.2,429.9 199.4,427.3 204.9,435.5z" fill="url(#c235)"/><path d="M194.6,440.7 189,432.5 194.2,429.9 199.8,438.1z" fill="url(#c236)"/><path d="M189.3,443.3 183.7,435.2 189,432.5 194.6,440.7z" fill="url(#c237)"/><path d="M183.9,445.9 178.3,437.9 183.7,435.2 189.3,443.3z" fill="url(#c238)"/><path d="M178.5,448.6 172.9,440.6 178.3,437.9 183.9,445.9z" fill="url(#c239)"/><path d="M173.1,451.3 167.4,443.4 172.9,440.6 178.5,448.6z" fill="url(#c240)"/><path d="M167.5,454 161.9,446.2 167.4,443.4 173.1,451.3z" fill="url(#c241)"/><path d="M161.9,456.8 156.2,449 161.9,446.2 167.5,454z" fill="url(#c242)"/><path d="M156.2,459.6 150.6,451.9 156.2,449 161.9,456.8z" fill="url(#c243)"/><path d="M150.5,462.4 144.8,454.7 150.6,451.9 156.2,459.6z" fill="url(#c244)"/><path d="M144.7,465.2 139,457.7 144.8,454.7 150.5,462.4z" fill="url(#c245)"/><path d="M138.8,468.1 133.1,460.6 139,457.7 144.7,465.2z" fill="url(#c246)"/><path d="M132.8,471.1 127.1,463.6 133.1,460.6 138.8,468.1z" fill="url(#c247)"/><path d="M126.8,474 121.1,466.6 127.1,463.6 132.8,471.1z" fill="url(#c248)"/><path d="M120.7,477 114.9,469.7 121.1,466.6 126.8,474z" fill="url(#c249)"/><path d="M114.5,480.1 108.7,472.8 114.9,469.7 120.7,477z" fill="url(#c250)"/><path d="M225.5,437.2 220.1,428 225,425.6 230.4,434.8z" fill="url(#c251)"/><path d="M220.6,439.6 215.1,430.5 220.1,428 225.5,437.2z" fill="url(#c252)"/><path d="M215.5,442.1 210,433 215.1,430.5 220.6,439.6z" fill="url(#c253)"/><path d="M210.5,444.5 204.9,435.5 210,433 215.5,442.1z" fill="url(#c254)"/><path d="M205.3,447 199.8,438.1 204.9,435.5 210.5,444.5z" fill="url(#c255)"/><path d="M200.1,449.6 194.6,440.7 199.8,438.1 205.3,447z" fill="url(#c256)"/><path d="M194.9,452.1 189.3,443.3 194.6,440.7 200.1,449.6z" fill="url(#c257)"/><path d="M189.6,454.7 183.9,445.9 189.3,443.3 194.9,452.1z" fill="url(#c258)"/><path d="M184.2,457.3 178.5,448.6 183.9,445.9 189.6,454.7z" fill="url(#c259)"/><path d="M178.7,460 173.1,451.3 178.5,448.6 184.2,457.3z" fill="url(#c260)"/><path d="M173.2,462.7 167.5,454 173.1,451.3 178.7,460z" fill="url(#c261)"/><path d="M167.6,465.4 161.9,456.8 167.5,454 173.2,462.7z" fill="url(#c262)"/><path d="M162,468.1 156.2,459.6 161.9,456.8 167.6,465.4z" fill="url(#c263)"/><path d="M156.2,470.9 150.5,462.4 156.2,459.6 162,468.1z" fill="url(#c264)"/><path d="M150.5,473.7 144.7,465.2 150.5,462.4 156.2,470.9z" fill="url(#c265)"/><path d="M144.6,476.5 138.8,468.1 144.7,465.2 150.5,473.7z" fill="url(#c266)"/><path d="M138.6,479.4 132.8,471.1 138.8,468.1 144.6,476.5z" fill="url(#c267)"/><path d="M132.6,482.3 126.8,474 132.8,471.1 138.6,479.4z" fill="url(#c268)"/><path d="M126.5,485.2 120.7,477 126.8,474 132.6,482.3z" fill="url(#c269)"/><path d="M120.3,488.2 114.5,480.1 120.7,477 126.5,485.2z" fill="url(#c270)"/><path d="M231,447.1 225.5,437.2 230.4,434.8 235.9,444.8z" fill="url(#c271)"/><path d="M226.1,449.5 220.6,439.6 225.5,437.2 231,447.1z" fill="url(#c272)"/><path d="M221.1,451.9 215.5,442.1 220.6,439.6 226.1,449.5z" fill="url(#c273)"/><path d="M216,454.3 210.5,444.5 215.5,442.1 221.1,451.9z" fill="url(#c274)"/><path d="M210.9,456.8 205.3,447 210.5,444.5 216,454.3z" fill="url(#c275)"/><path d="M205.7,459.3 200.1,449.6 205.3,447 210.9,456.8z" fill="url(#c276)"/><path d="M200.5,461.8 194.9,452.1 200.1,449.6 205.7,459.3z" fill="url(#c277)"/><path d="M195.2,464.3 189.6,454.7 194.9,452.1 200.5,461.8z" fill="url(#c278)"/><path d="M189.8,466.9 184.2,457.3 189.6,454.7 195.2,464.3z" fill="url(#c279)"/><path d="M184.4,469.5 178.7,460 184.2,457.3 189.8,466.9z" fill="url(#c280)"/><path d="M178.9,472.1 173.2,462.7 178.7,460 184.4,469.5z" fill="url(#c281)"/><path d="M173.4,474.8 167.6,465.4 173.2,462.7 178.9,472.1z" fill="url(#c282)"/><path d="M167.7,477.5 162,468.1 167.6,465.4 173.4,474.8z" fill="url(#c283)"/><path d="M162,480.2 156.2,470.9 162,468.1 167.7,477.5z" fill="url(#c284)"/><path d="M156.2,483 150.5,473.7 156.2,470.9 162,480.2z" fill="url(#c285)"/><path d="M150.4,485.7 144.6,476.5 150.5,473.7 156.2,483z" fill="url(#c286)"/><path d="M144.5,488.6 138.6,479.4 144.6,476.5 150.4,485.7z" fill="url(#c287)"/><path d="M138.5,491.4 132.6,482.3 138.6,479.4 144.5,488.6z" fill="url(#c288)"/><path d="M132.4,494.3 126.5,485.2 132.6,482.3 138.5,491.4z" fill="url(#c289)"/><path d="M126.2,497.3 120.3,488.2 126.5,485.2 132.4,494.3z" fill="url(#c290)"/><path d="M236.5,457.7 231,447.1 235.9,444.8 241.3,455.4z" fill="url(#c291)"/><path d="M231.5,460.1 226.1,449.5 231,447.1 236.5,457.7z" fill="url(#c292)"/><path d="M226.6,462.4 221.1,451.9 226.1,449.5 231.5,460.1z" fill="url(#c293)"/><path d="M221.6,464.8 216,454.3 221.1,451.9 226.6,462.4z" fill="url(#c294)"/><path d="M216.5,467.3 210.9,456.8 216,454.3 221.6,464.8z" fill="url(#c295)"/><path d="M211.3,469.7 205.7,459.3 210.9,456.8 216.5,467.3z" fill="url(#c296)"/><path d="M206.1,472.2 200.5,461.8 205.7,459.3 211.3,469.7z" fill="url(#c297)"/><path d="M200.9,474.7 195.2,464.3 200.5,461.8 206.1,472.2z" fill="url(#c298)"/><path d="M195.5,477.2 189.8,466.9 195.2,464.3 200.9,474.7z" fill="url(#c299)"/><path d="M190.1,479.8 184.4,469.5 189.8,466.9 195.5,477.2z" fill="url(#c300)"/><path d="M184.7,482.4 178.9,472.1 184.4,469.5 190.1,479.8z" fill="url(#c301)"/><path d="M179.1,485 173.4,474.8 178.9,472.1 184.7,482.4z" fill="url(#c302)"/><path d="M173.5,487.7 167.7,477.5 173.4,474.8 179.1,485z" fill="url(#c303)"/><path d="M167.8,490.3 162,480.2 167.7,477.5 173.5,487.7z" fill="url(#c304)"/><path d="M162.1,493.1 156.2,483 162,480.2 167.8,490.3z" fill="url(#c305)"/><path d="M156.2,495.8 150.4,485.7 156.2,483 162.1,493.1z" fill="url(#c306)"/><path d="M150.3,498.6 144.5,488.6 150.4,485.7 156.2,495.8z" fill="url(#c307)"/><path d="M144.4,501.4 138.5,491.4 144.5,488.6 150.3,498.6z" fill="url(#c308)"/><path d="M138.3,504.3 132.4,494.3 138.5,491.4 144.4,501.4z" fill="url(#c309)"/><path d="M132.2,507.2 126.2,497.3 132.4,494.3 138.3,504.3z" fill="url(#c310)"/><path d="M241.9,469.1 236.5,457.7 241.3,455.4 246.7,466.8z" fill="url(#c311)"/><path d="M237,471.4 231.5,460.1 236.5,457.7 241.9,469.1z" fill="url(#c312)"/><path d="M232.1,473.7 226.6,462.4 231.5,460.1 237,471.4z" fill="url(#c313)"/><path d="M227.1,476.1 221.6,464.8 226.6,462.4 232.1,473.7z" fill="url(#c314)"/><path d="M222.1,478.5 216.5,467.3 221.6,464.8 227.1,476.1z" fill="url(#c315)"/><path d="M216.9,480.9 211.3,469.7 216.5,467.3 222.1,478.5z" fill="url(#c316)"/><path d="M211.8,483.4 206.1,472.2 211.3,469.7 216.9,480.9z" fill="url(#c317)"/><path d="M206.5,485.8 200.9,474.7 206.1,472.2 211.8,483.4z" fill="url(#c318)"/><path d="M201.2,488.3 195.5,477.2 200.9,474.7 206.5,485.8z" fill="url(#c319)"/><path d="M195.8,490.9 190.1,479.8 195.5,477.2 201.2,488.3z" fill="url(#c320)"/><path d="M190.4,493.4 184.7,482.4 190.1,479.8 195.8,490.9z" fill="url(#c321)"/><path d="M184.9,496 179.1,485 184.7,482.4 190.4,493.4z" fill="url(#c322)"/><path d="M179.3,498.7 173.5,487.7 179.1,485 184.9,496z" fill="url(#c323)"/><path d="M173.7,501.3 167.8,490.3 173.5,487.7 179.3,498.7z" fill="url(#c324)"/><path d="M167.9,504 162.1,493.1 167.8,490.3 173.7,501.3z" fill="url(#c325)"/><path d="M162.1,506.7 156.2,495.8 162.1,493.1 167.9,504z" fill="url(#c326)"/><path d="M156.2,509.5 150.3,498.6 156.2,495.8 162.1,506.7z" fill="url(#c327)"/><path d="M150.3,512.3 144.4,501.4 150.3,498.6 156.2,509.5z" fill="url(#c328)"/><path d="M144.3,515.1 138.3,504.3 144.4,501.4 150.3,512.3z" fill="url(#c329)"/><path d="M138.1,517.9 132.2,507.2 138.3,504.3 144.3,515.1z" fill="url(#c330)"/><path d="M247.3,481.1 241.9,469.1 246.7,466.8 252.1,478.8z" fill="url(#c331)"/><path d="M242.5,483.4 237,471.4 241.9,469.1 247.3,481.1z" fill="url(#c332)"/><path d="M237.6,485.7 232.1,473.7 237,471.4 242.5,483.4z" fill="url(#c333)"/><path d="M232.6,488.1 227.1,476.1 232.1,473.7 237.6,485.7z" fill="url(#c334)"/><path d="M227.6,490.5 222.1,478.5 227.1,476.1 232.6,488.1z" fill="url(#c335)"/><path d="M222.5,492.9 216.9,480.9 222.1,478.5 227.6,490.5z" fill="url(#c336)"/><path d="M217.4,495.3 211.8,483.4 216.9,480.9 222.5,492.9z" fill="url(#c337)"/><path d="M212.2,497.8 206.5,485.8 211.8,483.4 217.4,495.3z" fill="url(#c338)"/><path d="M206.9,500.3 201.2,488.3 206.5,485.8 212.2,497.8z" fill="url(#c339)"/><path d="M201.6,502.8 195.8,490.9 201.2,488.3 206.9,500.3z" fill="url(#c340)"/><path d="M196.1,505.3 190.4,493.4 195.8,490.9 201.6,502.8z" fill="url(#c341)"/><path d="M190.7,507.9 184.9,496 190.4,493.4 196.1,505.3z" fill="url(#c342)"/><path d="M185.1,510.5 179.3,498.7 184.9,496 190.7,507.9z" fill="url(#c343)"/><path d="M179.5,513.1 173.7,501.3 179.3,498.7 185.1,510.5z" fill="url(#c344)"/><path d="M173.8,515.8 167.9,504 173.7,501.3 179.5,513.1z" fill="url(#c345)"/><path d="M168,518.5 162.1,506.7 167.9,504 173.8,515.8z" fill="url(#c346)"/><path d="M162.2,521.2 156.2,509.5 162.1,506.7 168,518.5z" fill="url(#c347)"/><path d="M156.2,523.9 150.3,512.3 156.2,509.5 162.2,521.2z" fill="url(#c348)"/><path d="M150.2,526.7 144.3,515.1 150.3,512.3 156.2,523.9z" fill="url(#c349)"/><path d="M144.2,529.5 138.1,517.9 144.3,515.1 150.2,526.7z" fill="url(#c350)"/><path d="M252.7,493.8 247.3,481.1 252.1,478.8 257.5,491.5z" fill="url(#c351)"/><path d="M247.9,496.1 242.5,483.4 247.3,481.1 252.7,493.8z" fill="url(#c352)"/><path d="M243.1,498.5 237.6,485.7 242.5,483.4 247.9,496.1z" fill="url(#c353)"/><path d="M238.1,500.8 232.6,488.1 237.6,485.7 243.1,498.5z" fill="url(#c354)"/><path d="M233.1,503.2 227.6,490.5 232.6,488.1 238.1,500.8z" fill="url(#c355)"/><path d="M228.1,505.6 222.5,492.9 227.6,490.5 233.1,503.2z" fill="url(#c356)"/><path d="M223,508 217.4,495.3 222.5,492.9 228.1,505.6z" fill="url(#c357)"/><path d="M217.8,510.5 212.2,497.8 217.4,495.3 223,508z" fill="url(#c358)"/><path d="M212.6,513 206.9,500.3 212.2,497.8 217.8,510.5z" fill="url(#c359)"/><path d="M207.3,515.5 201.6,502.8 206.9,500.3 212.6,513z" fill="url(#c360)"/><path d="M201.9,518 196.1,505.3 201.6,502.8 207.3,515.5z" fill="url(#c361)"/><path d="M196.4,520.6 190.7,507.9 196.1,505.3 201.9,518z" fill="url(#c362)"/><path d="M190.9,523.1 185.1,510.5 190.7,507.9 196.4,520.6z" fill="url(#c363)"/><path d="M185.3,525.8 179.5,513.1 185.1,510.5 190.9,523.1z" fill="url(#c364)"/><path d="M179.7,528.4 173.8,515.8 179.5,513.1 185.3,525.8z" fill="url(#c365)"/><path d="M173.9,531 168,518.5 173.8,515.8 179.7,528.4z" fill="url(#c366)"/><path d="M168.1,533.7 162.2,521.2 168,518.5 173.9,531z" fill="url(#c367)"/><path d="M162.2,536.5 156.2,523.9 162.2,521.2 168.1,533.7z" fill="url(#c368)"/><path d="M156.2,539.2 150.2,526.7 156.2,523.9 162.2,536.5z" fill="url(#c369)"/><path d="M150.2,542 144.2,529.5 150.2,526.7 156.2,539.2z" fill="url(#c370)"/><path d="M258.1,507.2 252.7,493.8 257.5,491.5 262.8,504.8z" fill="url(#c371)"/><path d="M253.3,509.5 247.9,496.1 252.7,493.8 258.1,507.2z" fill="url(#c372)"/><path d="M248.5,511.9 243.1,498.5 247.9,496.1 253.3,509.5z" fill="url(#c373)"/><path d="M243.6,514.3 238.1,500.8 243.1,498.5 248.5,511.9z" fill="url(#c374)"/><path d="M238.7,516.7 233.1,503.2 238.1,500.8 243.6,514.3z" fill="url(#c375)"/><path d="M233.6,519.1 228.1,505.6 233.1,503.2 238.7,516.7z" fill="url(#c376)"/><path d="M228.6,521.6 223,508 228.1,505.6 233.6,519.1z" fill="url(#c377)"/><path d="M223.4,524 217.8,510.5 223,508 228.6,521.6z" fill="url(#c378)"/><path d="M218.2,526.5 212.6,513 217.8,510.5 223.4,524z" fill="url(#c379)"/><path d="M213,529 207.3,515.5 212.6,513 218.2,526.5z" fill="url(#c380)"/><path d="M207.6,531.5 201.9,518 207.3,515.5 213,529z" fill="url(#c381)"/><path d="M202.2,534.1 196.4,520.6 201.9,518 207.6,531.5z" fill="url(#c382)"/><path d="M196.7,536.7 190.9,523.1 196.4,520.6 202.2,534.1z" fill="url(#c383)"/><path d="M191.2,539.2 185.3,525.8 190.9,523.1 196.7,536.7z" fill="url(#c384)"/><path d="M185.6,541.9 179.7,528.4 185.3,525.8 191.2,539.2z" fill="url(#c385)"/><path d="M179.9,544.5 173.9,531 179.7,528.4 185.6,541.9z" fill="url(#c386)"/><path d="M174.1,547.1 168.1,533.7 173.9,531 179.9,544.5z" fill="url(#c387)"/><path d="M168.2,549.8 162.2,536.5 168.1,533.7 174.1,547.1z" fill="url(#c388)"/><path d="M162.3,552.5 156.2,539.2 162.2,536.5 168.2,549.8z" fill="url(#c389)"/><path d="M156.2,555.3 150.2,542 156.2,539.2 162.3,552.5z" fill="url(#c390)"/></g>

<circle cx="97.3" cy="460.4" r="2.3" fill="#b20000" stroke="#4a0000" stroke-width="0.55"/>
<path d="M115.6,459.8 L115.6,478" stroke="#333" stroke-width="0.55"/>
<circle cx="115.6" cy="459.8" r="2.3" fill="#b20000" stroke="#4a0000" stroke-width="0.55"/>
<path d="M104,408.4 L104,411.5" stroke="#333" stroke-width="0.55"/>
<circle cx="104" cy="408.4" r="2.3" fill="#b20000" stroke="#4a0000" stroke-width="0.55"/>
<path d="M190.3,380.7 L190.3,385" stroke="#333" stroke-width="0.55"/>
<circle cx="190.3" cy="380.7" r="2.3" fill="#b20000" stroke="#4a0000" stroke-width="0.55"/>
<path d="M262.8,497.4 L262.8,503" stroke="#333" stroke-width="0.55"/>
<circle cx="262.8" cy="497.4" r="2.3" fill="#b20000" stroke="#4a0000" stroke-width="0.55"/>
<rect x="204.3" y="607.4" width="85.9" height="11.6" fill="#f5f7fc"/>
<circle cx="211.3" cy="349.3" r="2.25" fill="#a00000" stroke="#2a0000" stroke-width="0.8"/>
<circle cx="211.3" cy="364.2" r="2.25" fill="#ffc9cf" stroke="#2a1010" stroke-width="0.8"/>
<path d="M308.6,449.9 L317.5,449.9 L319.6,508.7 L310.7,508.7 Z" fill="url(#cb)" stroke="#1c1c1c" stroke-width="1"/></g>
<g><path d="M407.8,555.2 L511.5,621.6 L615.3,555.2 L511.5,502.3 Z" fill="#5e5e5e" stroke="#333" stroke-width="0.5"/>
<path d="M405.8,519.3 L511.5,469.2 M511.5,469.2 L617.3,519.3 M404.6,499.8 L511.5,451.3 M511.5,451.3 L618.5,499.8 M403.5,480.3 L511.5,433.5 M511.5,433.5 L619.6,480.3 M402.4,460.8 L511.5,415.6 M511.5,415.6 L620.7,460.8 M401.3,441.3 L511.5,397.8 M511.5,397.8 L621.8,441.3 M400.2,421.8 L511.5,379.9 M511.5,379.9 L622.9,421.8 M399,402.3 L511.5,362.1 M511.5,362.1 L624.1,402.3 M426.9,509.3 L421.5,394.3 M596.2,509.3 L601.6,394.3 M448.1,499.2 L444,386.2 M575,499.2 L579.1,386.2 M469.2,489.2 L466.5,378.2 M553.9,489.2 L556.6,378.2 M490.4,479.2 L489,370.1 M532.7,479.2 L534.1,370.1 M407.8,555.2 L399,402.3 M511.5,502.3 L511.5,362.1 M615.3,555.2 L624.1,402.3" fill="none" stroke="#2a2a2a" stroke-width="0.55"/>
<circle cx="405.8" cy="519.3" r="0.9" fill="#000"/>
<circle cx="404.6" cy="499.8" r="0.9" fill="#000"/>
<circle cx="403.5" cy="480.3" r="0.9" fill="#000"/>
<circle cx="402.4" cy="460.8" r="0.9" fill="#000"/>
<circle cx="401.3" cy="441.3" r="0.9" fill="#000"/>
<circle cx="400.2" cy="421.8" r="0.9" fill="#000"/>
<circle cx="399" cy="402.3" r="0.9" fill="#000"/>
<circle cx="511.5" cy="621.6" r="0.9" fill="#000"/>
<circle cx="511.5" cy="621.6" r="0.9" fill="#000"/>
<circle cx="490.8" cy="608.3" r="0.9" fill="#000"/>
<circle cx="532.3" cy="608.3" r="0.9" fill="#000"/>
<circle cx="470.1" cy="595" r="0.9" fill="#000"/>
<circle cx="553" cy="595" r="0.9" fill="#000"/>
<circle cx="449.3" cy="581.8" r="0.9" fill="#000"/>
<circle cx="573.8" cy="581.8" r="0.9" fill="#000"/>
<circle cx="428.6" cy="568.5" r="0.9" fill="#000"/>
<circle cx="594.5" cy="568.5" r="0.9" fill="#000"/>
<circle cx="407.8" cy="555.2" r="0.9" fill="#000"/>
<circle cx="615.3" cy="555.2" r="0.9" fill="#000"/>
<path d="M607.8,551.4 L605.5,552.9 L603.1,554.3 L600.7,555.8 L598.4,557.2 L596,558.7 L593.6,560.2 L592,561.2 L589.5,562.7 L587.1,564.2 L584.7,565.7 L582.2,567.2 L579.8,568.8 L577.3,570.3 L574.8,571.9 L572.3,573.5 L569.8,575.1 L567.3,576.7 L564.7,578.3 L562.2,579.9 L559.7,581.5 L557.9,582.6 L555.4,584.2 L552.8,585.9 L550.2,587.6 L547.6,589.3 L544.9,591 L542.3,592.7 L539.6,594.4 L537,596.1 L534.3,597.9 L531.6,599.6 L528.9,601.4 L526.2,603.2 L523.5,605 L520.7,606.8 L518,608.6 L515.2,610.5 L512.4,612.3 L509.6,614.2 L507.7,615.4 L504.9,617.3" fill="none" stroke="#1cc6d4" stroke-width="1.1"/>
<path d="M600.2,547.6 L597.9,549 L595.5,550.4 L593.2,551.9 L590.8,553.3 L588.5,554.8 L586.1,556.2 L583.7,557.7 L581.3,559.2 L578.8,560.7 L576.4,562.2 L574,563.7 L571.5,565.3 L569,566.8 L566.6,568.4 L564.1,569.9 L561.6,571.5 L559,573.1 L556.5,574.7 L554,576.3 L551.4,577.9 L548.8,579.5 L546.3,581.1 L543.7,582.8 L541.1,584.4 L538.4,586.1 L535.8,587.8 L533.1,589.4 L530.5,591.1 L527.8,592.9 L525.1,594.6 L522.4,596.3 L519.7,598.1 L516.9,599.8 L514.2,601.6 L511.4,603.4 L508.6,605.2 L505.8,607 L504,608.2 L501.1,610 L498.3,611.9" fill="none" stroke="#1cd861" stroke-width="1.1"/>
<path d="M589.9,542.3 L587.6,543.7 L585.2,545.1 L582.9,546.5 L580.5,548 L578.2,549.4 L575.8,550.9 L573.4,552.3 L571.5,553.5 L569.4,554.8 L567,556.2 L564.6,557.7 L562.1,559.2 L559.7,560.7 L557.2,562.3 L554.7,563.8 L552.2,565.3 L549.7,566.9 L547.2,568.4 L544.6,570 L542.1,571.6 L539.5,573.1 L537,574.7 L534.4,576.4 L531.8,578 L529.1,579.6 L526.5,581.2 L523.9,582.9 L521.2,584.5 L518.5,586.2 L515.8,587.9 L513.1,589.6 L510.4,591.3 L507.7,593 L504.9,594.7 L502.1,596.5 L499.4,598.2 L497.5,599.4 L494.7,601.2 L491.9,603 L489,604.7" fill="none" stroke="#75d81c" stroke-width="1.1"/>
<path d="M580,537.3 L577.7,538.7 L575.4,540 L573.1,541.4 L570.7,542.8 L568.3,544.3 L566,545.7 L563.6,547.1 L561.2,548.5 L558.8,550 L556.4,551.5 L553.9,552.9 L551.5,554.4 L549,555.9 L546.5,557.4 L544.1,558.9 L541.6,560.4 L539,561.9 L536.5,563.4 L534,565 L531.4,566.5 L528.9,568.1 L526.3,569.7 L523.7,571.2 L521.1,572.8 L518.5,574.4 L515.8,576 L513.2,577.7 L510.5,579.3 L507.9,580.9 L505.2,582.6 L503.4,583.7 L500.6,585.4 L497.9,587.1 L495.2,588.7 L492.4,590.5 L489.6,592.2 L486.8,593.9 L484,595.6 L481.2,597.4 L478.4,599.1" fill="none" stroke="#d4b81c" stroke-width="1.1"/>
<path d="M428.8,544.5 L431.5,543.4 L434.4,542.1 L437.3,540.8 L440.2,539.5 L443,538.2 L444.9,537.3 L447.7,536 L450.5,534.7 L453.2,533.4 L455.9,532.1 L458.6,530.8 L461.3,529.5 L464,528.2 L466.2,527.2 L468.3,526.1 L470.9,524.8 L473.5,523.5 L476.1,522.2 L478.6,521 L481.1,519.7 L483.6,518.4 L486,517.1 L488.5,515.8 L490.9,514.6 L493.3,513.3 L494.9,512.4 L497.2,511.2 L499.6,509.9 L501.9,508.6 L504.2,507.4 L506.4,506.1 L508.7,504.9 L510.9,503.6" fill="none" stroke="#d43e1c" stroke-width="1.1"/>
<path d="M568,531.1 L565.7,532.5 L563.3,533.8 L561,535.2 L558.6,536.6 L556.3,537.9 L553.9,539.3 L551.5,540.7 L549.1,542.1 L546.7,543.5 L544.3,545 L541.8,546.4 L539.4,547.8 L536.9,549.3 L534.4,550.7 L532,552.2 L529.5,553.7 L527,555.2 L524.4,556.7 L521.9,558.2 L519.4,559.7 L517.7,560.7 L515.1,562.2 L512.5,563.8 L509.9,565.3 L507.3,566.9 L504.7,568.5 L502.1,570.1 L499.4,571.6 L496.8,573.3 L494.1,574.9 L491.4,576.5 L488.7,578.1 L486,579.8 L483.3,581.4 L480.5,583.1 L478.7,584.2 L475.9,585.9 L473.2,587.6 L470.4,589.3 L467.5,591.1" fill="none" stroke="#d43e1c" stroke-width="1.1"/>
<path d="M434.1,441.9 L434.1,428.5" stroke="#333" stroke-width="0.55"/>
<circle cx="434.1" cy="441.9" r="2.3" fill="#ffc9cf" stroke="#5a3030" stroke-width="0.5"/>
<path d="M511.3,581.5 L511.3,576" stroke="#333" stroke-width="0.55"/>
<circle cx="511.3" cy="581.5" r="2.3" fill="#ffc9cf" stroke="#5a3030" stroke-width="0.5"/>

<circle cx="567.9" cy="546.6" r="2.3" fill="#ffc9cf" stroke="#5a3030" stroke-width="0.5"/>

<circle cx="617.5" cy="515.4" r="2.3" fill="#ffc9cf" stroke="#5a3030" stroke-width="0.5"/>
<defs><linearGradient id="d1" href="#T" x1="418" y1="420.1" x2="418.4" y2="421.5"><stop stop-color="#fc0102"/><stop offset="1" stop-color="#fb2501"/></linearGradient><linearGradient id="d2" href="#T" x1="411.8" y1="421.9" x2="412.3" y2="423.3"><stop stop-color="#fc0102"/><stop offset="1" stop-color="#fb2001"/></linearGradient><linearGradient id="d3" href="#T" x1="405.7" y1="423.7" x2="406.1" y2="425.1"><stop stop-color="#fc0102"/><stop offset="1" stop-color="#fb1a01"/></linearGradient><linearGradient id="d4" href="#T" x1="526.5" y1="380.4" x2="527.2" y2="382.1"><stop stop-color="#ff0e0e"/><stop offset="1" stop-color="#ff1c1c"/></linearGradient><linearGradient id="d5" href="#T" x1="522.2" y1="384.2" x2="521.4" y2="382.5"><stop stop-color="#ff1b1b"/><stop offset="1" stop-color="#ff0d0d"/></linearGradient><linearGradient id="d6" href="#T" x1="517" y1="386.2" x2="516.4" y2="384.6"><stop stop-color="#ff1a1a"/><stop offset="1" stop-color="#ff0d0d"/></linearGradient><linearGradient id="d7" href="#T" x1="511.2" y1="386.7" x2="511.9" y2="388.3"><stop stop-color="#ff0c0c"/><stop offset="1" stop-color="#ff1a1a"/></linearGradient><linearGradient id="d8" href="#T" x1="506.7" y1="390.4" x2="506" y2="388.8"><stop stop-color="#ff1919"/><stop offset="1" stop-color="#ff0c0c"/></linearGradient><linearGradient id="d9" href="#T" x1="501.4" y1="392.4" x2="500.8" y2="390.9"><stop stop-color="#ff1818"/><stop offset="1" stop-color="#ff0b0b"/></linearGradient><linearGradient id="d10" href="#T" x1="496" y1="394.5" x2="495.5" y2="393"><stop stop-color="#ff1818"/><stop offset="1" stop-color="#ff0b0b"/></linearGradient><linearGradient id="d11" href="#T" x1="490.6" y1="396.5" x2="490.1" y2="395.1"><stop stop-color="#ff1717"/><stop offset="1" stop-color="#ff0b0b"/></linearGradient><linearGradient id="d12" href="#T" x1="484.6" y1="397.1" x2="485.2" y2="398.6"><stop stop-color="#ff0b0b"/><stop offset="1" stop-color="#ff1717"/></linearGradient><linearGradient id="d13" href="#T" x1="479.7" y1="400.6" x2="479.1" y2="399.2"><stop stop-color="#ff1616"/><stop offset="1" stop-color="#ff0a0a"/></linearGradient><linearGradient id="d14" href="#T" x1="474.1" y1="402.7" x2="473.6" y2="401.3"><stop stop-color="#ff1616"/><stop offset="1" stop-color="#ff0a0a"/></linearGradient><linearGradient id="d15" href="#T" x1="467.9" y1="403.3" x2="468.4" y2="404.7"><stop stop-color="#ff0a0a"/><stop offset="1" stop-color="#ff1616"/></linearGradient><linearGradient id="d16" href="#T" x1="462.7" y1="406.7" x2="462.2" y2="405.4"><stop stop-color="#ff1515"/><stop offset="1" stop-color="#ff0a0a"/></linearGradient><linearGradient id="d17" href="#T" x1="456.4" y1="407.4" x2="456.9" y2="408.8"><stop stop-color="#ff0a0a"/><stop offset="1" stop-color="#ff1515"/></linearGradient><linearGradient id="d18" href="#T" x1="450.6" y1="409.4" x2="451" y2="410.8"><stop stop-color="#ff0a0a"/><stop offset="1" stop-color="#ff1515"/></linearGradient><linearGradient id="d19" href="#T" x1="445.1" y1="412.9" x2="444.6" y2="411.4"><stop stop-color="#ff1515"/><stop offset="1" stop-color="#ff0a0a"/></linearGradient><linearGradient id="d20" href="#T" x1="439.1" y1="414.9" x2="438.6" y2="413.5"><stop stop-color="#ff1515"/><stop offset="1" stop-color="#ff0a0a"/></linearGradient><linearGradient id="d21" href="#T" x1="432.5" y1="415.5" x2="433" y2="416.9"><stop stop-color="#ff0b0b"/><stop offset="1" stop-color="#ff1515"/></linearGradient><linearGradient id="d22" href="#T" x1="426.9" y1="419" x2="426.4" y2="417.5"><stop stop-color="#ff1616"/><stop offset="1" stop-color="#ff0b0b"/></linearGradient><linearGradient id="d23" href="#T" x1="420.1" y1="419.5" x2="420.6" y2="421"><stop stop-color="#ff0b0b"/><stop offset="1" stop-color="#ff1616"/></linearGradient><linearGradient id="d24" href="#T" x1="532.7" y1="382.7" x2="531.5" y2="380.1"><stop stop-color="#ff2e2e"/><stop offset="1" stop-color="#ff1b1b"/></linearGradient><linearGradient id="d25" href="#T" x1="526.4" y1="382.2" x2="527.6" y2="384.8"><stop stop-color="#ff1a1a"/><stop offset="1" stop-color="#ff2d2d"/></linearGradient><linearGradient id="d26" href="#T" x1="521.4" y1="384.3" x2="522.5" y2="386.8"><stop stop-color="#ff1a1a"/><stop offset="1" stop-color="#ff2c2c"/></linearGradient><linearGradient id="d27" href="#T" x1="516.2" y1="386.4" x2="517.3" y2="388.9"><stop stop-color="#ff1919"/><stop offset="1" stop-color="#ff2b2b"/></linearGradient><linearGradient id="d28" href="#T" x1="511" y1="388.4" x2="512.1" y2="390.9"><stop stop-color="#ff1818"/><stop offset="1" stop-color="#ff2a2a"/></linearGradient><linearGradient id="d29" href="#T" x1="505.8" y1="390.5" x2="506.8" y2="393"><stop stop-color="#ff1818"/><stop offset="1" stop-color="#ff2929"/></linearGradient><linearGradient id="d30" href="#T" x1="501.4" y1="395.1" x2="500.4" y2="392.6"><stop stop-color="#ff2828"/><stop offset="1" stop-color="#ff1717"/></linearGradient><linearGradient id="d31" href="#T" x1="496" y1="397.1" x2="495.1" y2="394.7"><stop stop-color="#ff2727"/><stop offset="1" stop-color="#ff1717"/></linearGradient><linearGradient id="d32" href="#T" x1="489.6" y1="396.8" x2="490.6" y2="399.2"><stop stop-color="#ff1616"/><stop offset="1" stop-color="#ff2727"/></linearGradient><linearGradient id="d33" href="#T" x1="484.1" y1="398.9" x2="485" y2="401.3"><stop stop-color="#ff1616"/><stop offset="1" stop-color="#ff2626"/></linearGradient><linearGradient id="d34" href="#T" x1="479.4" y1="403.3" x2="478.5" y2="400.9"><stop stop-color="#ff2626"/><stop offset="1" stop-color="#ff1616"/></linearGradient><linearGradient id="d35" href="#T" x1="472.9" y1="403" x2="473.8" y2="405.4"><stop stop-color="#ff1515"/><stop offset="1" stop-color="#ff2525"/></linearGradient><linearGradient id="d36" href="#T" x1="467.2" y1="405.1" x2="468" y2="407.5"><stop stop-color="#ff1515"/><stop offset="1" stop-color="#ff2525"/></linearGradient><linearGradient id="d37" href="#T" x1="462.2" y1="409.5" x2="461.4" y2="407.2"><stop stop-color="#ff2424"/><stop offset="1" stop-color="#ff1515"/></linearGradient><linearGradient id="d38" href="#T" x1="455.5" y1="409.2" x2="456.4" y2="411.6"><stop stop-color="#ff1515"/><stop offset="1" stop-color="#ff2424"/></linearGradient><linearGradient id="d39" href="#T" x1="450.4" y1="413.7" x2="449.6" y2="411.3"><stop stop-color="#ff2424"/><stop offset="1" stop-color="#ff1515"/></linearGradient><linearGradient id="d40" href="#T" x1="443.6" y1="413.4" x2="444.4" y2="415.8"><stop stop-color="#ff1515"/><stop offset="1" stop-color="#ff2424"/></linearGradient><linearGradient id="d41" href="#T" x1="437.5" y1="415.4" x2="438.3" y2="417.9"><stop stop-color="#ff1515"/><stop offset="1" stop-color="#ff2323"/></linearGradient><linearGradient id="d42" href="#T" x1="431.3" y1="417.5" x2="432.1" y2="420"><stop stop-color="#ff1515"/><stop offset="1" stop-color="#ff2323"/></linearGradient><linearGradient id="d43" href="#T" x1="425" y1="419.5" x2="425.9" y2="422.1"><stop stop-color="#ff1616"/><stop offset="1" stop-color="#ff2323"/></linearGradient><linearGradient id="d44" href="#T" x1="538.2" y1="384.4" x2="536.5" y2="380.7"><stop stop-color="#ff3a3a"/><stop offset="1" stop-color="#ff2d2d"/></linearGradient><linearGradient id="d45" href="#T" x1="531.4" y1="382.8" x2="533.1" y2="386.4"><stop stop-color="#ff2c2c"/><stop offset="1" stop-color="#ff3939"/></linearGradient><linearGradient id="d46" href="#T" x1="528" y1="388.5" x2="526.4" y2="384.9"><stop stop-color="#ff3939"/><stop offset="1" stop-color="#ff2b2b"/></linearGradient><linearGradient id="d47" href="#T" x1="521.2" y1="387" x2="522.8" y2="390.5"><stop stop-color="#ff2a2a"/><stop offset="1" stop-color="#ff3838"/></linearGradient><linearGradient id="d48" href="#T" x1="516" y1="389.1" x2="517.6" y2="392.6"><stop stop-color="#ff2929"/><stop offset="1" stop-color="#ff3737"/></linearGradient><linearGradient id="d49" href="#T" x1="512.3" y1="394.7" x2="510.8" y2="391.1"><stop stop-color="#ff3636"/><stop offset="1" stop-color="#ff2828"/></linearGradient><linearGradient id="d50" href="#T" x1="507" y1="396.7" x2="505.5" y2="393.2"><stop stop-color="#ff3535"/><stop offset="1" stop-color="#ff2727"/></linearGradient><linearGradient id="d51" href="#T" x1="501.5" y1="398.8" x2="500.1" y2="395.3"><stop stop-color="#ff3535"/><stop offset="1" stop-color="#ff2727"/></linearGradient><linearGradient id="d52" href="#T" x1="494.6" y1="397.4" x2="496.1" y2="400.9"><stop stop-color="#ff2626"/><stop offset="1" stop-color="#ff3434"/></linearGradient><linearGradient id="d53" href="#T" x1="490.5" y1="403" x2="489.1" y2="399.5"><stop stop-color="#ff3333"/><stop offset="1" stop-color="#ff2626"/></linearGradient><linearGradient id="d54" href="#T" x1="483.5" y1="401.6" x2="484.9" y2="405.1"><stop stop-color="#ff2525"/><stop offset="1" stop-color="#ff3333"/></linearGradient><linearGradient id="d55" href="#T" x1="477.9" y1="403.7" x2="479.3" y2="407.2"><stop stop-color="#ff2525"/><stop offset="1" stop-color="#ff3232"/></linearGradient><linearGradient id="d56" href="#T" x1="473.5" y1="409.3" x2="472.2" y2="405.8"><stop stop-color="#ff3232"/><stop offset="1" stop-color="#ff2424"/></linearGradient><linearGradient id="d57" href="#T" x1="466.4" y1="407.9" x2="467.7" y2="411.4"><stop stop-color="#ff2424"/><stop offset="1" stop-color="#ff3131"/></linearGradient><linearGradient id="d58" href="#T" x1="461.8" y1="413.5" x2="460.5" y2="410"><stop stop-color="#ff3030"/><stop offset="1" stop-color="#ff2424"/></linearGradient><linearGradient id="d59" href="#T" x1="455.9" y1="415.7" x2="454.6" y2="412.1"><stop stop-color="#ff3030"/><stop offset="1" stop-color="#ff2424"/></linearGradient><linearGradient id="d60" href="#T" x1="449.8" y1="417.8" x2="448.5" y2="414.3"><stop stop-color="#ff2f2f"/><stop offset="1" stop-color="#ff2323"/></linearGradient><linearGradient id="d61" href="#T" x1="442.4" y1="416.4" x2="443.7" y2="419.9"><stop stop-color="#ff2323"/><stop offset="1" stop-color="#ff2f2f"/></linearGradient><linearGradient id="d62" href="#T" x1="437.6" y1="422.1" x2="436.3" y2="418.5"><stop stop-color="#ff2f2f"/><stop offset="1" stop-color="#ff2323"/></linearGradient><linearGradient id="d63" href="#T" x1="431.3" y1="424.3" x2="430" y2="420.6"><stop stop-color="#ff2e2e"/><stop offset="1" stop-color="#ff2323"/></linearGradient><linearGradient id="d64" href="#T" x1="547" y1="385.3" x2="549" y2="390.4"><stop stop-color="#ff3a3a"/><stop offset="1" stop-color="#ff2d2d"/></linearGradient><linearGradient id="d65" href="#T" x1="544" y1="392.5" x2="542" y2="387.4"><stop stop-color="#ff2d2d"/><stop offset="1" stop-color="#ff3939"/></linearGradient><linearGradient id="d66" href="#T" x1="536.9" y1="389.4" x2="538.9" y2="394.6"><stop stop-color="#ff3939"/><stop offset="1" stop-color="#ff2d2d"/></linearGradient><linearGradient id="d67" href="#T" x1="531.8" y1="391.5" x2="533.7" y2="396.7"><stop stop-color="#ff3838"/><stop offset="1" stop-color="#ff2d2d"/></linearGradient><linearGradient id="d68" href="#T" x1="526.6" y1="393.6" x2="528.5" y2="398.8"><stop stop-color="#ff3838"/><stop offset="1" stop-color="#ff2d2d"/></linearGradient><linearGradient id="d69" href="#T" x1="523.2" y1="400.9" x2="521.3" y2="395.7"><stop stop-color="#ff2d2d"/><stop offset="1" stop-color="#ff3838"/></linearGradient><linearGradient id="d70" href="#T" x1="516" y1="397.8" x2="517.9" y2="403.1"><stop stop-color="#ff3737"/><stop offset="1" stop-color="#ff2c2c"/></linearGradient><linearGradient id="d71" href="#T" x1="510.6" y1="399.9" x2="512.5" y2="405.2"><stop stop-color="#ff3737"/><stop offset="1" stop-color="#ff2c2c"/></linearGradient><linearGradient id="d72" href="#T" x1="505.2" y1="402" x2="507" y2="407.4"><stop stop-color="#ff3636"/><stop offset="1" stop-color="#ff2c2c"/></linearGradient><linearGradient id="d73" href="#T" x1="499.7" y1="404.2" x2="501.5" y2="409.5"><stop stop-color="#ff3535"/><stop offset="1" stop-color="#ff2b2b"/></linearGradient><linearGradient id="d74" href="#T" x1="494.1" y1="406.3" x2="495.9" y2="411.7"><stop stop-color="#ff3535"/><stop offset="1" stop-color="#ff2b2b"/></linearGradient><linearGradient id="d75" href="#T" x1="552.2" y1="389.1" x2="554.7" y2="395.1"><stop stop-color="#ff2e2e"/><stop offset="1" stop-color="#ff1e1e"/></linearGradient><linearGradient id="d76" href="#T" x1="549.6" y1="397.2" x2="547.2" y2="391.2"><stop stop-color="#ff1e1e"/><stop offset="1" stop-color="#ff2d2d"/></linearGradient><linearGradient id="d77" href="#T" x1="542.1" y1="393.3" x2="544.6" y2="399.3"><stop stop-color="#ff2d2d"/><stop offset="1" stop-color="#ff1e1e"/></linearGradient><linearGradient id="d78" href="#T" x1="539.4" y1="401.4" x2="537" y2="395.4"><stop stop-color="#ff1e1e"/><stop offset="1" stop-color="#ff2d2d"/></linearGradient><linearGradient id="d79" href="#T" x1="531.8" y1="397.5" x2="534.2" y2="403.6"><stop stop-color="#ff2d2d"/><stop offset="1" stop-color="#ff1e1e"/></linearGradient><linearGradient id="d80" href="#T" x1="528.9" y1="405.7" x2="526.5" y2="399.6"><stop stop-color="#ff1e1e"/><stop offset="1" stop-color="#ff2d2d"/></linearGradient><linearGradient id="d81" href="#T" x1="523.6" y1="407.9" x2="521.2" y2="401.7"><stop stop-color="#ff1e1e"/><stop offset="1" stop-color="#ff2d2d"/></linearGradient><linearGradient id="d82" href="#T" x1="515.8" y1="403.8" x2="518.2" y2="410"><stop stop-color="#ff2c2c"/><stop offset="1" stop-color="#ff1d1d"/></linearGradient><linearGradient id="d83" href="#T" x1="512.7" y1="412.2" x2="510.4" y2="406"><stop stop-color="#ff1d1d"/><stop offset="1" stop-color="#ff2c2c"/></linearGradient><linearGradient id="d84" href="#T" x1="504.9" y1="408.1" x2="507.2" y2="414.4"><stop stop-color="#ff2c2c"/><stop offset="1" stop-color="#ff1d1d"/></linearGradient><linearGradient id="d85" href="#T" x1="499.3" y1="410.3" x2="501.6" y2="416.6"><stop stop-color="#ff2b2b"/><stop offset="1" stop-color="#ff1d1d"/></linearGradient><linearGradient id="d86" href="#T" x1="493.6" y1="412.5" x2="495.9" y2="418.9"><stop stop-color="#ff2b2b"/><stop offset="1" stop-color="#ff1d1d"/></linearGradient><linearGradient id="d87" href="#T" x1="487.9" y1="414.7" x2="490.2" y2="421.1"><stop stop-color="#ff2b2b"/><stop offset="1" stop-color="#ff1c1c"/></linearGradient><linearGradient id="d88" href="#T" x1="482.1" y1="416.9" x2="484.4" y2="423.4"><stop stop-color="#ff2a2a"/><stop offset="1" stop-color="#ff1c1c"/></linearGradient><linearGradient id="d89" href="#T" x1="476.3" y1="419.1" x2="478.5" y2="425.7"><stop stop-color="#ff2a2a"/><stop offset="1" stop-color="#ff1c1c"/></linearGradient><linearGradient id="d90" href="#T" x1="470.3" y1="421.4" x2="472.6" y2="428"><stop stop-color="#ff2929"/><stop offset="1" stop-color="#ff1c1c"/></linearGradient><linearGradient id="d91" href="#T" x1="466.6" y1="430.3" x2="464.3" y2="423.6"><stop stop-color="#ff1b1b"/><stop offset="1" stop-color="#ff2929"/></linearGradient><linearGradient id="d92" href="#T" x1="460.5" y1="432.6" x2="458.2" y2="425.9"><stop stop-color="#ff1b1b"/><stop offset="1" stop-color="#ff2828"/></linearGradient><linearGradient id="d93" href="#T" x1="452" y1="428.2" x2="454.3" y2="434.9"><stop stop-color="#ff2828"/><stop offset="1" stop-color="#ff1b1b"/></linearGradient><linearGradient id="d94" href="#T" x1="445.8" y1="430.5" x2="448" y2="437.3"><stop stop-color="#ff2727"/><stop offset="1" stop-color="#ff1a1a"/></linearGradient><linearGradient id="d95" href="#T" x1="560.3" y1="400.8" x2="557.4" y2="393.9"><stop stop-color="#ff1111"/><stop offset="1" stop-color="#ff1e1e"/></linearGradient><linearGradient id="d96" href="#T" x1="555.3" y1="402.9" x2="552.4" y2="396"><stop stop-color="#ff1111"/><stop offset="1" stop-color="#ff1e1e"/></linearGradient><linearGradient id="d97" href="#T" x1="547.3" y1="398.1" x2="550.2" y2="405.1"><stop stop-color="#ff1e1e"/><stop offset="1" stop-color="#ff1111"/></linearGradient><linearGradient id="d98" href="#T" x1="545.1" y1="407.2" x2="542.2" y2="400.2"><stop stop-color="#ff1111"/><stop offset="1" stop-color="#ff1e1e"/></linearGradient><linearGradient id="d99" href="#T" x1="537" y1="402.4" x2="539.9" y2="409.4"><stop stop-color="#ff1e1e"/><stop offset="1" stop-color="#ff1111"/></linearGradient><linearGradient id="d100" href="#T" x1="534.6" y1="411.6" x2="531.8" y2="404.5"><stop stop-color="#ff1111"/><stop offset="1" stop-color="#ff1e1e"/></linearGradient><linearGradient id="d101" href="#T" x1="526.5" y1="406.7" x2="529.3" y2="413.8"><stop stop-color="#ff1e1e"/><stop offset="1" stop-color="#ff1111"/></linearGradient><linearGradient id="d102" href="#T" x1="521.1" y1="408.8" x2="523.9" y2="416"><stop stop-color="#ff1e1e"/><stop offset="1" stop-color="#ff1111"/></linearGradient><linearGradient id="d103" href="#T" x1="518.5" y1="418.2" x2="515.7" y2="411"><stop stop-color="#ff1111"/><stop offset="1" stop-color="#ff1d1d"/></linearGradient><linearGradient id="d104" href="#T" x1="513" y1="420.5" x2="510.1" y2="413.2"><stop stop-color="#ff1111"/><stop offset="1" stop-color="#ff1d1d"/></linearGradient><linearGradient id="d105" href="#T" x1="507.4" y1="422.7" x2="504.6" y2="415.4"><stop stop-color="#ff1111"/><stop offset="1" stop-color="#ff1d1d"/></linearGradient><linearGradient id="d106" href="#T" x1="498.9" y1="417.6" x2="501.7" y2="425"><stop stop-color="#ff1d1d"/><stop offset="1" stop-color="#ff1111"/></linearGradient><linearGradient id="d107" href="#T" x1="496" y1="427.3" x2="493.2" y2="419.9"><stop stop-color="#ff1111"/><stop offset="1" stop-color="#ff1d1d"/></linearGradient><linearGradient id="d108" href="#T" x1="487.4" y1="422.1" x2="490.2" y2="429.6"><stop stop-color="#ff1c1c"/><stop offset="1" stop-color="#ff1010"/></linearGradient><linearGradient id="d109" href="#T" x1="481.6" y1="424.4" x2="484.3" y2="431.9"><stop stop-color="#ff1c1c"/><stop offset="1" stop-color="#ff1010"/></linearGradient><linearGradient id="d110" href="#T" x1="478.4" y1="434.3" x2="475.6" y2="426.7"><stop stop-color="#ff1010"/><stop offset="1" stop-color="#ff1c1c"/></linearGradient><linearGradient id="d111" href="#T" x1="469.6" y1="429" x2="472.4" y2="436.7"><stop stop-color="#ff1c1c"/><stop offset="1" stop-color="#ff1010"/></linearGradient><linearGradient id="d112" href="#T" x1="466.3" y1="439" x2="463.6" y2="431.3"><stop stop-color="#ff1010"/><stop offset="1" stop-color="#ff1b1b"/></linearGradient><linearGradient id="d113" href="#T" x1="457.4" y1="433.7" x2="460.1" y2="441.5"><stop stop-color="#ff1b1b"/><stop offset="1" stop-color="#ff1010"/></linearGradient><linearGradient id="d114" href="#T" x1="451.1" y1="436" x2="453.9" y2="443.9"><stop stop-color="#ff1b1b"/><stop offset="1" stop-color="#ff0f0f"/></linearGradient><linearGradient id="d115" href="#T" x1="567.8" y1="406.8" x2="571.7" y2="415.5"><stop stop-color="#ff1a09"/><stop offset="1" stop-color="#ff5304"/></linearGradient><linearGradient id="d116" href="#T" x1="562.8" y1="408.9" x2="566.7" y2="417.7"><stop stop-color="#ff1a09"/><stop offset="1" stop-color="#ff5304"/></linearGradient><linearGradient id="d117" href="#T" x1="561.7" y1="419.9" x2="557.8" y2="411.1"><stop stop-color="#ff5304"/><stop offset="1" stop-color="#ff1a09"/></linearGradient><linearGradient id="d118" href="#T" x1="556.6" y1="422.1" x2="552.7" y2="413.3"><stop stop-color="#ff5204"/><stop offset="1" stop-color="#ff1909"/></linearGradient><linearGradient id="d119" href="#T" x1="551.5" y1="424.4" x2="547.5" y2="415.5"><stop stop-color="#ff5204"/><stop offset="1" stop-color="#ff1909"/></linearGradient><linearGradient id="d120" href="#T" x1="546.2" y1="426.6" x2="542.2" y2="417.7"><stop stop-color="#ff5104"/><stop offset="1" stop-color="#ff1809"/></linearGradient><linearGradient id="d121" href="#T" x1="541" y1="428.9" x2="536.9" y2="419.9"><stop stop-color="#ff5104"/><stop offset="1" stop-color="#ff1809"/></linearGradient><linearGradient id="d122" href="#T" x1="535.7" y1="431.2" x2="531.5" y2="422.1"><stop stop-color="#ff5004"/><stop offset="1" stop-color="#ff1709"/></linearGradient><linearGradient id="d123" href="#T" x1="530.3" y1="433.6" x2="526.1" y2="424.4"><stop stop-color="#ff4f04"/><stop offset="1" stop-color="#ff1609"/></linearGradient><linearGradient id="d124" href="#T" x1="524.8" y1="435.9" x2="520.6" y2="426.7"><stop stop-color="#ff4e04"/><stop offset="1" stop-color="#ff1509"/></linearGradient><linearGradient id="d125" href="#T" x1="519.3" y1="438.3" x2="515" y2="429"><stop stop-color="#ff4d04"/><stop offset="1" stop-color="#ff1409"/></linearGradient><linearGradient id="d126" href="#T" x1="513.7" y1="440.6" x2="509.4" y2="431.3"><stop stop-color="#ff4c04"/><stop offset="1" stop-color="#ff1309"/></linearGradient><linearGradient id="d127" href="#T" x1="508" y1="443" x2="503.7" y2="433.6"><stop stop-color="#ff4b04"/><stop offset="1" stop-color="#ff1209"/></linearGradient><linearGradient id="d128" href="#T" x1="502.3" y1="445.5" x2="497.9" y2="436"><stop stop-color="#ff4a04"/><stop offset="1" stop-color="#ff1009"/></linearGradient><linearGradient id="d129" href="#T" x1="496.5" y1="447.9" x2="492.1" y2="438.4"><stop stop-color="#ff4904"/><stop offset="1" stop-color="#ff0f09"/></linearGradient><linearGradient id="d130" href="#T" x1="490.6" y1="450.4" x2="486.1" y2="440.8"><stop stop-color="#ff4704"/><stop offset="1" stop-color="#ff0d09"/></linearGradient><linearGradient id="d131" href="#T" x1="484.6" y1="452.9" x2="480.1" y2="443.2"><stop stop-color="#ff4604"/><stop offset="1" stop-color="#ff0c09"/></linearGradient><linearGradient id="d132" href="#T" x1="478.6" y1="455.4" x2="474" y2="445.6"><stop stop-color="#ff4404"/><stop offset="1" stop-color="#ff0a09"/></linearGradient><linearGradient id="d133" href="#T" x1="472.4" y1="457.9" x2="467.9" y2="448.1"><stop stop-color="#ff4204"/><stop offset="1" stop-color="#ff0809"/></linearGradient><linearGradient id="d134" href="#T" x1="466.1" y1="460.5" x2="461.8" y2="450.6"><stop stop-color="#ff4004"/><stop offset="1" stop-color="#ff0808"/></linearGradient><linearGradient id="d135" href="#T" x1="577.4" y1="424.4" x2="573" y2="414.8"><stop stop-color="#fd9902"/><stop offset="1" stop-color="#ff5304"/></linearGradient><linearGradient id="d136" href="#T" x1="572.4" y1="426.6" x2="568.1" y2="417"><stop stop-color="#fd9902"/><stop offset="1" stop-color="#ff5304"/></linearGradient><linearGradient id="d137" href="#T" x1="567.4" y1="428.9" x2="563" y2="419.2"><stop stop-color="#fd9902"/><stop offset="1" stop-color="#ff5204"/></linearGradient><linearGradient id="d138" href="#T" x1="562.4" y1="431.2" x2="557.9" y2="421.4"><stop stop-color="#fd9802"/><stop offset="1" stop-color="#ff5204"/></linearGradient><linearGradient id="d139" href="#T" x1="557.2" y1="433.5" x2="552.7" y2="423.7"><stop stop-color="#fd9802"/><stop offset="1" stop-color="#ff5104"/></linearGradient><linearGradient id="d140" href="#T" x1="552.1" y1="435.8" x2="547.5" y2="425.9"><stop stop-color="#fd9702"/><stop offset="1" stop-color="#ff5104"/></linearGradient><linearGradient id="d141" href="#T" x1="546.8" y1="438.1" x2="542.2" y2="428.2"><stop stop-color="#fd9602"/><stop offset="1" stop-color="#ff5004"/></linearGradient><linearGradient id="d142" href="#T" x1="541.5" y1="440.5" x2="536.9" y2="430.5"><stop stop-color="#fd9602"/><stop offset="1" stop-color="#ff4f04"/></linearGradient><linearGradient id="d143" href="#T" x1="536.1" y1="442.9" x2="531.5" y2="432.8"><stop stop-color="#fd9502"/><stop offset="1" stop-color="#ff4e04"/></linearGradient><linearGradient id="d144" href="#T" x1="530.7" y1="445.3" x2="526" y2="435.2"><stop stop-color="#fd9402"/><stop offset="1" stop-color="#ff4d04"/></linearGradient><linearGradient id="d145" href="#T" x1="525.2" y1="447.7" x2="520.4" y2="437.5"><stop stop-color="#fd9302"/><stop offset="1" stop-color="#ff4c04"/></linearGradient><linearGradient id="d146" href="#T" x1="519.6" y1="450.2" x2="514.8" y2="439.9"><stop stop-color="#fd9202"/><stop offset="1" stop-color="#ff4b04"/></linearGradient><linearGradient id="d147" href="#T" x1="514" y1="452.6" x2="509.1" y2="442.3"><stop stop-color="#fd9102"/><stop offset="1" stop-color="#ff4a04"/></linearGradient><linearGradient id="d148" href="#T" x1="508.2" y1="455.1" x2="503.4" y2="444.7"><stop stop-color="#fd8f02"/><stop offset="1" stop-color="#ff4904"/></linearGradient><linearGradient id="d149" href="#T" x1="502.4" y1="457.6" x2="497.5" y2="447.1"><stop stop-color="#fd8e02"/><stop offset="1" stop-color="#ff4704"/></linearGradient><linearGradient id="d150" href="#T" x1="496.6" y1="460.2" x2="491.6" y2="449.6"><stop stop-color="#fd8c02"/><stop offset="1" stop-color="#ff4604"/></linearGradient><linearGradient id="d151" href="#T" x1="490.6" y1="462.7" x2="485.6" y2="452.1"><stop stop-color="#fd8b02"/><stop offset="1" stop-color="#ff4404"/></linearGradient><linearGradient id="d152" href="#T" x1="484.6" y1="465.3" x2="479.6" y2="454.6"><stop stop-color="#fd8902"/><stop offset="1" stop-color="#ff4204"/></linearGradient><linearGradient id="d153" href="#T" x1="478.5" y1="467.9" x2="473.4" y2="457.1"><stop stop-color="#fd8702"/><stop offset="1" stop-color="#ff4004"/></linearGradient><linearGradient id="d154" href="#T" x1="472.4" y1="470.5" x2="467.2" y2="459.7"><stop stop-color="#fd8602"/><stop offset="1" stop-color="#ff3e04"/></linearGradient><linearGradient id="d155" href="#T" x1="583.1" y1="434.3" x2="578.2" y2="424"><stop stop-color="#fdeb01"/><stop offset="1" stop-color="#fd9902"/></linearGradient><linearGradient id="d156" href="#T" x1="578.2" y1="436.7" x2="573.3" y2="426.2"><stop stop-color="#fdeb01"/><stop offset="1" stop-color="#fd9902"/></linearGradient><linearGradient id="d157" href="#T" x1="573.2" y1="439" x2="568.2" y2="428.5"><stop stop-color="#fdeb01"/><stop offset="1" stop-color="#fd9802"/></linearGradient><linearGradient id="d158" href="#T" x1="568.1" y1="441.3" x2="563.1" y2="430.7"><stop stop-color="#fdea01"/><stop offset="1" stop-color="#fd9802"/></linearGradient><linearGradient id="d159" href="#T" x1="563" y1="443.7" x2="558" y2="433"><stop stop-color="#fdea01"/><stop offset="1" stop-color="#fd9702"/></linearGradient><linearGradient id="d160" href="#T" x1="557.9" y1="446.1" x2="552.8" y2="435.3"><stop stop-color="#fde901"/><stop offset="1" stop-color="#fd9602"/></linearGradient><linearGradient id="d161" href="#T" x1="552.7" y1="448.5" x2="547.5" y2="437.7"><stop stop-color="#fde901"/><stop offset="1" stop-color="#fd9602"/></linearGradient><linearGradient id="d162" href="#T" x1="547.4" y1="450.9" x2="542.2" y2="440"><stop stop-color="#fde801"/><stop offset="1" stop-color="#fd9502"/></linearGradient><linearGradient id="d163" href="#T" x1="542" y1="453.4" x2="536.8" y2="442.4"><stop stop-color="#fde701"/><stop offset="1" stop-color="#fd9402"/></linearGradient><linearGradient id="d164" href="#T" x1="536.6" y1="455.8" x2="531.3" y2="444.8"><stop stop-color="#fde601"/><stop offset="1" stop-color="#fd9302"/></linearGradient><linearGradient id="d165" href="#T" x1="531.1" y1="458.3" x2="525.8" y2="447.2"><stop stop-color="#fde501"/><stop offset="1" stop-color="#fd9202"/></linearGradient><linearGradient id="d166" href="#T" x1="525.6" y1="460.8" x2="520.2" y2="449.7"><stop stop-color="#fde401"/><stop offset="1" stop-color="#fd9102"/></linearGradient><linearGradient id="d167" href="#T" x1="519.9" y1="463.4" x2="514.6" y2="452.1"><stop stop-color="#fde201"/><stop offset="1" stop-color="#fd8f02"/></linearGradient><linearGradient id="d168" href="#T" x1="514.3" y1="465.9" x2="508.8" y2="454.6"><stop stop-color="#fde101"/><stop offset="1" stop-color="#fd8e02"/></linearGradient><linearGradient id="d169" href="#T" x1="508.5" y1="468.5" x2="503" y2="457.1"><stop stop-color="#fde001"/><stop offset="1" stop-color="#fd8c02"/></linearGradient><linearGradient id="d170" href="#T" x1="502.7" y1="471.1" x2="497.1" y2="459.6"><stop stop-color="#fdde01"/><stop offset="1" stop-color="#fd8b02"/></linearGradient><linearGradient id="d171" href="#T" x1="496.7" y1="473.7" x2="491.2" y2="462.2"><stop stop-color="#fddd01"/><stop offset="1" stop-color="#fd8902"/></linearGradient><linearGradient id="d172" href="#T" x1="490.7" y1="476.4" x2="485.1" y2="464.8"><stop stop-color="#fddb01"/><stop offset="1" stop-color="#fd8702"/></linearGradient><linearGradient id="d173" href="#T" x1="484.7" y1="479.1" x2="479" y2="467.4"><stop stop-color="#fdd901"/><stop offset="1" stop-color="#fd8602"/></linearGradient><linearGradient id="d174" href="#T" x1="478.5" y1="481.8" x2="472.8" y2="470"><stop stop-color="#fdd701"/><stop offset="1" stop-color="#fd8402"/></linearGradient><linearGradient id="d175" href="#T" x1="588.8" y1="445.4" x2="583.4" y2="434.2"><stop stop-color="#adf701"/><stop offset=".83" stop-color="#fdfb01"/><stop offset="1" stop-color="#fdeb01"/></linearGradient><linearGradient id="d176" href="#T" x1="583.9" y1="447.7" x2="578.5" y2="436.5"><stop stop-color="#aef701"/><stop offset=".83" stop-color="#fdfb01"/><stop offset="1" stop-color="#fdeb01"/></linearGradient><linearGradient id="d177" href="#T" x1="578.9" y1="450.1" x2="573.5" y2="438.8"><stop stop-color="#aef701"/><stop offset=".82" stop-color="#fdfb01"/><stop offset="1" stop-color="#fdeb01"/></linearGradient><linearGradient id="d178" href="#T" x1="573.9" y1="452.5" x2="568.4" y2="441.1"><stop stop-color="#aef701"/><stop offset=".82" stop-color="#fdfb01"/><stop offset="1" stop-color="#fdea01"/></linearGradient><linearGradient id="d179" href="#T" x1="568.8" y1="455" x2="563.3" y2="443.5"><stop stop-color="#aff701"/><stop offset=".81" stop-color="#fdfb01"/><stop offset="1" stop-color="#fdea01"/></linearGradient><linearGradient id="d180" href="#T" x1="563.7" y1="457.4" x2="558.1" y2="445.9"><stop stop-color="#aff701"/><stop offset=".81" stop-color="#fdfb01"/><stop offset="1" stop-color="#fde901"/></linearGradient><linearGradient id="d181" href="#T" x1="558.5" y1="459.9" x2="552.9" y2="448.3"><stop stop-color="#b0f701"/><stop offset=".80" stop-color="#fdfb01"/><stop offset="1" stop-color="#fde801"/></linearGradient><linearGradient id="d182" href="#T" x1="553.2" y1="462.4" x2="547.6" y2="450.7"><stop stop-color="#b1f701"/><stop offset=".79" stop-color="#fdfb01"/><stop offset="1" stop-color="#fde701"/></linearGradient><linearGradient id="d183" href="#T" x1="547.9" y1="464.9" x2="542.2" y2="453.1"><stop stop-color="#b2f701"/><stop offset=".78" stop-color="#fdfb01"/><stop offset="1" stop-color="#fde601"/></linearGradient><linearGradient id="d184" href="#T" x1="542.5" y1="467.5" x2="536.8" y2="455.6"><stop stop-color="#b3f701"/><stop offset=".77" stop-color="#fdfb01"/><stop offset="1" stop-color="#fde501"/></linearGradient><linearGradient id="d185" href="#T" x1="537" y1="470" x2="531.2" y2="458.1"><stop stop-color="#b4f701"/><stop offset=".76" stop-color="#fdfb01"/><stop offset="1" stop-color="#fde401"/></linearGradient><linearGradient id="d186" href="#T" x1="531.5" y1="472.6" x2="525.7" y2="460.6"><stop stop-color="#b5f701"/><stop offset=".74" stop-color="#fdfb01"/><stop offset="1" stop-color="#fde301"/></linearGradient><linearGradient id="d187" href="#T" x1="525.9" y1="475.2" x2="520" y2="463.1"><stop stop-color="#b6f700"/><stop offset=".73" stop-color="#fdfb01"/><stop offset="1" stop-color="#fde201"/></linearGradient><linearGradient id="d188" href="#T" x1="520.3" y1="477.9" x2="514.3" y2="465.7"><stop stop-color="#b8f700"/><stop offset=".71" stop-color="#fdfb01"/><stop offset="1" stop-color="#fde001"/></linearGradient><linearGradient id="d189" href="#T" x1="514.5" y1="480.5" x2="508.5" y2="468.2"><stop stop-color="#b9f700"/><stop offset=".70" stop-color="#fdfb01"/><stop offset="1" stop-color="#fddf01"/></linearGradient><linearGradient id="d190" href="#T" x1="508.7" y1="483.2" x2="502.7" y2="470.8"><stop stop-color="#bbf800"/><stop offset=".68" stop-color="#fdfb01"/><stop offset="1" stop-color="#fddd01"/></linearGradient><linearGradient id="d191" href="#T" x1="502.8" y1="485.9" x2="496.7" y2="473.5"><stop stop-color="#bdf800"/><stop offset=".66" stop-color="#fdfb01"/><stop offset="1" stop-color="#fddc01"/></linearGradient><linearGradient id="d192" href="#T" x1="496.9" y1="488.6" x2="490.7" y2="476.1"><stop stop-color="#bff800"/><stop offset=".65" stop-color="#fdfb01"/><stop offset="1" stop-color="#fdda01"/></linearGradient><linearGradient id="d193" href="#T" x1="490.9" y1="491.4" x2="484.6" y2="478.8"><stop stop-color="#c0f800"/><stop offset=".63" stop-color="#fdfb01"/><stop offset="1" stop-color="#fdd801"/></linearGradient><linearGradient id="d194" href="#T" x1="484.7" y1="494.2" x2="478.4" y2="481.5"><stop stop-color="#c3f801"/><stop offset=".60" stop-color="#fdfb01"/><stop offset="1" stop-color="#fdd601"/></linearGradient><linearGradient id="d195" href="#T" x1="594.5" y1="457.4" x2="588.5" y2="445.5"><stop stop-color="#43f100"/><stop offset="1" stop-color="#aef701"/></linearGradient><linearGradient id="d196" href="#T" x1="589.6" y1="459.9" x2="583.6" y2="447.8"><stop stop-color="#43f100"/><stop offset="1" stop-color="#aef701"/></linearGradient><linearGradient id="d197" href="#T" x1="584.7" y1="462.3" x2="578.6" y2="450.2"><stop stop-color="#43f100"/><stop offset="1" stop-color="#aef701"/></linearGradient><linearGradient id="d198" href="#T" x1="579.7" y1="464.8" x2="573.6" y2="452.7"><stop stop-color="#43f100"/><stop offset="1" stop-color="#aff701"/></linearGradient><linearGradient id="d199" href="#T" x1="574.6" y1="467.4" x2="568.5" y2="455.1"><stop stop-color="#44f100"/><stop offset="1" stop-color="#aff701"/></linearGradient><linearGradient id="d200" href="#T" x1="569.5" y1="469.9" x2="563.3" y2="457.5"><stop stop-color="#44f100"/><stop offset="1" stop-color="#b0f701"/></linearGradient><linearGradient id="d201" href="#T" x1="564.4" y1="472.5" x2="558.1" y2="460"><stop stop-color="#45f200"/><stop offset="1" stop-color="#b1f701"/></linearGradient><linearGradient id="d202" href="#T" x1="559.1" y1="475.1" x2="552.8" y2="462.5"><stop stop-color="#46f200"/><stop offset="1" stop-color="#b2f701"/></linearGradient><linearGradient id="d203" href="#T" x1="553.9" y1="477.7" x2="547.5" y2="465"><stop stop-color="#46f200"/><stop offset="1" stop-color="#b3f701"/></linearGradient><linearGradient id="d204" href="#T" x1="548.5" y1="480.3" x2="542" y2="467.6"><stop stop-color="#47f200"/><stop offset="1" stop-color="#b4f701"/></linearGradient><linearGradient id="d205" href="#T" x1="543.1" y1="482.9" x2="536.6" y2="470.1"><stop stop-color="#48f200"/><stop offset="1" stop-color="#b5f701"/></linearGradient><linearGradient id="d206" href="#T" x1="537.6" y1="485.6" x2="531" y2="472.7"><stop stop-color="#4af200"/><stop offset="1" stop-color="#b6f701"/></linearGradient><linearGradient id="d207" href="#T" x1="532" y1="488.3" x2="525.4" y2="475.3"><stop stop-color="#4bf200"/><stop offset="1" stop-color="#b8f701"/></linearGradient><linearGradient id="d208" href="#T" x1="526.4" y1="491" x2="519.7" y2="477.9"><stop stop-color="#4df200"/><stop offset="1" stop-color="#b9f701"/></linearGradient><linearGradient id="d209" href="#T" x1="520.7" y1="493.7" x2="514" y2="480.6"><stop stop-color="#4ef200"/><stop offset="1" stop-color="#bbf701"/></linearGradient><linearGradient id="d210" href="#T" x1="514.9" y1="496.5" x2="508.1" y2="483.2"><stop stop-color="#50f200"/><stop offset="1" stop-color="#bcf701"/></linearGradient><linearGradient id="d211" href="#T" x1="509.1" y1="499.2" x2="502.2" y2="485.9"><stop stop-color="#52f200"/><stop offset="1" stop-color="#bef801"/></linearGradient><linearGradient id="d212" href="#T" x1="503.1" y1="502.1" x2="496.3" y2="488.7"><stop stop-color="#54f200"/><stop offset="1" stop-color="#c0f801"/></linearGradient><linearGradient id="d213" href="#T" x1="497.1" y1="504.9" x2="490.2" y2="491.4"><stop stop-color="#56f200"/><stop offset="1" stop-color="#c2f801"/></linearGradient><linearGradient id="d214" href="#T" x1="491" y1="507.7" x2="484.1" y2="494.2"><stop stop-color="#58f200"/><stop offset="1" stop-color="#c4f801"/></linearGradient><linearGradient id="d215" href="#T" x1="600.1" y1="470.5" x2="593.6" y2="457.8"><stop stop-color="#00eb2f"/><stop offset=".43" stop-color="#00ee00"/><stop offset="1" stop-color="#43f100"/></linearGradient><linearGradient id="d216" href="#T" x1="595.3" y1="473.1" x2="588.7" y2="460.3"><stop stop-color="#00ea2f"/><stop offset=".43" stop-color="#00ee00"/><stop offset="1" stop-color="#43f100"/></linearGradient><linearGradient id="d217" href="#T" x1="590.4" y1="475.6" x2="583.7" y2="462.8"><stop stop-color="#00ea2f"/><stop offset=".43" stop-color="#00ee00"/><stop offset="1" stop-color="#43f100"/></linearGradient><linearGradient id="d218" href="#T" x1="585.4" y1="478.2" x2="578.7" y2="465.3"><stop stop-color="#00ea2f"/><stop offset=".43" stop-color="#00ee00"/><stop offset="1" stop-color="#44f100"/></linearGradient><linearGradient id="d219" href="#T" x1="580.4" y1="480.8" x2="573.6" y2="467.8"><stop stop-color="#00ea2f"/><stop offset=".43" stop-color="#00ee00"/><stop offset="1" stop-color="#44f200"/></linearGradient><linearGradient id="d220" href="#T" x1="575.3" y1="483.5" x2="568.5" y2="470.4"><stop stop-color="#00eb2e"/><stop offset=".43" stop-color="#00ee00"/><stop offset="1" stop-color="#45f200"/></linearGradient><linearGradient id="d221" href="#T" x1="570.2" y1="486.1" x2="563.3" y2="472.9"><stop stop-color="#00eb2e"/><stop offset=".42" stop-color="#00ee00"/><stop offset="1" stop-color="#45f200"/></linearGradient><linearGradient id="d222" href="#T" x1="565" y1="488.8" x2="558.1" y2="475.5"><stop stop-color="#00eb2d"/><stop offset=".41" stop-color="#00ee00"/><stop offset="1" stop-color="#46f200"/></linearGradient><linearGradient id="d223" href="#T" x1="559.8" y1="491.5" x2="552.7" y2="478.1"><stop stop-color="#00eb2d"/><stop offset=".41" stop-color="#00ee00"/><stop offset="1" stop-color="#47f200"/></linearGradient><linearGradient id="d224" href="#T" x1="554.5" y1="494.2" x2="547.4" y2="480.7"><stop stop-color="#00eb2c"/><stop offset=".40" stop-color="#00ee00"/><stop offset="1" stop-color="#48f200"/></linearGradient><linearGradient id="d225" href="#T" x1="549.1" y1="497" x2="541.9" y2="483.3"><stop stop-color="#00eb2b"/><stop offset=".39" stop-color="#00ee00"/><stop offset="1" stop-color="#49f200"/></linearGradient><linearGradient id="d226" href="#T" x1="543.6" y1="499.7" x2="536.4" y2="486"><stop stop-color="#00eb2a"/><stop offset=".38" stop-color="#00ee00"/><stop offset="1" stop-color="#4bf200"/></linearGradient><linearGradient id="d227" href="#T" x1="538.1" y1="502.5" x2="530.8" y2="488.7"><stop stop-color="#00eb28"/><stop offset=".37" stop-color="#00ee00"/><stop offset="1" stop-color="#4cf200"/></linearGradient><linearGradient id="d228" href="#T" x1="532.5" y1="505.3" x2="525.2" y2="491.4"><stop stop-color="#00eb27"/><stop offset=".35" stop-color="#00ee00"/><stop offset="1" stop-color="#4ef200"/></linearGradient><linearGradient id="d229" href="#T" x1="526.8" y1="508.1" x2="519.5" y2="494.1"><stop stop-color="#00eb25"/><stop offset=".34" stop-color="#00ee00"/><stop offset="1" stop-color="#4ff200"/></linearGradient><linearGradient id="d230" href="#T" x1="521.1" y1="510.9" x2="513.7" y2="496.9"><stop stop-color="#00eb23"/><stop offset=".32" stop-color="#00ee00"/><stop offset="1" stop-color="#51f200"/></linearGradient><linearGradient id="d231" href="#T" x1="515.2" y1="513.8" x2="507.8" y2="499.6"><stop stop-color="#00eb21"/><stop offset=".31" stop-color="#00ee00"/><stop offset="1" stop-color="#53f200"/></linearGradient><linearGradient id="d232" href="#T" x1="509.3" y1="516.7" x2="501.9" y2="502.4"><stop stop-color="#00ec1f"/><stop offset=".29" stop-color="#00ee00"/><stop offset="1" stop-color="#55f200"/></linearGradient><linearGradient id="d233" href="#T" x1="503.3" y1="519.6" x2="495.9" y2="505.2"><stop stop-color="#00ec1d"/><stop offset=".27" stop-color="#00ee00"/><stop offset="1" stop-color="#57f200"/></linearGradient><linearGradient id="d234" href="#T" x1="497.3" y1="522.5" x2="489.8" y2="508.1"><stop stop-color="#00ec1b"/><stop offset=".25" stop-color="#00ee00"/><stop offset="1" stop-color="#5af300"/></linearGradient><linearGradient id="d235" href="#T" x1="605.7" y1="484.6" x2="598.6" y2="471.2"><stop stop-color="#00e1a4"/><stop offset="1" stop-color="#00eb2e"/></linearGradient><linearGradient id="d236" href="#T" x1="600.9" y1="487.3" x2="593.8" y2="473.8"><stop stop-color="#00e1a5"/><stop offset="1" stop-color="#00eb2f"/></linearGradient><linearGradient id="d237" href="#T" x1="596.1" y1="490" x2="588.8" y2="476.4"><stop stop-color="#00e1a6"/><stop offset="1" stop-color="#00ea2f"/></linearGradient><linearGradient id="d238" href="#T" x1="591.2" y1="492.8" x2="583.8" y2="479"><stop stop-color="#00e1a6"/><stop offset="1" stop-color="#00ea2f"/></linearGradient><linearGradient id="d239" href="#T" x1="586.2" y1="495.5" x2="578.8" y2="481.7"><stop stop-color="#00e1a6"/><stop offset="1" stop-color="#00eb2e"/></linearGradient><linearGradient id="d240" href="#T" x1="581.2" y1="498.2" x2="573.7" y2="484.3"><stop stop-color="#00e1a6"/><stop offset="1" stop-color="#00eb2e"/></linearGradient><linearGradient id="d241" href="#T" x1="576.1" y1="501" x2="568.5" y2="487"><stop stop-color="#00e1a6"/><stop offset="1" stop-color="#00eb2e"/></linearGradient><linearGradient id="d242" href="#T" x1="570.9" y1="503.8" x2="563.3" y2="489.7"><stop stop-color="#00e1a6"/><stop offset="1" stop-color="#00eb2d"/></linearGradient><linearGradient id="d243" href="#T" x1="565.7" y1="506.6" x2="558" y2="492.4"><stop stop-color="#00e1a5"/><stop offset="1" stop-color="#00eb2c"/></linearGradient><linearGradient id="d244" href="#T" x1="560.4" y1="509.4" x2="552.6" y2="495.1"><stop stop-color="#00e1a5"/><stop offset="1" stop-color="#00eb2b"/></linearGradient><linearGradient id="d245" href="#T" x1="555.1" y1="512.2" x2="547.2" y2="497.8"><stop stop-color="#00e1a4"/><stop offset="1" stop-color="#00eb2a"/></linearGradient><linearGradient id="d246" href="#T" x1="549.7" y1="515.1" x2="541.7" y2="500.5"><stop stop-color="#00e1a3"/><stop offset="1" stop-color="#00eb29"/></linearGradient><linearGradient id="d247" href="#T" x1="544.2" y1="517.9" x2="536.2" y2="503.3"><stop stop-color="#00e1a1"/><stop offset="1" stop-color="#00eb27"/></linearGradient><linearGradient id="d248" href="#T" x1="538.6" y1="520.8" x2="530.5" y2="506.1"><stop stop-color="#00e2a0"/><stop offset="1" stop-color="#00eb26"/></linearGradient><linearGradient id="d249" href="#T" x1="533" y1="523.7" x2="524.9" y2="508.9"><stop stop-color="#00e29e"/><stop offset="1" stop-color="#00eb24"/></linearGradient><linearGradient id="d250" href="#T" x1="527.3" y1="526.6" x2="519.1" y2="511.7"><stop stop-color="#00e29c"/><stop offset="1" stop-color="#00eb22"/></linearGradient><linearGradient id="d251" href="#T" x1="521.6" y1="529.5" x2="513.3" y2="514.5"><stop stop-color="#00e29a"/><stop offset="1" stop-color="#00ec20"/></linearGradient><linearGradient id="d252" href="#T" x1="515.7" y1="532.4" x2="507.4" y2="517.4"><stop stop-color="#00e297"/><stop offset="1" stop-color="#00ec1e"/></linearGradient><linearGradient id="d253" href="#T" x1="509.8" y1="535.4" x2="501.4" y2="520.3"><stop stop-color="#00e295"/><stop offset="1" stop-color="#00ec1b"/></linearGradient><linearGradient id="d254" href="#T" x1="503.8" y1="538.3" x2="495.3" y2="523.2"><stop stop-color="#00e392"/><stop offset="1" stop-color="#00ec19"/></linearGradient><linearGradient id="d255" href="#T" x1="603.6" y1="485.6" x2="611.3" y2="499.8"><stop stop-color="#00e1a4"/><stop offset=".51" stop-color="#00dce6"/><stop offset="1" stop-color="#00a3e9"/></linearGradient><linearGradient id="d256" href="#T" x1="598.7" y1="488.4" x2="606.5" y2="502.7"><stop stop-color="#00e1a5"/><stop offset=".50" stop-color="#00dce6"/><stop offset="1" stop-color="#00a1e9"/></linearGradient><linearGradient id="d257" href="#T" x1="593.8" y1="491.2" x2="601.7" y2="505.5"><stop stop-color="#00e1a5"/><stop offset=".49" stop-color="#00dce6"/><stop offset="1" stop-color="#00a0e9"/></linearGradient><linearGradient id="d258" href="#T" x1="588.9" y1="493.9" x2="596.9" y2="508.4"><stop stop-color="#00e1a6"/><stop offset=".49" stop-color="#00dce6"/><stop offset="1" stop-color="#009fe9"/></linearGradient><linearGradient id="d259" href="#T" x1="583.8" y1="496.7" x2="591.9" y2="511.3"><stop stop-color="#00e1a6"/><stop offset=".48" stop-color="#00dce6"/><stop offset="1" stop-color="#009ee9"/></linearGradient><linearGradient id="d260" href="#T" x1="578.8" y1="499.5" x2="586.9" y2="514.2"><stop stop-color="#00e1a6"/><stop offset=".48" stop-color="#00dce6"/><stop offset="1" stop-color="#009de9"/></linearGradient><linearGradient id="d261" href="#T" x1="581.9" y1="517.1" x2="573.6" y2="502.3"><stop stop-color="#009de9"/><stop offset=".52" stop-color="#00dce6"/><stop offset="1" stop-color="#00e1a6"/></linearGradient><linearGradient id="d262" href="#T" x1="576.8" y1="520" x2="568.4" y2="505.1"><stop stop-color="#009de9"/><stop offset=".52" stop-color="#00dce6"/><stop offset="1" stop-color="#00e1a6"/></linearGradient><linearGradient id="d263" href="#T" x1="571.6" y1="522.9" x2="563.1" y2="507.9"><stop stop-color="#009de9"/><stop offset=".51" stop-color="#00dce6"/><stop offset="1" stop-color="#00e1a5"/></linearGradient><linearGradient id="d264" href="#T" x1="566.4" y1="525.8" x2="557.8" y2="510.7"><stop stop-color="#009ee9"/><stop offset=".51" stop-color="#00dce6"/><stop offset="1" stop-color="#00e2a4"/></linearGradient><linearGradient id="d265" href="#T" x1="561.1" y1="528.8" x2="552.4" y2="513.5"><stop stop-color="#009ee9"/><stop offset=".50" stop-color="#00dce6"/><stop offset="1" stop-color="#00e2a3"/></linearGradient><linearGradient id="d266" href="#T" x1="555.7" y1="531.7" x2="547" y2="516.4"><stop stop-color="#00a0e9"/><stop offset=".49" stop-color="#00dce6"/><stop offset="1" stop-color="#00e2a2"/></linearGradient><linearGradient id="d267" href="#T" x1="550.3" y1="534.6" x2="541.5" y2="519.2"><stop stop-color="#00a1e9"/><stop offset=".48" stop-color="#00dce6"/><stop offset="1" stop-color="#00e2a0"/></linearGradient><linearGradient id="d268" href="#T" x1="535.9" y1="522.1" x2="544.8" y2="537.6"><stop stop-color="#00e29e"/><stop offset=".53" stop-color="#00dce6"/><stop offset="1" stop-color="#00a3e9"/></linearGradient><linearGradient id="d269" href="#T" x1="530.2" y1="524.9" x2="539.2" y2="540.5"><stop stop-color="#00e29c"/><stop offset=".55" stop-color="#00dce6"/><stop offset="1" stop-color="#00a5e9"/></linearGradient><linearGradient id="d270" href="#T" x1="533.6" y1="543.5" x2="524.5" y2="527.8"><stop stop-color="#00a7e9"/><stop offset=".43" stop-color="#00dce6"/><stop offset="1" stop-color="#00e39a"/></linearGradient><linearGradient id="d271" href="#T" x1="527.8" y1="546.5" x2="518.7" y2="530.7"><stop stop-color="#00aae9"/><stop offset=".41" stop-color="#00dce6"/><stop offset="1" stop-color="#00e398"/></linearGradient><linearGradient id="d272" href="#T" x1="522" y1="549.4" x2="512.9" y2="533.6"><stop stop-color="#00ade9"/><stop offset=".39" stop-color="#00dce6"/><stop offset="1" stop-color="#00e395"/></linearGradient><linearGradient id="d273" href="#T" x1="516.1" y1="552.4" x2="507" y2="536.5"><stop stop-color="#00b0e9"/><stop offset=".37" stop-color="#00dce6"/><stop offset="1" stop-color="#00e392"/></linearGradient><linearGradient id="d274" href="#T" x1="510.1" y1="555.4" x2="501" y2="539.4"><stop stop-color="#00b4e9"/><stop offset=".34" stop-color="#00dce6"/><stop offset="1" stop-color="#00e38f"/></linearGradient><linearGradient id="d275" href="#T" x1="616.8" y1="516" x2="608.5" y2="501"><stop stop-color="#0023ef"/><stop offset="1" stop-color="#00a5e9"/></linearGradient><linearGradient id="d276" href="#T" x1="612.1" y1="519.2" x2="603.7" y2="504"><stop stop-color="#001fef"/><stop offset="1" stop-color="#00a3e9"/></linearGradient><linearGradient id="d277" href="#T" x1="607.3" y1="522.3" x2="598.8" y2="507"><stop stop-color="#001cef"/><stop offset="1" stop-color="#00a1e9"/></linearGradient><linearGradient id="d278" href="#T" x1="602.5" y1="525.4" x2="593.8" y2="510"><stop stop-color="#001aef"/><stop offset="1" stop-color="#009fe9"/></linearGradient><linearGradient id="d279" href="#T" x1="597.6" y1="528.5" x2="588.8" y2="512.9"><stop stop-color="#0018ef"/><stop offset="1" stop-color="#009ee9"/></linearGradient><linearGradient id="d280" href="#T" x1="592.7" y1="531.6" x2="583.7" y2="515.9"><stop stop-color="#0016ef"/><stop offset="1" stop-color="#009de9"/></linearGradient><linearGradient id="d281" href="#T" x1="587.7" y1="534.6" x2="578.6" y2="518.9"><stop stop-color="#0015ef"/><stop offset="1" stop-color="#009de9"/></linearGradient><linearGradient id="d282" href="#T" x1="582.6" y1="537.7" x2="573.4" y2="521.8"><stop stop-color="#0014f0"/><stop offset="1" stop-color="#009de9"/></linearGradient><linearGradient id="d283" href="#T" x1="577.5" y1="540.7" x2="568.2" y2="524.8"><stop stop-color="#0015f0"/><stop offset="1" stop-color="#009de9"/></linearGradient><linearGradient id="d284" href="#T" x1="572.3" y1="543.8" x2="562.9" y2="527.7"><stop stop-color="#0015ef"/><stop offset="1" stop-color="#009ee9"/></linearGradient><linearGradient id="d285" href="#T" x1="567.1" y1="546.8" x2="557.5" y2="530.6"><stop stop-color="#0015ef"/><stop offset="1" stop-color="#009fe9"/></linearGradient><linearGradient id="d286" href="#T" x1="561.8" y1="549.8" x2="552.1" y2="533.6"><stop stop-color="#0017ef"/><stop offset="1" stop-color="#00a1e9"/></linearGradient><linearGradient id="d287" href="#T" x1="556.4" y1="552.9" x2="546.6" y2="536.5"><stop stop-color="#0018ef"/><stop offset="1" stop-color="#00a2e9"/></linearGradient><linearGradient id="d288" href="#T" x1="551" y1="555.9" x2="541.1" y2="539.4"><stop stop-color="#001aef"/><stop offset="1" stop-color="#00a4e9"/></linearGradient><linearGradient id="d289" href="#T" x1="545.5" y1="558.8" x2="535.5" y2="542.4"><stop stop-color="#001def"/><stop offset="1" stop-color="#00a7e9"/></linearGradient><linearGradient id="d290" href="#T" x1="539.9" y1="561.8" x2="529.8" y2="545.3"><stop stop-color="#0020ef"/><stop offset="1" stop-color="#00a9e8"/></linearGradient><linearGradient id="d291" href="#T" x1="534.2" y1="564.7" x2="524.1" y2="548.2"><stop stop-color="#0024ef"/><stop offset="1" stop-color="#00ace8"/></linearGradient><linearGradient id="d292" href="#T" x1="528.4" y1="567.7" x2="518.2" y2="551.1"><stop stop-color="#0028ef"/><stop offset="1" stop-color="#00afe8"/></linearGradient><linearGradient id="d293" href="#T" x1="522.6" y1="570.6" x2="512.4" y2="554.1"><stop stop-color="#002dee"/><stop offset="1" stop-color="#00b3e8"/></linearGradient><linearGradient id="d294" href="#T" x1="516.7" y1="573.5" x2="506.4" y2="557"><stop stop-color="#0032ee"/><stop offset="1" stop-color="#00b7e8"/></linearGradient></defs>
<g class="m"><path d="M417.5,420.2 412.8,423.1 418.9,421.3 423.6,418.4z" fill="url(#d1)"/><path d="M411.3,422.1 406.7,424.9 412.8,423.1 417.5,420.2z" fill="url(#d2)"/><path d="M405.1,423.9 400.4,426.6 406.7,424.9 411.3,422.1z" fill="url(#d3)"/><path d="M516.6,383.8 511.5,386.1 516.5,383.9 521.6,381.7z" fill="#fe0404"/><path d="M511.5,385.9 506.5,388.2 511.5,386.1 516.6,383.8z" fill="#fe0404"/><path d="M506.4,388 501.4,390.3 506.5,388.2 511.5,385.9z" fill="#fe0404"/><path d="M501.3,390.1 496.3,392.5 501.4,390.3 506.4,388z" fill="#fe0504"/><path d="M496.1,392.2 491,394.6 496.3,392.5 501.3,390.1z" fill="#fd0603"/><path d="M490.8,394.3 485.8,396.6 491,394.6 496.1,392.2z" fill="#fd0603"/><path d="M485.4,396.3 480.4,398.7 485.8,396.6 490.8,394.3z" fill="#fd0603"/><path d="M480,398.4 475.1,400.7 480.4,398.7 485.4,396.3z" fill="#fd0603"/><path d="M474.6,400.4 469.6,402.8 475.1,400.7 480,398.4z" fill="#fd0603"/><path d="M469,402.5 464.1,404.8 469.6,402.8 474.6,400.4z" fill="#fd0503"/><path d="M463.4,404.5 458.5,406.8 464.1,404.8 469,402.5z" fill="#fd0403"/><path d="M457.8,406.5 452.9,408.7 458.5,406.8 463.4,404.5z" fill="#fd0303"/><path d="M452,408.5 447.1,410.7 452.9,408.7 457.8,406.5z" fill="#fd0303"/><path d="M446.2,410.4 441.4,412.6 447.1,410.7 452,408.5z" fill="#fd0303"/><path d="M440.3,412.4 435.5,414.6 441.4,412.6 446.2,410.4z" fill="#fd0303"/><path d="M434.4,414.4 429.6,416.5 435.5,414.6 440.3,412.4z" fill="#fd0303"/><path d="M428.4,416.3 423.6,418.4 429.6,416.5 434.4,414.4z" fill="#fd0303"/><path d="M422.3,418.2 417.5,420.2 423.6,418.4 428.4,416.3z" fill="#fd0303"/><path d="M416.1,420.2 411.3,422.1 417.5,420.2 422.3,418.2z" fill="#fd0303"/><path d="M409.8,422.1 405.1,423.9 411.3,422.1 416.1,420.2z" fill="#fd0303"/><path d="M521.7,382.5 516.6,383.8 521.6,381.7 526.7,380.4z" fill="#ff0a0a"/><path d="M516.7,384.6 511.5,385.9 516.6,383.8 521.7,382.5z" fill="#ff0a0a"/><path d="M511.5,386.7 506.4,388 511.5,385.9 516.7,384.6z" fill="#ff0909"/><path d="M506.4,388.8 501.3,390.1 506.4,388 511.5,386.7z" fill="#ff0909"/><path d="M501.1,390.8 496.1,392.2 501.3,390.1 506.4,388.8z" fill="#ff0808"/><path d="M495.8,392.9 490.8,394.3 496.1,392.2 501.1,390.8z" fill="#ff0808"/><path d="M490.5,395 485.4,396.3 490.8,394.3 495.8,392.9z" fill="#ff0808"/><path d="M485.1,397 480,398.4 485.4,396.3 490.5,395z" fill="#ff0808"/><path d="M479.6,399.1 474.6,400.4 480,398.4 485.1,397z" fill="#ff0808"/><path d="M474.1,401.1 469,402.5 474.6,400.4 479.6,399.1z" fill="#ff0808"/><path d="M468.4,403.1 463.4,404.5 469,402.5 474.1,401.1z" fill="#ff0707"/><path d="M462.8,405.2 457.8,406.5 463.4,404.5 468.4,403.1z" fill="#ff0707"/><path d="M457,407.2 452,408.5 457.8,406.5 462.8,405.2z" fill="#ff0707"/><path d="M451.2,409.2 446.2,410.4 452,408.5 457,407.2z" fill="#ff0707"/><path d="M445.3,411.2 440.3,412.4 446.2,410.4 451.2,409.2z" fill="#ff0707"/><path d="M439.4,413.2 434.4,414.4 440.3,412.4 445.3,411.2z" fill="#ff0707"/><path d="M433.3,415.2 428.4,416.3 434.4,414.4 439.4,413.2z" fill="#ff0707"/><path d="M427.2,417.2 422.3,418.2 428.4,416.3 433.3,415.2z" fill="#ff0808"/><path d="M421,419.2 416.1,420.2 422.3,418.2 427.2,417.2z" fill="#ff0808"/><path d="M414.7,421.2 409.8,422.1 416.1,420.2 421,419.2z" fill="#ff0808"/><path d="M526.9,382.1 521.7,382.5 526.7,380.4 531.9,380z" fill="url(#d4)"/><path d="M521.9,384.2 516.7,384.6 521.7,382.5 526.9,382.1z" fill="url(#d5)"/><path d="M516.7,386.3 511.5,386.7 516.7,384.6 521.9,384.2z" fill="url(#d6)"/><path d="M511.5,388.4 506.4,388.8 511.5,386.7 516.7,386.3z" fill="url(#d7)"/><path d="M506.3,390.4 501.1,390.8 506.4,388.8 511.5,388.4z" fill="url(#d8)"/><path d="M501,392.5 495.8,392.9 501.1,390.8 506.3,390.4z" fill="url(#d9)"/><path d="M495.6,394.6 490.5,395 495.8,392.9 501,392.5z" fill="url(#d10)"/><path d="M490.2,396.6 485.1,397 490.5,395 495.6,394.6z" fill="url(#d11)"/><path d="M484.7,398.7 479.6,399.1 485.1,397 490.2,396.6z" fill="url(#d12)"/><path d="M479.2,400.8 474.1,401.1 479.6,399.1 484.7,398.7z" fill="url(#d13)"/><path d="M473.6,402.8 468.4,403.1 474.1,401.1 479.2,400.8z" fill="url(#d14)"/><path d="M467.9,404.9 462.8,405.2 468.4,403.1 473.6,402.8z" fill="url(#d15)"/><path d="M462.1,406.9 457,407.2 462.8,405.2 467.9,404.9z" fill="url(#d16)"/><path d="M456.3,409 451.2,409.2 457,407.2 462.1,406.9z" fill="url(#d17)"/><path d="M450.4,411 445.3,411.2 451.2,409.2 456.3,409z" fill="url(#d18)"/><path d="M444.4,413.1 439.4,413.2 445.3,411.2 450.4,411z" fill="url(#d19)"/><path d="M438.4,415.1 433.3,415.2 439.4,413.2 444.4,413.1z" fill="url(#d20)"/><path d="M432.2,417.2 427.2,417.2 433.3,415.2 438.4,415.1z" fill="url(#d21)"/><path d="M426,419.2 421,419.2 427.2,417.2 432.2,417.2z" fill="url(#d22)"/><path d="M419.7,421.3 414.7,421.2 421,419.2 426,419.2z" fill="url(#d23)"/><path d="M532.2,382.7 526.9,382.1 531.9,380 537.2,380.7z" fill="url(#d24)"/><path d="M527.1,384.8 521.9,384.2 526.9,382.1 532.2,382.7z" fill="url(#d25)"/><path d="M522,386.9 516.7,386.3 521.9,384.2 527.1,384.8z" fill="url(#d26)"/><path d="M516.8,389 511.5,388.4 516.7,386.3 522,386.9z" fill="url(#d27)"/><path d="M511.5,391 506.3,390.4 511.5,388.4 516.8,389z" fill="url(#d28)"/><path d="M506.2,393.1 501,392.5 506.3,390.4 511.5,391z" fill="url(#d29)"/><path d="M500.9,395.2 495.6,394.6 501,392.5 506.2,393.1z" fill="url(#d30)"/><path d="M495.4,397.3 490.2,396.6 495.6,394.6 500.9,395.2z" fill="url(#d31)"/><path d="M490,399.4 484.7,398.7 490.2,396.6 495.4,397.3z" fill="url(#d32)"/><path d="M484.4,401.4 479.2,400.8 484.7,398.7 490,399.4z" fill="url(#d33)"/><path d="M478.8,403.5 473.6,402.8 479.2,400.8 484.4,401.4z" fill="url(#d34)"/><path d="M473.1,405.6 467.9,404.9 473.6,402.8 478.8,403.5z" fill="url(#d35)"/><path d="M467.3,407.7 462.1,406.9 467.9,404.9 473.1,405.6z" fill="url(#d36)"/><path d="M461.5,409.8 456.3,409 462.1,406.9 467.3,407.7z" fill="url(#d37)"/><path d="M455.6,411.9 450.4,411 456.3,409 461.5,409.8z" fill="url(#d38)"/><path d="M449.6,414 444.4,413.1 450.4,411 455.6,411.9z" fill="url(#d39)"/><path d="M443.5,416.1 438.4,415.1 444.4,413.1 449.6,414z" fill="url(#d40)"/><path d="M437.4,418.2 432.2,417.2 438.4,415.1 443.5,416.1z" fill="url(#d41)"/><path d="M431.2,420.3 426,419.2 432.2,417.2 437.4,418.2z" fill="url(#d42)"/><path d="M424.9,422.4 419.7,421.3 426,419.2 431.2,420.3z" fill="url(#d43)"/><path d="M537.5,384.4 532.2,382.7 537.2,380.7 542.5,382.3z" fill="url(#d44)"/><path d="M532.4,386.4 527.1,384.8 532.2,382.7 537.5,384.4z" fill="url(#d45)"/><path d="M527.3,388.5 522,386.9 527.1,384.8 532.4,386.4z" fill="url(#d46)"/><path d="M522.1,390.6 516.8,389 522,386.9 527.3,388.5z" fill="url(#d47)"/><path d="M516.9,392.7 511.5,391 516.8,389 522.1,390.6z" fill="url(#d48)"/><path d="M511.5,394.8 506.2,393.1 511.5,391 516.9,392.7z" fill="url(#d49)"/><path d="M506.2,396.9 500.9,395.2 506.2,393.1 511.5,394.8z" fill="url(#d50)"/><path d="M500.8,399 495.4,397.3 500.9,395.2 506.2,396.9z" fill="url(#d51)"/><path d="M495.3,401.1 490,399.4 495.4,397.3 500.8,399z" fill="url(#d52)"/><path d="M489.7,403.2 484.4,401.4 490,399.4 495.3,401.1z" fill="url(#d53)"/><path d="M484.1,405.3 478.8,403.5 484.4,401.4 489.7,403.2z" fill="url(#d54)"/><path d="M478.4,407.4 473.1,405.6 478.8,403.5 484.1,405.3z" fill="url(#d55)"/><path d="M472.6,409.5 467.3,407.7 473.1,405.6 478.4,407.4z" fill="url(#d56)"/><path d="M466.8,411.7 461.5,409.8 467.3,407.7 472.6,409.5z" fill="url(#d57)"/><path d="M460.8,413.8 455.6,411.9 461.5,409.8 466.8,411.7z" fill="url(#d58)"/><path d="M454.9,416 449.6,414 455.6,411.9 460.8,413.8z" fill="url(#d59)"/><path d="M448.8,418.1 443.5,416.1 449.6,414 454.9,416z" fill="url(#d60)"/><path d="M442.7,420.3 437.4,418.2 443.5,416.1 448.8,418.1z" fill="url(#d61)"/><path d="M436.4,422.4 431.2,420.3 437.4,418.2 442.7,420.3z" fill="url(#d62)"/><path d="M430.1,424.6 424.9,422.4 431.2,420.3 436.4,422.4z" fill="url(#d63)"/><path d="M542.8,387 537.5,384.4 542.5,382.3 547.8,385z" fill="#ff3a3a"/><path d="M537.8,389.1 532.4,386.4 537.5,384.4 542.8,387z" fill="#ff3939"/><path d="M532.6,391.2 527.3,388.5 532.4,386.4 537.8,389.1z" fill="#ff3838"/><path d="M527.5,393.3 522.1,390.6 527.3,388.5 532.6,391.2z" fill="#ff3838"/><path d="M522.2,395.4 516.9,392.7 522.1,390.6 527.5,393.3z" fill="#ff3737"/><path d="M516.9,397.5 511.5,394.8 516.9,392.7 522.2,395.4z" fill="#ff3737"/><path d="M511.5,399.6 506.2,396.9 511.5,394.8 516.9,397.5z" fill="#ff3636"/><path d="M506.1,401.7 500.8,399 506.2,396.9 511.5,399.6z" fill="#ff3535"/><path d="M500.6,403.8 495.3,401.1 500.8,399 506.1,401.7z" fill="#ff3535"/><path d="M495.1,406 489.7,403.2 495.3,401.1 500.6,403.8z" fill="#ff3434"/><path d="M489.4,408.1 484.1,405.3 489.7,403.2 495.1,406z" fill="#ff3434"/><path d="M483.7,410.3 478.4,407.4 484.1,405.3 489.4,408.1z" fill="#ff3333"/><path d="M478,412.4 472.6,409.5 478.4,407.4 483.7,410.3z" fill="#ff3232"/><path d="M472.1,414.6 466.8,411.7 472.6,409.5 478,412.4z" fill="#ff3232"/><path d="M466.2,416.8 460.8,413.8 466.8,411.7 472.1,414.6z" fill="#ff3131"/><path d="M460.2,419 454.9,416 460.8,413.8 466.2,416.8z" fill="#ff3131"/><path d="M454.2,421.2 448.8,418.1 454.9,416 460.2,419z" fill="#ff3030"/><path d="M448,423.4 442.7,420.3 448.8,418.1 454.2,421.2z" fill="#ff3030"/><path d="M441.8,425.6 436.4,422.4 442.7,420.3 448,423.4z" fill="#ff2f2f"/><path d="M435.5,427.9 430.1,424.6 436.4,422.4 441.8,425.6z" fill="#ff2f2f"/><path d="M548.2,390.7 542.8,387 547.8,385 553.2,388.7z" fill="url(#d64)"/><path d="M543.2,392.8 537.8,389.1 542.8,387 548.2,390.7z" fill="url(#d65)"/><path d="M538,394.9 532.6,391.2 537.8,389.1 543.2,392.8z" fill="url(#d66)"/><path d="M532.9,397 527.5,393.3 532.6,391.2 538,394.9z" fill="url(#d67)"/><path d="M527.6,399.1 522.2,395.4 527.5,393.3 532.9,397z" fill="url(#d68)"/><path d="M522.3,401.3 516.9,397.5 522.2,395.4 527.6,399.1z" fill="url(#d69)"/><path d="M517,403.4 511.5,399.6 516.9,397.5 522.3,401.3z" fill="url(#d70)"/><path d="M511.5,405.5 506.1,401.7 511.5,399.6 517,403.4z" fill="url(#d71)"/><path d="M506.1,407.7 500.6,403.8 506.1,401.7 511.5,405.5z" fill="url(#d72)"/><path d="M500.5,409.9 495.1,406 500.6,403.8 506.1,407.7z" fill="url(#d73)"/><path d="M494.9,412.1 489.4,408.1 495.1,406 500.5,409.9z" fill="url(#d74)"/><path d="M489.2,414.2 483.7,410.3 489.4,408.1 494.9,412.1z" fill="#ff3030"/><path d="M483.4,416.5 478,412.4 483.7,410.3 489.2,414.2z" fill="#ff2f2f"/><path d="M477.6,418.7 472.1,414.6 478,412.4 483.4,416.5z" fill="#ff2f2f"/><path d="M471.7,420.9 466.2,416.8 472.1,414.6 477.6,418.7z" fill="#ff2e2e"/><path d="M465.7,423.1 460.2,419 466.2,416.8 471.7,420.9z" fill="#ff2d2d"/><path d="M459.6,425.4 454.2,421.2 460.2,419 465.7,423.1z" fill="#ff2d2d"/><path d="M453.5,427.7 448,423.4 454.2,421.2 459.6,425.4z" fill="#ff2c2c"/><path d="M447.3,430 441.8,425.6 448,423.4 453.5,427.7z" fill="#ff2c2c"/><path d="M441,432.3 435.5,427.9 441.8,425.6 447.3,430z" fill="#ff2b2b"/><path d="M553.6,395.5 548.2,390.7 553.2,388.7 558.6,393.4z" fill="url(#d75)"/><path d="M548.6,397.6 543.2,392.8 548.2,390.7 553.6,395.5z" fill="url(#d76)"/><path d="M543.5,399.7 538,394.9 543.2,392.8 548.6,397.6z" fill="url(#d77)"/><path d="M538.3,401.8 532.9,397 538,394.9 543.5,399.7z" fill="url(#d78)"/><path d="M533.1,404 527.6,399.1 532.9,397 538.3,401.8z" fill="url(#d79)"/><path d="M527.8,406.1 522.3,401.3 527.6,399.1 533.1,404z" fill="url(#d80)"/><path d="M522.4,408.3 517,403.4 522.3,401.3 527.8,406.1z" fill="url(#d81)"/><path d="M517,410.5 511.5,405.5 517,403.4 522.4,408.3z" fill="url(#d82)"/><path d="M511.5,412.7 506.1,407.7 511.5,405.5 517,410.5z" fill="url(#d83)"/><path d="M506,414.9 500.5,409.9 506.1,407.7 511.5,412.7z" fill="url(#d84)"/><path d="M500.4,417.1 494.9,412.1 500.5,409.9 506,414.9z" fill="url(#d85)"/><path d="M494.7,419.3 489.2,414.2 494.9,412.1 500.4,417.1z" fill="url(#d86)"/><path d="M488.9,421.6 483.4,416.5 489.2,414.2 494.7,419.3z" fill="url(#d87)"/><path d="M483.1,423.9 477.6,418.7 483.4,416.5 488.9,421.6z" fill="url(#d88)"/><path d="M477.2,426.1 471.7,420.9 477.6,418.7 483.1,423.9z" fill="url(#d89)"/><path d="M471.2,428.4 465.7,423.1 471.7,420.9 477.2,426.1z" fill="url(#d90)"/><path d="M465.2,430.7 459.6,425.4 465.7,423.1 471.2,428.4z" fill="url(#d91)"/><path d="M459,433.1 453.5,427.7 459.6,425.4 465.2,430.7z" fill="url(#d92)"/><path d="M452.8,435.4 447.3,430 453.5,427.7 459,433.1z" fill="url(#d93)"/><path d="M446.5,437.8 441,432.3 447.3,430 452.8,435.4z" fill="url(#d94)"/><path d="M559.1,401.3 553.6,395.5 558.6,393.4 564.1,399.2z" fill="url(#d95)"/><path d="M554.1,403.5 548.6,397.6 553.6,395.5 559.1,401.3z" fill="url(#d96)"/><path d="M549,405.6 543.5,399.7 548.6,397.6 554.1,403.5z" fill="url(#d97)"/><path d="M543.8,407.8 538.3,401.8 543.5,399.7 549,405.6z" fill="url(#d98)"/><path d="M538.6,409.9 533.1,404 538.3,401.8 543.8,407.8z" fill="url(#d99)"/><path d="M533.3,412.1 527.8,406.1 533.1,404 538.6,409.9z" fill="url(#d100)"/><path d="M528,414.3 522.4,408.3 527.8,406.1 533.3,412.1z" fill="url(#d101)"/><path d="M522.6,416.5 517,410.5 522.4,408.3 528,414.3z" fill="url(#d102)"/><path d="M517.1,418.8 511.5,412.7 517,410.5 522.6,416.5z" fill="url(#d103)"/><path d="M511.5,421 506,414.9 511.5,412.7 517.1,418.8z" fill="url(#d104)"/><path d="M505.9,423.3 500.4,417.1 506,414.9 511.5,421z" fill="url(#d105)"/><path d="M500.3,425.6 494.7,419.3 500.4,417.1 505.9,423.3z" fill="url(#d106)"/><path d="M494.5,427.9 488.9,421.6 494.7,419.3 500.3,425.6z" fill="url(#d107)"/><path d="M488.7,430.2 483.1,423.9 488.9,421.6 494.5,427.9z" fill="url(#d108)"/><path d="M482.8,432.5 477.2,426.1 483.1,423.9 488.7,430.2z" fill="url(#d109)"/><path d="M476.8,434.9 471.2,428.4 477.2,426.1 482.8,432.5z" fill="url(#d110)"/><path d="M470.8,437.2 465.2,430.7 471.2,428.4 476.8,434.9z" fill="url(#d111)"/><path d="M464.7,439.6 459,433.1 465.2,430.7 470.8,437.2z" fill="url(#d112)"/><path d="M458.5,442 452.8,435.4 459,433.1 464.7,439.6z" fill="url(#d113)"/><path d="M452.2,444.5 446.5,437.8 452.8,435.4 458.5,442z" fill="url(#d114)"/><path d="M564.6,408.2 559.1,401.3 564.1,399.2 569.5,406.1z" fill="#ff160d"/><path d="M559.5,410.4 554.1,403.5 559.1,401.3 564.6,408.2z" fill="#ff160d"/><path d="M554.4,412.6 549,405.6 554.1,403.5 559.5,410.4z" fill="#ff150d"/><path d="M549.3,414.8 543.8,407.8 549,405.6 554.4,412.6z" fill="#ff150d"/><path d="M544.1,417 538.6,409.9 543.8,407.8 549.3,414.8z" fill="#ff150d"/><path d="M538.8,419.2 533.3,412.1 538.6,409.9 544.1,417z" fill="#ff150d"/><path d="M533.5,421.4 528,414.3 533.3,412.1 538.8,419.2z" fill="#ff150d"/><path d="M528.1,423.7 522.6,416.5 528,414.3 533.5,421.4z" fill="#ff140d"/><path d="M522.7,426 517.1,418.8 522.6,416.5 528.1,423.7z" fill="#ff140d"/><path d="M517.1,428.3 511.5,421 517.1,418.8 522.7,426z" fill="#ff130d"/><path d="M511.5,430.6 505.9,423.3 511.5,421 517.1,428.3z" fill="#ff130d"/><path d="M505.9,432.9 500.3,425.6 505.9,423.3 511.5,430.6z" fill="#ff120d"/><path d="M500.2,435.3 494.5,427.9 500.3,425.6 505.9,432.9z" fill="#ff120d"/><path d="M494.4,437.6 488.7,430.2 494.5,427.9 500.2,435.3z" fill="#ff110d"/><path d="M488.5,440 482.8,432.5 488.7,430.2 494.4,437.6z" fill="#ff100d"/><path d="M482.5,442.4 476.8,434.9 482.8,432.5 488.5,440z" fill="#ff0f0c"/><path d="M476.5,444.9 470.8,437.2 476.8,434.9 482.5,442.4z" fill="#ff0e0c"/><path d="M470.4,447.3 464.7,439.6 470.8,437.2 476.5,444.9z" fill="#ff0d0c"/><path d="M464.2,449.8 458.5,442 464.7,439.6 470.4,447.3z" fill="#ff0c0c"/><path d="M457.9,452.3 452.2,444.5 458.5,442 464.2,449.8z" fill="#ff0c0c"/><path d="M570,416.2 564.6,408.2 569.5,406.1 575,414z" fill="url(#d115)"/><path d="M565,418.4 559.5,410.4 564.6,408.2 570,416.2z" fill="url(#d116)"/><path d="M559.9,420.6 554.4,412.6 559.5,410.4 565,418.4z" fill="url(#d117)"/><path d="M554.8,422.9 549.3,414.8 554.4,412.6 559.9,420.6z" fill="url(#d118)"/><path d="M549.6,425.1 544.1,417 549.3,414.8 554.8,422.9z" fill="url(#d119)"/><path d="M544.4,427.4 538.8,419.2 544.1,417 549.6,425.1z" fill="url(#d120)"/><path d="M539.1,429.7 533.5,421.4 538.8,419.2 544.4,427.4z" fill="url(#d121)"/><path d="M533.7,432 528.1,423.7 533.5,421.4 539.1,429.7z" fill="url(#d122)"/><path d="M528.3,434.3 522.7,426 528.1,423.7 533.7,432z" fill="url(#d123)"/><path d="M522.8,436.7 517.1,428.3 522.7,426 528.3,434.3z" fill="url(#d124)"/><path d="M517.2,439 511.5,430.6 517.1,428.3 522.8,436.7z" fill="url(#d125)"/><path d="M511.5,441.4 505.9,432.9 511.5,430.6 517.2,439z" fill="url(#d126)"/><path d="M505.8,443.8 500.2,435.3 505.9,432.9 511.5,441.4z" fill="url(#d127)"/><path d="M500,446.3 494.4,437.6 500.2,435.3 505.8,443.8z" fill="url(#d128)"/><path d="M494.2,448.7 488.5,440 494.4,437.6 500,446.3z" fill="url(#d129)"/><path d="M488.3,451.2 482.5,442.4 488.5,440 494.2,448.7z" fill="url(#d130)"/><path d="M482.2,453.7 476.5,444.9 482.5,442.4 488.3,451.2z" fill="url(#d131)"/><path d="M476.2,456.2 470.4,447.3 476.5,444.9 482.2,453.7z" fill="url(#d132)"/><path d="M470,458.8 464.2,449.8 470.4,447.3 476.2,456.2z" fill="url(#d133)"/><path d="M463.7,461.3 457.9,452.3 464.2,449.8 470,458.8z" fill="url(#d134)"/><path d="M575.5,425.2 570,416.2 575,414 580.4,423z" fill="url(#d135)"/><path d="M570.5,427.5 565,418.4 570,416.2 575.5,425.2z" fill="url(#d136)"/><path d="M565.4,429.8 559.9,420.6 565,418.4 570.5,427.5z" fill="url(#d137)"/><path d="M560.3,432.1 554.8,422.9 559.9,420.6 565.4,429.8z" fill="url(#d138)"/><path d="M555.2,434.4 549.6,425.1 554.8,422.9 560.3,432.1z" fill="url(#d139)"/><path d="M550,436.7 544.4,427.4 549.6,425.1 555.2,434.4z" fill="url(#d140)"/><path d="M544.7,439 539.1,429.7 544.4,427.4 550,436.7z" fill="url(#d141)"/><path d="M539.3,441.4 533.7,432 539.1,429.7 544.7,439z" fill="url(#d142)"/><path d="M533.9,443.8 528.3,434.3 533.7,432 539.3,441.4z" fill="url(#d143)"/><path d="M528.4,446.2 522.8,436.7 528.3,434.3 533.9,443.8z" fill="url(#d144)"/><path d="M522.9,448.6 517.2,439 522.8,436.7 528.4,446.2z" fill="url(#d145)"/><path d="M517.2,451.1 511.5,441.4 517.2,439 522.9,448.6z" fill="url(#d146)"/><path d="M511.5,453.6 505.8,443.8 511.5,441.4 517.2,451.1z" fill="url(#d147)"/><path d="M505.8,456.1 500,446.3 505.8,443.8 511.5,453.6z" fill="url(#d148)"/><path d="M499.9,458.6 494.2,448.7 500,446.3 505.8,456.1z" fill="url(#d149)"/><path d="M494,461.1 488.3,451.2 494.2,448.7 499.9,458.6z" fill="url(#d150)"/><path d="M488,463.7 482.2,453.7 488.3,451.2 494,461.1z" fill="url(#d151)"/><path d="M482,466.3 476.2,456.2 482.2,453.7 488,463.7z" fill="url(#d152)"/><path d="M475.8,468.9 470,458.8 476.2,456.2 482,466.3z" fill="url(#d153)"/><path d="M469.6,471.5 463.7,461.3 470,458.8 475.8,468.9z" fill="url(#d154)"/><path d="M580.9,435.4 575.5,425.2 580.4,423 585.8,433.1z" fill="url(#d155)"/><path d="M576,437.7 570.5,427.5 575.5,425.2 580.9,435.4z" fill="url(#d156)"/><path d="M570.9,440 565.4,429.8 570.5,427.5 576,437.7z" fill="url(#d157)"/><path d="M565.9,442.4 560.3,432.1 565.4,429.8 570.9,440z" fill="url(#d158)"/><path d="M560.7,444.7 555.2,434.4 560.3,432.1 565.9,442.4z" fill="url(#d159)"/><path d="M555.5,447.1 550,436.7 555.2,434.4 560.7,444.7z" fill="url(#d160)"/><path d="M550.3,449.5 544.7,439 550,436.7 555.5,447.1z" fill="url(#d161)"/><path d="M544.9,452 539.3,441.4 544.7,439 550.3,449.5z" fill="url(#d162)"/><path d="M539.5,454.4 533.9,443.8 539.3,441.4 544.9,452z" fill="url(#d163)"/><path d="M534.1,456.9 528.4,446.2 533.9,443.8 539.5,454.4z" fill="url(#d164)"/><path d="M528.6,459.4 522.9,448.6 528.4,446.2 534.1,456.9z" fill="url(#d165)"/><path d="M523,461.9 517.2,451.1 522.9,448.6 528.6,459.4z" fill="url(#d166)"/><path d="M517.3,464.5 511.5,453.6 517.2,451.1 523,461.9z" fill="url(#d167)"/><path d="M511.5,467 505.8,456.1 511.5,453.6 517.3,464.5z" fill="url(#d168)"/><path d="M505.7,469.6 499.9,458.6 505.8,456.1 511.5,467z" fill="url(#d169)"/><path d="M499.9,472.2 494,461.1 499.9,458.6 505.7,469.6z" fill="url(#d170)"/><path d="M493.9,474.9 488,463.7 494,461.1 499.9,472.2z" fill="url(#d171)"/><path d="M487.8,477.5 482,466.3 488,463.7 493.9,474.9z" fill="url(#d172)"/><path d="M481.7,480.2 475.8,468.9 482,466.3 487.8,477.5z" fill="url(#d173)"/><path d="M475.5,482.9 469.6,471.5 475.8,468.9 481.7,480.2z" fill="url(#d174)"/><path d="M586.4,446.5 580.9,435.4 585.8,433.1 591.2,444.2z" fill="url(#d175)"/><path d="M581.4,448.9 576,437.7 580.9,435.4 586.4,446.5z" fill="url(#d176)"/><path d="M576.4,451.3 570.9,440 576,437.7 581.4,448.9z" fill="url(#d177)"/><path d="M571.4,453.8 565.9,442.4 570.9,440 576.4,451.3z" fill="url(#d178)"/><path d="M566.3,456.2 560.7,444.7 565.9,442.4 571.4,453.8z" fill="url(#d179)"/><path d="M561.1,458.7 555.5,447.1 560.7,444.7 566.3,456.2z" fill="url(#d180)"/><path d="M555.8,461.2 550.3,449.5 555.5,447.1 561.1,458.7z" fill="url(#d181)"/><path d="M550.5,463.7 544.9,452 550.3,449.5 555.8,461.2z" fill="url(#d182)"/><path d="M545.2,466.2 539.5,454.4 544.9,452 550.5,463.7z" fill="url(#d183)"/><path d="M539.7,468.7 534.1,456.9 539.5,454.4 545.2,466.2z" fill="url(#d184)"/><path d="M534.2,471.3 528.6,459.4 534.1,456.9 539.7,468.7z" fill="url(#d185)"/><path d="M528.7,473.9 523,461.9 528.6,459.4 534.2,471.3z" fill="url(#d186)"/><path d="M523,476.5 517.3,464.5 523,461.9 528.7,473.9z" fill="url(#d187)"/><path d="M517.3,479.2 511.5,467 517.3,464.5 523,476.5z" fill="url(#d188)"/><path d="M511.5,481.8 505.7,469.6 511.5,467 517.3,479.2z" fill="url(#d189)"/><path d="M505.7,484.5 499.9,472.2 505.7,469.6 511.5,481.8z" fill="url(#d190)"/><path d="M499.8,487.2 493.9,474.9 499.9,472.2 505.7,484.5z" fill="url(#d191)"/><path d="M493.7,490 487.8,477.5 493.9,474.9 499.8,487.2z" fill="url(#d192)"/><path d="M487.7,492.7 481.7,480.2 487.8,477.5 493.7,490z" fill="url(#d193)"/><path d="M481.5,495.5 475.5,482.9 481.7,480.2 487.7,492.7z" fill="url(#d194)"/><path d="M591.7,458.8 586.4,446.5 591.2,444.2 596.6,456.3z" fill="url(#d195)"/><path d="M586.8,461.2 581.4,448.9 586.4,446.5 591.7,458.8z" fill="url(#d196)"/><path d="M581.9,463.7 576.4,451.3 581.4,448.9 586.8,461.2z" fill="url(#d197)"/><path d="M576.8,466.3 571.4,453.8 576.4,451.3 581.9,463.7z" fill="url(#d198)"/><path d="M571.8,468.8 566.3,456.2 571.4,453.8 576.8,466.3z" fill="url(#d199)"/><path d="M566.6,471.3 561.1,458.7 566.3,456.2 571.8,468.8z" fill="url(#d200)"/><path d="M561.4,473.9 555.8,461.2 561.1,458.7 566.6,471.3z" fill="url(#d201)"/><path d="M556.1,476.5 550.5,463.7 555.8,461.2 561.4,473.9z" fill="url(#d202)"/><path d="M550.8,479.1 545.2,466.2 550.5,463.7 556.1,476.5z" fill="url(#d203)"/><path d="M545.4,481.7 539.7,468.7 545.2,466.2 550.8,479.1z" fill="url(#d204)"/><path d="M539.9,484.4 534.2,471.3 539.7,468.7 545.4,481.7z" fill="url(#d205)"/><path d="M534.4,487.1 528.7,473.9 534.2,471.3 539.9,484.4z" fill="url(#d206)"/><path d="M528.8,489.8 523,476.5 528.7,473.9 534.4,487.1z" fill="url(#d207)"/><path d="M523.1,492.5 517.3,479.2 523,476.5 528.8,489.8z" fill="url(#d208)"/><path d="M517.4,495.2 511.5,481.8 517.3,479.2 523.1,492.5z" fill="url(#d209)"/><path d="M511.5,498 505.7,484.5 511.5,481.8 517.4,495.2z" fill="url(#d210)"/><path d="M505.6,500.8 499.8,487.2 505.7,484.5 511.5,498z" fill="url(#d211)"/><path d="M499.7,503.6 493.7,490 499.8,487.2 505.6,500.8z" fill="url(#d212)"/><path d="M493.6,506.4 487.7,492.7 493.7,490 499.7,503.6z" fill="url(#d213)"/><path d="M487.5,509.3 481.5,495.5 487.7,492.7 493.6,506.4z" fill="url(#d214)"/><path d="M597.1,472.1 591.7,458.8 596.6,456.3 601.9,469.5z" fill="url(#d215)"/><path d="M592.2,474.6 586.8,461.2 591.7,458.8 597.1,472.1z" fill="url(#d216)"/><path d="M587.3,477.2 581.9,463.7 586.8,461.2 592.2,474.6z" fill="url(#d217)"/><path d="M582.3,479.9 576.8,466.3 581.9,463.7 587.3,477.2z" fill="url(#d218)"/><path d="M577.2,482.5 571.8,468.8 576.8,466.3 582.3,479.9z" fill="url(#d219)"/><path d="M572.1,485.1 566.6,471.3 571.8,468.8 577.2,482.5z" fill="url(#d220)"/><path d="M567,487.8 561.4,473.9 566.6,471.3 572.1,485.1z" fill="url(#d221)"/><path d="M561.7,490.5 556.1,476.5 561.4,473.9 567,487.8z" fill="url(#d222)"/><path d="M556.4,493.2 550.8,479.1 556.1,476.5 561.7,490.5z" fill="url(#d223)"/><path d="M551.1,495.9 545.4,481.7 550.8,479.1 556.4,493.2z" fill="url(#d224)"/><path d="M545.6,498.7 539.9,484.4 545.4,481.7 551.1,495.9z" fill="url(#d225)"/><path d="M540.1,501.4 534.4,487.1 539.9,484.4 545.6,498.7z" fill="url(#d226)"/><path d="M534.6,504.2 528.8,489.8 534.4,487.1 540.1,501.4z" fill="url(#d227)"/><path d="M528.9,507 523.1,492.5 528.8,489.8 534.6,504.2z" fill="url(#d228)"/><path d="M523.2,509.8 517.4,495.2 523.1,492.5 528.9,507z" fill="url(#d229)"/><path d="M517.4,512.6 511.5,498 517.4,495.2 523.2,509.8z" fill="url(#d230)"/><path d="M511.5,515.5 505.6,500.8 511.5,498 517.4,512.6z" fill="url(#d231)"/><path d="M505.6,518.4 499.7,503.6 505.6,500.8 511.5,515.5z" fill="url(#d232)"/><path d="M499.6,521.3 493.6,506.4 499.7,503.6 505.6,518.4z" fill="url(#d233)"/><path d="M493.5,524.2 487.5,509.3 493.6,506.4 499.6,521.3z" fill="url(#d234)"/><path d="M602.4,486.4 597.1,472.1 601.9,469.5 607.2,483.7z" fill="url(#d235)"/><path d="M597.6,489.1 592.2,474.6 597.1,472.1 602.4,486.4z" fill="url(#d236)"/><path d="M592.7,491.9 587.3,477.2 592.2,474.6 597.6,489.1z" fill="url(#d237)"/><path d="M587.7,494.6 582.3,479.9 587.3,477.2 592.7,491.9z" fill="url(#d238)"/><path d="M582.7,497.4 577.2,482.5 582.3,479.9 587.7,494.6z" fill="url(#d239)"/><path d="M577.6,500.1 572.1,485.1 577.2,482.5 582.7,497.4z" fill="url(#d240)"/><path d="M572.5,502.9 567,487.8 572.1,485.1 577.6,500.1z" fill="url(#d241)"/><path d="M567.3,505.7 561.7,490.5 567,487.8 572.5,502.9z" fill="url(#d242)"/><path d="M562,508.5 556.4,493.2 561.7,490.5 567.3,505.7z" fill="url(#d243)"/><path d="M556.7,511.3 551.1,495.9 556.4,493.2 562,508.5z" fill="url(#d244)"/><path d="M551.3,514.2 545.6,498.7 551.1,495.9 556.7,511.3z" fill="url(#d245)"/><path d="M545.8,517 540.1,501.4 545.6,498.7 551.3,514.2z" fill="url(#d246)"/><path d="M540.3,519.9 534.6,504.2 540.1,501.4 545.8,517z" fill="url(#d247)"/><path d="M534.7,522.7 528.9,507 534.6,504.2 540.3,519.9z" fill="url(#d248)"/><path d="M529,525.6 523.2,509.8 528.9,507 534.7,522.7z" fill="url(#d249)"/><path d="M523.3,528.5 517.4,512.6 523.2,509.8 529,525.6z" fill="url(#d250)"/><path d="M517.4,531.4 511.5,515.5 517.4,512.6 523.3,528.5z" fill="url(#d251)"/><path d="M511.5,534.4 505.6,518.4 511.5,515.5 517.4,531.4z" fill="url(#d252)"/><path d="M505.6,537.3 499.6,521.3 505.6,518.4 511.5,534.4z" fill="url(#d253)"/><path d="M499.5,540.3 493.5,524.2 499.6,521.3 505.6,537.3z" fill="url(#d254)"/><path d="M607.7,501.8 602.4,486.4 607.2,483.7 612.4,498.8z" fill="url(#d255)"/><path d="M602.8,504.7 597.6,489.1 602.4,486.4 607.7,501.8z" fill="url(#d256)"/><path d="M598,507.6 592.7,491.9 597.6,489.1 602.8,504.7z" fill="url(#d257)"/><path d="M593,510.5 587.7,494.6 592.7,491.9 598,507.6z" fill="url(#d258)"/><path d="M588.1,513.5 582.7,497.4 587.7,494.6 593,510.5z" fill="url(#d259)"/><path d="M583,516.4 577.6,500.1 582.7,497.4 588.1,513.5z" fill="url(#d260)"/><path d="M577.9,519.3 572.5,502.9 577.6,500.1 583,516.4z" fill="url(#d261)"/><path d="M572.8,522.2 567.3,505.7 572.5,502.9 577.9,519.3z" fill="url(#d262)"/><path d="M567.5,525.2 562,508.5 567.3,505.7 572.8,522.2z" fill="url(#d263)"/><path d="M562.2,528.1 556.7,511.3 562,508.5 567.5,525.2z" fill="url(#d264)"/><path d="M556.9,531 551.3,514.2 556.7,511.3 562.2,528.1z" fill="url(#d265)"/><path d="M551.5,534 545.8,517 551.3,514.2 556.9,531z" fill="url(#d266)"/><path d="M546,536.9 540.3,519.9 545.8,517 551.5,534z" fill="url(#d267)"/><path d="M540.4,539.8 534.7,522.7 540.3,519.9 546,536.9z" fill="url(#d268)"/><path d="M534.8,542.8 529,525.6 534.7,522.7 540.4,539.8z" fill="url(#d269)"/><path d="M529.1,545.7 523.3,528.5 529,525.6 534.8,542.8z" fill="url(#d270)"/><path d="M523.3,548.7 517.4,531.4 523.3,528.5 529.1,545.7z" fill="url(#d271)"/><path d="M517.5,551.6 511.5,534.4 517.4,531.4 523.3,548.7z" fill="url(#d272)"/><path d="M511.5,554.6 505.6,537.3 511.5,534.4 517.5,551.6z" fill="url(#d273)"/><path d="M505.5,557.5 499.5,540.3 505.6,537.3 511.5,554.6z" fill="url(#d274)"/><path d="M612.8,518.2 607.7,501.8 612.4,498.8 617.6,515z" fill="url(#d275)"/><path d="M608,521.4 602.8,504.7 607.7,501.8 612.8,518.2z" fill="url(#d276)"/><path d="M603.2,524.6 598,507.6 602.8,504.7 608,521.4z" fill="url(#d277)"/><path d="M598.3,527.8 593,510.5 598,507.6 603.2,524.6z" fill="url(#d278)"/><path d="M593.4,530.9 588.1,513.5 593,510.5 598.3,527.8z" fill="url(#d279)"/><path d="M588.4,534.1 583,516.4 588.1,513.5 593.4,530.9z" fill="url(#d280)"/><path d="M583.3,537.2 577.9,519.3 583,516.4 588.4,534.1z" fill="url(#d281)"/><path d="M578.2,540.3 572.8,522.2 577.9,519.3 583.3,537.2z" fill="url(#d282)"/><path d="M573,543.4 567.5,525.2 572.8,522.2 578.2,540.3z" fill="url(#d283)"/><path d="M567.7,546.4 562.2,528.1 567.5,525.2 573,543.4z" fill="url(#d284)"/><path d="M562.4,549.4 556.9,531 562.2,528.1 567.7,546.4z" fill="url(#d285)"/><path d="M557.1,552.5 551.5,534 556.9,531 562.4,549.4z" fill="url(#d286)"/><path d="M551.6,555.5 546,536.9 551.5,534 557.1,552.5z" fill="url(#d287)"/><path d="M546.1,558.4 540.4,539.8 546,536.9 551.6,555.5z" fill="url(#d288)"/><path d="M540.6,561.4 534.8,542.8 540.4,539.8 546.1,558.4z" fill="url(#d289)"/><path d="M534.9,564.3 529.1,545.7 534.8,542.8 540.6,561.4z" fill="url(#d290)"/><path d="M529.2,567.2 523.3,548.7 529.1,545.7 534.9,564.3z" fill="url(#d291)"/><path d="M523.4,570.1 517.5,551.6 523.3,548.7 529.2,567.2z" fill="url(#d292)"/><path d="M517.5,573 511.5,554.6 517.5,551.6 523.4,570.1z" fill="url(#d293)"/><path d="M511.5,575.8 505.5,557.5 511.5,554.6 517.5,573z" fill="url(#d294)"/></g>

<circle cx="400.4" cy="426.6" r="2.3" fill="#b20000" stroke="#4a0000" stroke-width="0.55"/>
<path d="M471,458.8 L471,472" stroke="#333" stroke-width="0.55"/>
<circle cx="471" cy="458.8" r="2.3" fill="#b20000" stroke="#4a0000" stroke-width="0.55"/>
<path d="M459.1,404.8 L459.1,408" stroke="#333" stroke-width="0.55"/>
<circle cx="459.1" cy="404.8" r="2.3" fill="#b20000" stroke="#4a0000" stroke-width="0.55"/>
<path d="M511.6,385.1 L511.6,387.5" stroke="#333" stroke-width="0.55"/>
<circle cx="511.6" cy="385.1" r="2.3" fill="#b20000" stroke="#4a0000" stroke-width="0.55"/>
<path d="M582.7,411.6 L582.7,424" stroke="#333" stroke-width="0.55"/>
<circle cx="582.7" cy="411.6" r="2.3" fill="#b20000" stroke="#4a0000" stroke-width="0.55"/>
<circle cx="567.1" cy="349.3" r="2.25" fill="#a00000" stroke="#2a0000" stroke-width="0.8"/>
<circle cx="567.1" cy="364.2" r="2.25" fill="#ffc9cf" stroke="#2a1010" stroke-width="0.8"/>
<path d="M664.4,449.9 L673.3,449.9 L675.4,508.7 L666.5,508.7 Z" fill="url(#cb)" stroke="#1c1c1c" stroke-width="1"/></g>
<g stroke="#111" stroke-width="0.12"><text x="45.8" y="181.5" font-size="9.4" text-anchor="end">0</text>
<text x="44.6" y="162" font-size="9.4" text-anchor="end">20</text>
<text x="43.5" y="142.5" font-size="9.4" text-anchor="end">40</text>
<text x="42.4" y="123" font-size="9.4" text-anchor="end">60</text>
<text x="41.3" y="103.5" font-size="9.4" text-anchor="end">80</text>
<text x="40.2" y="84" font-size="9.4" text-anchor="end">100</text>
<text x="39" y="64.5" font-size="9.4" text-anchor="end">120</text>
<text x="151.6" y="296.2" font-size="9.4" text-anchor="end">0</text>
<text x="130.9" y="282.9" font-size="9.4" text-anchor="end">3</text>
<text x="110.2" y="269.6" font-size="9.4" text-anchor="end">6</text>
<text x="89.4" y="256.4" font-size="9.4" text-anchor="end">9</text>
<text x="68.7" y="243.1" font-size="9.4" text-anchor="end">12</text>
<text x="47.9" y="229.8" font-size="9.4" text-anchor="end">15</text>
<text x="161.2" y="296.2" font-size="9.4" text-anchor="start">45</text>
<text x="182" y="282.9" font-size="9.4" text-anchor="start">54</text>
<text x="202.7" y="269.6" font-size="9.4" text-anchor="start">63</text>
<text x="223.5" y="256.4" font-size="9.4" text-anchor="start">72</text>
<text x="244.2" y="243.1" font-size="9.4" text-anchor="start">81</text>
<text x="265" y="229.8" font-size="9.4" text-anchor="start">90</text>
<text x="10.9" y="282" font-size="9.8" textLength="111.5" lengthAdjust="spacingAndGlyphs">Seawater concentration (%)</text>
<text x="207.1" y="282.1" font-size="9.8" textLength="84.3" lengthAdjust="spacingAndGlyphs">Retention time (min)</text>
<text transform="translate(15.3,145.7) rotate(-90)" font-size="9.8" text-anchor="middle" textLength="144.5" lengthAdjust="spacingAndGlyphs">Removal efficiency of TSS (%)</text>
<text x="0" y="304.6" font-size="18.4" stroke="none">(a)</text>
<text x="214.1" y="12.7" font-size="10" fill="#a0141e" stroke="#a0141e" stroke-width="0.06" textLength="100.6" lengthAdjust="spacingAndGlyphs">Design points above predicted value</text>
<text x="214.1" y="27.9" font-size="10" fill="#a0141e" stroke="#a0141e" stroke-width="0.06" textLength="100.6" lengthAdjust="spacingAndGlyphs">Design points below predicted value</text>
<text x="312.8" y="107.7" font-size="8.6" font-weight="bold" fill="#e01010" stroke="none" text-anchor="middle">99.52</text>
<text x="315.6" y="189.9" font-size="8.6" font-weight="bold" fill="#2f86c8" stroke="none" text-anchor="middle">0</text>
<text x="399.8" y="181" font-size="9.4" text-anchor="end">20</text>
<text x="398.4" y="157.6" font-size="9.4" text-anchor="end">40</text>
<text x="397.1" y="134.2" font-size="9.4" text-anchor="end">60</text>
<text x="395.7" y="110.8" font-size="9.4" text-anchor="end">80</text>
<text x="394.4" y="87.4" font-size="9.4" text-anchor="end">100</text>
<text x="393" y="64" font-size="9.4" text-anchor="end">120</text>
<text x="505.6" y="295.7" font-size="9.4" text-anchor="end">0</text>
<text x="484.9" y="282.5" font-size="9.4" text-anchor="end">3</text>
<text x="464.2" y="269.2" font-size="9.4" text-anchor="end">6</text>
<text x="443.4" y="255.9" font-size="9.4" text-anchor="end">9</text>
<text x="422.7" y="242.7" font-size="9.4" text-anchor="end">12</text>
<text x="401.9" y="229.4" font-size="9.4" text-anchor="end">15</text>
<text x="515.2" y="295.7" font-size="9.4" text-anchor="start">45</text>
<text x="536" y="282.5" font-size="9.4" text-anchor="start">54</text>
<text x="556.7" y="269.2" font-size="9.4" text-anchor="start">63</text>
<text x="577.5" y="255.9" font-size="9.4" text-anchor="start">72</text>
<text x="598.2" y="242.7" font-size="9.4" text-anchor="start">81</text>
<text x="619" y="229.4" font-size="9.4" text-anchor="start">90</text>
<text x="363.1" y="281.9" font-size="9.8" textLength="111.5" lengthAdjust="spacingAndGlyphs">Seawater concentration (%)</text>
<text x="561.1" y="281.7" font-size="9.8" textLength="84.3" lengthAdjust="spacingAndGlyphs">Retention time (min)</text>
<text transform="translate(368.9,146.4) rotate(-90)" font-size="9.8" text-anchor="middle" textLength="161.2" lengthAdjust="spacingAndGlyphs">Removal efficiency of turbidity (%)</text>
<text x="355.8" y="304.6" font-size="18.4" stroke="none">(b)</text>
<text x="568.6" y="12.5" font-size="10" fill="#a0141e" stroke="#a0141e" stroke-width="0.06" textLength="100.6" lengthAdjust="spacingAndGlyphs">Design points above predicted value</text>
<text x="568.6" y="27.8" font-size="10" fill="#a0141e" stroke="#a0141e" stroke-width="0.06" textLength="100.6" lengthAdjust="spacingAndGlyphs">Design points below predicted value</text>
<text x="667.6" y="107.5" font-size="8.6" font-weight="bold" fill="#e01010" stroke="none" text-anchor="middle">99.30</text>
<text x="670.2" y="190.2" font-size="8.6" font-weight="bold" fill="#2f86c8" stroke="none" text-anchor="middle">28.67</text>
<text x="45.6" y="516.1" font-size="9.4" text-anchor="end">0</text>
<text x="44.2" y="492.7" font-size="9.4" text-anchor="end">10</text>
<text x="42.9" y="469.3" font-size="9.4" text-anchor="end">20</text>
<text x="41.5" y="445.9" font-size="9.4" text-anchor="end">30</text>
<text x="40.2" y="422.5" font-size="9.4" text-anchor="end">40</text>
<text x="38.8" y="399.1" font-size="9.4" text-anchor="end">50</text>
<text x="151.4" y="630.8" font-size="9.4" text-anchor="end">0</text>
<text x="130.7" y="617.6" font-size="9.4" text-anchor="end">3</text>
<text x="110" y="604.3" font-size="9.4" text-anchor="end">6</text>
<text x="89.2" y="591" font-size="9.4" text-anchor="end">9</text>
<text x="68.5" y="577.8" font-size="9.4" text-anchor="end">12</text>
<text x="47.7" y="564.5" font-size="9.4" text-anchor="end">15</text>
<text x="161" y="630.8" font-size="9.4" text-anchor="start">45</text>
<text x="181.8" y="617.6" font-size="9.4" text-anchor="start">54</text>
<text x="202.5" y="604.3" font-size="9.4" text-anchor="start">63</text>
<text x="223.3" y="591" font-size="9.4" text-anchor="start">72</text>
<text x="244" y="577.8" font-size="9.4" text-anchor="start">81</text>
<text x="264.8" y="564.5" font-size="9.4" text-anchor="start">90</text>
<text x="9.5" y="616.6" font-size="9.8" textLength="111.5" lengthAdjust="spacingAndGlyphs">Seawater concentration (%)</text>
<text x="204.9" y="616.7" font-size="9.8" textLength="84.3" lengthAdjust="spacingAndGlyphs">Retention time (min)</text>
<text transform="translate(14.7,482.8) rotate(-90)" font-size="9.8" text-anchor="middle" textLength="142.6" lengthAdjust="spacingAndGlyphs">Removal efficiency of COD (%)</text>
<text x="4.4" y="646.8" font-size="18.4" stroke="none">(c)</text>
<text x="217.5" y="352.6" font-size="10" fill="#a0141e" stroke="#a0141e" stroke-width="0.06" textLength="100.6" lengthAdjust="spacingAndGlyphs">Design points above predicted value</text>
<text x="217.5" y="367.5" font-size="10" fill="#a0141e" stroke="#a0141e" stroke-width="0.06" textLength="100.6" lengthAdjust="spacingAndGlyphs">Design points below predicted value</text>
<text x="313.5" y="442.4" font-size="8.6" font-weight="bold" fill="#e01010" stroke="none" text-anchor="middle">47.26</text>
<text x="315.9" y="524.7" font-size="8.6" font-weight="bold" fill="#2f86c8" stroke="none" text-anchor="middle">6.5</text>
<text x="400.9" y="517.1" font-size="9.4" text-anchor="end">0</text>
<text x="399.7" y="497.6" font-size="9.4" text-anchor="end">20</text>
<text x="398.6" y="478.1" font-size="9.4" text-anchor="end">40</text>
<text x="397.5" y="458.6" font-size="9.4" text-anchor="end">60</text>
<text x="396.4" y="439.1" font-size="9.4" text-anchor="end">80</text>
<text x="395.3" y="419.6" font-size="9.4" text-anchor="end">100</text>
<text x="394.1" y="400.1" font-size="9.4" text-anchor="end">120</text>
<text x="506.7" y="631.8" font-size="9.4" text-anchor="end">0</text>
<text x="486" y="618.5" font-size="9.4" text-anchor="end">3</text>
<text x="465.3" y="605.2" font-size="9.4" text-anchor="end">6</text>
<text x="444.5" y="592" font-size="9.4" text-anchor="end">9</text>
<text x="423.8" y="578.7" font-size="9.4" text-anchor="end">12</text>
<text x="403" y="565.4" font-size="9.4" text-anchor="end">15</text>
<text x="516.3" y="631.8" font-size="9.4" text-anchor="start">45</text>
<text x="537.1" y="618.5" font-size="9.4" text-anchor="start">54</text>
<text x="557.8" y="605.2" font-size="9.4" text-anchor="start">63</text>
<text x="578.6" y="592" font-size="9.4" text-anchor="start">72</text>
<text x="599.3" y="578.7" font-size="9.4" text-anchor="start">81</text>
<text x="620.1" y="565.4" font-size="9.4" text-anchor="start">90</text>
<text x="364.6" y="618" font-size="9.8" textLength="111.5" lengthAdjust="spacingAndGlyphs">Seawater concentration (%)</text>
<text x="562.1" y="617.7" font-size="9.8" textLength="84.3" lengthAdjust="spacingAndGlyphs">Retention time (min)</text>
<text transform="translate(370.6,482.6) rotate(-90)" font-size="9.8" text-anchor="middle" textLength="145.1" lengthAdjust="spacingAndGlyphs">Removal efficiency of color (%)</text>
<text x="360.2" y="647.5" font-size="18.4" stroke="none">(d)</text>
<text x="573.3" y="352.6" font-size="10" fill="#a0141e" stroke="#a0141e" stroke-width="0.06" textLength="100.6" lengthAdjust="spacingAndGlyphs">Design points above predicted value</text>
<text x="573.3" y="367.5" font-size="10" fill="#a0141e" stroke="#a0141e" stroke-width="0.06" textLength="100.6" lengthAdjust="spacingAndGlyphs">Design points below predicted value</text>
<text x="668.8" y="442.4" font-size="8.6" font-weight="bold" fill="#e01010" stroke="none" text-anchor="middle">98.19</text>
<text x="672.1" y="524.7" font-size="8.6" font-weight="bold" fill="#2f86c8" stroke="none" text-anchor="middle">1.35</text></g>
</svg>
</body></html>
